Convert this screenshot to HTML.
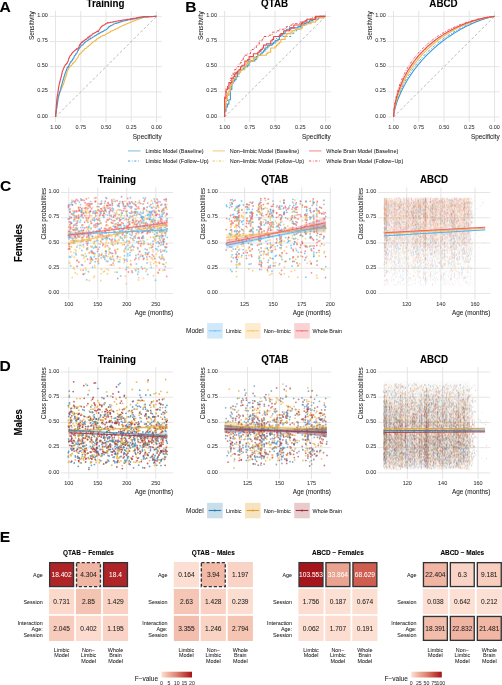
<!DOCTYPE html>
<html><head><meta charset="utf-8"><style>
html,body{margin:0;padding:0;background:#fff;width:502px;height:685px;overflow:hidden}
svg{display:block;font-family:"Liberation Sans", sans-serif}
</style></head><body>
<div style="will-change:transform;filter:blur(0.45px)"><svg width="502" height="685" viewBox="0 0 502 685">
<rect width="502" height="685" fill="#fff"/>
<text x="0" y="0" font-size="15.6" font-weight="bold" fill="#000" stroke="#000" stroke-width="0.08" transform="translate(-0.60 11.70) scale(1 0.96)">A</text>
<text x="0" y="0" font-size="15.6" font-weight="bold" fill="#000" stroke="#000" stroke-width="0.08" transform="translate(185.30 12.20) scale(1 0.96)">B</text>
<text x="0" y="0" font-size="15.6" font-weight="bold" fill="#000" stroke="#000" stroke-width="0.08" transform="translate(0.00 191.30) scale(1 0.96)">C</text>
<text x="0" y="0" font-size="15.6" font-weight="bold" fill="#000" stroke="#000" stroke-width="0.08" transform="translate(-0.50 371.30) scale(1 0.96)">D</text>
<text x="0" y="0" font-size="15.6" font-weight="bold" fill="#000" stroke="#000" stroke-width="0.08" transform="translate(-0.30 541.80) scale(1 0.96)">E</text>
<line x1="55.50" y1="11.0" x2="55.50" y2="122.0" stroke="#e2e2e2" stroke-width="0.9"/>
<line x1="49.4" y1="117.00" x2="161.60" y2="117.00" stroke="#e2e2e2" stroke-width="0.9"/>
<line x1="80.75" y1="11.0" x2="80.75" y2="122.0" stroke="#e2e2e2" stroke-width="0.9"/>
<line x1="49.4" y1="91.85" x2="161.60" y2="91.85" stroke="#e2e2e2" stroke-width="0.9"/>
<line x1="106.00" y1="11.0" x2="106.00" y2="122.0" stroke="#e2e2e2" stroke-width="0.9"/>
<line x1="49.4" y1="66.70" x2="161.60" y2="66.70" stroke="#e2e2e2" stroke-width="0.9"/>
<line x1="131.25" y1="11.0" x2="131.25" y2="122.0" stroke="#e2e2e2" stroke-width="0.9"/>
<line x1="49.4" y1="41.55" x2="161.60" y2="41.55" stroke="#e2e2e2" stroke-width="0.9"/>
<line x1="156.50" y1="11.0" x2="156.50" y2="122.0" stroke="#e2e2e2" stroke-width="0.9"/>
<line x1="49.4" y1="16.40" x2="161.60" y2="16.40" stroke="#e2e2e2" stroke-width="0.9"/>
<text x="47.90" y="117.60" font-size="5.5" text-anchor="end" fill="#333333" stroke="#333333" stroke-width="0.04">0.00</text>
<text x="47.90" y="92.45" font-size="5.5" text-anchor="end" fill="#333333" stroke="#333333" stroke-width="0.04">0.25</text>
<text x="47.90" y="67.30" font-size="5.5" text-anchor="end" fill="#333333" stroke="#333333" stroke-width="0.04">0.50</text>
<text x="47.90" y="42.15" font-size="5.5" text-anchor="end" fill="#333333" stroke="#333333" stroke-width="0.04">0.75</text>
<text x="47.90" y="17.00" font-size="5.5" text-anchor="end" fill="#333333" stroke="#333333" stroke-width="0.04">1.00</text>
<text x="55.50" y="128.80" font-size="5.5" text-anchor="middle" fill="#333333" stroke="#333333" stroke-width="0.04">1.00</text>
<text x="80.75" y="128.80" font-size="5.5" text-anchor="middle" fill="#333333" stroke="#333333" stroke-width="0.04">0.75</text>
<text x="106.00" y="128.80" font-size="5.5" text-anchor="middle" fill="#333333" stroke="#333333" stroke-width="0.04">0.50</text>
<text x="131.25" y="128.80" font-size="5.5" text-anchor="middle" fill="#333333" stroke="#333333" stroke-width="0.04">0.25</text>
<text x="156.50" y="128.80" font-size="5.5" text-anchor="middle" fill="#333333" stroke="#333333" stroke-width="0.04">0.00</text>
<text x="161.60" y="138.80" font-size="6.4" text-anchor="end" fill="#1a1a1a" stroke="#1a1a1a" stroke-width="0.04">Specificity</text>
<text x="33.90" y="11.30" font-size="6.4" text-anchor="end" fill="#1a1a1a" stroke="#1a1a1a" stroke-width="0.04" transform="rotate(-90 33.90 11.30)">Sensitivity</text>
<text x="0" y="0" font-size="9.8" font-weight="bold" text-anchor="middle" fill="#000" stroke="#000" stroke-width="0.08" transform="translate(105.50 7.30) scale(1 1.04)">Training</text>
<line x1="55.5" y1="117.0" x2="156.5" y2="16.4" stroke="#a6a6a6" stroke-width="0.8" stroke-dasharray="2.6 2.2"/>
<path d="M55.5,117.0 55.6,115.3 55.8,113.4 56.1,111.9 56.3,109.9 56.6,107.5 56.9,104.4 57.2,102.0 57.6,99.4 57.9,97.7 58.2,96.6 58.6,95.3 59.0,94.7 59.4,93.1 59.8,92.0 60.2,91.8 60.6,90.2 61.0,89.5 61.4,87.8 61.8,87.8 62.3,87.1 62.7,85.7 63.2,85.0 63.6,83.3 64.1,82.4 64.5,80.7 65.0,79.0 65.5,77.5 66.0,76.0 66.5,74.7 67.0,72.4 67.5,70.8 68.0,69.8 68.5,69.1 69.0,68.0 69.5,67.6 70.0,66.6 70.6,65.8 71.1,65.9 71.6,65.1 72.2,64.6 72.7,63.2 73.2,63.3 73.8,62.5 74.4,61.9 74.9,61.6 75.5,61.3 76.0,59.6 76.6,59.1 77.2,57.9 77.8,57.6 78.3,56.4 78.9,55.0 79.5,54.0 80.1,54.2 80.7,53.6 81.3,52.7 81.9,51.8 82.5,51.4 83.1,50.7 83.7,50.5 84.3,49.4 84.9,48.6 85.6,48.5 86.2,48.3 86.8,47.6 87.4,46.7 88.1,46.8 88.7,45.9 89.3,45.6 90.0,44.9 90.6,44.4 91.3,43.8 91.9,42.8 92.6,42.6 93.2,41.8 93.9,41.6 94.5,41.1 95.2,40.3 95.9,40.6 96.5,39.3 97.2,38.7 97.9,38.6 98.5,37.8 99.2,37.6 99.9,37.6 100.6,36.6 101.2,36.3 101.9,36.0 102.6,35.7 103.3,35.3 104.0,35.4 104.7,35.0 105.4,34.5 106.1,34.5 106.8,33.5 107.5,33.5 108.2,32.8 108.9,32.7 109.6,32.2 110.3,31.8 111.0,31.0 111.8,30.9 112.5,30.7 113.2,30.3 113.9,30.1 114.6,29.6 115.4,29.3 116.1,28.7 116.8,28.7 117.6,28.2 118.3,27.9 119.0,27.5 119.8,27.0 120.5,26.7 121.2,26.3 122.0,25.9 122.7,25.5 123.5,25.5 124.2,24.9 125.0,24.9 125.7,24.3 126.5,23.7 127.3,23.7 128.0,23.4 128.8,23.0 129.5,22.7 130.3,22.4 131.1,22.1 131.8,21.6 132.6,21.3 133.4,21.1 134.2,20.8 134.9,20.4 135.7,20.1 136.5,19.9 137.3,19.6 138.0,19.3 138.8,19.1 139.6,18.8 140.4,18.4 141.2,18.1 142.0,17.9 142.8,17.6 143.6,17.4 144.4,17.3 145.2,17.2 146.0,17.2 146.8,17.1 147.6,17.0 148.4,16.9 149.2,16.8 150.0,16.7 150.8,16.6 151.6,16.6 152.4,16.5 153.2,16.5 154.0,16.5 154.9,16.5 155.7,16.4 156.5,16.4" fill="none" stroke="#f2b84b" stroke-width="1.15" stroke-linejoin="round"/>
<path d="M55.5,117.0 55.6,115.1 55.8,114.8 56.1,112.7 56.3,111.0 56.6,108.7 56.9,107.5 57.2,104.8 57.6,102.6 57.9,100.3 58.2,98.4 58.6,96.8 59.0,95.1 59.4,93.8 59.8,91.7 60.2,90.6 60.6,90.2 61.0,87.1 61.4,86.2 61.8,84.8 62.3,82.9 62.7,81.3 63.2,79.8 63.6,78.5 64.1,76.5 64.5,75.8 65.0,73.4 65.5,73.0 66.0,71.2 66.5,69.7 67.0,68.4 67.5,67.7 68.0,66.6 68.5,67.1 69.0,65.1 69.5,64.2 70.0,63.4 70.6,61.8 71.1,61.9 71.6,60.8 72.2,60.6 72.7,59.0 73.2,58.9 73.8,58.0 74.4,55.9 74.9,55.6 75.5,54.9 76.0,53.8 76.6,53.4 77.2,52.2 77.8,50.7 78.3,50.5 78.9,48.7 79.5,48.3 80.1,47.1 80.7,46.9 81.3,45.4 81.9,45.1 82.5,44.9 83.1,44.7 83.7,43.8 84.3,43.0 84.9,42.6 85.6,41.8 86.2,41.2 86.8,41.1 87.4,40.8 88.1,40.0 88.7,39.9 89.3,39.2 90.0,39.1 90.6,38.1 91.3,38.2 91.9,38.0 92.6,37.3 93.2,37.0 93.9,36.7 94.5,36.1 95.2,35.5 95.9,35.8 96.5,34.9 97.2,34.5 97.9,34.1 98.5,33.4 99.2,33.6 99.9,32.8 100.6,32.6 101.2,32.2 101.9,31.9 102.6,31.6 103.3,31.3 104.0,30.8 104.7,30.1 105.4,30.0 106.1,29.7 106.8,29.1 107.5,28.6 108.2,27.7 108.9,26.7 109.6,26.7 110.3,25.9 111.0,25.6 111.8,25.3 112.5,24.9 113.2,24.5 113.9,24.0 114.6,23.8 115.4,23.5 116.1,23.4 116.8,23.1 117.6,22.9 118.3,22.6 119.0,22.5 119.8,22.1 120.5,21.8 121.2,21.8 122.0,21.5 122.7,21.3 123.5,21.1 124.2,20.8 125.0,20.7 125.7,20.6 126.5,20.4 127.3,20.1 128.0,19.9 128.8,19.7 129.5,19.7 130.3,19.5 131.1,19.6 131.8,19.1 132.6,19.2 133.4,18.9 134.2,18.9 134.9,18.7 135.7,18.5 136.5,18.4 137.3,18.3 138.0,18.0 138.8,17.9 139.6,17.8 140.4,17.7 141.2,17.6 142.0,17.4 142.8,17.3 143.6,17.1 144.4,17.0 145.2,17.0 146.0,17.0 146.8,16.9 147.6,16.8 148.4,16.8 149.2,16.8 150.0,16.7 150.8,16.7 151.6,16.6 152.4,16.6 153.2,16.5 154.0,16.5 154.9,16.5 155.7,16.4 156.5,16.4" fill="none" stroke="#3d9bd6" stroke-width="1.15" stroke-linejoin="round"/>
<path d="M55.5,117.0 55.6,115.2 55.8,112.2 56.1,110.1 56.3,106.0 56.6,102.9 56.9,99.1 57.2,96.3 57.6,95.0 57.9,93.1 58.2,90.4 58.6,87.7 59.0,85.5 59.4,83.3 59.8,82.3 60.2,80.5 60.6,78.9 61.0,77.5 61.4,75.9 61.8,74.1 62.3,71.8 62.7,70.4 63.2,69.4 63.6,68.1 64.1,67.5 64.5,66.3 65.0,65.5 65.5,64.6 66.0,64.5 66.5,63.6 67.0,63.4 67.5,62.0 68.0,61.4 68.5,59.9 69.0,57.8 69.5,57.7 70.0,55.9 70.6,55.3 71.1,54.9 71.6,53.9 72.2,53.2 72.7,52.3 73.2,52.0 73.8,51.4 74.4,50.9 74.9,50.6 75.5,49.9 76.0,49.7 76.6,48.7 77.2,49.2 77.8,48.5 78.3,48.0 78.9,47.3 79.5,44.9 80.1,45.1 80.7,43.3 81.3,42.9 81.9,41.8 82.5,42.4 83.1,41.1 83.7,41.1 84.3,40.5 84.9,40.1 85.6,39.3 86.2,39.4 86.8,38.6 87.4,38.1 88.1,37.2 88.7,37.9 89.3,36.4 90.0,36.1 90.6,36.0 91.3,35.2 91.9,34.9 92.6,33.9 93.2,33.7 93.9,33.3 94.5,32.9 95.2,32.6 95.9,32.2 96.5,32.0 97.2,31.0 97.9,31.6 98.5,31.4 99.2,29.7 99.9,28.8 100.6,27.7 101.2,26.9 101.9,26.3 102.6,25.8 103.3,25.2 104.0,25.1 104.7,24.7 105.4,23.9 106.1,23.7 106.8,23.6 107.5,22.6 108.2,22.8 108.9,22.8 109.6,22.7 110.3,22.3 111.0,22.3 111.8,22.2 112.5,22.2 113.2,21.9 113.9,21.5 114.6,21.7 115.4,21.7 116.1,21.2 116.8,21.2 117.6,21.0 118.3,20.8 119.0,20.9 119.8,20.7 120.5,20.6 121.2,20.6 122.0,20.2 122.7,20.0 123.5,20.0 124.2,19.9 125.0,19.8 125.7,19.7 126.5,19.6 127.3,19.4 128.0,19.3 128.8,19.2 129.5,19.2 130.3,18.9 131.1,18.8 131.8,18.8 132.6,18.7 133.4,18.4 134.2,18.2 134.9,18.2 135.7,18.1 136.5,17.9 137.3,17.7 138.0,17.6 138.8,17.4 139.6,17.3 140.4,17.1 141.2,17.0 142.0,16.8 142.8,16.7 143.6,16.6 144.4,16.6 145.2,16.5 146.0,16.5 146.8,16.6 147.6,16.5 148.4,16.5 149.2,16.5 150.0,16.5 150.8,16.5 151.6,16.5 152.4,16.5 153.2,16.5 154.0,16.4 154.9,16.4 155.7,16.4 156.5,16.4" fill="none" stroke="#e8484e" stroke-width="1.15" stroke-linejoin="round"/>
<line x1="224.60" y1="11.0" x2="224.60" y2="122.0" stroke="#e2e2e2" stroke-width="0.9"/>
<line x1="218.3" y1="117.00" x2="330.80" y2="117.00" stroke="#e2e2e2" stroke-width="0.9"/>
<line x1="249.82" y1="11.0" x2="249.82" y2="122.0" stroke="#e2e2e2" stroke-width="0.9"/>
<line x1="218.3" y1="91.85" x2="330.80" y2="91.85" stroke="#e2e2e2" stroke-width="0.9"/>
<line x1="275.05" y1="11.0" x2="275.05" y2="122.0" stroke="#e2e2e2" stroke-width="0.9"/>
<line x1="218.3" y1="66.70" x2="330.80" y2="66.70" stroke="#e2e2e2" stroke-width="0.9"/>
<line x1="300.27" y1="11.0" x2="300.27" y2="122.0" stroke="#e2e2e2" stroke-width="0.9"/>
<line x1="218.3" y1="41.55" x2="330.80" y2="41.55" stroke="#e2e2e2" stroke-width="0.9"/>
<line x1="325.50" y1="11.0" x2="325.50" y2="122.0" stroke="#e2e2e2" stroke-width="0.9"/>
<line x1="218.3" y1="16.40" x2="330.80" y2="16.40" stroke="#e2e2e2" stroke-width="0.9"/>
<text x="217.00" y="117.60" font-size="5.5" text-anchor="end" fill="#333333" stroke="#333333" stroke-width="0.04">0.00</text>
<text x="217.00" y="92.45" font-size="5.5" text-anchor="end" fill="#333333" stroke="#333333" stroke-width="0.04">0.25</text>
<text x="217.00" y="67.30" font-size="5.5" text-anchor="end" fill="#333333" stroke="#333333" stroke-width="0.04">0.50</text>
<text x="217.00" y="42.15" font-size="5.5" text-anchor="end" fill="#333333" stroke="#333333" stroke-width="0.04">0.75</text>
<text x="217.00" y="17.00" font-size="5.5" text-anchor="end" fill="#333333" stroke="#333333" stroke-width="0.04">1.00</text>
<text x="224.60" y="128.80" font-size="5.5" text-anchor="middle" fill="#333333" stroke="#333333" stroke-width="0.04">1.00</text>
<text x="249.82" y="128.80" font-size="5.5" text-anchor="middle" fill="#333333" stroke="#333333" stroke-width="0.04">0.75</text>
<text x="275.05" y="128.80" font-size="5.5" text-anchor="middle" fill="#333333" stroke="#333333" stroke-width="0.04">0.50</text>
<text x="300.27" y="128.80" font-size="5.5" text-anchor="middle" fill="#333333" stroke="#333333" stroke-width="0.04">0.25</text>
<text x="325.50" y="128.80" font-size="5.5" text-anchor="middle" fill="#333333" stroke="#333333" stroke-width="0.04">0.00</text>
<text x="330.80" y="138.80" font-size="6.4" text-anchor="end" fill="#1a1a1a" stroke="#1a1a1a" stroke-width="0.04">Specificity</text>
<text x="203.00" y="11.30" font-size="6.4" text-anchor="end" fill="#1a1a1a" stroke="#1a1a1a" stroke-width="0.04" transform="rotate(-90 203.00 11.30)">Sensitivity</text>
<text x="0" y="0" font-size="9.8" font-weight="bold" text-anchor="middle" fill="#000" stroke="#000" stroke-width="0.08" transform="translate(274.55 7.30) scale(1 1.04)">QTAB</text>
<line x1="224.6" y1="117.0" x2="325.5" y2="16.4" stroke="#a6a6a6" stroke-width="0.8" stroke-dasharray="2.6 2.2"/>
<path d="M224.6,117.0 224.6,109.8 226.0,109.8 226.0,101.2 227.5,101.2 227.5,95.4 228.9,95.4 228.9,91.1 230.4,91.1 230.4,88.3 231.8,88.3 231.8,83.9 233.2,83.9 233.2,81.1 234.7,81.1 234.7,76.8 236.1,76.8 236.1,76.8 237.6,76.8 237.6,76.8 239.0,76.8 239.0,72.4 240.5,72.4 240.5,69.6 241.9,69.6 241.9,66.7 243.3,66.7 243.3,66.7 244.8,66.7 244.8,66.7 246.2,66.7 246.2,65.3 247.7,65.3 247.7,61.0 249.1,61.0 249.1,61.0 250.5,61.0 250.5,61.0 252.0,61.0 252.0,61.0 253.4,61.0 253.4,58.1 254.9,58.1 254.9,56.6 256.3,56.6 256.3,56.6 257.8,56.6 257.8,53.8 259.2,53.8 259.2,52.3 260.6,52.3 260.6,50.9 262.1,50.9 262.1,49.5 263.5,49.5 263.5,49.5 265.0,49.5 265.0,49.5 266.4,49.5 266.4,46.6 267.8,46.6 267.8,46.6 269.3,46.6 269.3,45.1 270.7,45.1 270.7,45.1 272.2,45.1 272.2,43.7 273.6,43.7 273.6,43.7 275.1,43.7 275.1,40.8 276.5,40.8 276.5,36.5 277.9,36.5 277.9,36.5 279.4,36.5 279.4,36.5 280.8,36.5 280.8,36.5 282.3,36.5 282.3,36.5 283.7,36.5 283.7,36.5 285.1,36.5 285.1,36.5 286.6,36.5 286.6,36.5 288.0,36.5 288.0,36.5 289.5,36.5 289.5,36.5 290.9,36.5 290.9,33.6 292.3,33.6 292.3,33.6 293.8,33.6 293.8,30.8 295.2,30.8 295.2,30.8 296.7,30.8 296.7,29.3 298.1,29.3 298.1,29.3 299.6,29.3 299.6,27.9 301.0,27.9 301.0,27.9 302.4,27.9 302.4,25.0 303.9,25.0 303.9,25.0 305.3,25.0 305.3,23.6 306.8,23.6 306.8,23.6 308.2,23.6 308.2,22.1 309.6,22.1 309.6,22.1 311.1,22.1 311.1,20.7 312.5,20.7 312.5,20.7 314.0,20.7 314.0,17.8 315.4,17.8 315.4,17.8 316.9,17.8 316.9,17.8 318.3,17.8 318.3,17.8 319.7,17.8 319.7,17.8 321.2,17.8 321.2,17.8 322.6,17.8 322.6,16.4 324.1,16.4 324.1,16.4 325.5,16.4 325.5,16.4" fill="none" stroke="#3d9bd6" stroke-width="1.0" stroke-dasharray="2.5 1.5 0.8 1.5" stroke-linejoin="round"/>
<path d="M224.6,117.0 224.6,106.9 226.0,106.9 226.0,96.9 227.5,96.9 227.5,92.6 228.9,92.6 228.9,88.3 230.4,88.3 230.4,83.9 231.8,83.9 231.8,81.1 233.2,81.1 233.2,79.6 234.7,79.6 234.7,73.9 236.1,73.9 236.1,73.9 237.6,73.9 237.6,73.9 239.0,73.9 239.0,72.4 240.5,72.4 240.5,71.0 241.9,71.0 241.9,66.7 243.3,66.7 243.3,65.3 244.8,65.3 244.8,63.8 246.2,63.8 246.2,61.0 247.7,61.0 247.7,61.0 249.1,61.0 249.1,59.5 250.5,59.5 250.5,58.1 252.0,58.1 252.0,58.1 253.4,58.1 253.4,58.1 254.9,58.1 254.9,56.6 256.3,56.6 256.3,56.6 257.8,56.6 257.8,55.2 259.2,55.2 259.2,50.9 260.6,50.9 260.6,50.9 262.1,50.9 262.1,50.9 263.5,50.9 263.5,50.9 265.0,50.9 265.0,46.6 266.4,46.6 266.4,46.6 267.8,46.6 267.8,46.6 269.3,46.6 269.3,45.1 270.7,45.1 270.7,43.7 272.2,43.7 272.2,42.3 273.6,42.3 273.6,42.3 275.1,42.3 275.1,42.3 276.5,42.3 276.5,40.8 277.9,40.8 277.9,39.4 279.4,39.4 279.4,36.5 280.8,36.5 280.8,35.1 282.3,35.1 282.3,35.1 283.7,35.1 283.7,35.1 285.1,35.1 285.1,35.1 286.6,35.1 286.6,33.6 288.0,33.6 288.0,32.2 289.5,32.2 289.5,30.8 290.9,30.8 290.9,30.8 292.3,30.8 292.3,30.8 293.8,30.8 293.8,27.9 295.2,27.9 295.2,27.9 296.7,27.9 296.7,27.9 298.1,27.9 298.1,26.5 299.6,26.5 299.6,26.5 301.0,26.5 301.0,26.5 302.4,26.5 302.4,23.6 303.9,23.6 303.9,23.6 305.3,23.6 305.3,23.6 306.8,23.6 306.8,20.7 308.2,20.7 308.2,20.7 309.6,20.7 309.6,20.7 311.1,20.7 311.1,17.8 312.5,17.8 312.5,17.8 314.0,17.8 314.0,17.8 315.4,17.8 315.4,17.8 316.9,17.8 316.9,17.8 318.3,17.8 318.3,16.4 319.7,16.4 319.7,16.4 321.2,16.4 321.2,16.4 322.6,16.4 322.6,16.4 324.1,16.4 324.1,16.4 325.5,16.4 325.5,16.4" fill="none" stroke="#f2b84b" stroke-width="1.0" stroke-dasharray="2.5 1.5 0.8 1.5" stroke-linejoin="round"/>
<path d="M224.6,117.0 224.6,96.9 226.0,96.9 226.0,88.3 227.5,88.3 227.5,85.4 228.9,85.4 228.9,83.9 230.4,83.9 230.4,78.2 231.8,78.2 231.8,75.3 233.2,75.3 233.2,72.4 234.7,72.4 234.7,69.6 236.1,69.6 236.1,68.1 237.6,68.1 237.6,66.7 239.0,66.7 239.0,63.8 240.5,63.8 240.5,62.4 241.9,62.4 241.9,59.5 243.3,59.5 243.3,56.6 244.8,56.6 244.8,55.2 246.2,55.2 246.2,55.2 247.7,55.2 247.7,53.8 249.1,53.8 249.1,53.8 250.5,53.8 250.5,50.9 252.0,50.9 252.0,49.5 253.4,49.5 253.4,48.0 254.9,48.0 254.9,48.0 256.3,48.0 256.3,45.1 257.8,45.1 257.8,45.1 259.2,45.1 259.2,40.8 260.6,40.8 260.6,40.8 262.1,40.8 262.1,39.4 263.5,39.4 263.5,36.5 265.0,36.5 265.0,36.5 266.4,36.5 266.4,36.5 267.8,36.5 267.8,36.5 269.3,36.5 269.3,35.1 270.7,35.1 270.7,35.1 272.2,35.1 272.2,32.2 273.6,32.2 273.6,32.2 275.1,32.2 275.1,32.2 276.5,32.2 276.5,30.8 277.9,30.8 277.9,30.8 279.4,30.8 279.4,29.3 280.8,29.3 280.8,29.3 282.3,29.3 282.3,29.3 283.7,29.3 283.7,29.3 285.1,29.3 285.1,27.9 286.6,27.9 286.6,26.5 288.0,26.5 288.0,26.5 289.5,26.5 289.5,26.5 290.9,26.5 290.9,25.0 292.3,25.0 292.3,23.6 293.8,23.6 293.8,23.6 295.2,23.6 295.2,23.6 296.7,23.6 296.7,23.6 298.1,23.6 298.1,23.6 299.6,23.6 299.6,22.1 301.0,22.1 301.0,22.1 302.4,22.1 302.4,22.1 303.9,22.1 303.9,20.7 305.3,20.7 305.3,20.7 306.8,20.7 306.8,19.3 308.2,19.3 308.2,19.3 309.6,19.3 309.6,19.3 311.1,19.3 311.1,17.8 312.5,17.8 312.5,17.8 314.0,17.8 314.0,17.8 315.4,17.8 315.4,17.8 316.9,17.8 316.9,17.8 318.3,17.8 318.3,17.8 319.7,17.8 319.7,16.4 321.2,16.4 321.2,16.4 322.6,16.4 322.6,16.4 324.1,16.4 324.1,16.4 325.5,16.4 325.5,16.4" fill="none" stroke="#e8484e" stroke-width="1.0" stroke-dasharray="2.5 1.5 0.8 1.5" stroke-linejoin="round"/>
<path d="M224.6,117.0 224.6,111.3 226.0,111.3 226.0,106.9 227.5,106.9 227.5,104.1 228.9,104.1 228.9,99.8 230.4,99.8 230.4,89.7 231.8,89.7 231.8,82.5 233.2,82.5 233.2,81.1 234.7,81.1 234.7,79.6 236.1,79.6 236.1,76.8 237.6,76.8 237.6,72.4 239.0,72.4 239.0,72.4 240.5,72.4 240.5,69.6 241.9,69.6 241.9,69.6 243.3,69.6 243.3,68.1 244.8,68.1 244.8,66.7 246.2,66.7 246.2,66.7 247.7,66.7 247.7,65.3 249.1,65.3 249.1,61.0 250.5,61.0 250.5,61.0 252.0,61.0 252.0,61.0 253.4,61.0 253.4,61.0 254.9,61.0 254.9,59.5 256.3,59.5 256.3,56.6 257.8,56.6 257.8,55.2 259.2,55.2 259.2,55.2 260.6,55.2 260.6,53.8 262.1,53.8 262.1,52.3 263.5,52.3 263.5,50.9 265.0,50.9 265.0,48.0 266.4,48.0 266.4,48.0 267.8,48.0 267.8,45.1 269.3,45.1 269.3,45.1 270.7,45.1 270.7,45.1 272.2,45.1 272.2,43.7 273.6,43.7 273.6,42.3 275.1,42.3 275.1,40.8 276.5,40.8 276.5,40.8 277.9,40.8 277.9,39.4 279.4,39.4 279.4,36.5 280.8,36.5 280.8,35.1 282.3,35.1 282.3,33.6 283.7,33.6 283.7,33.6 285.1,33.6 285.1,30.8 286.6,30.8 286.6,29.3 288.0,29.3 288.0,29.3 289.5,29.3 289.5,27.9 290.9,27.9 290.9,27.9 292.3,27.9 292.3,27.9 293.8,27.9 293.8,27.9 295.2,27.9 295.2,27.9 296.7,27.9 296.7,27.9 298.1,27.9 298.1,26.5 299.6,26.5 299.6,26.5 301.0,26.5 301.0,25.0 302.4,25.0 302.4,25.0 303.9,25.0 303.9,23.6 305.3,23.6 305.3,23.6 306.8,23.6 306.8,22.1 308.2,22.1 308.2,22.1 309.6,22.1 309.6,20.7 311.1,20.7 311.1,20.7 312.5,20.7 312.5,19.3 314.0,19.3 314.0,19.3 315.4,19.3 315.4,19.3 316.9,19.3 316.9,19.3 318.3,19.3 318.3,17.8 319.7,17.8 319.7,16.4 321.2,16.4 321.2,16.4 322.6,16.4 322.6,16.4 324.1,16.4 324.1,16.4 325.5,16.4 325.5,16.4" fill="none" stroke="#3d9bd6" stroke-width="1.1" stroke-linejoin="round"/>
<path d="M224.6,117.0 224.6,108.4 226.0,108.4 226.0,99.8 227.5,99.8 227.5,95.4 228.9,95.4 228.9,91.1 230.4,91.1 230.4,85.4 231.8,85.4 231.8,82.5 233.2,82.5 233.2,78.2 234.7,78.2 234.7,78.2 236.1,78.2 236.1,72.4 237.6,72.4 237.6,72.4 239.0,72.4 239.0,72.4 240.5,72.4 240.5,69.6 241.9,69.6 241.9,69.6 243.3,69.6 243.3,69.6 244.8,69.6 244.8,66.7 246.2,66.7 246.2,63.8 247.7,63.8 247.7,62.4 249.1,62.4 249.1,62.4 250.5,62.4 250.5,61.0 252.0,61.0 252.0,61.0 253.4,61.0 253.4,58.1 254.9,58.1 254.9,58.1 256.3,58.1 256.3,58.1 257.8,58.1 257.8,55.2 259.2,55.2 259.2,55.2 260.6,55.2 260.6,55.2 262.1,55.2 262.1,55.2 263.5,55.2 263.5,55.2 265.0,55.2 265.0,55.2 266.4,55.2 266.4,53.8 267.8,53.8 267.8,52.3 269.3,52.3 269.3,52.3 270.7,52.3 270.7,48.0 272.2,48.0 272.2,48.0 273.6,48.0 273.6,48.0 275.1,48.0 275.1,46.6 276.5,46.6 276.5,45.1 277.9,45.1 277.9,43.7 279.4,43.7 279.4,42.3 280.8,42.3 280.8,39.4 282.3,39.4 282.3,39.4 283.7,39.4 283.7,39.4 285.1,39.4 285.1,36.5 286.6,36.5 286.6,33.6 288.0,33.6 288.0,33.6 289.5,33.6 289.5,33.6 290.9,33.6 290.9,32.2 292.3,32.2 292.3,30.8 293.8,30.8 293.8,30.8 295.2,30.8 295.2,29.3 296.7,29.3 296.7,29.3 298.1,29.3 298.1,29.3 299.6,29.3 299.6,29.3 301.0,29.3 301.0,27.9 302.4,27.9 302.4,25.0 303.9,25.0 303.9,25.0 305.3,25.0 305.3,25.0 306.8,25.0 306.8,23.6 308.2,23.6 308.2,23.6 309.6,23.6 309.6,23.6 311.1,23.6 311.1,22.1 312.5,22.1 312.5,22.1 314.0,22.1 314.0,22.1 315.4,22.1 315.4,20.7 316.9,20.7 316.9,17.8 318.3,17.8 318.3,17.8 319.7,17.8 319.7,17.8 321.2,17.8 321.2,17.8 322.6,17.8 322.6,17.8 324.1,17.8 324.1,16.4 325.5,16.4 325.5,16.4" fill="none" stroke="#f2b84b" stroke-width="1.1" stroke-linejoin="round"/>
<path d="M224.6,117.0 224.6,98.3 226.0,98.3 226.0,89.7 227.5,89.7 227.5,88.3 228.9,88.3 228.9,82.5 230.4,82.5 230.4,82.5 231.8,82.5 231.8,78.2 233.2,78.2 233.2,76.8 234.7,76.8 234.7,73.9 236.1,73.9 236.1,72.4 237.6,72.4 237.6,71.0 239.0,71.0 239.0,69.6 240.5,69.6 240.5,66.7 241.9,66.7 241.9,65.3 243.3,65.3 243.3,65.3 244.8,65.3 244.8,61.0 246.2,61.0 246.2,61.0 247.7,61.0 247.7,59.5 249.1,59.5 249.1,56.6 250.5,56.6 250.5,56.6 252.0,56.6 252.0,56.6 253.4,56.6 253.4,53.8 254.9,53.8 254.9,53.8 256.3,53.8 256.3,53.8 257.8,53.8 257.8,52.3 259.2,52.3 259.2,50.9 260.6,50.9 260.6,49.5 262.1,49.5 262.1,48.0 263.5,48.0 263.5,45.1 265.0,45.1 265.0,45.1 266.4,45.1 266.4,43.7 267.8,43.7 267.8,43.7 269.3,43.7 269.3,43.7 270.7,43.7 270.7,40.8 272.2,40.8 272.2,39.4 273.6,39.4 273.6,36.5 275.1,36.5 275.1,36.5 276.5,36.5 276.5,36.5 277.9,36.5 277.9,36.5 279.4,36.5 279.4,35.1 280.8,35.1 280.8,33.6 282.3,33.6 282.3,33.6 283.7,33.6 283.7,30.8 285.1,30.8 285.1,30.8 286.6,30.8 286.6,30.8 288.0,30.8 288.0,30.8 289.5,30.8 289.5,29.3 290.9,29.3 290.9,27.9 292.3,27.9 292.3,27.9 293.8,27.9 293.8,25.0 295.2,25.0 295.2,25.0 296.7,25.0 296.7,25.0 298.1,25.0 298.1,25.0 299.6,25.0 299.6,25.0 301.0,25.0 301.0,23.6 302.4,23.6 302.4,22.1 303.9,22.1 303.9,22.1 305.3,22.1 305.3,20.7 306.8,20.7 306.8,19.3 308.2,19.3 308.2,19.3 309.6,19.3 309.6,19.3 311.1,19.3 311.1,19.3 312.5,19.3 312.5,19.3 314.0,19.3 314.0,19.3 315.4,19.3 315.4,16.4 316.9,16.4 316.9,16.4 318.3,16.4 318.3,16.4 319.7,16.4 319.7,16.4 321.2,16.4 321.2,16.4 322.6,16.4 322.6,16.4 324.1,16.4 324.1,16.4 325.5,16.4 325.5,16.4" fill="none" stroke="#e8484e" stroke-width="1.1" stroke-linejoin="round"/>
<line x1="393.50" y1="11.0" x2="393.50" y2="122.0" stroke="#e2e2e2" stroke-width="0.9"/>
<line x1="387.3" y1="117.00" x2="499.70" y2="117.00" stroke="#e2e2e2" stroke-width="0.9"/>
<line x1="418.75" y1="11.0" x2="418.75" y2="122.0" stroke="#e2e2e2" stroke-width="0.9"/>
<line x1="387.3" y1="91.85" x2="499.70" y2="91.85" stroke="#e2e2e2" stroke-width="0.9"/>
<line x1="444.00" y1="11.0" x2="444.00" y2="122.0" stroke="#e2e2e2" stroke-width="0.9"/>
<line x1="387.3" y1="66.70" x2="499.70" y2="66.70" stroke="#e2e2e2" stroke-width="0.9"/>
<line x1="469.25" y1="11.0" x2="469.25" y2="122.0" stroke="#e2e2e2" stroke-width="0.9"/>
<line x1="387.3" y1="41.55" x2="499.70" y2="41.55" stroke="#e2e2e2" stroke-width="0.9"/>
<line x1="494.50" y1="11.0" x2="494.50" y2="122.0" stroke="#e2e2e2" stroke-width="0.9"/>
<line x1="387.3" y1="16.40" x2="499.70" y2="16.40" stroke="#e2e2e2" stroke-width="0.9"/>
<text x="385.90" y="117.60" font-size="5.5" text-anchor="end" fill="#333333" stroke="#333333" stroke-width="0.04">0.00</text>
<text x="385.90" y="92.45" font-size="5.5" text-anchor="end" fill="#333333" stroke="#333333" stroke-width="0.04">0.25</text>
<text x="385.90" y="67.30" font-size="5.5" text-anchor="end" fill="#333333" stroke="#333333" stroke-width="0.04">0.50</text>
<text x="385.90" y="42.15" font-size="5.5" text-anchor="end" fill="#333333" stroke="#333333" stroke-width="0.04">0.75</text>
<text x="385.90" y="17.00" font-size="5.5" text-anchor="end" fill="#333333" stroke="#333333" stroke-width="0.04">1.00</text>
<text x="393.50" y="128.80" font-size="5.5" text-anchor="middle" fill="#333333" stroke="#333333" stroke-width="0.04">1.00</text>
<text x="418.75" y="128.80" font-size="5.5" text-anchor="middle" fill="#333333" stroke="#333333" stroke-width="0.04">0.75</text>
<text x="444.00" y="128.80" font-size="5.5" text-anchor="middle" fill="#333333" stroke="#333333" stroke-width="0.04">0.50</text>
<text x="469.25" y="128.80" font-size="5.5" text-anchor="middle" fill="#333333" stroke="#333333" stroke-width="0.04">0.25</text>
<text x="494.50" y="128.80" font-size="5.5" text-anchor="middle" fill="#333333" stroke="#333333" stroke-width="0.04">0.00</text>
<text x="499.70" y="138.80" font-size="6.4" text-anchor="end" fill="#1a1a1a" stroke="#1a1a1a" stroke-width="0.04">Specificity</text>
<text x="371.90" y="11.30" font-size="6.4" text-anchor="end" fill="#1a1a1a" stroke="#1a1a1a" stroke-width="0.04" transform="rotate(-90 371.90 11.30)">Sensitivity</text>
<text x="0" y="0" font-size="9.8" font-weight="bold" text-anchor="middle" fill="#000" stroke="#000" stroke-width="0.08" transform="translate(443.50 7.30) scale(1 1.04)">ABCD</text>
<line x1="393.5" y1="117.0" x2="494.5" y2="16.4" stroke="#a6a6a6" stroke-width="0.8" stroke-dasharray="2.6 2.2"/>
<path d="M393.5,117.0 394.0,112.4 394.5,109.6 395.0,107.3 395.5,105.3 396.0,103.4 396.5,101.7 397.0,100.0 397.5,98.5 398.0,97.0 398.6,95.7 399.1,94.3 399.6,93.1 400.1,91.8 400.6,90.6 401.1,89.5 401.6,88.4 402.1,87.3 402.6,86.2 403.1,85.2 403.6,84.2 404.1,83.2 404.6,82.2 405.1,81.3 405.6,80.4 406.1,79.5 406.6,78.6 407.1,77.8 407.6,76.9 408.1,76.1 408.6,75.3 409.2,74.5 409.7,73.7 410.2,72.9 410.7,72.1 411.2,71.4 411.7,70.7 412.2,69.9 412.7,69.2 413.2,68.5 413.7,67.8 414.2,67.1 414.7,66.5 415.2,65.8 415.7,65.1 416.2,64.5 416.7,63.9 417.2,63.2 417.7,62.6 418.2,62.0 418.8,61.4 419.3,60.8 419.8,60.2 420.3,59.6 420.8,59.1 421.3,58.5 421.8,57.9 422.3,57.4 422.8,56.8 423.3,56.3 423.8,55.7 424.3,55.2 424.8,54.7 425.3,54.2 425.8,53.7 426.3,53.1 426.8,52.6 427.3,52.1 427.8,51.7 428.3,51.2 428.9,50.7 429.4,50.2 429.9,49.7 430.4,49.3 430.9,48.8 431.4,48.4 431.9,47.9 432.4,47.5 432.9,47.0 433.4,46.6 433.9,46.1 434.4,45.7 434.9,45.3 435.4,44.9 435.9,44.5 436.4,44.0 436.9,43.6 437.4,43.2 437.9,42.8 438.4,42.4 438.9,42.0 439.5,41.6 440.0,41.3 440.5,40.9 441.0,40.5 441.5,40.1 442.0,39.8 442.5,39.4 443.0,39.0 443.5,38.7 444.0,38.3 444.5,37.9 445.0,37.6 445.5,37.2 446.0,36.9 446.5,36.6 447.0,36.2 447.5,35.9 448.0,35.6 448.5,35.2 449.1,34.9 449.6,34.6 450.1,34.3 450.6,33.9 451.1,33.6 451.6,33.3 452.1,33.0 452.6,32.7 453.1,32.4 453.6,32.1 454.1,31.8 454.6,31.5 455.1,31.2 455.6,30.9 456.1,30.6 456.6,30.4 457.1,30.1 457.6,29.8 458.1,29.5 458.6,29.3 459.1,29.0 459.7,28.7 460.2,28.5 460.7,28.2 461.2,27.9 461.7,27.7 462.2,27.4 462.7,27.2 463.2,26.9 463.7,26.7 464.2,26.4 464.7,26.2 465.2,25.9 465.7,25.7 466.2,25.5 466.7,25.2 467.2,25.0 467.7,24.8 468.2,24.6 468.7,24.3 469.2,24.1 469.8,23.9 470.3,23.7 470.8,23.5 471.3,23.3 471.8,23.1 472.3,22.8 472.8,22.6 473.3,22.4 473.8,22.2 474.3,22.0 474.8,21.9 475.3,21.7 475.8,21.5 476.3,21.3 476.8,21.1 477.3,20.9 477.8,20.7 478.3,20.6 478.8,20.4 479.4,20.2 479.9,20.0 480.4,19.9 480.9,19.7 481.4,19.6 481.9,19.4 482.4,19.2 482.9,19.1 483.4,18.9 483.9,18.8 484.4,18.6 484.9,18.5 485.4,18.3 485.9,18.2 486.4,18.1 486.9,17.9 487.4,17.8 487.9,17.7 488.4,17.6 488.9,17.4 489.4,17.3 490.0,17.2 490.5,17.1 491.0,17.0 491.5,16.9 492.0,16.8 492.5,16.7 493.0,16.6 493.5,16.5 494.0,16.5 494.5,16.4" fill="none" stroke="#3d9bd6" stroke-width="1.0" stroke-dasharray="2.5 1.5 0.8 1.5" stroke-linejoin="round"/>
<path d="M393.5,117.0 394.0,111.2 394.5,107.8 395.0,105.1 395.5,102.7 396.0,100.6 396.5,98.6 397.0,96.8 397.5,95.1 398.0,93.5 398.6,92.0 399.1,90.5 399.6,89.2 400.1,87.8 400.6,86.6 401.1,85.3 401.6,84.1 402.1,83.0 402.6,81.9 403.1,80.8 403.6,79.7 404.1,78.7 404.6,77.7 405.1,76.7 405.6,75.8 406.1,74.8 406.6,73.9 407.1,73.1 407.6,72.2 408.1,71.3 408.6,70.5 409.2,69.7 409.7,68.9 410.2,68.1 410.7,67.3 411.2,66.6 411.7,65.8 412.2,65.1 412.7,64.4 413.2,63.7 413.7,63.0 414.2,62.3 414.7,61.7 415.2,61.0 415.7,60.4 416.2,59.7 416.7,59.1 417.2,58.5 417.7,57.9 418.2,57.3 418.8,56.7 419.3,56.1 419.8,55.5 420.3,54.9 420.8,54.4 421.3,53.8 421.8,53.3 422.3,52.8 422.8,52.2 423.3,51.7 423.8,51.2 424.3,50.7 424.8,50.2 425.3,49.7 425.8,49.2 426.3,48.7 426.8,48.2 427.3,47.8 427.8,47.3 428.3,46.8 428.9,46.4 429.4,45.9 429.9,45.5 430.4,45.0 430.9,44.6 431.4,44.2 431.9,43.8 432.4,43.3 432.9,42.9 433.4,42.5 433.9,42.1 434.4,41.7 434.9,41.3 435.4,40.9 435.9,40.5 436.4,40.2 436.9,39.8 437.4,39.4 437.9,39.0 438.4,38.7 438.9,38.3 439.5,38.0 440.0,37.6 440.5,37.3 441.0,36.9 441.5,36.6 442.0,36.2 442.5,35.9 443.0,35.6 443.5,35.2 444.0,34.9 444.5,34.6 445.0,34.3 445.5,34.0 446.0,33.7 446.5,33.3 447.0,33.0 447.5,32.7 448.0,32.4 448.5,32.2 449.1,31.9 449.6,31.6 450.1,31.3 450.6,31.0 451.1,30.7 451.6,30.5 452.1,30.2 452.6,29.9 453.1,29.6 453.6,29.4 454.1,29.1 454.6,28.9 455.1,28.6 455.6,28.4 456.1,28.1 456.6,27.9 457.1,27.6 457.6,27.4 458.1,27.1 458.6,26.9 459.1,26.7 459.7,26.4 460.2,26.2 460.7,26.0 461.2,25.8 461.7,25.5 462.2,25.3 462.7,25.1 463.2,24.9 463.7,24.7 464.2,24.5 464.7,24.3 465.2,24.1 465.7,23.9 466.2,23.7 466.7,23.5 467.2,23.3 467.7,23.1 468.2,22.9 468.7,22.7 469.2,22.5 469.8,22.3 470.3,22.2 470.8,22.0 471.3,21.8 471.8,21.6 472.3,21.5 472.8,21.3 473.3,21.1 473.8,21.0 474.3,20.8 474.8,20.6 475.3,20.5 475.8,20.3 476.3,20.2 476.8,20.0 477.3,19.9 477.8,19.7 478.3,19.6 478.8,19.5 479.4,19.3 479.9,19.2 480.4,19.1 480.9,18.9 481.4,18.8 481.9,18.7 482.4,18.5 482.9,18.4 483.4,18.3 483.9,18.2 484.4,18.1 484.9,18.0 485.4,17.8 485.9,17.7 486.4,17.6 486.9,17.5 487.4,17.4 487.9,17.3 488.4,17.2 488.9,17.2 489.4,17.1 490.0,17.0 490.5,16.9 491.0,16.8 491.5,16.7 492.0,16.7 492.5,16.6 493.0,16.5 493.5,16.5 494.0,16.4 494.5,16.4" fill="none" stroke="#f2b84b" stroke-width="1.0" stroke-dasharray="2.5 1.5 0.8 1.5" stroke-linejoin="round"/>
<path d="M393.5,117.0 394.0,109.6 394.5,105.6 395.0,102.5 395.5,99.8 396.0,97.4 396.5,95.3 397.0,93.3 397.5,91.5 398.0,89.8 398.6,88.1 399.1,86.6 399.6,85.1 400.1,83.7 400.6,82.4 401.1,81.1 401.6,79.9 402.1,78.7 402.6,77.5 403.1,76.4 403.6,75.4 404.1,74.3 404.6,73.3 405.1,72.3 405.6,71.4 406.1,70.4 406.6,69.5 407.1,68.6 407.6,67.8 408.1,66.9 408.6,66.1 409.2,65.3 409.7,64.5 410.2,63.7 410.7,63.0 411.2,62.2 411.7,61.5 412.2,60.8 412.7,60.1 413.2,59.4 413.7,58.7 414.2,58.0 414.7,57.4 415.2,56.8 415.7,56.1 416.2,55.5 416.7,54.9 417.2,54.3 417.7,53.7 418.2,53.2 418.8,52.6 419.3,52.0 419.8,51.5 420.3,50.9 420.8,50.4 421.3,49.9 421.8,49.4 422.3,48.9 422.8,48.4 423.3,47.9 423.8,47.4 424.3,46.9 424.8,46.4 425.3,46.0 425.8,45.5 426.3,45.0 426.8,44.6 427.3,44.2 427.8,43.7 428.3,43.3 428.9,42.9 429.4,42.4 429.9,42.0 430.4,41.6 430.9,41.2 431.4,40.8 431.9,40.4 432.4,40.0 432.9,39.7 433.4,39.3 433.9,38.9 434.4,38.5 434.9,38.2 435.4,37.8 435.9,37.5 436.4,37.1 436.9,36.8 437.4,36.4 437.9,36.1 438.4,35.8 438.9,35.4 439.5,35.1 440.0,34.8 440.5,34.5 441.0,34.2 441.5,33.9 442.0,33.5 442.5,33.2 443.0,32.9 443.5,32.7 444.0,32.4 444.5,32.1 445.0,31.8 445.5,31.5 446.0,31.2 446.5,31.0 447.0,30.7 447.5,30.4 448.0,30.1 448.5,29.9 449.1,29.6 449.6,29.4 450.1,29.1 450.6,28.9 451.1,28.6 451.6,28.4 452.1,28.1 452.6,27.9 453.1,27.7 453.6,27.4 454.1,27.2 454.6,27.0 455.1,26.7 455.6,26.5 456.1,26.3 456.6,26.1 457.1,25.9 457.6,25.7 458.1,25.5 458.6,25.3 459.1,25.0 459.7,24.8 460.2,24.6 460.7,24.5 461.2,24.3 461.7,24.1 462.2,23.9 462.7,23.7 463.2,23.5 463.7,23.3 464.2,23.1 464.7,23.0 465.2,22.8 465.7,22.6 466.2,22.4 466.7,22.3 467.2,22.1 467.7,22.0 468.2,21.8 468.7,21.6 469.2,21.5 469.8,21.3 470.3,21.2 470.8,21.0 471.3,20.9 471.8,20.7 472.3,20.6 472.8,20.4 473.3,20.3 473.8,20.2 474.3,20.0 474.8,19.9 475.3,19.8 475.8,19.6 476.3,19.5 476.8,19.4 477.3,19.2 477.8,19.1 478.3,19.0 478.8,18.9 479.4,18.8 479.9,18.7 480.4,18.5 480.9,18.4 481.4,18.3 481.9,18.2 482.4,18.1 482.9,18.0 483.4,17.9 483.9,17.8 484.4,17.7 484.9,17.6 485.4,17.6 485.9,17.5 486.4,17.4 486.9,17.3 487.4,17.2 487.9,17.1 488.4,17.1 488.9,17.0 489.4,16.9 490.0,16.9 490.5,16.8 491.0,16.7 491.5,16.7 492.0,16.6 492.5,16.6 493.0,16.5 493.5,16.5 494.0,16.4 494.5,16.4" fill="none" stroke="#e8484e" stroke-width="1.0" stroke-dasharray="2.5 1.5 0.8 1.5" stroke-linejoin="round"/>
<path d="M393.5,117.0 394.0,113.2 394.5,110.7 395.0,108.6 395.5,106.8 396.0,105.1 396.5,103.4 397.0,101.9 397.5,100.5 398.0,99.1 398.6,97.8 399.1,96.6 399.6,95.3 400.1,94.2 400.6,93.0 401.1,91.9 401.6,90.8 402.1,89.8 402.6,88.8 403.1,87.8 403.6,86.8 404.1,85.8 404.6,84.9 405.1,84.0 405.6,83.1 406.1,82.2 406.6,81.3 407.1,80.5 407.6,79.6 408.1,78.8 408.6,78.0 409.2,77.2 409.7,76.4 410.2,75.7 410.7,74.9 411.2,74.1 411.7,73.4 412.2,72.7 412.7,72.0 413.2,71.3 413.7,70.6 414.2,69.9 414.7,69.2 415.2,68.5 415.7,67.9 416.2,67.2 416.7,66.6 417.2,65.9 417.7,65.3 418.2,64.7 418.8,64.1 419.3,63.5 419.8,62.9 420.3,62.3 420.8,61.7 421.3,61.1 421.8,60.5 422.3,59.9 422.8,59.4 423.3,58.8 423.8,58.3 424.3,57.7 424.8,57.2 425.3,56.7 425.8,56.1 426.3,55.6 426.8,55.1 427.3,54.6 427.8,54.1 428.3,53.6 428.9,53.1 429.4,52.6 429.9,52.1 430.4,51.6 430.9,51.1 431.4,50.7 431.9,50.2 432.4,49.7 432.9,49.3 433.4,48.8 433.9,48.4 434.4,47.9 434.9,47.5 435.4,47.0 435.9,46.6 436.4,46.2 436.9,45.7 437.4,45.3 437.9,44.9 438.4,44.5 438.9,44.1 439.5,43.6 440.0,43.2 440.5,42.8 441.0,42.4 441.5,42.0 442.0,41.7 442.5,41.3 443.0,40.9 443.5,40.5 444.0,40.1 444.5,39.7 445.0,39.4 445.5,39.0 446.0,38.6 446.5,38.3 447.0,37.9 447.5,37.6 448.0,37.2 448.5,36.9 449.1,36.5 449.6,36.2 450.1,35.8 450.6,35.5 451.1,35.2 451.6,34.8 452.1,34.5 452.6,34.2 453.1,33.8 453.6,33.5 454.1,33.2 454.6,32.9 455.1,32.6 455.6,32.3 456.1,32.0 456.6,31.7 457.1,31.4 457.6,31.1 458.1,30.8 458.6,30.5 459.1,30.2 459.7,29.9 460.2,29.6 460.7,29.3 461.2,29.1 461.7,28.8 462.2,28.5 462.7,28.2 463.2,28.0 463.7,27.7 464.2,27.4 464.7,27.2 465.2,26.9 465.7,26.6 466.2,26.4 466.7,26.1 467.2,25.9 467.7,25.6 468.2,25.4 468.7,25.2 469.2,24.9 469.8,24.7 470.3,24.4 470.8,24.2 471.3,24.0 471.8,23.8 472.3,23.5 472.8,23.3 473.3,23.1 473.8,22.9 474.3,22.7 474.8,22.4 475.3,22.2 475.8,22.0 476.3,21.8 476.8,21.6 477.3,21.4 477.8,21.2 478.3,21.0 478.8,20.8 479.4,20.6 479.9,20.5 480.4,20.3 480.9,20.1 481.4,19.9 481.9,19.7 482.4,19.6 482.9,19.4 483.4,19.2 483.9,19.1 484.4,18.9 484.9,18.7 485.4,18.6 485.9,18.4 486.4,18.3 486.9,18.1 487.4,18.0 487.9,17.8 488.4,17.7 488.9,17.6 489.4,17.4 490.0,17.3 490.5,17.2 491.0,17.1 491.5,17.0 492.0,16.8 492.5,16.7 493.0,16.6 493.5,16.5 494.0,16.5 494.5,16.4" fill="none" stroke="#3d9bd6" stroke-width="1.1" stroke-linejoin="round"/>
<path d="M393.5,117.0 394.0,111.9 394.5,108.8 395.0,106.3 395.5,104.0 396.0,102.0 396.5,100.2 397.0,98.4 397.5,96.8 398.0,95.2 398.6,93.8 399.1,92.4 399.6,91.0 400.1,89.7 400.6,88.4 401.1,87.2 401.6,86.1 402.1,84.9 402.6,83.8 403.1,82.8 403.6,81.7 404.1,80.7 404.6,79.7 405.1,78.7 405.6,77.8 406.1,76.9 406.6,76.0 407.1,75.1 407.6,74.2 408.1,73.3 408.6,72.5 409.2,71.7 409.7,70.9 410.2,70.1 410.7,69.3 411.2,68.6 411.7,67.8 412.2,67.1 412.7,66.4 413.2,65.6 413.7,64.9 414.2,64.3 414.7,63.6 415.2,62.9 415.7,62.3 416.2,61.6 416.7,61.0 417.2,60.3 417.7,59.7 418.2,59.1 418.8,58.5 419.3,57.9 419.8,57.3 420.3,56.7 420.8,56.2 421.3,55.6 421.8,55.0 422.3,54.5 422.8,54.0 423.3,53.4 423.8,52.9 424.3,52.4 424.8,51.8 425.3,51.3 425.8,50.8 426.3,50.3 426.8,49.8 427.3,49.4 427.8,48.9 428.3,48.4 428.9,47.9 429.4,47.5 429.9,47.0 430.4,46.6 430.9,46.1 431.4,45.7 431.9,45.2 432.4,44.8 432.9,44.4 433.4,43.9 433.9,43.5 434.4,43.1 434.9,42.7 435.4,42.3 435.9,41.9 436.4,41.5 436.9,41.1 437.4,40.7 437.9,40.3 438.4,39.9 438.9,39.6 439.5,39.2 440.0,38.8 440.5,38.5 441.0,38.1 441.5,37.7 442.0,37.4 442.5,37.0 443.0,36.7 443.5,36.3 444.0,36.0 444.5,35.7 445.0,35.3 445.5,35.0 446.0,34.7 446.5,34.4 447.0,34.0 447.5,33.7 448.0,33.4 448.5,33.1 449.1,32.8 449.6,32.5 450.1,32.2 450.6,31.9 451.1,31.6 451.6,31.3 452.1,31.0 452.6,30.8 453.1,30.5 453.6,30.2 454.1,29.9 454.6,29.7 455.1,29.4 455.6,29.1 456.1,28.9 456.6,28.6 457.1,28.3 457.6,28.1 458.1,27.8 458.6,27.6 459.1,27.3 459.7,27.1 460.2,26.8 460.7,26.6 461.2,26.4 461.7,26.1 462.2,25.9 462.7,25.7 463.2,25.5 463.7,25.2 464.2,25.0 464.7,24.8 465.2,24.6 465.7,24.4 466.2,24.1 466.7,23.9 467.2,23.7 467.7,23.5 468.2,23.3 468.7,23.1 469.2,22.9 469.8,22.7 470.3,22.6 470.8,22.4 471.3,22.2 471.8,22.0 472.3,21.8 472.8,21.6 473.3,21.5 473.8,21.3 474.3,21.1 474.8,20.9 475.3,20.8 475.8,20.6 476.3,20.4 476.8,20.3 477.3,20.1 477.8,20.0 478.3,19.8 478.8,19.7 479.4,19.5 479.9,19.4 480.4,19.2 480.9,19.1 481.4,19.0 481.9,18.8 482.4,18.7 482.9,18.6 483.4,18.4 483.9,18.3 484.4,18.2 484.9,18.1 485.4,17.9 485.9,17.8 486.4,17.7 486.9,17.6 487.4,17.5 487.9,17.4 488.4,17.3 488.9,17.2 489.4,17.1 490.0,17.0 490.5,16.9 491.0,16.8 491.5,16.8 492.0,16.7 492.5,16.6 493.0,16.6 493.5,16.5 494.0,16.4 494.5,16.4" fill="none" stroke="#f2b84b" stroke-width="1.1" stroke-linejoin="round"/>
<path d="M393.5,117.0 394.0,110.8 394.5,107.3 395.0,104.5 395.5,102.0 396.0,99.8 396.5,97.8 397.0,96.0 397.5,94.2 398.0,92.6 398.6,91.0 399.1,89.6 399.6,88.1 400.1,86.8 400.6,85.5 401.1,84.2 401.6,83.0 402.1,81.9 402.6,80.7 403.1,79.6 403.6,78.6 404.1,77.5 404.6,76.5 405.1,75.6 405.6,74.6 406.1,73.7 406.6,72.8 407.1,71.9 407.6,71.0 408.1,70.1 408.6,69.3 409.2,68.5 409.7,67.7 410.2,66.9 410.7,66.1 411.2,65.4 411.7,64.6 412.2,63.9 412.7,63.2 413.2,62.5 413.7,61.8 414.2,61.1 414.7,60.5 415.2,59.8 415.7,59.2 416.2,58.5 416.7,57.9 417.2,57.3 417.7,56.7 418.2,56.1 418.8,55.5 419.3,54.9 419.8,54.4 420.3,53.8 420.8,53.2 421.3,52.7 421.8,52.2 422.3,51.6 422.8,51.1 423.3,50.6 423.8,50.1 424.3,49.6 424.8,49.1 425.3,48.6 425.8,48.1 426.3,47.6 426.8,47.2 427.3,46.7 427.8,46.2 428.3,45.8 428.9,45.3 429.4,44.9 429.9,44.5 430.4,44.0 430.9,43.6 431.4,43.2 431.9,42.8 432.4,42.4 432.9,42.0 433.4,41.6 433.9,41.2 434.4,40.8 434.9,40.4 435.4,40.0 435.9,39.6 436.4,39.2 436.9,38.9 437.4,38.5 437.9,38.2 438.4,37.8 438.9,37.4 439.5,37.1 440.0,36.7 440.5,36.4 441.0,36.1 441.5,35.7 442.0,35.4 442.5,35.1 443.0,34.8 443.5,34.4 444.0,34.1 444.5,33.8 445.0,33.5 445.5,33.2 446.0,32.9 446.5,32.6 447.0,32.3 447.5,32.0 448.0,31.7 448.5,31.4 449.1,31.2 449.6,30.9 450.1,30.6 450.6,30.3 451.1,30.1 451.6,29.8 452.1,29.5 452.6,29.3 453.1,29.0 453.6,28.8 454.1,28.5 454.6,28.3 455.1,28.0 455.6,27.8 456.1,27.5 456.6,27.3 457.1,27.1 457.6,26.8 458.1,26.6 458.6,26.4 459.1,26.1 459.7,25.9 460.2,25.7 460.7,25.5 461.2,25.3 461.7,25.1 462.2,24.8 462.7,24.6 463.2,24.4 463.7,24.2 464.2,24.0 464.7,23.8 465.2,23.6 465.7,23.4 466.2,23.3 466.7,23.1 467.2,22.9 467.7,22.7 468.2,22.5 468.7,22.3 469.2,22.2 469.8,22.0 470.3,21.8 470.8,21.7 471.3,21.5 471.8,21.3 472.3,21.2 472.8,21.0 473.3,20.8 473.8,20.7 474.3,20.5 474.8,20.4 475.3,20.2 475.8,20.1 476.3,19.9 476.8,19.8 477.3,19.7 477.8,19.5 478.3,19.4 478.8,19.3 479.4,19.1 479.9,19.0 480.4,18.9 480.9,18.7 481.4,18.6 481.9,18.5 482.4,18.4 482.9,18.3 483.4,18.2 483.9,18.1 484.4,17.9 484.9,17.8 485.4,17.7 485.9,17.6 486.4,17.5 486.9,17.4 487.4,17.4 487.9,17.3 488.4,17.2 488.9,17.1 489.4,17.0 490.0,16.9 490.5,16.9 491.0,16.8 491.5,16.7 492.0,16.6 492.5,16.6 493.0,16.5 493.5,16.5 494.0,16.4 494.5,16.4" fill="none" stroke="#e8484e" stroke-width="1.1" stroke-linejoin="round"/>
<line x1="128" y1="150.9" x2="140.5" y2="150.9" stroke="#9ccbe8" stroke-width="1.3"/>
<text x="145.50" y="152.90" font-size="5.45" fill="#1a1a1a" stroke="#1a1a1a" stroke-width="0.04">Limbic Model (Baseline)</text>
<line x1="128" y1="161" x2="140.5" y2="161" stroke="#3d9bd6" stroke-width="0.9" stroke-dasharray="2.2 1.6 0.8 1.6"/>
<text x="145.50" y="163.00" font-size="5.45" fill="#1a1a1a" stroke="#1a1a1a" stroke-width="0.04">Limbic Model (Follow−Up)</text>
<line x1="212.6" y1="150.9" x2="225.1" y2="150.9" stroke="#f7d59a" stroke-width="1.3"/>
<text x="229.80" y="152.90" font-size="5.45" fill="#1a1a1a" stroke="#1a1a1a" stroke-width="0.04">Non−limbic Model (Baseline)</text>
<line x1="212.6" y1="161" x2="225.1" y2="161" stroke="#f2b84b" stroke-width="0.9" stroke-dasharray="2.2 1.6 0.8 1.6"/>
<text x="229.80" y="163.00" font-size="5.45" fill="#1a1a1a" stroke="#1a1a1a" stroke-width="0.04">Non−limbic Model (Follow−Up)</text>
<line x1="309" y1="150.9" x2="321.5" y2="150.9" stroke="#f3a3a5" stroke-width="1.3"/>
<text x="326.30" y="152.90" font-size="5.45" fill="#1a1a1a" stroke="#1a1a1a" stroke-width="0.04">Whole Brain Model (Baseline)</text>
<line x1="309" y1="161" x2="321.5" y2="161" stroke="#e8484e" stroke-width="0.9" stroke-dasharray="2.2 1.6 0.8 1.6"/>
<text x="326.30" y="163.00" font-size="5.45" fill="#1a1a1a" stroke="#1a1a1a" stroke-width="0.04">Whole Brain Model (Follow−Up)</text>
<line x1="68.80" y1="187.4" x2="68.80" y2="299.5" stroke="#e2e2e2" stroke-width="0.9"/>
<line x1="97.80" y1="187.4" x2="97.80" y2="299.5" stroke="#e2e2e2" stroke-width="0.9"/>
<line x1="126.80" y1="187.4" x2="126.80" y2="299.5" stroke="#e2e2e2" stroke-width="0.9"/>
<line x1="155.80" y1="187.4" x2="155.80" y2="299.5" stroke="#e2e2e2" stroke-width="0.9"/>
<line x1="60.6" y1="293.50" x2="173.10" y2="293.50" stroke="#e2e2e2" stroke-width="0.9"/>
<line x1="60.6" y1="268.25" x2="173.10" y2="268.25" stroke="#e2e2e2" stroke-width="0.9"/>
<line x1="60.6" y1="243.00" x2="173.10" y2="243.00" stroke="#e2e2e2" stroke-width="0.9"/>
<line x1="60.6" y1="217.75" x2="173.10" y2="217.75" stroke="#e2e2e2" stroke-width="0.9"/>
<line x1="60.6" y1="192.50" x2="173.10" y2="192.50" stroke="#e2e2e2" stroke-width="0.9"/>
<text x="59.30" y="294.10" font-size="5.5" text-anchor="end" fill="#333333" stroke="#333333" stroke-width="0.04">0.00</text>
<text x="59.30" y="268.85" font-size="5.5" text-anchor="end" fill="#333333" stroke="#333333" stroke-width="0.04">0.25</text>
<text x="59.30" y="243.60" font-size="5.5" text-anchor="end" fill="#333333" stroke="#333333" stroke-width="0.04">0.50</text>
<text x="59.30" y="218.35" font-size="5.5" text-anchor="end" fill="#333333" stroke="#333333" stroke-width="0.04">0.75</text>
<text x="59.30" y="193.10" font-size="5.5" text-anchor="end" fill="#333333" stroke="#333333" stroke-width="0.04">1.00</text>
<text x="68.80" y="305.50" font-size="5.5" text-anchor="middle" fill="#333333" stroke="#333333" stroke-width="0.04">100</text>
<text x="97.80" y="305.50" font-size="5.5" text-anchor="middle" fill="#333333" stroke="#333333" stroke-width="0.04">150</text>
<text x="126.80" y="305.50" font-size="5.5" text-anchor="middle" fill="#333333" stroke="#333333" stroke-width="0.04">200</text>
<text x="155.80" y="305.50" font-size="5.5" text-anchor="middle" fill="#333333" stroke="#333333" stroke-width="0.04">250</text>
<text x="173.10" y="314.60" font-size="6.4" text-anchor="end" fill="#1a1a1a" stroke="#1a1a1a" stroke-width="0.04">Age (months)</text>
<text x="46.00" y="187.70" font-size="6.4" text-anchor="end" fill="#1a1a1a" stroke="#1a1a1a" stroke-width="0.04" transform="rotate(-90 46.00 187.70)">Class probabilities</text>
<text x="0" y="0" font-size="9.8" font-weight="bold" text-anchor="middle" fill="#000" stroke="#000" stroke-width="0.08" transform="translate(116.85 183.00) scale(1 1.04)">Training</text>
<path d="M154.7 238.9h0M104.0 211.6h0M141.6 216.1h0M144.1 241.5h0M131.9 207.0h0M145.3 249.0h0M81.9 250.5h0M82.9 233.4h0M144.0 207.6h0M109.3 238.6h0M118.6 205.9h0M117.6 205.8h0M103.4 255.9h0M72.2 204.8h0M150.2 228.7h0M158.3 246.4h0M93.0 213.2h0M132.7 220.5h0M165.2 227.6h0M115.6 214.1h0M88.8 235.1h0M150.6 227.3h0M152.2 211.4h0M91.0 257.6h0M104.0 216.1h0M154.2 199.0h0M103.8 256.7h0M159.5 238.4h0M143.5 212.1h0M166.6 251.7h0M141.3 217.3h0M154.5 234.2h0M115.1 201.2h0M161.3 244.6h0M150.4 219.2h0M162.1 215.9h0M142.6 217.0h0M70.5 257.3h0M122.8 202.0h0M74.8 217.5h0M109.3 211.4h0M149.9 225.9h0M115.4 253.4h0M83.1 255.3h0M136.5 215.1h0M98.9 206.8h0M104.4 238.1h0M88.8 231.0h0M74.3 212.4h0M75.7 229.9h0M103.9 213.3h0M160.9 205.3h0M147.7 274.5h0M107.5 215.1h0M99.8 220.4h0M120.8 225.8h0M70.1 233.6h0M107.9 229.7h0M146.2 222.5h0M68.5 237.3h0M122.3 238.1h0M135.9 255.5h0M88.0 222.3h0M131.8 228.8h0M71.5 238.1h0M96.9 240.7h0M116.8 219.3h0M127.8 255.9h0M106.3 237.9h0M100.2 230.0h0M125.9 246.9h0M130.6 216.8h0M162.0 231.8h0M151.3 207.5h0M100.8 223.0h0M149.7 214.7h0M162.9 236.4h0M138.9 232.6h0M138.8 222.2h0M150.9 213.0h0M161.9 229.8h0M117.1 272.3h0M76.0 216.6h0M91.1 228.3h0M108.0 261.5h0M165.3 266.8h0M129.8 206.9h0M81.6 264.8h0M154.4 227.2h0M155.5 280.3h0M68.9 227.1h0M142.5 256.5h0M97.7 240.5h0M137.9 223.3h0M162.1 214.3h0M147.1 253.1h0M99.3 218.8h0M106.0 253.2h0M149.6 206.3h0M101.5 201.2h0M76.4 228.0h0M90.5 211.3h0M119.8 209.9h0M142.8 226.4h0M146.9 257.0h0M70.6 221.9h0M135.0 209.3h0M119.6 261.7h0M81.3 215.0h0M146.5 210.3h0M143.1 226.5h0M143.8 223.0h0M138.5 271.9h0M113.3 259.3h0M99.5 247.2h0M162.9 209.8h0M112.2 243.5h0M127.9 227.5h0M138.9 257.9h0M130.3 247.6h0M164.2 251.0h0M149.2 218.6h0M151.6 221.3h0M80.5 204.6h0M121.8 212.6h0M77.4 222.1h0M162.9 258.4h0M127.6 233.0h0M86.3 256.3h0M73.6 243.3h0M83.3 212.6h0M119.2 218.2h0M117.1 218.8h0M69.5 218.2h0M95.2 261.7h0" stroke="#4fb5f0" stroke-width="1.9" stroke-linecap="round" stroke-opacity="0.62" fill="none"/>
<path d="M159.2 262.1h0M153.7 220.4h0M89.9 232.3h0M140.2 244.1h0M150.5 262.5h0M158.0 272.2h0M141.6 213.3h0M157.8 235.9h0M86.6 230.7h0M153.4 206.7h0M155.1 236.8h0M166.1 231.7h0M164.2 241.4h0M80.4 232.8h0M108.8 247.5h0M165.2 224.9h0M82.4 239.1h0M71.1 213.8h0M73.8 267.4h0M78.7 214.8h0M105.6 245.0h0M159.4 256.7h0M128.0 244.1h0M150.9 222.0h0M162.8 250.7h0M83.7 240.0h0M130.6 260.8h0M161.7 233.5h0M147.0 211.8h0M108.3 228.6h0M91.2 247.0h0M118.2 224.4h0M148.3 211.5h0M133.2 215.5h0M162.6 257.1h0M118.2 209.7h0M165.5 216.3h0M129.5 243.4h0M110.9 259.0h0M98.2 258.4h0M91.6 252.9h0M125.8 242.3h0M87.9 228.7h0M155.4 236.6h0M105.5 251.6h0M114.5 224.5h0M110.5 227.6h0M145.8 254.3h0M154.2 207.4h0M118.8 225.4h0M90.6 223.3h0M96.8 238.9h0M110.2 265.1h0M112.4 208.3h0M153.8 263.6h0M122.4 234.3h0M78.0 240.4h0M119.8 233.1h0M132.1 234.5h0M147.3 259.7h0M122.6 239.6h0M156.7 266.0h0M153.9 237.7h0M107.9 225.5h0M102.0 253.5h0M136.5 268.4h0M134.4 213.2h0M86.7 213.2h0M159.2 236.1h0M94.3 198.3h0M164.1 231.3h0M87.4 241.2h0M87.8 220.3h0M124.5 259.3h0M101.8 238.3h0M81.3 212.5h0M141.1 254.8h0M140.1 251.5h0M128.7 267.3h0M155.6 239.9h0M115.5 243.1h0M81.7 245.7h0M106.6 240.9h0M125.0 201.3h0M159.3 238.3h0M129.4 247.6h0M132.6 238.9h0M118.8 239.4h0M114.1 260.3h0M160.4 232.4h0M79.6 237.1h0M107.7 220.4h0M152.8 232.2h0M79.1 209.2h0" stroke="#f7bb4c" stroke-width="1.9" stroke-linecap="round" stroke-opacity="0.62" fill="none"/>
<path d="M156.1 208.1h0M87.4 249.0h0M88.1 205.7h0M132.3 232.8h0M78.3 216.3h0M83.0 232.1h0M106.2 255.7h0M110.2 205.0h0M140.7 245.9h0M147.1 218.7h0M104.9 231.1h0M147.1 233.5h0M107.1 205.6h0M141.5 222.3h0M77.9 236.8h0M148.0 231.2h0M112.0 228.9h0M135.2 213.1h0M132.3 272.5h0M142.5 232.3h0M90.7 221.3h0M106.4 261.1h0M115.7 251.8h0M164.6 269.9h0M89.1 203.7h0M79.3 210.2h0M74.9 237.2h0M90.2 207.0h0M78.4 216.0h0M144.4 208.8h0M85.6 208.2h0M95.1 201.7h0M84.9 215.8h0M134.8 259.6h0M70.1 208.9h0M153.5 210.4h0M112.4 239.3h0M86.2 217.9h0M86.5 220.3h0M150.8 204.6h0M113.1 263.1h0M123.7 229.0h0M89.6 215.7h0M84.6 222.3h0M166.7 276.4h0M163.2 244.6h0M154.7 201.2h0M98.1 261.2h0M147.8 253.9h0M108.4 236.2h0M130.7 264.2h0M149.2 219.6h0M112.3 205.4h0M78.7 231.5h0M82.4 224.9h0M78.5 231.7h0M84.7 227.9h0M68.8 206.3h0M91.7 258.9h0M87.6 248.0h0M81.5 230.4h0M85.5 211.3h0M160.8 218.4h0M122.7 203.5h0M147.1 207.3h0M123.1 223.4h0M131.5 250.5h0M88.5 234.6h0M99.3 231.3h0M77.6 220.9h0M103.3 236.6h0M79.0 236.7h0M99.4 230.4h0M154.9 220.5h0M121.8 222.6h0M82.4 199.9h0M100.7 241.1h0M88.2 218.4h0M73.0 238.2h0M108.1 208.3h0M82.5 234.0h0M88.5 203.6h0M141.7 217.3h0M136.5 206.4h0M120.9 219.8h0M78.9 262.2h0M157.5 214.1h0M110.4 209.8h0M161.9 211.9h0M134.0 203.9h0M145.8 225.6h0M98.2 249.2h0M81.9 225.3h0M69.9 237.4h0M88.7 217.8h0M86.7 227.3h0M119.1 214.8h0M97.6 251.4h0M109.5 218.9h0M121.7 210.6h0M101.1 234.3h0M69.3 222.0h0M102.4 239.3h0M111.2 216.2h0M156.3 202.8h0M93.8 253.3h0M74.9 202.2h0M75.6 211.4h0M91.5 208.7h0M112.0 201.8h0M105.8 251.0h0M76.2 210.9h0M162.6 235.8h0M141.7 237.9h0M108.0 202.8h0M158.2 241.6h0M86.0 207.7h0M125.6 206.3h0M72.0 213.9h0M153.1 244.2h0M111.0 215.5h0M121.6 196.7h0M131.5 201.9h0" stroke="#ee6068" stroke-width="1.9" stroke-linecap="round" stroke-opacity="0.62" fill="none"/>
<path d="M93.5 248.0h0M167.2 218.8h0M69.9 216.5h0M160.5 216.4h0M153.4 219.0h0M128.6 206.3h0M151.2 212.8h0M134.0 240.6h0M81.9 216.3h0M127.0 241.3h0M160.0 236.2h0M94.1 218.2h0M134.9 212.0h0M130.0 252.6h0M128.1 222.4h0M69.3 209.9h0M157.5 224.6h0M163.4 244.0h0M92.7 219.7h0M69.6 218.7h0M140.4 214.7h0M105.5 211.1h0M121.2 230.8h0M106.3 211.6h0M75.2 225.1h0M165.8 199.1h0M95.4 213.5h0M114.8 227.5h0M103.8 217.4h0M100.6 213.0h0M120.8 238.1h0M159.3 211.3h0M83.1 274.3h0M128.2 249.4h0M113.4 209.9h0M126.3 211.6h0M141.6 233.0h0M124.5 255.7h0M103.4 257.2h0M106.0 238.7h0M114.0 230.9h0M80.6 241.6h0M117.3 256.5h0M73.0 214.8h0M120.0 201.8h0M86.7 279.8h0M109.6 215.5h0M137.9 248.7h0M88.2 236.8h0M139.3 202.3h0M161.7 230.6h0M132.6 203.0h0M138.1 269.4h0M137.9 247.9h0M75.1 236.4h0M163.8 242.1h0M157.3 206.3h0M122.5 218.6h0M137.6 238.1h0M137.7 212.3h0M91.4 250.8h0M164.8 233.1h0M148.9 252.5h0M85.7 212.6h0M113.5 209.2h0M86.8 248.8h0M132.5 245.2h0M70.2 211.8h0M92.2 246.6h0M73.9 240.6h0M94.2 220.8h0M89.0 238.1h0M148.2 228.0h0M121.4 215.5h0M109.9 258.2h0M156.6 242.8h0M124.7 237.7h0M136.3 211.8h0M71.5 223.2h0M82.0 211.6h0M105.1 209.3h0M99.4 229.3h0M88.1 240.9h0M136.1 224.7h0M80.9 198.9h0M105.8 197.6h0M79.5 231.2h0M88.6 226.8h0M129.9 255.2h0M140.5 212.1h0M151.9 219.9h0M166.8 231.0h0M113.3 226.2h0M80.7 227.6h0M160.9 230.3h0M130.4 197.8h0M90.7 201.6h0M101.1 204.1h0M137.7 213.9h0M122.4 230.5h0M129.5 213.0h0M109.9 239.4h0M149.7 227.0h0M82.9 237.6h0M104.8 257.4h0M156.7 232.6h0M159.5 228.2h0M101.1 258.1h0M147.7 215.3h0M115.7 223.8h0M143.8 216.9h0M135.8 270.5h0M124.6 227.7h0M134.1 212.0h0M136.4 263.9h0M90.2 211.8h0M111.1 259.6h0M165.4 247.5h0M81.7 210.9h0" stroke="#4fb5f0" stroke-width="1.9" stroke-linecap="round" stroke-opacity="0.62" fill="none"/>
<path d="M85.4 253.8h0M125.4 276.3h0M144.5 223.3h0M136.4 213.4h0M86.8 215.7h0M101.5 269.2h0M101.3 273.6h0M104.6 271.1h0M90.7 240.7h0M82.9 225.1h0M141.4 243.8h0M157.9 230.1h0M94.5 276.1h0M162.6 264.0h0M166.2 262.8h0M135.3 220.3h0M162.9 270.3h0M69.5 226.3h0M119.9 230.5h0M146.3 231.1h0M114.2 234.1h0M119.4 203.4h0M117.6 241.2h0M110.3 228.3h0M95.2 245.2h0M85.6 268.2h0M105.9 243.0h0M86.5 208.8h0M71.9 200.2h0M123.3 203.8h0M72.5 211.0h0M138.8 259.5h0M68.8 227.2h0M129.3 218.8h0M119.9 259.8h0M89.6 214.1h0M157.7 227.1h0M138.8 237.3h0M117.8 224.8h0M92.2 219.7h0M91.8 252.7h0M151.7 221.0h0M75.2 272.8h0M92.7 218.9h0M75.1 218.7h0M82.8 230.9h0M90.8 229.2h0M80.7 270.0h0M145.8 271.5h0M158.4 207.5h0M97.7 213.1h0M75.5 220.5h0M77.7 230.0h0M87.4 233.1h0M95.2 241.2h0M152.4 214.9h0M69.8 263.4h0M84.9 273.4h0M126.4 235.5h0M75.5 227.8h0M124.0 251.0h0M105.1 255.4h0M71.5 217.3h0M71.6 231.9h0M147.8 230.8h0M86.1 209.2h0M115.3 231.5h0M143.6 223.3h0M111.5 244.1h0M117.7 217.5h0M111.6 236.4h0M114.5 212.8h0M146.9 219.0h0M150.7 264.8h0M144.6 218.9h0M115.2 236.8h0M113.9 265.1h0M133.3 225.8h0M97.4 210.1h0M93.7 243.2h0M74.0 243.3h0M115.0 272.1h0M121.7 213.4h0M77.2 274.1h0M89.3 225.3h0M83.9 214.0h0M121.3 243.0h0M141.9 243.3h0M76.0 250.9h0M134.9 269.4h0M133.2 249.7h0M150.6 237.3h0M90.8 260.5h0M78.7 218.7h0M136.2 215.8h0M72.2 234.1h0M127.9 227.1h0M76.9 260.8h0M116.0 253.5h0M78.8 233.1h0M137.4 247.8h0M166.7 204.5h0M87.8 239.8h0M73.7 252.6h0M130.5 246.7h0M144.0 220.5h0M160.4 245.4h0M151.9 257.8h0M149.5 232.6h0M160.3 228.3h0M95.0 217.3h0M106.0 225.8h0" stroke="#f7bb4c" stroke-width="1.9" stroke-linecap="round" stroke-opacity="0.62" fill="none"/>
<path d="M139.3 238.4h0M82.5 265.3h0M131.1 208.4h0M131.0 206.7h0M84.1 200.4h0M165.2 205.2h0M88.0 208.3h0M135.4 235.9h0M159.3 214.7h0M74.2 211.1h0M136.1 233.7h0M111.9 241.0h0M109.8 208.0h0M158.3 272.9h0M106.1 229.0h0M138.4 207.2h0M152.3 254.7h0M112.8 256.1h0M108.4 203.5h0M79.5 210.4h0M143.5 231.2h0M74.2 215.5h0M72.5 205.0h0M93.3 211.8h0M119.7 224.8h0M140.6 220.7h0M116.4 228.2h0M105.5 231.3h0M149.6 256.6h0M159.5 263.3h0M86.2 241.5h0M166.2 207.3h0M127.7 204.7h0M158.7 210.5h0M132.2 222.7h0M161.6 235.2h0M94.0 225.2h0M163.7 210.5h0M139.2 228.4h0M103.3 215.5h0M161.0 218.9h0M157.8 205.2h0M96.6 247.2h0M142.5 268.7h0M83.8 213.1h0M83.9 235.9h0M161.1 227.4h0M161.3 242.1h0M95.5 224.1h0M142.1 218.7h0M73.7 240.6h0M164.6 222.6h0M95.9 197.7h0M151.4 247.6h0M105.3 201.2h0M148.2 231.6h0M128.5 272.0h0M118.4 229.3h0M135.9 221.7h0M166.7 244.0h0M139.4 251.5h0M84.8 208.1h0M123.0 233.2h0M100.0 234.9h0M117.2 227.0h0M129.9 203.3h0M129.3 202.0h0M159.5 270.0h0M163.6 208.8h0M165.4 232.8h0M160.0 201.9h0M145.8 223.7h0M99.5 215.8h0M166.3 199.3h0M98.3 224.4h0M124.2 244.6h0M138.8 208.5h0M113.0 245.1h0M73.1 229.8h0M112.3 203.6h0M111.9 200.0h0M133.8 247.0h0M95.9 258.7h0M135.5 201.9h0M115.4 227.1h0M166.2 200.9h0M127.3 215.9h0M133.1 230.9h0M100.0 204.1h0M76.4 216.0h0M91.6 223.2h0M100.9 208.6h0M152.3 214.4h0M156.8 235.7h0M111.3 240.3h0M68.4 207.6h0M119.8 220.9h0M164.2 199.8h0M69.3 243.9h0M83.7 274.3h0M68.6 231.2h0M68.7 235.5h0M136.2 209.1h0M132.3 216.5h0M109.5 235.3h0M89.3 211.9h0M112.9 223.1h0M74.1 219.3h0M137.4 232.0h0M163.2 241.5h0M152.2 221.4h0M156.3 214.7h0M159.3 243.3h0M101.4 203.2h0M106.1 233.0h0M73.8 201.2h0M161.9 219.8h0M109.8 205.1h0M105.7 210.1h0M153.4 226.2h0M70.0 224.7h0M160.4 220.1h0" stroke="#ee6068" stroke-width="1.9" stroke-linecap="round" stroke-opacity="0.62" fill="none"/>
<path d="M164.8 250.2h0M143.4 203.9h0M146.7 269.6h0M163.4 213.7h0M163.5 239.6h0M132.9 238.8h0M150.8 225.1h0M138.0 227.6h0M83.4 244.8h0M149.8 218.3h0M165.6 224.9h0M152.7 203.4h0M69.0 238.9h0M140.6 226.9h0M107.2 237.3h0M69.5 256.7h0M70.0 237.2h0M130.5 237.6h0M94.8 253.4h0M113.3 217.1h0M137.9 231.3h0M94.2 256.7h0M104.3 232.7h0M106.3 251.5h0M76.9 247.1h0M134.4 215.1h0M144.5 226.2h0M80.6 220.2h0M75.6 223.9h0M133.0 219.9h0M75.3 237.4h0M137.6 229.5h0M93.4 231.3h0M131.5 235.4h0M119.2 228.1h0M76.2 241.0h0M159.6 217.2h0M150.5 216.5h0M87.9 243.2h0M127.5 226.9h0M91.2 251.7h0M78.4 217.6h0M70.5 204.6h0M148.5 213.9h0M81.3 230.6h0M150.3 244.1h0M162.8 224.7h0M155.8 248.7h0M104.6 203.2h0M163.5 230.4h0M151.7 211.8h0M127.3 261.1h0M154.0 228.0h0M141.9 223.0h0M73.8 220.9h0M92.6 267.2h0M165.3 235.7h0M134.0 236.8h0M149.7 219.5h0M145.5 197.9h0M73.6 242.0h0M82.7 227.5h0M73.6 213.0h0M162.1 210.7h0M152.9 229.8h0M90.7 204.0h0M137.7 274.3h0M158.5 222.1h0M157.1 249.4h0M167.2 237.4h0M143.5 220.9h0M81.6 209.8h0M125.5 248.9h0M161.9 222.3h0M127.7 253.7h0M118.7 225.8h0M123.3 240.4h0M95.1 247.3h0M100.2 244.1h0M152.9 222.0h0M140.3 256.3h0M94.2 241.6h0M137.6 226.8h0M160.4 249.9h0M142.9 220.8h0M160.2 240.2h0M143.0 213.2h0M127.9 245.6h0M111.5 219.5h0M109.5 212.0h0M72.3 201.7h0M165.4 247.2h0M149.4 231.1h0M149.8 211.5h0M153.0 241.3h0M120.7 276.0h0M147.1 262.9h0M129.0 228.7h0" stroke="#4fb5f0" stroke-width="1.9" stroke-linecap="round" stroke-opacity="0.62" fill="none"/>
<path d="M99.3 255.3h0M117.1 213.9h0M140.0 229.5h0M132.5 201.9h0M151.3 200.4h0M145.7 225.0h0M118.0 235.8h0M154.0 216.0h0M105.6 214.4h0M116.0 241.0h0M130.5 229.1h0M69.0 245.6h0M89.3 206.6h0M147.3 239.6h0M86.1 270.0h0M118.6 242.6h0M166.4 229.0h0M101.0 211.7h0M89.0 213.1h0M106.8 207.7h0M106.0 235.4h0M124.4 215.8h0M91.6 215.7h0M139.3 200.4h0M128.4 241.0h0M164.9 246.4h0M100.8 280.5h0M71.3 242.9h0M89.3 237.2h0M113.7 201.4h0M154.9 231.6h0M134.4 223.9h0M99.1 233.7h0M106.5 235.6h0M104.3 205.9h0M100.9 223.8h0M86.9 235.7h0M127.4 203.4h0M153.2 251.8h0M85.1 261.4h0M108.6 233.9h0M122.5 244.7h0M106.8 268.9h0M158.6 207.1h0M90.3 240.0h0M145.4 254.5h0M88.8 205.5h0M105.3 236.5h0M83.7 246.9h0M84.6 256.7h0M151.8 201.1h0M94.6 265.4h0M158.6 235.6h0M138.5 277.6h0M86.3 218.3h0M92.6 207.6h0M124.2 262.5h0M101.2 242.1h0M152.3 245.7h0M88.5 197.9h0M111.3 222.2h0M116.7 210.7h0M90.8 246.1h0M83.3 236.3h0M77.0 229.2h0M92.1 252.1h0M156.4 254.1h0M111.3 242.1h0M117.1 258.6h0M116.4 212.6h0M74.6 216.5h0M154.8 240.8h0M87.1 221.5h0M93.6 277.4h0M126.9 228.9h0M122.1 233.1h0M75.3 249.7h0M74.0 230.7h0M95.6 236.4h0M119.8 268.3h0M89.3 280.5h0M141.6 218.6h0M157.6 232.4h0M130.2 221.9h0M150.4 229.4h0M162.2 238.8h0M128.8 222.4h0M151.7 221.1h0M71.8 255.9h0M82.6 210.6h0M126.5 237.1h0M98.7 210.2h0M136.5 224.3h0M100.4 235.8h0M117.2 249.3h0M119.3 240.2h0M114.2 260.9h0M144.8 268.2h0M141.3 222.7h0M79.8 236.3h0M98.9 218.8h0M69.6 248.5h0M165.9 234.1h0M153.1 236.9h0M161.8 256.8h0M124.7 236.8h0M131.2 265.2h0M155.2 261.9h0M137.9 226.5h0M130.3 215.6h0M108.4 270.1h0M125.3 248.3h0M107.5 273.8h0M83.7 230.4h0M82.8 255.4h0M114.1 199.2h0M106.6 238.7h0M105.5 247.0h0M109.3 251.8h0M126.5 213.4h0M143.1 210.4h0M103.8 236.0h0M121.3 224.0h0M118.9 232.7h0M159.6 242.7h0M71.2 246.5h0M110.5 256.9h0M158.7 228.5h0M83.7 258.1h0M124.5 242.5h0M103.9 208.3h0M110.9 227.4h0M163.7 258.7h0M151.2 245.5h0M68.3 233.0h0" stroke="#f7bb4c" stroke-width="1.9" stroke-linecap="round" stroke-opacity="0.62" fill="none"/>
<path d="M106.3 221.9h0M69.5 246.6h0M71.0 223.4h0M143.9 258.2h0M114.0 215.1h0M139.5 214.3h0M77.8 200.5h0M68.5 249.0h0M102.7 245.5h0M142.2 238.2h0M126.1 219.2h0M161.7 204.5h0M101.1 211.3h0M111.6 222.9h0M102.5 235.3h0M139.0 221.4h0M144.9 231.0h0M136.4 226.6h0M114.8 220.6h0M99.9 211.4h0M126.0 269.6h0M82.0 215.2h0M83.1 217.6h0M87.5 259.2h0M142.8 255.7h0M97.2 206.6h0M97.6 223.5h0M102.1 232.5h0M138.2 254.4h0M157.1 199.2h0M89.1 205.6h0M142.6 236.4h0M131.6 230.2h0M83.0 240.8h0M109.0 230.6h0M81.5 212.2h0M97.0 231.2h0M76.9 266.4h0M151.1 227.9h0M166.8 221.9h0M148.2 244.3h0M126.8 233.1h0M112.6 253.4h0M114.4 232.2h0M79.0 211.0h0M82.1 241.2h0M131.0 213.2h0M91.9 203.7h0M160.9 252.0h0M128.3 219.7h0M140.4 203.4h0M125.4 231.3h0M95.9 215.8h0M119.1 203.6h0M127.7 198.4h0M76.4 199.4h0M155.7 215.4h0M106.5 237.1h0M143.9 228.5h0M116.5 233.4h0M68.3 235.2h0M129.4 241.8h0M86.8 237.2h0M117.8 224.9h0M164.1 239.0h0M100.2 214.8h0M74.9 236.3h0M147.1 249.7h0M109.3 213.5h0M68.3 219.1h0M90.0 204.7h0M75.6 200.8h0M144.1 201.3h0M147.5 254.6h0M70.2 229.1h0M81.8 208.6h0M78.7 217.8h0M138.8 237.6h0M154.7 258.5h0M73.9 225.2h0M135.4 211.7h0M104.9 210.5h0M138.4 241.6h0M98.1 236.7h0M138.4 243.2h0M82.3 214.2h0M102.6 215.3h0M112.5 211.2h0M115.4 215.8h0M149.7 212.3h0M69.7 231.1h0M101.3 228.0h0M95.2 227.3h0M153.7 256.2h0M81.9 237.5h0M85.1 202.8h0M166.7 220.4h0M68.9 243.7h0M165.3 207.8h0M152.7 246.9h0M69.8 212.2h0M153.8 223.6h0M70.6 227.2h0M129.5 224.9h0M71.2 217.8h0M77.3 266.2h0M93.2 253.4h0M119.7 219.7h0M154.9 211.5h0M104.1 213.5h0M77.0 211.5h0M166.7 213.5h0M110.7 210.4h0M144.1 226.1h0M136.9 220.6h0M131.9 270.9h0M135.9 258.3h0M126.8 226.2h0M108.1 205.8h0" stroke="#ee6068" stroke-width="1.9" stroke-linecap="round" stroke-opacity="0.62" fill="none"/>
<path d="M70.7 266.0h0M88.9 227.5h0M95.8 225.5h0M76.5 237.9h0M100.7 213.1h0M147.3 224.1h0M157.9 201.2h0M126.8 267.5h0M121.1 228.0h0M126.4 232.6h0M88.5 271.8h0M167.1 228.8h0M152.1 208.0h0M119.7 231.1h0M70.1 232.0h0M163.7 241.7h0M160.2 230.5h0M109.9 248.8h0M147.5 226.0h0M141.5 266.9h0M94.8 219.9h0M151.3 267.4h0M99.1 254.1h0M96.9 231.5h0M96.2 231.7h0M71.4 202.9h0M128.9 221.7h0M156.8 223.9h0M132.1 212.8h0M120.4 236.7h0M117.5 243.3h0M80.3 216.4h0M118.3 261.6h0M80.0 222.3h0M75.9 203.6h0M141.6 217.0h0M95.3 211.0h0M76.1 229.8h0M79.3 202.1h0M159.6 257.6h0M122.6 230.0h0M104.8 259.3h0M142.8 217.5h0M143.6 238.0h0M147.4 224.1h0M117.6 234.4h0M124.8 235.5h0M147.6 215.2h0M139.7 224.3h0M68.3 206.1h0M112.4 203.9h0M156.0 236.4h0M150.4 215.2h0M159.0 243.4h0M119.1 206.5h0M135.2 205.1h0M132.0 246.4h0M107.3 238.4h0M75.8 253.5h0M118.1 222.8h0M136.9 241.9h0M143.4 198.1h0M126.6 259.4h0M99.2 229.4h0M165.2 204.3h0M124.9 226.3h0M155.5 213.0h0M112.1 208.4h0M164.1 259.9h0M90.6 234.7h0M143.8 243.5h0M115.9 235.4h0M129.8 224.1h0M80.0 245.2h0M98.5 263.6h0M127.1 215.0h0M162.0 223.0h0M92.7 236.4h0M102.8 239.4h0M114.9 239.1h0M129.9 203.7h0M80.7 211.3h0M135.8 228.0h0M152.1 229.5h0M99.3 223.6h0M162.1 254.9h0M107.3 238.5h0M129.9 234.2h0M154.4 220.6h0M122.2 213.3h0M123.9 225.4h0M167.4 214.1h0M124.9 206.5h0M123.7 218.1h0M95.7 246.6h0M92.7 260.0h0M140.7 241.1h0M142.9 219.0h0M84.6 233.4h0M76.1 254.7h0M161.6 237.2h0M111.4 253.3h0M145.5 252.7h0M143.2 236.3h0M162.2 216.6h0M72.6 239.9h0M95.0 212.2h0M123.4 204.3h0M90.7 257.0h0M97.3 226.3h0M129.4 217.5h0M141.5 229.8h0M157.2 233.6h0M147.0 229.7h0M118.7 233.9h0M77.4 228.5h0M74.4 241.5h0M98.7 256.2h0" stroke="#4fb5f0" stroke-width="1.9" stroke-linecap="round" stroke-opacity="0.62" fill="none"/>
<path d="M114.7 244.2h0M133.9 222.5h0M87.6 210.1h0M152.9 249.9h0M87.6 249.6h0M79.7 248.2h0M77.2 233.0h0M116.0 218.4h0M167.0 209.2h0M70.9 251.7h0M73.6 214.9h0M96.4 226.9h0M139.5 241.4h0M103.5 257.0h0M107.9 256.5h0M103.1 207.5h0M81.5 255.0h0M156.5 262.2h0M137.8 208.6h0M158.0 220.6h0M143.5 278.4h0M161.6 210.2h0M138.4 233.6h0M153.5 275.8h0M117.9 249.2h0M100.0 221.6h0M142.4 204.0h0M149.5 247.9h0M160.8 228.3h0M124.4 250.5h0M145.7 215.5h0M142.9 240.5h0M105.1 211.4h0M150.5 226.1h0M162.4 232.5h0M86.7 212.3h0M140.4 225.6h0M108.9 249.7h0M94.7 254.7h0M101.8 210.1h0M77.4 234.9h0M125.9 211.5h0M113.2 242.1h0M70.7 236.4h0M158.1 251.0h0M103.6 271.8h0M124.1 227.5h0M138.7 269.0h0M74.8 228.8h0M73.4 268.4h0M162.5 250.6h0M108.4 243.1h0M82.7 208.2h0M98.6 262.7h0M155.0 222.2h0M163.5 209.1h0M94.8 267.2h0M74.3 236.0h0M149.0 217.0h0M105.0 246.6h0M143.4 244.6h0M146.9 259.1h0M116.0 223.8h0M124.8 252.1h0M159.7 224.7h0M117.0 218.7h0M91.2 261.8h0M157.3 228.7h0M74.3 257.2h0M123.5 259.0h0M162.8 232.5h0M144.6 243.5h0M128.4 225.8h0M112.3 257.4h0M144.0 231.6h0M120.3 237.5h0M124.4 220.1h0M120.2 210.1h0M71.1 240.7h0M151.4 258.4h0M75.5 238.8h0M120.7 217.2h0M104.4 228.7h0M71.6 246.9h0M152.9 259.4h0M69.2 262.1h0M74.3 242.3h0M98.0 203.6h0M90.1 259.1h0M108.9 254.0h0M126.3 283.8h0M98.0 243.8h0M93.4 226.6h0M72.2 277.6h0M121.4 214.0h0M164.5 227.1h0M162.9 257.5h0M133.1 240.3h0M135.5 218.8h0M97.8 235.0h0M116.2 224.3h0M86.7 249.9h0M120.2 257.3h0M133.3 218.2h0M129.2 221.7h0M138.2 203.3h0M117.6 244.1h0M102.4 243.2h0M130.8 250.2h0M72.1 229.2h0M82.0 239.2h0M86.2 205.3h0M96.1 211.4h0M156.4 211.7h0M74.2 269.1h0M100.8 222.9h0M130.7 238.3h0M76.5 240.4h0M136.1 224.2h0M94.3 243.5h0M77.6 245.6h0M98.5 259.5h0M72.8 241.1h0M138.6 280.0h0M78.6 206.9h0M88.2 229.1h0M73.2 242.8h0M93.0 252.6h0M101.0 255.8h0" stroke="#f7bb4c" stroke-width="1.9" stroke-linecap="round" stroke-opacity="0.62" fill="none"/>
<path d="M166.8 226.0h0M156.3 215.3h0M88.6 235.7h0M96.7 212.7h0M110.1 252.6h0M154.4 212.4h0M143.5 259.2h0M76.9 223.2h0M142.4 232.2h0M74.1 229.9h0M106.4 224.9h0M117.1 200.8h0M124.9 208.5h0M111.7 264.9h0M149.4 227.1h0M90.4 211.3h0M81.2 200.3h0M163.2 240.5h0M108.4 219.6h0M106.9 205.5h0M89.3 252.8h0M158.2 222.9h0M75.6 232.4h0M150.3 232.0h0M134.6 224.1h0M107.4 245.8h0M157.7 203.0h0M92.3 251.8h0M128.3 229.6h0M141.3 243.6h0M164.2 212.6h0M107.2 219.8h0M91.3 259.0h0M129.3 224.0h0M76.8 225.5h0M77.1 260.5h0M147.5 232.5h0M124.7 260.5h0M118.4 205.0h0M77.7 234.9h0M151.3 229.6h0M95.2 213.6h0M89.5 240.1h0M92.3 236.4h0M71.4 223.1h0M117.0 234.4h0M159.7 231.8h0M113.3 220.8h0M98.5 210.2h0M114.9 250.3h0M86.9 243.6h0M115.2 226.4h0M135.2 237.9h0M122.6 234.9h0M131.7 211.4h0M122.6 201.8h0M97.2 223.7h0M104.8 207.7h0M143.6 208.7h0M166.5 214.8h0M128.1 225.8h0M114.9 240.7h0M102.9 211.0h0M135.7 204.8h0M123.5 206.0h0M120.2 224.7h0M96.6 219.3h0M117.8 256.7h0M136.8 224.6h0M133.6 221.9h0M86.4 198.9h0M78.5 207.9h0M124.1 208.4h0M103.4 244.2h0M166.6 247.2h0M163.7 264.4h0M87.4 245.0h0M123.7 210.8h0M106.6 198.4h0M126.8 227.6h0M132.5 220.1h0M127.6 203.8h0M101.5 254.7h0M83.4 230.1h0M76.7 218.0h0M68.8 205.0h0M90.1 263.2h0M80.3 207.4h0M87.1 203.9h0M105.0 228.4h0M95.7 201.2h0M160.6 221.6h0M117.7 278.4h0M144.8 199.8h0M147.8 203.1h0M145.7 227.9h0M73.3 227.1h0M83.2 270.1h0M161.1 259.0h0M98.0 220.0h0M70.6 227.9h0M113.7 216.7h0M69.7 249.0h0M127.0 211.1h0M101.5 208.9h0M109.4 227.9h0" stroke="#ee6068" stroke-width="1.9" stroke-linecap="round" stroke-opacity="0.62" fill="none"/>
<polygon points="68.8,240.5 73.7,239.9 78.7,239.2 83.6,238.5 88.5,237.8 93.4,237.1 98.4,236.3 103.3,235.5 108.2,234.6 113.2,233.8 118.1,232.8 123.0,231.9 128.0,230.9 132.9,229.8 137.8,228.8 142.8,227.6 147.7,226.4 152.6,225.2 157.5,224.0 162.5,222.6 167.4,221.3 167.4,227.3 162.5,227.9 157.5,228.4 152.6,229.0 147.7,229.7 142.8,230.3 137.8,231.1 132.9,231.9 128.0,232.7 123.0,233.6 118.1,234.5 113.2,235.4 108.2,236.4 103.3,237.4 98.4,238.5 93.4,239.6 88.5,240.7 83.6,241.8 78.7,243.0 73.7,244.3 68.8,245.5" fill="#f7bb4c" fill-opacity="0.22"/>
<line x1="68.80" y1="243.00" x2="167.40" y2="224.31" stroke="#f7bb4c" stroke-width="0.85"/>
<polygon points="68.8,232.4 73.7,232.4 78.7,232.4 83.6,232.3 88.5,232.3 93.4,232.2 98.4,232.0 103.3,231.9 108.2,231.7 113.2,231.5 118.1,231.3 123.0,231.1 128.0,230.8 132.9,230.5 137.8,230.2 142.8,229.9 147.7,229.5 152.6,229.1 157.5,228.7 162.5,228.3 167.4,227.8 167.4,231.9 162.5,231.9 157.5,231.9 152.6,232.0 147.7,232.0 142.8,232.1 137.8,232.2 132.9,232.4 128.0,232.5 123.0,232.7 118.1,233.0 113.2,233.2 108.2,233.5 103.3,233.7 98.4,234.1 93.4,234.4 88.5,234.8 83.6,235.1 78.7,235.5 73.7,236.0 68.8,236.4" fill="#4fb5f0" fill-opacity="0.22"/>
<line x1="68.80" y1="234.42" x2="167.40" y2="229.87" stroke="#4fb5f0" stroke-width="0.85"/>
<polygon points="68.8,232.7 73.7,232.4 78.7,232.1 83.6,231.7 88.5,231.3 93.4,230.9 98.4,230.4 103.3,229.9 108.2,229.4 113.2,228.8 118.1,228.2 123.0,227.6 128.0,226.9 132.9,226.1 137.8,225.3 142.8,224.4 147.7,223.5 152.6,222.5 157.5,221.5 162.5,220.4 167.4,219.3 167.4,226.3 162.5,226.4 157.5,226.6 152.6,226.8 147.7,227.1 142.8,227.4 137.8,227.8 132.9,228.2 128.0,228.7 123.0,229.2 118.1,229.8 113.2,230.5 108.2,231.1 103.3,231.8 98.4,232.6 93.4,233.4 88.5,234.2 83.6,235.0 78.7,235.9 73.7,236.8 68.8,237.7" fill="#ee6068" fill-opacity="0.22"/>
<line x1="68.80" y1="235.22" x2="167.40" y2="222.80" stroke="#ee6068" stroke-width="0.85"/>
<line x1="244.60" y1="187.4" x2="244.60" y2="299.5" stroke="#e2e2e2" stroke-width="0.9"/>
<line x1="273.17" y1="187.4" x2="273.17" y2="299.5" stroke="#e2e2e2" stroke-width="0.9"/>
<line x1="301.74" y1="187.4" x2="301.74" y2="299.5" stroke="#e2e2e2" stroke-width="0.9"/>
<line x1="330.30" y1="187.4" x2="330.30" y2="299.5" stroke="#e2e2e2" stroke-width="0.9"/>
<line x1="218.7" y1="293.50" x2="331.00" y2="293.50" stroke="#e2e2e2" stroke-width="0.9"/>
<line x1="218.7" y1="268.25" x2="331.00" y2="268.25" stroke="#e2e2e2" stroke-width="0.9"/>
<line x1="218.7" y1="243.00" x2="331.00" y2="243.00" stroke="#e2e2e2" stroke-width="0.9"/>
<line x1="218.7" y1="217.75" x2="331.00" y2="217.75" stroke="#e2e2e2" stroke-width="0.9"/>
<line x1="218.7" y1="192.50" x2="331.00" y2="192.50" stroke="#e2e2e2" stroke-width="0.9"/>
<text x="217.90" y="294.10" font-size="5.5" text-anchor="end" fill="#333333" stroke="#333333" stroke-width="0.04">0.00</text>
<text x="217.90" y="268.85" font-size="5.5" text-anchor="end" fill="#333333" stroke="#333333" stroke-width="0.04">0.25</text>
<text x="217.90" y="243.60" font-size="5.5" text-anchor="end" fill="#333333" stroke="#333333" stroke-width="0.04">0.50</text>
<text x="217.90" y="218.35" font-size="5.5" text-anchor="end" fill="#333333" stroke="#333333" stroke-width="0.04">0.75</text>
<text x="217.90" y="193.10" font-size="5.5" text-anchor="end" fill="#333333" stroke="#333333" stroke-width="0.04">1.00</text>
<text x="244.60" y="305.50" font-size="5.5" text-anchor="middle" fill="#333333" stroke="#333333" stroke-width="0.04">125</text>
<text x="273.17" y="305.50" font-size="5.5" text-anchor="middle" fill="#333333" stroke="#333333" stroke-width="0.04">150</text>
<text x="301.74" y="305.50" font-size="5.5" text-anchor="middle" fill="#333333" stroke="#333333" stroke-width="0.04">175</text>
<text x="330.30" y="305.50" font-size="5.5" text-anchor="middle" fill="#333333" stroke="#333333" stroke-width="0.04">200</text>
<text x="331.00" y="314.60" font-size="6.4" text-anchor="end" fill="#1a1a1a" stroke="#1a1a1a" stroke-width="0.04">Age (months)</text>
<text x="204.60" y="187.70" font-size="6.4" text-anchor="end" fill="#1a1a1a" stroke="#1a1a1a" stroke-width="0.04" transform="rotate(-90 204.60 187.70)">Class probabilities</text>
<text x="0" y="0" font-size="9.8" font-weight="bold" text-anchor="middle" fill="#000" stroke="#000" stroke-width="0.08" transform="translate(274.85 183.00) scale(1 1.04)">QTAB</text>
<path d="M226.4 205.1h0M292.9 199.3h0M292.1 266.2h0M288.7 207.5h0M238.7 236.1h0M305.8 277.2h0M325.8 266.6h0M236.7 231.9h0M243.2 220.7h0M281.9 206.1h0M259.8 257.6h0M245.4 236.8h0M238.9 249.9h0M259.7 219.0h0M231.8 247.2h0M237.4 234.0h0M260.5 235.9h0M238.0 210.8h0M283.9 202.5h0M289.8 205.6h0M229.9 233.6h0M284.7 227.4h0M252.8 202.2h0M258.8 237.7h0M313.0 201.1h0M238.7 224.0h0M279.7 207.2h0M278.7 230.4h0M294.3 261.3h0M230.5 205.0h0M239.7 205.2h0M236.8 262.0h0M286.4 210.2h0M281.3 256.5h0M261.5 232.9h0M291.4 218.8h0M261.1 261.1h0M281.2 230.9h0M261.6 251.3h0M280.7 218.4h0M260.0 241.2h0M282.0 259.5h0M229.6 207.5h0M285.7 217.8h0M304.7 253.4h0M287.6 242.3h0M313.8 256.5h0M253.1 222.2h0M293.8 244.5h0M230.5 234.9h0M261.0 228.7h0M295.9 221.6h0M283.9 212.4h0M298.4 252.3h0M319.1 221.1h0M261.4 214.5h0M300.2 201.1h0M250.8 223.9h0M276.3 242.9h0M272.0 215.2h0M235.0 230.9h0M284.6 212.2h0M284.1 203.0h0M283.7 200.5h0M292.5 223.3h0M246.3 255.6h0M323.3 238.6h0M324.0 200.3h0M321.8 269.0h0M270.4 265.6h0M247.2 209.5h0M232.2 204.1h0M312.2 205.4h0M251.7 212.3h0M316.7 205.1h0M267.2 248.7h0M316.9 260.9h0M249.9 215.9h0M304.9 230.4h0M273.5 224.3h0M277.3 229.8h0M261.4 207.7h0M238.5 219.9h0M313.7 254.1h0M243.2 233.6h0M251.0 263.8h0M281.6 245.3h0M234.5 218.4h0M277.5 245.8h0M297.0 229.4h0M273.0 201.1h0M313.9 252.1h0M258.5 226.9h0M257.2 210.6h0M253.1 232.8h0M284.3 229.9h0M295.1 242.1h0M272.0 271.1h0M305.6 214.1h0M258.7 249.8h0M292.3 215.6h0M284.2 229.8h0M296.6 250.5h0M258.8 258.3h0M241.5 201.0h0M270.3 243.1h0M306.5 215.7h0M232.0 271.5h0M232.2 214.8h0M269.7 213.3h0M288.7 240.9h0M259.5 244.3h0M270.7 210.1h0M297.9 256.9h0M281.6 229.5h0M313.6 228.5h0M294.4 216.1h0M268.7 266.4h0M237.2 252.0h0" stroke="#4fb5f0" stroke-width="1.8" stroke-linecap="round" stroke-opacity="0.7" fill="none"/>
<path d="M260.3 222.6h0M240.1 264.5h0M259.1 238.0h0M229.4 240.0h0M320.1 240.7h0M276.5 207.0h0M258.7 217.7h0M319.3 213.2h0M279.1 224.5h0M273.4 212.8h0M288.7 276.6h0M311.4 224.6h0M268.3 249.6h0M238.7 210.7h0M241.5 216.2h0M231.6 257.0h0M263.6 208.9h0M270.2 240.0h0M300.7 256.0h0M238.9 208.9h0M325.3 225.0h0M237.7 220.6h0M236.6 234.6h0M270.5 209.2h0M259.7 206.8h0M261.5 209.3h0M252.0 216.7h0M317.4 261.1h0M284.3 214.4h0M271.0 244.9h0M229.9 202.9h0M306.1 245.5h0M271.2 213.3h0M265.5 200.3h0M245.6 252.3h0M252.8 270.7h0M290.3 240.6h0M252.2 229.5h0M236.3 227.4h0M272.1 230.1h0M243.5 244.0h0M321.7 223.3h0M260.0 214.1h0M268.8 216.4h0M321.6 268.8h0M239.2 217.8h0M312.4 216.2h0M297.7 266.0h0M294.2 239.4h0M292.3 212.2h0M324.1 245.0h0M270.6 258.2h0M259.9 223.5h0M236.0 233.8h0M306.4 210.4h0M270.3 225.8h0M250.7 220.9h0M313.4 204.4h0M268.4 252.6h0M259.2 208.0h0M296.1 215.2h0M261.8 210.4h0M287.8 226.2h0M243.3 218.1h0M287.9 239.4h0M282.0 216.6h0M231.7 251.0h0M247.1 227.4h0M252.0 240.1h0M319.9 240.8h0M241.5 257.0h0M301.3 234.5h0M236.2 220.5h0M317.5 226.5h0M292.6 229.8h0M284.4 267.1h0M279.5 273.2h0M313.4 240.3h0M291.4 216.6h0M261.6 237.0h0M294.2 218.4h0M276.6 223.0h0M298.2 256.5h0M316.4 210.7h0M293.5 203.3h0M267.6 221.7h0M275.4 221.1h0M259.9 251.4h0M265.1 208.0h0M311.4 237.4h0M313.5 226.8h0M286.7 230.1h0M272.3 223.8h0M271.9 273.7h0M258.8 240.7h0M236.6 276.7h0M267.4 214.3h0M264.2 252.0h0M258.4 207.5h0M263.4 215.9h0M280.1 201.4h0M316.7 202.9h0M288.7 232.0h0M231.9 234.8h0M261.5 269.6h0M247.1 237.0h0M319.1 252.3h0M309.2 208.6h0M231.0 224.0h0M264.2 236.3h0" stroke="#f7bb4c" stroke-width="1.8" stroke-linecap="round" stroke-opacity="0.7" fill="none"/>
<path d="M239.9 234.8h0M313.5 239.8h0M293.0 249.4h0M311.1 236.8h0M253.1 206.0h0M270.1 267.4h0M233.6 217.2h0M279.0 224.1h0M276.7 212.7h0M306.3 222.6h0M313.9 226.8h0M273.7 211.0h0M245.9 207.0h0M268.0 230.2h0M284.2 200.1h0M258.7 211.9h0M259.8 203.5h0M280.1 238.7h0M305.3 251.2h0M265.7 223.4h0M265.1 233.7h0M296.5 233.9h0M293.6 223.6h0M314.2 232.0h0M280.0 238.5h0M317.1 242.4h0M272.3 250.6h0M243.0 242.8h0M252.3 218.9h0M234.1 216.3h0M238.6 226.1h0M259.0 232.0h0M260.0 238.1h0M258.7 205.0h0M246.2 212.9h0M275.4 249.3h0M238.9 232.0h0M276.5 242.6h0M249.6 231.3h0M230.7 199.9h0M259.3 211.3h0M305.9 201.5h0M233.2 223.1h0M248.5 243.4h0M324.0 213.9h0M267.5 243.9h0M283.8 208.0h0M247.3 206.6h0M238.5 212.6h0M288.5 237.7h0M279.3 215.0h0M311.2 263.2h0M246.9 218.5h0M272.5 245.6h0M236.8 259.4h0M269.8 224.3h0M300.2 247.5h0M311.8 250.6h0M267.8 235.4h0M284.2 213.4h0M239.2 240.3h0M296.2 202.9h0M291.4 219.2h0M292.3 217.3h0M268.5 216.5h0M226.2 250.1h0M252.2 249.0h0M235.6 249.1h0M267.3 232.1h0M261.0 264.7h0M236.9 217.9h0M260.9 198.7h0M245.7 236.3h0M313.2 198.9h0M259.0 212.0h0M301.1 252.2h0M234.6 221.1h0M266.2 254.5h0M310.5 225.8h0M250.2 202.3h0M281.4 236.3h0M246.1 236.0h0M281.6 270.3h0M302.1 241.6h0M294.6 208.4h0M236.2 254.2h0M231.4 261.4h0M229.9 246.8h0M283.5 208.5h0M261.7 215.5h0M249.3 247.2h0M318.9 241.1h0M237.3 207.7h0M293.1 222.1h0M250.0 251.0h0M231.1 224.2h0M270.3 247.8h0M261.6 208.6h0M271.4 206.4h0M251.1 229.6h0M313.1 202.9h0" stroke="#ee6068" stroke-width="1.8" stroke-linecap="round" stroke-opacity="0.7" fill="none"/>
<path d="M226.8 206.5h0M319.0 224.2h0M251.8 217.3h0M260.9 224.6h0M313.7 228.4h0M246.5 240.0h0M279.7 263.7h0M261.4 265.0h0M261.1 255.2h0M279.4 209.1h0M268.6 260.2h0M239.5 227.4h0M250.1 230.9h0M273.0 212.1h0M310.2 233.8h0M243.1 243.2h0M302.6 236.2h0M235.6 208.3h0M230.5 230.1h0M241.8 240.4h0M273.3 210.3h0M306.7 209.3h0M237.2 259.7h0M304.7 232.2h0M304.6 226.8h0M306.1 233.9h0M316.7 214.4h0M238.8 210.5h0M234.6 231.6h0M276.5 226.7h0M266.1 222.1h0M280.7 209.1h0M295.0 212.2h0M259.1 230.9h0M268.1 221.7h0M296.5 228.2h0M272.1 222.0h0M312.0 245.8h0M267.2 248.0h0M277.5 226.5h0M241.8 255.3h0M293.7 205.6h0M256.9 214.9h0M311.4 249.0h0M281.3 241.9h0M233.2 249.1h0M226.2 243.6h0M239.8 231.2h0M258.5 208.6h0M293.4 211.3h0M241.7 222.2h0M252.8 231.4h0M295.8 207.3h0M324.1 236.9h0M281.7 215.9h0M280.4 225.2h0M295.7 224.0h0M291.3 248.0h0M232.4 203.6h0M289.8 259.0h0M279.9 247.8h0M234.7 210.2h0M264.3 224.9h0M246.9 212.5h0M247.5 207.6h0M260.7 200.3h0M295.6 238.5h0M249.8 212.6h0M270.2 228.2h0M310.3 208.5h0M300.3 232.2h0M270.4 209.7h0M226.4 244.3h0M268.7 234.6h0M284.2 213.7h0M232.1 254.8h0M251.9 222.3h0M241.8 221.5h0M252.4 209.5h0M251.0 217.9h0M262.1 213.3h0M236.3 206.9h0M272.5 258.4h0M237.7 217.0h0M233.5 201.0h0M258.5 226.7h0M239.1 205.3h0M277.0 205.8h0M229.5 233.6h0M250.8 231.6h0M310.1 237.9h0M249.0 209.2h0M310.4 210.7h0M271.3 251.8h0M275.3 256.2h0M252.3 235.0h0M261.3 239.3h0M273.4 222.7h0M295.7 204.6h0M237.4 206.1h0M275.0 265.8h0M268.8 237.2h0M237.6 213.7h0M239.6 263.3h0M307.1 213.8h0M313.8 256.2h0" stroke="#4fb5f0" stroke-width="1.8" stroke-linecap="round" stroke-opacity="0.7" fill="none"/>
<path d="M243.5 231.6h0M258.4 233.3h0M281.1 231.1h0M280.0 241.9h0M292.3 235.6h0M237.8 246.7h0M306.8 233.0h0M267.1 203.7h0M273.6 244.7h0M286.5 247.0h0M294.9 200.1h0M293.7 234.1h0M237.3 247.4h0M270.1 257.7h0M305.4 215.1h0M290.1 220.5h0M302.6 228.0h0M297.9 239.5h0M279.7 254.7h0M281.4 256.9h0M275.4 262.7h0M319.7 237.1h0M309.9 233.8h0M291.4 271.4h0M239.0 221.8h0M310.5 250.1h0M288.9 208.2h0M260.7 213.5h0M293.2 261.1h0M259.4 229.9h0M235.0 209.2h0M306.8 256.4h0M264.1 219.5h0M310.2 201.3h0M299.8 263.8h0M284.5 250.7h0M284.2 273.8h0M295.7 259.4h0M259.2 256.1h0M259.4 202.3h0M259.6 244.2h0M283.7 228.6h0M236.1 264.7h0M250.9 244.9h0M296.8 242.8h0M252.6 213.0h0M296.8 209.5h0M260.3 241.4h0M320.2 245.9h0M324.0 219.0h0M295.1 234.3h0M307.5 247.2h0M243.5 212.7h0M282.0 253.5h0M317.2 277.9h0M313.6 214.6h0M281.2 238.3h0M292.1 215.8h0M243.1 246.2h0M250.9 244.1h0M261.2 206.7h0M248.9 255.5h0M306.0 206.5h0M325.7 227.0h0M302.4 207.0h0M296.1 218.3h0M304.7 215.7h0M231.8 231.6h0M279.6 208.3h0M238.6 239.7h0M294.4 211.0h0M229.9 221.2h0M259.9 252.7h0M263.6 258.5h0M252.6 227.3h0M279.0 265.0h0M238.5 257.1h0M302.3 235.8h0M236.5 265.4h0M247.6 221.0h0M252.4 203.1h0M259.9 206.6h0M313.9 255.0h0M235.7 226.2h0M263.5 254.5h0M284.4 241.2h0M236.9 264.4h0M238.8 253.5h0M231.6 233.1h0M305.5 238.6h0M279.7 242.2h0M270.4 220.1h0M312.4 224.1h0M306.0 201.1h0M236.0 237.6h0M238.7 264.9h0M290.0 227.8h0M263.9 253.8h0M307.2 247.3h0M268.4 227.1h0M231.8 224.9h0M323.9 269.8h0" stroke="#f7bb4c" stroke-width="1.8" stroke-linecap="round" stroke-opacity="0.7" fill="none"/>
<path d="M252.8 213.3h0M261.9 231.8h0M295.8 209.4h0M238.1 217.9h0M305.5 233.7h0M292.8 227.5h0M297.1 244.6h0M302.4 243.0h0M276.7 239.0h0M300.8 245.0h0M310.5 237.8h0M279.5 234.9h0M237.2 230.7h0M316.7 216.4h0M243.4 253.1h0M306.5 225.2h0M287.7 218.8h0M261.0 221.7h0M267.3 269.9h0M251.3 230.5h0M251.8 256.4h0M251.0 213.2h0M323.8 236.5h0M264.1 231.0h0M241.9 210.2h0M296.2 225.1h0M317.0 226.4h0M272.4 215.4h0M281.3 217.8h0M314.0 246.0h0M292.9 257.3h0M270.7 229.8h0M279.8 255.6h0M305.3 219.6h0M258.9 219.6h0M273.4 204.3h0M324.5 218.7h0M273.0 210.6h0M317.5 233.3h0M305.5 232.0h0M286.9 212.3h0M319.0 250.4h0M236.6 238.2h0M235.0 200.2h0M325.3 212.6h0M302.4 205.2h0M325.6 256.6h0M226.7 218.6h0M250.7 219.3h0M313.8 218.8h0M316.8 245.4h0M317.0 265.1h0M317.3 201.5h0M264.9 198.4h0M273.4 265.8h0M271.0 246.9h0M261.4 266.5h0M314.0 229.4h0M302.5 256.6h0M268.5 236.5h0M246.2 226.4h0M281.4 218.3h0M280.7 244.8h0M261.3 229.1h0M297.0 212.5h0M251.8 212.4h0M309.9 246.4h0M279.5 230.9h0M257.4 245.3h0M250.0 220.8h0M292.8 207.2h0M298.0 218.9h0M312.4 238.7h0M247.2 252.7h0M272.2 236.3h0M313.8 202.6h0M321.7 243.8h0M235.8 217.2h0M301.1 216.2h0M241.8 229.3h0M269.8 214.5h0M231.8 202.7h0M325.7 228.3h0M236.2 239.4h0M278.8 207.2h0M271.6 225.2h0M294.2 224.0h0M300.9 235.1h0M252.0 203.1h0M239.1 215.5h0M261.4 229.5h0M298.0 214.8h0M251.3 255.0h0M252.3 215.5h0M295.0 217.4h0M316.9 232.1h0M305.8 257.7h0M273.3 227.2h0M258.9 239.8h0M310.9 217.5h0M311.2 264.0h0M260.8 223.6h0M317.0 220.1h0M236.1 257.4h0M260.9 218.1h0M238.9 212.2h0M226.2 229.6h0M247.4 238.0h0M268.4 199.2h0M325.5 277.5h0M285.8 207.8h0M286.5 253.3h0M280.8 214.8h0M306.8 207.2h0M287.9 208.9h0M304.4 226.7h0M297.0 243.8h0M268.0 262.3h0M292.3 228.0h0M231.5 230.0h0M311.0 212.6h0M292.1 209.1h0" stroke="#ee6068" stroke-width="1.8" stroke-linecap="round" stroke-opacity="0.7" fill="none"/>
<path d="M304.9 260.0h0M294.2 243.8h0M243.4 205.0h0M236.7 220.7h0M263.5 208.8h0M306.8 211.0h0M316.9 239.5h0M233.5 214.4h0M270.7 226.6h0M236.7 267.4h0M251.4 244.4h0M313.4 222.1h0M259.8 269.5h0M280.0 239.1h0M251.1 211.8h0M271.4 226.7h0M284.2 212.5h0M268.0 253.9h0M310.2 219.0h0M242.9 224.3h0M230.6 269.8h0M300.2 203.8h0M279.8 205.9h0M316.9 235.4h0M238.7 223.0h0M256.9 229.9h0M249.2 239.3h0M237.0 254.9h0M310.7 230.6h0M232.3 199.6h0M285.6 237.6h0M280.0 241.3h0M250.0 235.5h0M324.0 225.7h0M281.8 240.1h0M236.7 219.6h0M249.7 221.3h0M301.2 226.5h0M292.7 202.1h0M301.0 228.7h0M325.8 216.4h0M233.4 257.9h0M306.1 201.6h0M323.9 204.3h0M271.6 212.9h0M310.4 218.0h0M251.4 217.3h0M259.1 203.8h0M250.8 234.9h0M249.0 221.5h0M310.2 236.4h0M252.5 244.6h0M313.4 211.5h0M249.3 264.2h0M266.0 241.3h0M291.0 245.5h0M265.8 220.1h0M314.0 222.9h0M306.9 246.4h0M261.4 223.4h0M280.6 222.5h0M236.7 218.6h0M279.3 234.6h0M238.5 205.9h0M271.0 247.3h0M247.7 204.4h0M271.9 252.1h0M300.2 235.5h0M236.6 216.9h0M270.5 211.6h0M294.5 235.2h0M305.8 246.6h0M309.8 223.6h0M260.2 237.8h0M300.2 203.8h0M243.2 249.6h0M309.8 217.0h0M321.8 213.5h0M259.4 217.7h0M261.4 244.0h0M314.0 202.4h0M298.0 265.4h0M282.1 230.4h0M272.0 216.5h0M230.7 234.9h0M253.2 228.5h0M236.9 234.5h0M273.1 258.8h0M237.4 218.9h0M293.6 238.7h0M288.7 241.1h0M243.0 229.9h0M292.2 221.2h0M259.7 260.5h0M316.7 252.6h0M313.7 215.9h0M276.4 255.5h0M279.5 236.6h0M273.2 216.7h0M317.1 209.8h0M235.2 235.7h0M229.4 219.2h0M313.7 217.1h0M317.5 210.6h0M281.1 247.7h0" stroke="#4fb5f0" stroke-width="1.8" stroke-linecap="round" stroke-opacity="0.7" fill="none"/>
<path d="M273.6 263.1h0M247.2 218.3h0M236.3 230.2h0M239.7 249.1h0M316.5 275.4h0M267.9 212.9h0M318.8 211.4h0M292.6 258.2h0M230.8 227.5h0M241.9 209.5h0M234.8 218.1h0M280.4 219.8h0M310.1 245.7h0M305.7 218.1h0M298.0 265.3h0M323.7 230.8h0M243.0 216.5h0M259.7 229.0h0M302.4 236.5h0M236.1 224.3h0M246.6 206.1h0M248.9 269.0h0M313.9 220.0h0M238.8 224.3h0M310.3 201.3h0M270.1 222.7h0M234.7 227.1h0M260.5 212.7h0M281.9 221.5h0M313.6 224.7h0M231.9 222.0h0M238.0 221.0h0M237.3 211.7h0M250.8 250.6h0M265.4 248.4h0M250.0 234.7h0M288.5 229.1h0M238.9 233.1h0M302.5 220.7h0M250.6 224.1h0M231.1 226.5h0M324.0 253.0h0M312.2 226.1h0M316.5 227.9h0M307.3 215.6h0M270.6 216.7h0M307.0 217.9h0M323.6 200.4h0M238.8 222.6h0M238.9 242.4h0M277.0 240.9h0M297.7 277.3h0M270.6 244.8h0M272.5 226.5h0M239.0 263.6h0M259.3 262.6h0M236.4 235.1h0M307.2 219.9h0M236.2 271.4h0M248.8 248.7h0M249.8 215.8h0M243.2 229.9h0M246.3 250.5h0M267.9 271.5h0M310.1 261.3h0M270.2 218.2h0M305.6 225.9h0M307.1 263.1h0M236.9 219.4h0M267.8 240.5h0M319.2 255.9h0M279.5 243.5h0M237.4 238.6h0M268.4 233.5h0M270.0 274.8h0M241.7 215.3h0M283.8 224.5h0M251.1 241.1h0M292.4 238.1h0M257.3 211.3h0M281.1 240.2h0M273.1 223.6h0M258.4 244.7h0M235.2 235.5h0M259.2 256.9h0M324.5 251.5h0M259.6 261.9h0M295.8 248.4h0M284.6 261.5h0M263.2 222.1h0M259.3 206.6h0M279.0 208.9h0M281.0 243.5h0M259.0 208.9h0M275.2 246.9h0M324.2 227.0h0M277.3 225.4h0M268.1 255.3h0M317.1 212.9h0M248.7 207.6h0M270.5 226.4h0M251.3 218.3h0M267.2 208.4h0M266.0 234.0h0M323.4 212.1h0M267.3 233.7h0M250.2 223.0h0M278.4 216.7h0M268.3 250.5h0M304.5 245.4h0M280.9 248.7h0M261.4 262.4h0M311.4 228.7h0M294.6 270.3h0M271.0 250.3h0M252.2 221.7h0M316.5 216.0h0M235.8 220.4h0" stroke="#f7bb4c" stroke-width="1.8" stroke-linecap="round" stroke-opacity="0.7" fill="none"/>
<path d="M305.5 246.5h0M231.6 220.8h0M269.7 235.9h0M311.5 272.8h0M313.8 248.4h0M261.7 262.9h0M249.2 204.9h0M238.8 206.6h0M304.7 214.7h0M283.8 203.0h0M236.4 257.7h0M261.1 247.9h0M270.6 230.4h0M300.1 214.6h0M321.4 208.0h0M252.0 214.1h0M293.4 250.8h0M279.6 230.5h0M293.4 256.8h0M298.0 232.6h0M239.0 253.9h0M272.8 206.2h0M285.6 228.2h0M276.5 217.4h0M259.9 227.2h0M236.6 256.3h0M268.3 267.8h0M246.7 204.2h0M316.8 221.5h0M297.0 222.4h0M296.4 207.6h0M279.3 227.8h0M242.9 241.7h0M235.6 216.7h0M264.0 251.3h0M237.0 225.4h0M281.1 274.4h0M306.6 220.3h0M268.5 228.8h0M316.4 208.5h0M280.7 219.6h0M246.5 258.4h0M302.4 243.5h0M280.8 237.7h0M251.2 218.2h0M268.2 211.2h0M285.8 261.5h0M314.2 211.0h0M258.6 238.7h0M241.5 244.4h0M278.4 225.9h0M297.4 206.9h0M230.5 215.5h0M288.7 237.4h0M282.1 252.7h0M268.5 222.8h0M259.2 264.5h0M301.0 228.8h0M321.8 213.7h0M239.8 220.6h0M310.5 231.4h0M260.1 240.6h0M316.7 224.1h0M317.0 229.3h0M276.5 213.3h0M236.8 237.6h0M321.3 234.4h0M268.0 223.3h0M280.7 230.4h0M259.6 234.1h0M297.0 263.0h0M260.9 202.4h0M231.8 206.6h0M252.2 216.2h0M248.8 223.5h0M319.7 212.7h0M246.6 223.3h0M250.6 225.9h0M261.3 225.4h0M281.4 241.0h0M292.8 261.6h0M283.6 214.3h0M261.2 205.3h0M252.3 214.6h0M271.1 222.8h0M238.7 216.7h0M320.0 234.4h0M310.3 210.8h0M304.8 207.0h0M300.8 201.4h0M316.5 230.9h0M253.1 234.6h0M258.4 209.6h0M232.2 222.8h0M266.2 214.7h0M285.2 206.5h0M294.6 241.8h0M277.2 232.9h0M260.2 228.9h0M318.9 210.9h0M323.6 226.5h0M306.1 215.8h0M246.7 220.7h0M263.4 204.6h0M268.2 203.5h0M319.8 207.2h0M314.3 231.6h0" stroke="#ee6068" stroke-width="1.8" stroke-linecap="round" stroke-opacity="0.7" fill="none"/>
<polygon points="226.3,233.9 231.3,233.9 236.3,233.8 241.2,233.6 246.2,233.4 251.2,233.2 256.1,232.9 261.1,232.6 266.1,232.2 271.1,231.8 276.0,231.3 281.0,230.8 286.0,230.2 290.9,229.6 295.9,228.8 300.9,228.0 305.8,227.1 310.8,226.1 315.8,225.1 320.8,224.0 325.7,222.8 325.7,232.9 320.8,232.7 315.8,232.5 310.8,232.4 305.8,232.4 300.9,232.5 295.9,232.6 290.9,232.9 286.0,233.2 281.0,233.5 276.0,234.0 271.1,234.5 266.1,235.0 261.1,235.6 256.1,236.2 251.2,236.9 246.2,237.6 241.2,238.4 236.3,239.2 231.3,240.1 226.3,241.0" fill="#f7bb4c" fill-opacity="0.3"/>
<line x1="226.32" y1="237.44" x2="325.73" y2="227.85" stroke="#f7bb4c" stroke-width="0.85"/>
<polygon points="226.3,241.8 231.3,241.3 236.3,240.7 241.2,240.0 246.2,239.4 251.2,238.7 256.1,237.9 261.1,237.1 266.1,236.2 271.1,235.4 276.0,234.4 281.0,233.4 286.0,232.3 290.9,231.2 295.9,230.0 300.9,228.7 305.8,227.3 310.8,225.9 315.8,224.3 320.8,222.8 325.7,221.1 325.7,231.2 320.8,231.4 315.8,231.8 310.8,232.2 305.8,232.6 300.9,233.2 295.9,233.8 290.9,234.5 286.0,235.3 281.0,236.1 276.0,237.0 271.1,238.0 266.1,239.0 261.1,240.1 256.1,241.2 251.2,242.4 246.2,243.6 241.2,244.8 236.3,246.1 231.3,247.5 226.3,248.9" fill="#4fb5f0" fill-opacity="0.3"/>
<line x1="226.32" y1="245.32" x2="325.73" y2="226.13" stroke="#4fb5f0" stroke-width="0.85"/>
<polygon points="226.3,239.5 231.3,238.9 236.3,238.2 241.2,237.6 246.2,236.8 251.2,236.1 256.1,235.3 261.1,234.4 266.1,233.5 271.1,232.6 276.0,231.6 281.0,230.5 286.0,229.4 290.9,228.1 295.9,226.8 300.9,225.4 305.8,223.8 310.8,222.2 315.8,220.5 320.8,218.7 325.7,216.7 325.7,228.9 320.8,229.0 315.8,229.2 310.8,229.5 305.8,229.9 300.9,230.3 295.9,230.9 290.9,231.6 286.0,232.4 281.0,233.3 276.0,234.2 271.1,235.2 266.1,236.3 261.1,237.4 256.1,238.6 251.2,239.8 246.2,241.1 241.2,242.4 236.3,243.7 231.3,245.1 226.3,246.5" fill="#ee6068" fill-opacity="0.3"/>
<line x1="226.32" y1="243.00" x2="325.73" y2="222.80" stroke="#ee6068" stroke-width="0.85"/>
<line x1="406.80" y1="187.4" x2="406.80" y2="299.5" stroke="#e2e2e2" stroke-width="0.9"/>
<line x1="440.90" y1="187.4" x2="440.90" y2="299.5" stroke="#e2e2e2" stroke-width="0.9"/>
<line x1="475.00" y1="187.4" x2="475.00" y2="299.5" stroke="#e2e2e2" stroke-width="0.9"/>
<line x1="377.8" y1="293.50" x2="490.30" y2="293.50" stroke="#e2e2e2" stroke-width="0.9"/>
<line x1="377.8" y1="268.25" x2="490.30" y2="268.25" stroke="#e2e2e2" stroke-width="0.9"/>
<line x1="377.8" y1="243.00" x2="490.30" y2="243.00" stroke="#e2e2e2" stroke-width="0.9"/>
<line x1="377.8" y1="217.75" x2="490.30" y2="217.75" stroke="#e2e2e2" stroke-width="0.9"/>
<line x1="377.8" y1="192.50" x2="490.30" y2="192.50" stroke="#e2e2e2" stroke-width="0.9"/>
<text x="376.40" y="294.10" font-size="5.5" text-anchor="end" fill="#333333" stroke="#333333" stroke-width="0.04">0.00</text>
<text x="376.40" y="268.85" font-size="5.5" text-anchor="end" fill="#333333" stroke="#333333" stroke-width="0.04">0.25</text>
<text x="376.40" y="243.60" font-size="5.5" text-anchor="end" fill="#333333" stroke="#333333" stroke-width="0.04">0.50</text>
<text x="376.40" y="218.35" font-size="5.5" text-anchor="end" fill="#333333" stroke="#333333" stroke-width="0.04">0.75</text>
<text x="376.40" y="193.10" font-size="5.5" text-anchor="end" fill="#333333" stroke="#333333" stroke-width="0.04">1.00</text>
<text x="406.80" y="305.50" font-size="5.5" text-anchor="middle" fill="#333333" stroke="#333333" stroke-width="0.04">120</text>
<text x="440.90" y="305.50" font-size="5.5" text-anchor="middle" fill="#333333" stroke="#333333" stroke-width="0.04">140</text>
<text x="475.00" y="305.50" font-size="5.5" text-anchor="middle" fill="#333333" stroke="#333333" stroke-width="0.04">160</text>
<text x="490.30" y="314.60" font-size="6.4" text-anchor="end" fill="#1a1a1a" stroke="#1a1a1a" stroke-width="0.04">Age (months)</text>
<text x="363.00" y="187.70" font-size="6.4" text-anchor="end" fill="#1a1a1a" stroke="#1a1a1a" stroke-width="0.04" transform="rotate(-90 363.00 187.70)">Class probabilities</text>
<text x="0" y="0" font-size="9.8" font-weight="bold" text-anchor="middle" fill="#000" stroke="#000" stroke-width="0.08" transform="translate(434.05 183.00) scale(1 1.04)">ABCD</text>
<defs><linearGradient id="tintC" x1="0" y1="0" x2="0" y2="1"><stop offset="0" stop-color="#f09a78" stop-opacity="0.06"/><stop offset="0.05" stop-color="#f09a78" stop-opacity="0.2"/><stop offset="0.4" stop-color="#f0a080" stop-opacity="0.15"/><stop offset="0.6" stop-color="#d8b0a8" stop-opacity="0.05"/><stop offset="1" stop-color="#d0c8d0" stop-opacity="0.0"/></linearGradient></defs>
<rect x="384.3" y="197.6" width="86.4" height="87.9" fill="url(#tintC)"/>
<path d="M473.1 217.6h0M470.1 224.2h0M483.0 202.4h0M474.9 229.5h0M479.0 236.3h0M475.1 256.4h0M475.1 230.2h0M472.3 248.3h0M483.5 242.8h0M476.6 230.1h0" stroke="#4fb5f0" stroke-width="0.85" stroke-linecap="round" stroke-opacity="0.3" fill="none"/>
<path d="M474.2 200.6h0M479.0 247.4h0M468.8 209.1h0M470.6 203.0h0M481.6 199.6h0M473.8 221.7h0M474.1 260.1h0M472.0 212.8h0M473.0 217.6h0M481.4 236.7h0" stroke="#f7bb4c" stroke-width="0.85" stroke-linecap="round" stroke-opacity="0.3" fill="none"/>
<path d="M477.1 208.5h0M473.9 215.0h0M471.1 222.3h0M480.1 206.1h0M474.1 245.9h0M476.4 233.4h0M482.2 205.1h0M483.1 202.3h0M469.8 214.2h0M470.7 202.4h0" stroke="#ee6068" stroke-width="0.85" stroke-linecap="round" stroke-opacity="0.3" fill="none"/>
<path d="M394.5 236h0M460.8 207h0M466.4 234h0M448.2 218h0M398.8 248h0M451.3 212h0M417.0 248h0M459.5 212h0M442.8 234h0M450.5 208h0M447.4 218h0M413.6 233h0M430.8 227h0M388.1 243h0M427.2 212h0M457.4 211h0M466.4 226h0M392.8 245h0M411.7 239h0M392.0 203h0M416.5 236h0M413.6 210h0M456.2 245h0M384.8 234h0M420.6 278h0M419.2 209h0M418.4 212h0M384.4 245h0M442.5 221h0M407.2 212h0M392.1 253h0M432.6 216h0M454.6 217h0M384.6 258h0M392.0 243h0M435.6 279h0M465.2 218h0M472.0 243h0M422.3 231h0M409.8 263h0M420.6 201h0M388.6 231h0M426.1 235h0M462.5 270h0M447.4 199h0M388.5 203h0M384.0 218h0M439.7 215h0M407.5 252h0M430.7 222h0M463.2 258h0M425.5 233h0M394.8 223h0M386.5 243h0M467.6 218h0M402.8 212h0M418.8 229h0M425.4 232h0M417.5 247h0M384.6 222h0M402.0 269h0M434.2 232h0M464.8 213h0M451.4 215h0M433.0 246h0M455.0 228h0M413.1 208h0M411.4 222h0M465.3 254h0M435.5 200h0M464.4 233h0M454.9 225h0M438.8 205h0M411.3 235h0M420.0 214h0M418.5 236h0M401.2 240h0M430.7 225h0M416.7 215h0M400.1 233h0M398.5 217h0M386.7 249h0M461.9 269h0M463.5 204h0M452.3 217h0M415.5 229h0M398.2 247h0M457.5 250h0M412.1 215h0M455.1 248h0M426.2 206h0M418.1 222h0M453.2 258h0M395.9 240h0M386.1 204h0M438.5 205h0M464.2 264h0M438.1 241h0M444.6 235h0M393.5 204h0M387.8 231h0M407.1 212h0M416.9 233h0M464.2 230h0M463.6 268h0M461.9 238h0M426.0 244h0M402.9 263h0M463.4 269h0M471.7 215h0M432.8 218h0M471.1 222h0M459.1 210h0M412.2 225h0M451.0 251h0M425.4 212h0M407.0 216h0M386.8 270h0M436.9 199h0M393.1 266h0M444.2 206h0M453.2 210h0M448.3 206h0M396.4 251h0M453.0 238h0M397.8 244h0M384.1 237h0M387.4 271h0M387.6 225h0M406.8 272h0M445.7 207h0M424.0 275h0M433.7 219h0M425.4 213h0M391.7 232h0M448.3 229h0M442.7 254h0M457.7 207h0M431.0 272h0M433.7 241h0M384.2 216h0M422.7 227h0M456.8 223h0M416.6 235h0M433.6 280h0M390.8 206h0M385.9 232h0M425.8 246h0M413.7 268h0M421.0 213h0M465.1 222h0M410.9 217h0M434.7 264h0M394.7 222h0M407.9 217h0M438.6 244h0M454.0 241h0M452.9 238h0M389.3 223h0M398.8 214h0M459.8 204h0M436.1 228h0M414.7 202h0M384.3 221h0M418.1 249h0M385.8 263h0M425.1 199h0M425.2 214h0M444.0 217h0M443.7 231h0M411.7 212h0M413.1 227h0M441.2 251h0M386.7 245h0M420.3 206h0M392.1 264h0M396.7 225h0M467.8 240h0M397.2 251h0M399.6 219h0M464.4 207h0M459.0 254h0M427.3 217h0M443.7 274h0M421.7 249h0M433.7 216h0M413.7 233h0M417.5 208h0M468.6 231h0M443.9 264h0M458.0 262h0M408.4 206h0M410.6 205h0M430.0 244h0M460.7 199h0M451.5 214h0M385.2 247h0M444.6 239h0M389.6 208h0M400.2 202h0M401.1 259h0M394.3 271h0M419.4 209h0M413.8 261h0M445.4 213h0M471.3 252h0M404.5 274h0M420.1 209h0M415.6 211h0M397.1 249h0M417.3 240h0M459.6 221h0M466.3 231h0M416.7 244h0M457.3 242h0M407.4 201h0M438.8 217h0M456.4 249h0M446.1 238h0M440.6 231h0M456.0 221h0M449.0 232h0M425.3 231h0M449.9 234h0M412.2 225h0M384.4 223h0M424.5 272h0M402.8 272h0M456.5 231h0M442.9 269h0M385.0 221h0M436.0 243h0M399.5 233h0M451.8 253h0M385.0 281h0M431.0 242h0M406.4 251h0M466.3 203h0M441.3 240h0M446.5 234h0M428.6 257h0M469.8 222h0M401.3 244h0M425.3 206h0M435.6 223h0M468.7 277h0M464.7 220h0M436.2 248h0M439.7 219h0M431.1 254h0M444.5 223h0M448.0 253h0M394.4 227h0M410.3 236h0M447.2 201h0M418.3 200h0M440.7 241h0M466.7 242h0M444.5 242h0M466.1 248h0M450.6 240h0M449.8 211h0M421.6 261h0M393.5 247h0M414.0 247h0M425.0 203h0M417.3 234h0M425.2 215h0M412.2 220h0M403.8 198h0M408.3 208h0M442.7 242h0M447.6 229h0M414.9 217h0M406.8 243h0M400.6 264h0M400.1 262h0M399.3 215h0M437.8 246h0M416.6 226h0M405.5 247h0M471.5 227h0M418.9 209h0M451.5 220h0M398.9 233h0M458.4 226h0M388.3 210h0M416.4 203h0M425.3 219h0M417.4 264h0M470.5 220h0M454.9 213h0M452.9 235h0M386.2 255h0M410.6 230h0M457.3 217h0M384.2 247h0M402.3 248h0M463.2 248h0M425.3 246h0M391.6 245h0M455.1 219h0M425.1 220h0M422.6 210h0M436.4 278h0M398.0 223h0M422.3 237h0M429.4 202h0M468.0 208h0M397.2 246h0M405.2 262h0M405.1 210h0M426.2 268h0M469.4 210h0M438.1 250h0M465.2 262h0M415.3 213h0M407.2 230h0M448.9 266h0M399.7 222h0M392.8 207h0M387.7 215h0M412.5 282h0M405.0 208h0M464.6 243h0M403.1 225h0M408.2 243h0M431.7 253h0M445.9 210h0M425.9 213h0M429.5 250h0M432.3 213h0M452.2 253h0M440.8 275h0M400.4 207h0M453.4 236h0M391.2 242h0M418.5 213h0M435.5 199h0M471.4 240h0M395.0 216h0M386.7 234h0M418.9 241h0M438.0 210h0M384.7 229h0M454.5 210h0M453.9 227h0M467.8 242h0M417.6 250h0M397.8 225h0M464.7 229h0M424.9 210h0M470.4 229h0M407.1 255h0M451.2 220h0M405.1 224h0M424.1 269h0M439.0 245h0M448.9 232h0M387.9 260h0M406.5 227h0M415.1 220h0M447.0 245h0M450.6 200h0M408.3 203h0M419.0 251h0M408.8 202h0M384.1 244h0M394.5 251h0M435.2 262h0M448.3 276h0M426.8 200h0M397.8 230h0M391.3 205h0M470.0 240h0M464.8 230h0M443.9 224h0M468.8 251h0M424.5 255h0M386.8 214h0M444.0 259h0M387.7 220h0M453.3 224h0M425.5 207h0M416.6 244h0M426.2 238h0M437.2 201h0M454.3 199h0M401.1 245h0M449.2 211h0M422.5 202h0M398.2 250h0M413.3 224h0M444.6 221h0M423.9 273h0M408.5 228h0M407.8 268h0M464.3 200h0M466.0 258h0M425.7 232h0M394.3 280h0M447.5 218h0M451.2 279h0M384.0 209h0M467.6 253h0M461.6 218h0M444.1 246h0M468.6 215h0M422.1 227h0M401.5 220h0M430.8 211h0M416.9 204h0M423.7 222h0M412.3 232h0M433.8 277h0M424.2 238h0M415.6 234h0M442.8 205h0M400.4 225h0M384.9 221h0M426.7 239h0M434.2 221h0M410.7 234h0M441.4 261h0M458.6 202h0M450.6 279h0M440.3 246h0M441.4 231h0M386.9 206h0M418.3 229h0M396.7 253h0M432.4 207h0M425.5 221h0M435.2 211h0M404.5 237h0M442.1 230h0M417.3 224h0M402.8 222h0M385.2 230h0M466.8 246h0M421.1 242h0M462.7 244h0M396.6 249h0M415.6 206h0M394.7 257h0M416.4 227h0M459.3 236h0M464.8 211h0M462.4 229h0M431.3 225h0M428.8 240h0M425.6 206h0M452.8 224h0M427.4 227h0M444.8 219h0M425.9 238h0M456.4 202h0M458.0 206h0M387.5 240h0M459.8 256h0M425.4 238h0M408.9 285h0M425.0 250h0M404.8 212h0M448.4 209h0M420.0 227h0M451.3 268h0M406.2 209h0M425.5 243h0M420.0 226h0M444.7 280h0M454.1 212h0M407.9 231h0M424.9 209h0M429.2 266h0M427.8 204h0M470.5 276h0M440.7 253h0M453.3 238h0M409.7 243h0M457.9 239h0M390.2 259h0M440.3 230h0M403.6 254h0M401.7 222h0M435.6 263h0M394.5 209h0M462.0 269h0M453.3 229h0M447.5 221h0M426.0 267h0M453.4 229h0M433.5 236h0M413.5 243h0M391.4 243h0M463.7 267h0M431.2 247h0M447.2 253h0M425.2 220h0M470.3 273h0M441.5 200h0M433.0 224h0M462.4 239h0M391.7 233h0M401.4 266h0M390.9 257h0M399.6 262h0M420.2 232h0M417.6 218h0M416.5 262h0M424.1 203h0M461.1 212h0M406.4 229h0M386.9 231h0M420.0 260h0M455.7 223h0M425.4 258h0M436.1 235h0M413.2 228h0M467.8 208h0M465.0 241h0M400.6 199h0M400.2 233h0M417.4 248h0M452.7 228h0M387.6 249h0M420.4 207h0M450.8 276h0M444.3 217h0M444.8 274h0M414.7 255h0M438.2 226h0M425.2 204h0M437.6 223h0M432.8 245h0M452.5 211h0M432.7 285h0M401.9 230h0M447.9 213h0M384.6 235h0M449.2 240h0M427.9 255h0M391.2 247h0M468.8 207h0M425.1 220h0M420.6 200h0M447.5 212h0M425.3 233h0M469.8 225h0M432.3 241h0M435.4 233h0M422.5 251h0M389.2 225h0M384.0 206h0M461.5 267h0M449.9 224h0M469.6 228h0M444.2 238h0M403.4 227h0M416.6 213h0M410.4 227h0M400.4 246h0M417.5 267h0M424.5 212h0M454.1 258h0M413.7 247h0M395.1 205h0M403.3 251h0M423.8 229h0M389.8 238h0M429.2 224h0M418.7 210h0M432.8 263h0M417.3 262h0M467.7 231h0M451.4 206h0M440.3 222h0M462.9 260h0M417.3 200h0M438.7 203h0M431.8 247h0M456.7 254h0M452.8 218h0M440.4 214h0M418.3 231h0M442.7 256h0M412.4 238h0M467.0 251h0M424.3 239h0M452.8 227h0M388.0 216h0M424.4 237h0M464.8 207h0M427.4 257h0M428.9 218h0M385.3 205h0M441.0 233h0M442.9 207h0M415.0 231h0M434.3 241h0M463.3 235h0M466.8 217h0M440.5 219h0M419.8 248h0M405.1 227h0M429.1 247h0M421.1 285h0M385.0 251h0M414.7 206h0M384.9 213h0M431.2 244h0M422.4 210h0M433.8 274h0M391.2 200h0M411.8 223h0M455.7 227h0M402.2 242h0M422.3 249h0M390.4 230h0M407.5 229h0M419.1 218h0M456.5 213h0M434.1 199h0M444.5 235h0M403.0 243h0M456.0 255h0M467.8 259h0M394.8 265h0M440.7 225h0M413.4 248h0M421.5 237h0M455.6 235h0M417.0 206h0M424.1 215h0M468.2 212h0M418.2 274h0M385.2 240h0M460.3 258h0M451.5 217h0M415.3 231h0M421.1 216h0M422.1 215h0M445.7 226h0M408.7 241h0M416.9 210h0M384.4 199h0M384.8 212h0M393.3 240h0M465.4 239h0M414.0 226h0M468.6 203h0M433.8 208h0M403.8 200h0M454.9 228h0M388.3 242h0M408.1 258h0M464.4 250h0M429.5 211h0M393.8 285h0M391.8 235h0M464.6 245h0M438.0 256h0M451.5 265h0M406.9 207h0M461.7 274h0M423.6 203h0M406.6 214h0M423.7 246h0M456.2 247h0M394.8 216h0M454.0 243h0M436.3 225h0M403.0 276h0M408.6 268h0M451.2 230h0M401.1 200h0M396.8 237h0M450.8 241h0M394.3 246h0M385.9 259h0M418.9 244h0M394.2 230h0M457.5 211h0M411.3 215h0M405.8 203h0M405.3 229h0M471.4 208h0M414.0 249h0M424.3 275h0M430.1 264h0M464.5 216h0M385.1 255h0M459.8 230h0M461.5 243h0M385.2 244h0M460.1 206h0M438.8 224h0M464.3 206h0M386.2 215h0M415.4 252h0M422.4 249h0M458.2 258h0M390.2 263h0M462.7 244h0M468.7 237h0M438.6 233h0M403.2 279h0M412.0 240h0M448.4 201h0M408.1 239h0M457.7 220h0M434.6 260h0M429.3 261h0M418.2 225h0M388.6 208h0M410.1 212h0M459.9 224h0M434.2 245h0M417.6 254h0M400.3 255h0M433.6 238h0M385.1 276h0M411.8 233h0M421.1 255h0M387.0 211h0M438.0 259h0M423.4 199h0M418.8 204h0M463.3 254h0M412.3 205h0M417.0 215h0M423.3 260h0M463.0 230h0M444.9 231h0M419.8 219h0M423.3 272h0M449.7 272h0M453.0 211h0M464.2 224h0M465.2 223h0M472.2 218h0M459.3 238h0M424.0 230h0M386.7 222h0M414.0 284h0M428.4 234h0M448.1 262h0M441.3 215h0M452.2 239h0M433.6 257h0M406.4 237h0M454.4 255h0M423.4 269h0M457.6 213h0M418.5 247h0M426.8 280h0M430.7 208h0M388.2 220h0M471.8 254h0M388.4 245h0M437.8 229h0M433.5 228h0M458.3 219h0M414.0 218h0M385.3 236h0M400.0 249h0M455.8 206h0M450.7 232h0M386.8 259h0M390.8 255h0M384.9 201h0M463.6 243h0M442.7 235h0M418.6 236h0M385.3 239h0M453.9 248h0M413.2 233h0M452.7 210h0M408.7 263h0M435.7 219h0M453.2 220h0M384.7 215h0M402.9 239h0M463.3 210h0M434.4 239h0M410.8 253h0M424.5 228h0M386.9 240h0M434.7 254h0M385.9 216h0M444.2 213h0M447.6 261h0M416.6 246h0M440.6 242h0M423.4 204h0M386.8 272h0M427.1 226h0M463.7 259h0M437.2 206h0M408.6 221h0M470.5 258h0M395.0 217h0M385.9 235h0M463.4 234h0M413.5 203h0M456.0 271h0M419.0 204h0M436.5 247h0M456.4 208h0M415.5 251h0M462.5 215h0M421.5 245h0M397.8 209h0M418.5 212h0M449.1 233h0M418.6 205h0M464.9 269h0M400.5 208h0M397.8 245h0M419.8 219h0M386.9 272h0M437.5 272h0M452.4 209h0M439.8 200h0M388.2 239h0M409.0 202h0M418.1 220h0M425.2 234h0M398.8 228h0M400.1 218h0M440.7 221h0M408.8 226h0M403.0 204h0M435.1 256h0M436.0 223h0M428.6 233h0M398.8 248h0M417.4 223h0M438.7 250h0M432.3 213h0M451.7 232h0M453.3 226h0M446.3 236h0M463.4 252h0M387.6 225h0M386.8 242h0M425.1 278h0M409.1 277h0M399.6 249h0M386.2 254h0M435.2 269h0M412.3 216h0M389.6 213h0M412.2 213h0M439.4 232h0M417.5 235h0M443.1 226h0M463.3 257h0M389.5 247h0M385.7 247h0M442.4 223h0M452.7 244h0M467.6 234h0M400.3 275h0M458.3 231h0M413.4 206h0M427.6 265h0M434.0 230h0M397.9 283h0M427.6 255h0M395.5 226h0M401.3 224h0M418.9 224h0M434.0 213h0M464.3 203h0M454.2 249h0M443.2 278h0M403.3 233h0M425.6 226h0M403.8 243h0M440.3 238h0M468.1 223h0M389.7 233h0M433.4 215h0M386.8 280h0M431.8 234h0M442.8 254h0M385.8 211h0M396.5 212h0M425.4 232h0M458.0 239h0M384.7 251h0M453.0 212h0M397.6 213h0M386.5 226h0M440.4 257h0M403.0 232h0M427.9 241h0M416.9 228h0M435.9 266h0M450.6 220h0M409.6 219h0M391.0 218h0M443.8 235h0M393.0 241h0M430.0 210h0M423.4 223h0M463.7 208h0M426.1 238h0M396.4 237h0M451.4 222h0M398.5 263h0M469.7 284h0M453.5 261h0M431.1 226h0M424.3 269h0M411.4 203h0M453.3 256h0M432.1 250h0M448.8 205h0M419.1 228h0M394.9 203h0M424.0 213h0M394.3 241h0M460.1 275h0M384.1 233h0M418.2 206h0M446.1 230h0M385.2 228h0M442.1 251h0M425.5 249h0M425.0 221h0M389.1 212h0" stroke="#4fb5f0" stroke-width="0.85" stroke-linecap="round" stroke-opacity="0.3" fill="none"/>
<path d="M468.6 198h0M409.7 216h0M401.6 202h0M451.0 217h0M410.5 274h0M440.8 220h0M426.9 244h0M384.1 214h0M431.9 237h0M386.6 205h0M434.3 221h0M465.0 214h0M455.7 232h0M433.7 231h0M442.0 248h0M451.3 269h0M386.0 218h0M467.6 261h0M444.8 235h0M400.6 228h0M451.5 225h0M436.3 235h0M452.8 211h0M408.4 226h0M386.5 261h0M415.2 215h0M420.9 233h0M444.3 206h0M384.1 207h0M413.6 207h0M438.9 248h0M403.7 245h0M401.5 214h0M447.7 202h0M415.0 263h0M434.0 222h0M454.3 245h0M402.3 266h0M391.2 235h0M442.5 199h0M394.6 239h0M395.0 205h0M452.7 224h0M454.3 227h0M443.2 278h0M388.3 262h0M456.0 215h0M405.1 212h0M420.3 215h0M434.8 214h0M460.3 223h0M447.1 242h0M393.2 228h0M421.7 251h0M418.8 201h0M470.3 224h0M405.2 231h0M425.5 247h0M411.5 242h0M418.9 267h0M407.8 199h0M400.1 239h0M403.0 222h0M420.9 257h0M418.5 249h0M414.8 225h0M469.7 203h0M460.0 225h0M401.6 209h0M420.7 207h0M442.8 202h0M454.4 229h0M385.7 204h0M385.7 198h0M454.9 198h0M434.6 203h0M419.4 241h0M401.9 219h0M466.8 261h0M399.4 222h0M444.5 231h0M402.1 242h0M403.9 235h0M426.2 206h0M417.5 259h0M385.9 227h0M450.0 225h0M412.0 210h0M418.5 252h0M447.4 224h0M460.8 220h0M385.2 234h0M466.8 259h0M458.1 224h0M439.2 264h0M431.2 217h0M423.7 214h0M388.5 221h0M455.1 265h0M387.4 222h0M461.7 204h0M391.5 209h0M418.7 210h0M435.3 205h0M419.8 223h0M430.8 198h0M451.6 207h0M396.6 220h0M455.0 222h0M461.7 247h0M451.5 210h0M392.1 267h0M399.9 207h0M384.4 214h0M425.8 241h0M452.9 227h0M435.6 235h0M463.1 216h0M447.7 218h0M452.6 201h0M384.3 217h0M384.0 218h0M424.3 203h0M466.2 234h0M400.1 253h0M466.8 199h0M402.2 210h0M461.4 212h0M465.2 216h0M432.5 241h0M450.9 211h0M444.3 250h0M468.2 260h0M399.4 218h0M425.2 214h0M455.8 228h0M450.7 248h0M390.8 246h0M425.2 256h0M384.8 218h0M394.5 236h0M403.4 206h0M443.7 222h0M415.3 227h0M427.7 215h0M425.0 255h0M384.1 204h0M464.8 257h0M466.4 222h0M404.9 221h0M393.3 236h0M451.0 204h0M400.3 246h0M433.0 204h0M454.6 204h0M416.9 235h0M413.6 232h0M435.9 215h0M463.0 209h0M407.2 230h0M420.2 246h0M413.0 254h0M425.9 218h0M448.9 232h0M458.3 210h0M423.2 254h0M441.4 226h0M404.5 227h0M439.0 213h0M470.4 244h0M386.3 228h0M389.1 214h0M439.1 250h0M436.0 215h0M420.8 245h0M436.8 230h0M446.3 280h0M409.6 217h0M392.1 210h0M402.8 275h0M416.8 229h0M384.7 224h0M463.3 245h0M465.8 250h0M456.3 230h0M417.0 222h0M444.6 257h0M389.9 219h0M450.7 218h0M393.3 261h0M462.4 273h0M394.6 234h0M453.3 285h0M464.9 203h0M461.2 229h0M452.8 236h0M385.9 214h0M441.2 219h0M385.0 210h0M417.7 262h0M384.0 232h0M409.6 212h0M420.2 208h0M433.8 204h0M431.3 211h0M402.7 235h0M440.3 204h0M387.6 199h0M399.4 259h0M421.0 230h0M400.2 215h0M417.0 203h0M387.0 202h0M416.0 259h0M452.8 221h0M390.1 208h0M446.1 217h0M398.9 217h0M386.3 203h0M385.8 206h0M425.8 216h0M394.6 251h0M407.3 216h0M463.2 236h0M427.5 250h0M444.7 209h0M414.0 213h0M425.0 247h0M419.8 244h0M425.1 201h0M414.2 199h0M435.8 231h0M450.0 207h0M394.6 237h0M406.9 214h0M411.9 236h0M471.8 204h0M422.3 214h0M464.3 214h0M386.2 228h0M464.9 229h0M384.1 209h0M388.3 199h0M425.3 199h0M418.4 225h0M423.7 241h0M432.6 251h0M393.5 253h0M406.9 244h0M428.4 231h0M443.9 244h0M451.1 217h0M388.1 201h0M444.4 200h0M431.8 206h0M386.2 284h0M465.2 207h0M408.6 258h0M454.1 269h0M449.1 218h0M398.3 212h0M450.6 248h0M466.2 208h0M420.0 211h0M467.7 282h0M451.1 220h0M403.4 254h0M443.8 204h0M425.7 219h0M443.9 213h0M435.4 231h0M413.8 236h0M387.0 206h0M418.4 206h0M435.7 204h0M447.7 215h0M418.8 206h0M384.0 232h0M418.6 214h0M386.2 258h0M440.6 218h0M457.6 237h0M455.1 231h0M400.1 236h0M394.4 227h0M399.6 209h0M423.4 217h0M425.8 208h0M434.5 218h0M408.6 228h0M442.5 207h0M417.3 260h0M416.5 252h0M391.0 222h0M425.1 220h0M467.8 229h0M433.6 226h0M425.0 244h0M436.1 251h0M452.8 259h0M384.3 262h0M456.0 249h0M425.8 224h0M398.2 206h0M463.3 218h0M399.4 231h0M457.8 230h0M450.9 206h0M443.9 228h0M443.9 274h0M459.1 227h0M468.6 229h0M471.8 217h0M431.8 214h0M458.0 259h0M452.2 213h0M444.9 201h0M408.3 222h0M411.4 253h0M434.0 209h0M458.1 215h0M392.0 219h0M458.2 229h0M400.1 204h0M430.1 204h0M436.2 227h0M467.6 269h0M468.2 225h0M444.6 253h0M391.3 239h0M436.3 247h0M423.2 204h0M385.3 255h0M416.8 216h0M450.0 210h0M432.1 229h0M423.5 231h0M425.3 201h0M454.9 230h0M454.5 239h0M469.9 252h0M453.2 223h0M453.0 205h0M463.7 215h0M433.9 244h0M410.5 212h0M385.7 208h0M419.0 220h0M464.3 204h0M467.1 226h0M417.0 202h0M427.5 217h0M386.5 207h0M425.5 210h0M447.5 231h0M417.7 206h0M408.7 204h0M417.4 200h0M402.8 219h0M444.1 230h0M423.2 202h0M416.5 208h0M432.9 228h0M460.2 221h0M436.1 266h0M426.1 263h0M394.3 262h0M431.0 216h0M437.8 226h0M410.8 219h0M388.6 220h0M407.0 207h0M386.8 239h0M464.8 238h0M466.7 216h0M424.3 213h0M439.5 212h0M450.7 222h0M407.9 210h0M396.2 229h0M463.6 229h0M385.2 205h0M427.1 267h0M389.8 228h0M457.5 203h0M452.9 224h0M463.1 254h0M385.7 230h0M425.3 276h0M438.6 219h0M440.9 203h0M415.5 260h0M386.2 271h0M397.6 222h0M462.6 225h0M424.2 207h0M466.2 251h0M445.4 242h0M450.8 238h0M454.5 222h0M393.2 280h0M439.3 220h0M405.4 208h0M384.6 231h0M412.6 244h0M451.1 257h0M467.6 265h0M428.6 206h0M426.1 202h0M412.2 238h0M396.9 269h0M471.3 260h0M386.1 208h0M415.2 267h0M389.9 231h0M454.1 200h0M419.1 207h0M424.5 225h0M413.7 211h0M427.4 242h0M405.1 214h0M392.7 207h0M459.1 242h0M424.1 228h0M384.4 204h0M446.3 237h0M439.8 232h0M424.5 209h0M453.4 245h0M401.9 208h0M424.1 219h0M398.3 207h0M392.0 212h0M395.9 199h0M454.7 241h0M454.5 209h0M436.4 257h0M471.1 277h0M405.0 235h0M437.6 218h0M420.5 217h0M425.9 250h0M388.2 214h0M447.1 222h0M417.7 241h0M432.0 260h0M457.6 204h0M464.3 224h0M406.7 257h0M404.8 236h0M466.3 204h0M456.1 206h0M465.3 211h0M459.2 206h0M435.6 241h0M393.6 233h0M426.2 231h0M398.2 215h0M417.4 230h0M423.7 210h0M417.2 240h0M471.9 199h0M459.2 278h0M431.2 218h0M410.0 236h0M441.2 258h0M437.9 203h0M385.1 217h0M460.0 247h0M449.5 229h0M440.5 218h0M450.9 215h0M384.2 223h0M386.2 221h0M416.4 225h0M413.3 208h0M407.1 240h0M471.2 268h0M406.9 228h0M410.0 207h0M430.2 211h0M470.1 202h0M427.9 238h0M412.4 239h0M438.7 228h0M430.9 219h0M385.9 231h0M420.7 236h0M432.4 210h0M419.3 215h0M388.7 225h0M413.8 213h0M390.2 200h0M454.2 244h0M396.1 198h0M432.7 217h0M417.4 243h0M443.0 230h0M456.6 218h0M384.7 234h0M408.4 208h0M419.9 236h0M463.2 259h0M423.4 212h0M436.9 224h0M453.0 225h0M431.2 266h0M398.9 266h0M435.4 262h0M386.6 210h0M438.8 245h0M397.6 218h0M386.1 264h0M442.3 203h0M465.2 204h0M400.5 241h0M385.0 245h0M443.1 213h0M420.6 262h0M406.7 203h0M432.2 210h0M419.8 229h0M461.8 235h0M386.2 281h0M422.6 203h0M435.4 246h0M468.7 210h0M384.5 239h0M420.2 227h0M425.4 213h0M416.9 220h0M457.5 221h0M394.7 218h0M399.3 204h0M457.6 258h0M403.6 285h0M460.9 234h0M417.1 274h0M426.9 240h0M451.4 247h0M415.3 229h0M443.9 256h0M453.1 212h0M444.1 223h0M413.7 226h0M446.2 212h0M415.3 210h0M432.8 207h0M400.5 228h0M458.0 228h0M415.5 207h0M434.7 222h0M434.6 227h0M427.0 208h0M450.9 254h0M425.6 245h0M410.7 212h0M413.7 217h0M396.3 228h0M452.6 221h0M462.9 206h0M416.5 220h0M408.1 217h0M424.9 214h0M436.3 222h0M384.4 210h0M460.2 206h0M422.2 238h0M393.2 216h0M418.5 208h0M401.7 204h0M393.0 261h0M464.1 205h0M404.1 240h0M471.7 230h0M402.0 234h0M444.4 217h0M385.2 217h0M415.2 219h0M386.9 223h0M449.7 237h0M398.2 208h0M439.7 236h0M398.4 260h0M458.4 264h0M394.6 232h0M426.7 224h0M441.2 211h0M444.9 281h0M458.3 256h0M385.2 205h0M419.4 278h0M424.5 213h0M413.0 207h0M391.7 213h0M386.1 220h0M471.2 203h0M441.0 226h0M425.2 255h0M459.1 211h0M419.9 202h0M396.9 244h0M466.5 239h0M420.6 212h0M392.7 265h0M448.8 232h0M458.3 201h0M464.2 235h0M395.3 210h0M398.4 222h0M401.6 238h0M432.0 211h0M388.4 259h0M425.2 214h0M400.0 212h0M434.1 237h0M416.0 246h0M412.6 238h0M388.6 228h0M407.1 246h0M461.6 244h0M406.1 283h0M460.8 249h0M434.1 256h0M421.9 228h0M436.3 233h0M444.0 234h0M387.0 239h0M407.5 264h0M384.9 244h0M393.0 241h0M426.1 244h0M408.1 234h0M388.6 262h0M466.3 281h0M385.9 248h0M425.9 211h0M452.3 270h0M464.3 210h0M396.3 233h0M454.3 263h0M419.1 200h0M391.6 269h0M461.4 241h0M463.6 225h0M465.9 201h0M445.5 258h0M406.7 212h0M433.5 200h0M388.6 220h0M449.1 225h0M450.7 226h0M463.5 218h0M424.9 236h0M406.5 249h0M384.3 214h0M418.8 203h0M413.2 238h0M385.1 247h0M425.8 230h0M455.0 267h0M391.2 241h0M384.7 245h0M395.3 238h0M450.6 206h0M403.7 217h0M430.0 223h0M435.7 219h0M427.1 239h0M427.9 262h0M415.4 265h0M472.2 241h0M432.5 213h0M449.5 248h0M403.8 203h0M461.8 232h0M402.9 208h0M405.6 227h0M406.2 254h0M396.8 232h0M386.0 254h0M413.6 224h0M425.0 262h0M424.0 216h0M430.0 205h0M462.0 242h0M459.2 234h0M469.8 209h0M422.8 232h0M390.8 206h0M412.3 239h0M420.6 236h0M443.2 207h0M464.4 223h0M415.8 216h0M392.6 276h0M441.2 206h0M426.0 237h0M399.5 212h0M386.3 238h0M400.5 227h0M384.3 244h0M424.4 281h0M387.5 240h0M426.8 204h0M423.9 233h0M386.8 234h0M397.9 238h0M461.3 269h0M398.0 210h0M418.8 211h0M425.0 214h0M426.6 246h0M426.6 228h0M467.7 206h0M416.0 205h0M452.7 267h0M453.0 257h0M399.5 219h0M449.4 222h0M401.5 218h0M411.9 257h0M388.3 231h0M391.4 227h0M395.3 223h0M464.6 234h0M386.4 201h0M458.6 225h0M456.4 232h0M399.8 218h0M410.9 208h0M453.9 255h0M408.9 242h0M414.1 224h0M395.5 253h0M430.4 226h0M394.6 251h0M454.4 222h0M442.4 208h0M391.3 221h0M437.6 225h0M384.8 212h0M396.5 206h0M451.1 206h0M418.9 230h0M413.0 223h0M395.1 223h0M427.7 226h0M458.0 206h0M426.2 221h0M425.0 247h0M425.0 214h0M436.2 221h0M412.6 214h0M444.4 247h0M409.6 232h0M385.7 222h0M447.1 220h0M461.1 242h0M416.7 225h0M386.1 203h0M425.0 229h0M444.6 225h0M449.8 207h0M450.8 243h0M449.9 224h0M391.9 217h0M464.5 245h0M429.5 233h0M433.9 220h0M466.7 237h0M432.5 236h0M384.4 216h0M437.1 225h0M459.7 242h0M396.7 235h0M384.3 258h0M403.3 206h0M460.1 226h0M419.2 229h0M384.2 230h0M418.4 223h0M410.1 210h0M422.1 212h0M420.2 237h0M434.1 208h0M412.3 244h0M468.8 268h0M428.8 237h0M400.3 219h0M465.1 201h0M442.6 224h0M449.5 200h0M431.9 254h0M456.3 206h0M406.5 208h0M425.8 218h0M384.2 201h0M441.5 233h0M466.9 208h0M399.4 256h0M424.1 231h0M446.0 234h0M385.2 240h0M423.8 256h0M405.8 229h0M459.3 237h0M385.8 246h0M418.5 203h0M400.6 208h0M413.5 242h0M456.6 208h0M440.5 227h0M441.0 223h0M466.5 217h0M410.5 218h0M455.8 215h0M411.3 252h0M446.4 209h0M414.0 226h0M413.6 269h0M419.4 247h0M455.0 269h0M452.7 217h0M417.7 221h0M467.9 198h0M437.6 219h0M427.1 223h0M454.8 269h0M462.5 219h0M403.5 210h0M393.6 266h0M455.6 249h0M385.1 229h0M451.7 220h0M425.8 249h0M468.6 212h0M417.2 204h0M418.2 215h0M448.4 267h0M430.3 267h0M436.2 229h0M414.8 241h0M442.6 238h0M437.4 228h0M413.6 214h0M430.1 231h0M424.1 224h0M446.2 231h0M435.6 225h0M455.0 202h0M465.0 222h0M434.4 234h0M415.0 260h0M468.2 225h0M463.5 248h0M428.5 207h0M466.3 250h0M423.6 241h0M451.8 248h0M425.1 246h0M465.3 214h0M455.9 256h0M384.4 218h0M418.5 198h0M464.5 204h0M415.7 212h0M430.0 228h0M420.0 225h0M444.4 200h0M403.1 223h0M433.8 215h0M469.2 211h0M389.7 251h0M417.0 241h0M417.1 237h0M385.9 201h0M406.2 205h0M437.2 212h0M451.7 264h0M418.7 216h0M410.8 226h0M417.0 217h0M443.1 230h0M464.9 204h0M411.3 225h0M437.8 254h0M455.6 219h0M395.3 255h0M459.7 230h0M443.9 202h0M435.1 203h0M452.7 208h0M384.5 201h0M418.2 257h0M451.6 233h0M420.0 258h0M386.1 230h0M459.5 209h0M433.8 232h0M438.7 225h0M464.3 242h0M401.1 225h0M420.0 234h0M406.9 219h0M397.2 205h0M465.2 215h0M406.7 252h0M468.7 239h0M397.0 244h0M438.9 238h0M441.5 202h0M454.1 206h0M385.7 241h0M413.3 208h0M452.2 224h0M432.2 213h0M435.1 284h0M449.8 241h0M415.8 213h0M417.6 232h0M436.4 210h0M422.3 208h0M416.7 210h0M455.0 242h0M405.7 218h0M399.6 237h0M433.7 221h0M451.7 249h0M394.5 211h0M434.3 201h0M455.8 208h0M385.0 209h0" stroke="#f7bb4c" stroke-width="0.85" stroke-linecap="round" stroke-opacity="0.3" fill="none"/>
<path d="M431.8 226h0M442.0 228h0M446.4 216h0M412.3 241h0M431.8 238h0M451.4 220h0M393.0 220h0M412.0 200h0M458.0 201h0M437.0 198h0M386.4 205h0M432.7 207h0M464.3 208h0M384.4 259h0M447.1 212h0M400.3 229h0M403.0 233h0M429.1 228h0M437.1 273h0M459.8 259h0M425.7 221h0M461.4 273h0M449.3 257h0M456.0 246h0M386.4 199h0M384.5 246h0M386.4 241h0M385.8 200h0M445.9 244h0M384.9 224h0M414.7 236h0M415.0 222h0M464.4 261h0M415.8 247h0M429.1 246h0M448.3 263h0M385.9 199h0M461.4 214h0M456.5 249h0M440.6 265h0M415.6 243h0M388.3 253h0M400.7 224h0M401.7 245h0M466.7 252h0M441.6 266h0M418.8 203h0M458.1 207h0M399.5 270h0M420.9 250h0M423.3 199h0M436.9 231h0M412.3 230h0M410.0 253h0M454.3 218h0M432.8 221h0M418.5 268h0M422.2 213h0M430.5 202h0M396.0 230h0M444.4 224h0M423.9 200h0M435.3 216h0M407.9 210h0M408.2 214h0M413.4 218h0M433.5 206h0M415.6 257h0M404.0 222h0M427.5 213h0M413.5 218h0M439.2 218h0M414.1 225h0M465.2 215h0M401.1 216h0M384.0 232h0M407.5 275h0M461.2 206h0M442.6 209h0M429.2 245h0M464.2 235h0M440.6 245h0M467.5 214h0M414.9 204h0M384.6 223h0M461.8 204h0M414.3 232h0M447.7 230h0M425.2 219h0M424.3 199h0M422.4 259h0M427.4 245h0M394.3 205h0M433.5 220h0M385.3 245h0M468.8 232h0M433.9 240h0M465.4 234h0M469.4 241h0M454.6 257h0M468.5 212h0M429.2 248h0M387.4 218h0M416.0 222h0M426.0 258h0M423.6 237h0M451.0 227h0M425.0 238h0M431.8 239h0M440.9 277h0M385.3 252h0M414.1 208h0M464.2 207h0M446.0 283h0M420.8 218h0M411.8 230h0M454.3 253h0M423.5 247h0M425.4 219h0M445.8 285h0M411.5 199h0M415.2 206h0M442.1 241h0M442.9 223h0M417.6 247h0M411.3 226h0M410.6 224h0M429.2 227h0M387.9 258h0M384.4 204h0M441.5 212h0M463.7 211h0M436.2 249h0M448.1 238h0M464.1 254h0M423.8 262h0M467.8 271h0M425.7 200h0M465.2 213h0M425.4 214h0M464.9 203h0M432.3 214h0M440.4 209h0M435.5 210h0M390.1 219h0M449.7 202h0M403.8 216h0M417.1 255h0M384.2 227h0M433.5 223h0M394.7 212h0M436.9 250h0M412.5 216h0M424.0 229h0M423.5 204h0M418.3 202h0M406.5 216h0M407.0 228h0M447.2 218h0M434.3 200h0M425.1 204h0M413.0 243h0M406.6 248h0M418.6 211h0M385.1 230h0M464.4 211h0M464.1 216h0M464.8 203h0M412.5 213h0M428.6 266h0M455.8 219h0M443.9 250h0M407.5 248h0M398.7 216h0M454.9 263h0M468.0 203h0M435.1 233h0M393.4 218h0M442.9 244h0M424.3 221h0M428.7 235h0M450.0 223h0M453.4 255h0M403.8 200h0M462.8 253h0M427.8 260h0M387.9 218h0M463.4 228h0M384.7 247h0M423.5 229h0M457.7 209h0M416.7 218h0M402.1 227h0M459.3 273h0M449.8 229h0M444.6 217h0M424.9 243h0M443.1 244h0M454.9 227h0M394.4 273h0M471.3 213h0M464.1 240h0M396.4 199h0M409.9 265h0M430.1 254h0M472.0 202h0M431.1 211h0M391.9 215h0M404.5 263h0M385.3 218h0M456.4 222h0M464.5 204h0M460.3 210h0M399.4 214h0M397.2 211h0M470.1 225h0M463.3 202h0M459.9 233h0M469.2 227h0M413.7 205h0M470.5 239h0M437.0 203h0M419.9 240h0M400.6 233h0M387.0 216h0M471.6 232h0M416.9 227h0M454.8 216h0M398.7 263h0M392.8 241h0M466.4 238h0M425.3 207h0M411.7 213h0M394.4 224h0M444.4 232h0M416.9 247h0M391.0 211h0M439.3 201h0M450.6 218h0M439.2 214h0M444.0 215h0M431.1 202h0M432.4 261h0M396.9 203h0M420.2 231h0M425.6 208h0M459.0 201h0M397.7 233h0M404.9 269h0M439.8 239h0M432.1 218h0M400.2 209h0M441.2 267h0M441.6 228h0M450.6 220h0M425.9 233h0M408.1 221h0M452.3 216h0M403.4 206h0M461.8 211h0M403.2 258h0M424.3 240h0M396.7 218h0M438.1 213h0M384.1 208h0M451.4 209h0M423.5 223h0M458.4 207h0M384.8 209h0M413.8 206h0M413.8 208h0M454.6 224h0M386.1 237h0M436.0 247h0M459.6 259h0M384.8 250h0M426.8 225h0M447.3 257h0M438.6 254h0M453.4 243h0M467.7 221h0M403.7 208h0M459.8 206h0M409.1 219h0M434.5 205h0M387.9 209h0M396.1 233h0M425.3 225h0M430.2 280h0M436.4 240h0M436.9 217h0M418.8 208h0M425.6 235h0M452.7 254h0M412.4 218h0M387.4 283h0M388.7 250h0M424.2 202h0M389.7 229h0M469.5 202h0M399.5 208h0M400.4 231h0M403.7 202h0M468.8 213h0M416.4 204h0M440.9 199h0M458.0 211h0M439.1 228h0M439.2 258h0M464.3 249h0M388.0 205h0M400.1 231h0M400.3 207h0M439.8 212h0M463.1 200h0M464.2 245h0M418.2 201h0M416.8 240h0M423.8 247h0M389.8 214h0M461.4 267h0M411.6 203h0M398.5 261h0M400.6 268h0M432.4 220h0M447.1 223h0M432.2 209h0M394.4 215h0M472.2 223h0M437.9 202h0M426.0 199h0M422.3 222h0M444.3 242h0M442.8 210h0M401.8 205h0M424.5 232h0M394.7 230h0M410.8 246h0M407.4 233h0M432.7 220h0M424.9 258h0M408.1 228h0M450.6 246h0M431.0 255h0M403.7 233h0M397.2 218h0M426.1 237h0M416.8 198h0M424.9 272h0M463.3 219h0M435.6 218h0M385.7 228h0M465.1 230h0M455.0 199h0M425.7 201h0M453.2 265h0M435.5 234h0M415.7 227h0M423.8 222h0M437.4 239h0M420.5 207h0M447.4 234h0M434.0 242h0M394.7 232h0M466.4 241h0M395.1 247h0M401.5 219h0M403.2 225h0M387.6 260h0M416.5 208h0M468.2 224h0M443.9 234h0M441.1 228h0M393.3 250h0M425.2 259h0M450.8 247h0M434.6 278h0M434.2 241h0M386.1 224h0M443.9 276h0M424.0 218h0M425.2 200h0M415.4 280h0M441.0 243h0M431.1 261h0M416.9 206h0M420.6 206h0M415.4 211h0M450.0 206h0M434.3 207h0M429.0 202h0M436.4 212h0M416.0 216h0M385.0 205h0M451.8 214h0M435.7 217h0M427.8 218h0M431.9 241h0M441.4 208h0M443.0 221h0M457.5 231h0M409.0 218h0M398.8 239h0M407.3 223h0M384.4 218h0M416.9 238h0M406.2 247h0M422.6 207h0M408.4 213h0M416.4 257h0M438.0 224h0M412.9 252h0M386.5 217h0M464.6 220h0M414.7 202h0M449.3 250h0M384.6 241h0M456.9 232h0M434.2 219h0M462.7 242h0M463.1 218h0M420.4 222h0M462.6 210h0M463.4 229h0M444.5 206h0M469.5 233h0M435.9 235h0M421.6 207h0M415.7 225h0M444.6 243h0M430.1 236h0M424.1 209h0M454.9 228h0M387.8 247h0M454.8 247h0M432.7 244h0M438.9 250h0M448.9 213h0M450.7 210h0M386.9 212h0M437.8 204h0M458.1 221h0M457.8 226h0M432.5 214h0M432.4 215h0M459.4 246h0M399.7 218h0M415.3 204h0M392.7 232h0M464.3 214h0M407.4 205h0M443.0 212h0M394.8 209h0M425.4 242h0M441.0 241h0M469.3 202h0M390.8 232h0M420.4 240h0M413.1 221h0M405.1 219h0M426.9 223h0M437.8 235h0M396.8 252h0M415.0 203h0M386.0 236h0M415.2 199h0M412.3 265h0M459.7 253h0M454.4 277h0M426.0 243h0M470.0 211h0M416.9 222h0M399.9 206h0M401.4 240h0M425.6 234h0M468.7 214h0M425.3 216h0M391.3 259h0M408.9 223h0M457.9 278h0M437.7 233h0M431.1 246h0M452.9 215h0M441.4 230h0M456.6 259h0M430.1 250h0M449.6 263h0M454.8 199h0M426.7 215h0M442.3 258h0M415.6 199h0M425.1 198h0M395.5 265h0M423.6 216h0M425.6 227h0M432.0 233h0M448.4 231h0M437.9 246h0M462.9 278h0M430.1 220h0M392.8 256h0M425.6 236h0M438.1 252h0M431.8 253h0M458.2 212h0M418.1 275h0M403.1 248h0M461.7 257h0M453.2 229h0M420.6 218h0M435.9 237h0M463.5 209h0M455.2 207h0M462.9 206h0M390.9 201h0M426.0 221h0M420.0 224h0M418.3 239h0M395.3 270h0M468.6 202h0M447.8 199h0M464.6 226h0M417.7 231h0M418.9 272h0M470.1 242h0M391.0 205h0M447.1 207h0M384.0 206h0M470.2 208h0M451.0 257h0M408.7 268h0M463.3 220h0M417.6 254h0M438.5 221h0M393.4 269h0M457.9 254h0M403.3 218h0M432.7 219h0M419.3 233h0M425.2 217h0M416.8 228h0M386.1 272h0M396.2 213h0M425.8 246h0M428.3 246h0M400.2 235h0M425.1 209h0M453.1 231h0M454.6 267h0M464.3 204h0M386.0 222h0M467.1 202h0M437.6 199h0M465.9 230h0M454.7 208h0M432.3 248h0M385.0 214h0M449.1 215h0M434.6 218h0M458.5 211h0M464.9 212h0M435.3 201h0M431.1 217h0M425.3 214h0M385.8 224h0M405.4 214h0M460.9 234h0M460.7 208h0M414.9 241h0M391.6 213h0M445.7 225h0M424.4 238h0M464.9 229h0M388.5 203h0M415.5 217h0M466.6 219h0M456.9 204h0M385.3 210h0M444.4 247h0M395.2 206h0M391.3 268h0M415.3 220h0M396.4 210h0M394.7 227h0M413.3 208h0M440.4 203h0M428.7 247h0M442.7 210h0M405.3 230h0M469.2 239h0M423.3 222h0M425.0 243h0M433.0 217h0M398.7 235h0M415.9 213h0M460.1 227h0M432.2 205h0M414.0 244h0M394.4 202h0M468.3 212h0M425.4 220h0M457.9 260h0M415.3 259h0M415.3 224h0M432.7 284h0M433.8 217h0M441.9 216h0M434.6 199h0M425.1 260h0M385.7 209h0M430.7 202h0M432.4 199h0M420.1 260h0M436.8 218h0M386.6 203h0M424.5 247h0M384.6 244h0M430.2 215h0M391.5 212h0M445.4 246h0M467.0 207h0M389.9 260h0M426.8 216h0M419.3 206h0M444.2 244h0M432.6 205h0M386.0 204h0M388.7 210h0M462.6 203h0M386.7 249h0M416.4 207h0M440.8 230h0M452.3 226h0M442.0 218h0M430.0 206h0M396.4 272h0M413.3 221h0M391.5 250h0M453.9 239h0M440.8 219h0M432.7 279h0M429.6 214h0M432.4 217h0M444.5 244h0M397.9 247h0M408.6 221h0M426.9 215h0M412.4 201h0M440.4 232h0M418.4 205h0M447.3 234h0M393.7 215h0M394.3 262h0M399.3 207h0M425.0 207h0M469.7 253h0M435.8 208h0M431.8 252h0M457.8 227h0M453.3 213h0M418.6 233h0M472.1 211h0M387.6 240h0M444.3 207h0M432.9 239h0M410.5 221h0M425.5 213h0M432.8 220h0M393.5 231h0M432.3 239h0M419.8 240h0M425.4 277h0M457.7 235h0M434.7 235h0M384.2 207h0M409.0 215h0M456.9 225h0M440.4 238h0M417.0 233h0M403.9 228h0M425.4 218h0M391.1 206h0M384.8 228h0M392.6 204h0M387.5 208h0M392.6 229h0M428.6 232h0M425.7 260h0M396.7 242h0M425.1 267h0M443.8 227h0M391.9 201h0M384.4 199h0M452.9 200h0M435.8 219h0M388.5 215h0M394.9 213h0M461.9 276h0M432.0 254h0M405.4 216h0M399.3 224h0M440.6 255h0M394.3 220h0M459.0 228h0M436.1 252h0M417.6 256h0M412.4 246h0M471.8 247h0M430.8 219h0M407.3 263h0M464.9 227h0M462.0 203h0M386.5 240h0M463.6 215h0M442.7 203h0M410.5 204h0M386.3 257h0M422.2 250h0M386.5 237h0M424.3 239h0M435.7 226h0M411.5 255h0M423.5 204h0M431.8 230h0M402.8 240h0M456.0 206h0M449.9 235h0M408.4 240h0M418.9 266h0M462.6 273h0M445.5 212h0M460.3 235h0M456.2 199h0M412.0 215h0M444.4 265h0M437.9 202h0M400.5 206h0M461.6 211h0M454.6 215h0M447.9 206h0M408.2 219h0M462.9 240h0M430.5 240h0M467.9 203h0M464.3 224h0M438.1 209h0M463.1 220h0M402.8 214h0M395.4 219h0M396.1 210h0M415.4 201h0M435.1 209h0M401.5 222h0M451.3 232h0M406.7 200h0M447.5 231h0M441.4 201h0M422.7 211h0M399.3 237h0M440.9 260h0M421.8 202h0M467.7 256h0M431.1 277h0M430.5 220h0M466.1 237h0M386.4 229h0M396.4 227h0M461.9 251h0M412.5 226h0M454.3 238h0M433.7 228h0M386.4 214h0M467.6 254h0M431.9 250h0M395.9 215h0M385.7 245h0M448.8 200h0M390.9 201h0M450.5 212h0M464.3 227h0M436.0 257h0M419.4 262h0M440.3 214h0M407.2 225h0M444.4 205h0M432.9 247h0M446.6 201h0M466.8 235h0M422.7 236h0M413.7 231h0M465.4 238h0M390.2 218h0M430.6 245h0M431.1 208h0M384.9 226h0M396.8 234h0M441.9 209h0M447.7 221h0M413.5 238h0M415.8 229h0M393.7 230h0M451.2 250h0M386.1 239h0M464.3 200h0M418.2 226h0M465.1 215h0M438.1 210h0M422.1 263h0M434.8 253h0M427.5 216h0M412.0 209h0M426.1 254h0M423.9 246h0M402.2 240h0M412.3 216h0M421.1 226h0M384.8 238h0M457.7 230h0M397.7 245h0M384.8 234h0M453.1 235h0M451.5 234h0M412.2 223h0M466.7 261h0M403.4 214h0M389.8 246h0M417.2 224h0M423.8 209h0M432.1 236h0M442.7 200h0M410.4 251h0M437.3 207h0M468.0 268h0M407.0 241h0M444.0 229h0M432.8 265h0M423.5 244h0M428.4 233h0M459.6 199h0M415.2 233h0M464.4 226h0M465.3 245h0M415.7 245h0M409.0 239h0M435.4 220h0M384.4 264h0M406.2 214h0M456.7 201h0M431.9 254h0M425.9 201h0M386.1 216h0M458.1 206h0M400.1 243h0M422.5 229h0M430.9 268h0M413.7 223h0M424.1 219h0M424.1 214h0M384.1 199h0M423.5 277h0M386.8 218h0M465.3 208h0M450.8 215h0M437.2 259h0M384.4 240h0M396.7 239h0M416.4 222h0M413.5 221h0M435.4 230h0M407.3 251h0M458.0 252h0M446.3 216h0M395.0 209h0M395.3 257h0M414.8 228h0M467.5 232h0M424.9 221h0M423.6 227h0M413.9 212h0M453.9 253h0M467.7 214h0M423.3 233h0M460.0 201h0M415.2 231h0M418.7 217h0M408.5 250h0M386.6 212h0M418.3 229h0M454.0 236h0M431.2 216h0M384.9 203h0M400.2 233h0M419.3 255h0M404.7 202h0M416.8 220h0M451.7 201h0M406.2 199h0M466.6 222h0M405.3 252h0M452.3 214h0M396.4 218h0M413.8 244h0M413.2 232h0M386.5 227h0M433.6 239h0M420.8 204h0M456.4 200h0M395.9 225h0M462.8 223h0M466.8 203h0M451.6 276h0M384.2 233h0M414.0 206h0M385.1 284h0M425.5 238h0M451.4 265h0M386.2 261h0M424.4 212h0M392.6 217h0M395.2 253h0M441.4 213h0M453.3 221h0M423.9 232h0M466.9 222h0M425.9 222h0M447.7 203h0M427.6 204h0M391.2 267h0M459.7 223h0M447.3 200h0M396.9 215h0M456.8 221h0M404.9 264h0" stroke="#ee6068" stroke-width="0.85" stroke-linecap="round" stroke-opacity="0.3" fill="none"/>
<path d="M468.0 210h0M444.9 257h0M427.8 231h0M455.7 235h0M404.5 213h0M413.8 217h0M423.2 205h0M464.7 237h0M389.6 240h0M465.8 260h0M448.7 235h0M387.9 240h0M384.9 266h0M398.3 214h0M471.6 250h0M407.3 237h0M423.9 210h0M386.8 256h0M400.1 238h0M394.6 234h0M454.3 203h0M393.2 223h0M415.7 239h0M432.2 259h0M470.5 258h0M446.1 205h0M411.3 253h0M458.0 228h0M462.4 254h0M461.7 238h0M471.5 222h0M425.9 214h0M398.8 249h0M417.2 257h0M471.0 218h0M459.2 278h0M452.2 284h0M432.4 252h0M467.7 262h0M398.9 205h0M404.9 243h0M409.9 237h0M459.5 254h0M444.7 272h0M413.9 208h0M430.4 210h0M441.2 253h0M441.6 253h0M464.6 252h0M399.8 238h0M433.0 209h0M451.5 210h0M468.4 260h0M385.8 251h0M466.2 223h0M456.5 198h0M394.3 235h0M452.3 212h0M432.4 267h0M443.7 223h0M401.1 211h0M415.9 243h0M385.1 247h0M423.8 233h0M391.9 214h0M411.5 202h0M385.9 213h0M424.4 245h0M453.1 216h0M433.6 242h0M441.0 232h0M433.4 219h0M397.9 263h0M420.2 257h0M386.1 225h0M415.9 226h0M450.7 233h0M460.3 205h0M435.8 200h0M426.1 272h0M425.0 259h0M440.8 206h0M446.3 210h0M438.7 231h0M468.6 224h0M398.1 242h0M413.1 209h0M468.8 255h0M426.2 260h0M389.1 242h0M428.4 207h0M421.0 204h0M435.5 274h0M457.3 229h0M410.7 224h0M425.6 205h0M419.4 229h0M458.6 264h0M456.8 231h0M430.4 241h0M412.0 216h0M446.3 205h0M463.1 240h0M435.9 216h0M389.7 212h0M433.0 205h0M457.5 231h0M439.7 210h0M418.7 224h0M432.6 206h0M387.5 227h0M417.5 241h0M454.3 257h0M400.3 214h0M396.3 222h0M420.2 209h0M444.8 223h0M385.2 253h0M442.3 230h0M393.2 275h0M453.3 228h0M386.1 241h0M447.7 210h0M437.3 212h0M430.0 211h0M384.9 234h0M435.4 233h0M453.1 221h0M425.0 214h0M396.7 219h0M440.7 213h0M397.2 213h0M426.9 222h0M436.4 203h0M413.1 232h0M435.6 215h0M458.1 203h0M400.6 205h0M399.4 226h0M406.6 249h0M453.5 223h0M391.2 205h0M434.6 235h0M423.2 241h0M469.6 228h0M419.2 209h0M444.4 243h0M444.9 207h0M454.3 249h0M384.5 236h0M423.3 279h0M394.5 202h0M423.7 213h0M463.5 217h0M432.7 245h0M415.1 225h0M403.9 225h0M396.2 209h0M468.4 242h0M401.0 205h0M386.4 200h0M394.2 207h0M456.2 247h0M395.4 205h0M423.7 270h0M418.6 227h0M444.1 220h0M417.4 250h0M403.8 219h0M426.1 207h0M441.6 264h0M425.9 205h0M454.1 265h0M400.2 232h0M397.8 248h0M444.0 233h0M408.3 236h0M454.2 229h0M425.7 247h0M467.9 226h0M444.3 203h0M385.3 220h0M388.7 225h0M459.7 253h0M420.9 212h0M419.3 212h0M468.7 266h0M444.7 198h0M388.2 216h0M416.9 232h0M433.9 232h0M416.5 251h0M394.9 245h0M464.4 220h0M424.9 274h0M425.0 215h0M399.5 224h0M413.4 203h0M454.2 204h0M418.8 212h0M454.1 204h0M393.2 232h0M426.1 210h0M444.3 254h0M434.2 211h0M451.2 220h0M413.5 217h0M406.3 225h0M414.0 207h0M432.4 260h0M396.4 210h0M430.7 218h0M463.1 226h0M395.2 217h0M436.4 243h0M448.9 229h0M429.4 233h0M451.5 204h0M415.1 208h0M425.8 200h0M430.0 240h0M425.4 267h0M442.4 259h0M458.1 274h0M417.7 271h0M423.8 234h0M426.9 230h0M425.9 201h0M420.2 237h0M400.2 258h0M451.4 275h0M413.6 215h0M415.5 245h0M415.3 251h0M423.2 263h0M389.9 235h0M439.7 263h0M398.6 250h0M466.3 246h0M453.1 243h0M459.1 216h0M459.2 250h0M427.4 248h0M464.7 218h0M426.0 260h0M391.1 209h0M384.0 265h0M438.9 218h0M451.7 215h0M430.5 249h0M412.0 231h0M386.4 219h0M440.8 224h0M468.6 234h0M421.6 266h0M469.8 215h0M417.1 249h0M384.9 234h0M440.7 215h0M425.3 217h0M460.1 230h0M428.4 244h0M442.1 219h0M438.8 243h0M430.1 232h0M470.4 236h0M390.1 211h0M461.3 207h0M466.0 262h0M446.2 228h0M414.7 270h0M471.1 207h0M465.1 205h0M397.8 235h0M444.1 244h0M448.2 205h0M472.1 215h0M432.5 205h0M424.1 219h0M417.5 276h0M394.8 263h0M428.4 198h0M456.6 230h0M416.4 255h0M432.0 265h0M441.0 219h0M435.4 198h0M418.5 232h0M440.8 241h0M427.5 268h0M403.9 230h0M405.4 228h0M427.2 272h0M426.9 225h0M451.2 237h0M400.1 200h0M398.0 225h0M419.8 277h0M403.1 271h0M468.4 203h0M407.0 216h0M398.3 205h0M416.8 231h0M463.4 249h0M451.8 216h0M429.3 216h0M384.8 248h0M390.4 254h0M430.8 274h0M432.1 255h0M395.1 247h0M434.4 251h0M452.3 222h0M444.4 234h0M425.3 283h0M424.1 217h0M414.8 248h0M452.9 224h0M432.2 205h0M385.7 225h0M454.3 238h0M446.2 225h0M440.5 248h0M411.9 267h0M413.9 252h0M425.2 216h0M463.0 201h0M469.4 243h0M420.4 212h0M396.1 206h0M463.6 237h0M418.5 220h0M426.8 255h0M426.0 208h0M443.8 273h0M469.4 229h0M419.4 202h0M430.5 202h0M457.6 204h0M406.8 224h0M430.8 275h0M466.1 239h0M413.3 206h0M431.8 212h0M390.0 235h0M439.4 262h0M437.8 258h0M385.3 221h0M460.1 226h0M435.8 219h0M397.7 236h0M384.3 273h0M400.1 236h0M418.8 255h0M434.2 232h0M423.4 234h0M400.2 278h0M468.0 200h0M441.3 222h0M409.0 279h0M430.5 209h0M416.4 227h0M462.4 244h0M388.6 254h0M470.3 259h0M447.9 219h0M395.2 241h0M391.6 248h0M455.0 219h0M388.1 220h0M415.8 222h0M465.1 276h0M386.0 214h0M410.8 241h0M448.8 225h0M433.0 212h0M397.6 236h0M396.8 243h0M407.0 259h0M399.0 271h0M467.7 257h0M468.0 214h0M399.7 264h0M399.6 209h0M397.0 259h0M451.3 226h0M396.2 257h0M416.9 220h0M415.8 201h0M454.2 236h0M385.1 220h0M424.0 206h0M466.0 214h0M425.3 274h0M403.6 230h0M442.3 224h0M446.5 250h0M430.7 208h0M469.4 232h0M440.3 244h0M422.2 224h0M460.8 226h0M418.7 251h0M435.5 214h0M451.3 246h0M452.6 255h0M433.5 208h0M430.5 278h0M433.8 253h0M439.7 262h0M396.6 276h0M423.8 251h0M463.7 254h0M402.9 278h0M395.3 202h0M449.3 215h0M434.0 205h0M463.4 239h0M388.6 210h0M414.9 231h0M425.6 228h0M391.4 278h0M387.4 240h0M415.8 252h0M413.4 237h0M411.6 212h0M442.7 208h0M449.5 221h0M443.9 225h0M416.6 242h0M384.2 270h0M407.2 221h0M465.2 203h0M387.8 236h0M407.5 245h0M386.8 220h0M413.4 205h0M386.0 251h0M471.8 247h0M468.5 208h0M454.3 199h0M398.1 240h0M451.0 206h0M407.2 213h0M411.7 285h0M384.8 256h0M410.5 227h0M431.8 231h0M415.0 233h0M442.3 201h0M470.3 239h0M401.8 205h0M463.4 239h0M421.1 207h0M437.6 215h0M398.9 222h0M410.3 220h0M405.2 204h0M450.9 233h0M431.2 209h0M388.5 209h0M412.4 268h0M384.7 276h0M452.9 221h0M463.2 214h0M459.7 238h0M444.1 261h0M431.7 235h0M384.8 205h0M384.7 201h0M426.2 240h0M395.1 206h0M404.6 210h0M416.4 237h0M417.2 215h0M400.6 276h0M454.3 232h0M464.3 238h0M436.1 266h0M417.7 211h0M416.5 251h0M421.1 218h0M439.7 203h0M433.7 257h0M454.8 241h0M434.2 272h0M454.0 212h0M407.9 225h0M403.1 233h0M430.4 233h0M386.9 224h0M465.9 259h0M414.7 247h0M448.9 277h0M413.2 249h0M464.8 229h0M389.1 251h0M434.5 209h0M401.6 232h0M443.1 204h0M468.0 199h0M431.0 255h0M430.4 217h0M465.4 236h0M397.7 260h0M453.9 222h0M423.5 202h0M439.7 252h0M418.3 245h0M421.9 254h0M424.1 244h0M469.5 254h0M444.2 256h0M388.5 234h0M435.9 234h0M466.9 217h0M385.9 238h0M430.6 236h0M406.4 205h0M439.7 263h0M414.8 234h0M411.2 206h0M439.6 201h0M452.2 236h0M391.2 247h0M399.6 266h0M406.1 230h0M399.8 238h0M442.7 268h0M429.2 259h0M420.9 208h0M412.6 224h0M467.2 211h0M466.3 230h0M403.3 248h0M424.3 241h0M407.5 245h0M384.4 239h0M408.8 199h0M421.9 234h0M427.0 217h0M463.3 201h0M385.3 226h0M453.4 230h0M458.4 228h0M413.6 211h0M386.0 230h0M432.3 213h0M440.3 231h0M423.8 244h0M454.8 275h0M421.5 214h0M404.8 242h0M402.1 211h0M425.7 231h0M461.5 245h0M457.6 207h0M444.5 220h0M425.1 202h0M456.3 199h0M432.8 209h0M416.8 222h0M425.0 243h0M441.5 221h0M394.7 233h0M452.3 198h0M455.1 281h0M434.7 253h0M447.9 248h0M468.4 222h0M425.8 207h0M465.0 220h0M395.4 252h0M398.4 206h0M384.2 264h0M391.3 227h0M394.7 207h0M449.8 258h0M398.7 282h0M469.4 245h0M391.7 227h0M415.6 236h0M448.1 264h0M384.9 224h0M465.3 199h0M386.2 256h0M455.0 215h0M420.9 263h0M419.8 216h0M432.7 276h0M440.8 247h0M400.5 202h0M451.7 222h0M467.1 208h0M468.4 199h0M386.8 237h0M433.7 267h0M408.6 213h0M416.6 218h0M391.4 221h0M424.3 223h0M414.2 206h0M386.0 228h0M435.8 254h0M424.3 211h0M385.7 229h0M444.4 200h0M442.0 199h0M465.4 226h0M438.7 207h0M394.8 232h0M425.3 228h0M434.6 251h0M455.8 246h0M451.3 206h0M459.6 252h0M398.9 257h0M459.5 237h0M396.5 224h0M391.3 203h0M465.1 233h0M453.0 239h0M420.7 215h0M425.3 265h0M384.5 245h0M391.0 240h0M447.2 250h0M446.1 228h0M467.9 211h0M466.4 223h0M456.7 238h0M419.0 230h0M426.0 273h0M423.6 285h0M402.7 252h0M413.5 212h0M389.9 210h0M461.9 242h0M451.7 217h0M430.8 230h0M423.8 202h0M430.5 254h0M435.2 268h0M434.1 220h0M418.8 255h0M400.5 208h0M442.2 220h0M462.0 198h0M403.2 269h0M403.1 260h0M399.9 267h0M411.3 235h0M401.1 241h0M468.1 262h0M429.2 270h0M451.7 256h0M414.1 233h0M400.1 285h0M398.6 207h0M470.5 279h0M432.5 217h0M416.9 213h0M398.1 200h0M444.8 242h0M415.5 228h0M457.3 216h0M464.7 239h0M403.7 245h0M442.6 249h0M425.7 279h0M415.5 233h0M434.7 217h0M416.9 211h0M421.5 218h0M423.5 225h0M386.6 217h0M386.7 234h0M408.8 250h0M442.5 205h0M433.8 235h0M449.4 202h0M453.9 219h0M428.6 207h0M447.6 199h0M392.7 214h0M413.1 229h0M400.7 245h0M449.6 245h0M391.5 207h0M467.1 207h0M394.3 210h0M462.7 249h0M393.8 222h0M430.1 215h0M424.3 214h0M443.2 217h0M408.5 207h0M433.6 217h0M398.0 264h0M385.8 229h0M459.2 264h0M406.4 258h0M419.1 236h0M426.0 214h0M413.7 221h0M413.4 258h0M439.5 201h0M434.1 221h0M468.2 234h0M461.6 228h0M419.8 237h0M466.9 268h0M414.1 255h0M408.8 228h0M387.4 250h0M463.2 210h0M414.8 240h0M464.2 216h0M395.2 221h0M393.7 223h0M446.6 220h0M408.6 259h0M434.1 222h0M434.1 247h0M457.7 264h0M432.2 247h0M415.6 265h0M436.3 223h0M434.0 221h0M398.5 224h0M393.0 223h0M416.7 225h0M430.3 268h0M433.4 208h0M466.5 237h0M463.7 222h0M395.0 226h0M443.9 232h0M444.8 222h0M424.0 206h0M445.9 256h0M396.9 285h0M432.1 242h0M384.8 208h0M444.5 220h0M394.6 225h0M432.1 238h0M421.1 280h0M392.8 209h0M403.0 223h0M386.1 238h0M462.7 225h0M389.7 224h0M468.3 262h0M386.5 252h0M420.7 203h0M425.4 284h0M396.4 257h0M466.3 253h0M403.9 284h0M447.3 214h0M393.3 212h0M451.4 222h0M420.1 204h0M459.1 276h0M451.5 237h0M452.3 205h0M443.8 215h0M391.2 255h0M419.4 259h0M455.6 226h0M426.2 198h0M396.3 203h0M450.9 259h0M407.3 206h0M468.1 216h0M404.0 222h0M434.3 208h0M396.4 224h0M459.9 239h0M418.9 218h0M460.9 217h0M448.0 281h0M455.1 242h0M397.7 232h0M413.6 215h0M468.0 243h0M391.4 246h0M388.3 285h0M455.7 227h0M414.9 263h0M464.4 231h0M418.8 200h0M434.7 203h0M404.7 246h0M422.0 238h0M384.9 224h0M425.7 258h0M425.9 201h0M469.9 256h0M410.0 245h0M464.2 239h0M428.6 209h0M456.7 221h0M406.1 229h0M409.8 203h0M441.4 202h0M454.9 275h0M437.0 206h0M444.4 265h0M442.3 280h0M452.9 251h0M423.8 262h0M392.1 262h0M423.5 251h0M450.5 216h0M391.9 269h0M400.0 220h0M421.1 216h0M408.2 204h0M384.0 264h0M443.8 212h0M428.6 244h0M423.7 201h0M452.3 203h0M461.8 250h0M406.6 244h0M444.6 204h0M456.2 244h0M464.5 217h0M425.5 209h0M425.6 222h0M444.3 254h0M406.4 270h0M454.5 244h0M440.2 223h0M449.9 218h0M396.8 249h0M413.3 276h0M420.5 229h0M439.8 228h0M415.0 208h0M408.6 225h0M445.4 272h0M394.9 263h0M466.9 245h0M419.9 237h0M453.3 202h0M394.9 199h0M431.0 217h0M387.8 205h0M459.1 209h0M389.9 219h0M405.6 218h0M437.0 233h0M425.4 265h0M404.5 240h0M435.7 218h0M436.4 215h0M386.7 237h0M386.3 206h0M416.6 224h0M393.1 228h0M423.4 217h0M425.3 240h0M414.7 268h0M397.0 210h0M436.8 251h0M432.3 249h0M400.0 281h0M430.9 205h0M463.2 227h0M384.5 233h0M438.9 210h0M462.7 250h0M426.1 227h0M451.3 219h0M465.0 227h0M463.3 251h0M463.6 250h0M456.4 235h0M399.6 259h0M459.2 222h0M415.3 210h0M423.6 204h0M405.7 249h0M465.3 282h0M436.4 234h0M468.2 227h0M432.2 221h0M472.2 202h0M405.7 227h0M418.4 260h0M387.0 280h0M440.8 211h0M437.7 229h0M420.0 283h0M405.0 212h0M425.7 207h0M386.9 205h0M413.2 237h0M433.7 238h0M386.4 230h0M421.0 242h0M468.4 228h0M454.2 237h0M450.9 263h0M466.4 202h0M429.5 221h0M467.7 204h0M384.9 256h0M389.7 252h0M448.9 235h0M385.9 229h0M470.0 209h0M386.0 252h0M434.5 244h0M423.5 244h0M399.4 224h0M394.7 262h0M386.8 234h0M436.2 251h0M384.4 219h0M429.4 244h0M463.2 231h0M453.3 247h0M442.5 204h0M426.9 278h0M431.0 231h0M455.1 262h0M389.4 231h0M431.8 242h0M428.7 224h0" stroke="#4fb5f0" stroke-width="0.85" stroke-linecap="round" stroke-opacity="0.3" fill="none"/>
<path d="M446.0 258h0M384.9 277h0M461.5 223h0M413.5 221h0M412.1 239h0M455.7 236h0M386.8 212h0M406.8 217h0M384.4 210h0M386.4 219h0M438.1 246h0M449.0 274h0M394.3 239h0M406.3 227h0M442.9 201h0M456.4 240h0M386.1 206h0M397.7 211h0M418.7 204h0M471.5 225h0M428.6 207h0M460.1 237h0M431.1 224h0M462.0 261h0M432.4 235h0M433.6 223h0M442.6 248h0M466.4 256h0M430.2 251h0M448.8 231h0M429.0 223h0M411.3 228h0M393.6 249h0M417.0 240h0M421.9 241h0M386.4 217h0M415.5 209h0M461.8 239h0M442.1 266h0M430.3 248h0M437.9 232h0M453.9 255h0M408.0 241h0M423.3 250h0M385.0 209h0M454.8 224h0M417.3 245h0M457.5 271h0M386.5 212h0M419.0 207h0M436.9 215h0M451.1 200h0M435.6 208h0M420.2 271h0M444.5 222h0M424.9 201h0M454.0 250h0M418.1 205h0M471.8 213h0M436.9 220h0M464.5 210h0M415.9 246h0M464.6 207h0M397.9 225h0M444.6 211h0M430.2 272h0M395.1 225h0M388.3 213h0M447.4 234h0M461.2 241h0M386.9 219h0M416.7 237h0M430.5 209h0M424.2 254h0M450.8 250h0M461.0 229h0M428.4 207h0M415.1 252h0M420.0 244h0M416.9 244h0M384.0 213h0M413.4 203h0M408.5 215h0M439.1 201h0M425.2 265h0M450.8 205h0M455.1 199h0M410.8 208h0M412.3 214h0M388.1 239h0M426.8 218h0M454.5 211h0M454.4 277h0M401.0 230h0M461.8 224h0M418.5 241h0M419.9 272h0M458.3 215h0M440.2 233h0M434.1 253h0M420.8 205h0M390.3 207h0M418.8 242h0M384.6 214h0M432.2 201h0M425.4 199h0M434.5 242h0M454.2 231h0M452.4 211h0M395.0 224h0M394.3 204h0M468.0 216h0M412.0 208h0M464.4 252h0M425.8 238h0M471.8 221h0M441.1 218h0M469.5 251h0M420.1 205h0M437.9 246h0M384.3 251h0M468.2 207h0M421.6 224h0M435.5 244h0M449.5 235h0M417.6 245h0M409.1 205h0M442.1 237h0M430.7 243h0M454.5 265h0M462.4 207h0M414.8 219h0M460.3 199h0M393.2 212h0M469.9 211h0M423.3 276h0M436.4 234h0M401.9 257h0M425.0 243h0M418.9 240h0M409.1 214h0M410.2 230h0M386.7 212h0M440.9 211h0M397.9 206h0M426.1 238h0M411.7 224h0M463.3 247h0M426.7 238h0M462.4 237h0M411.7 201h0M457.3 275h0M422.8 237h0M440.6 248h0M423.7 211h0M425.7 205h0M384.5 235h0M425.3 226h0M418.9 254h0M444.2 204h0M451.5 243h0M441.9 235h0M416.4 210h0M452.4 214h0M468.0 227h0M398.2 200h0M403.0 200h0M430.1 237h0M395.9 269h0M470.3 215h0M395.0 231h0M434.0 223h0M464.1 220h0M416.8 210h0M423.4 256h0M401.4 229h0M401.3 233h0M435.2 212h0M432.3 214h0M418.6 217h0M454.3 222h0M385.7 245h0M386.0 220h0M410.3 205h0M440.6 206h0M435.6 224h0M402.9 210h0M424.1 214h0M445.6 240h0M386.7 253h0M440.7 246h0M405.7 219h0M426.7 239h0M446.1 275h0M385.8 235h0M452.3 229h0M386.4 201h0M429.6 212h0M434.1 212h0M457.9 205h0M451.1 215h0M411.3 268h0M416.0 244h0M451.8 217h0M434.4 261h0M459.1 226h0M386.8 273h0M429.3 249h0M400.1 240h0M432.4 205h0M444.0 227h0M433.7 220h0M392.1 232h0M393.8 206h0M464.4 224h0M388.0 224h0M425.0 210h0M420.4 264h0M418.4 223h0M451.1 260h0M384.1 253h0M392.8 232h0M458.3 220h0M390.2 247h0M415.0 209h0M405.4 206h0M399.5 277h0M461.8 236h0M412.1 203h0M453.4 230h0M466.9 202h0M463.5 236h0M431.2 216h0M416.5 217h0M437.8 199h0M415.9 278h0M419.2 255h0M384.0 220h0M458.5 227h0M441.6 203h0M464.3 199h0M415.8 245h0M384.5 224h0M384.2 220h0M451.0 206h0M469.4 285h0M425.2 209h0M425.4 220h0M461.3 241h0M469.3 262h0M425.0 256h0M450.9 247h0M448.0 212h0M405.5 246h0M440.8 221h0M413.0 226h0M386.5 215h0M397.9 219h0M468.3 213h0M432.5 207h0M425.5 255h0M421.6 227h0M426.1 204h0M410.1 278h0M433.7 260h0M455.9 222h0M439.7 275h0M443.7 233h0M465.2 209h0M460.7 238h0M438.8 214h0M418.7 210h0M426.0 214h0M440.5 214h0M454.5 212h0M472.2 280h0M427.9 255h0M426.1 268h0M396.6 218h0M415.0 228h0M399.8 235h0M407.4 216h0M439.7 233h0M385.7 244h0M385.9 217h0M447.8 256h0M440.9 262h0M438.6 207h0M424.9 239h0M421.5 203h0M448.0 230h0M393.1 212h0M446.2 215h0M410.1 225h0M463.6 227h0M443.7 226h0M436.9 199h0M456.4 216h0M415.2 215h0M463.7 202h0M451.6 258h0M430.1 228h0M434.1 243h0M430.6 261h0M392.7 237h0M403.8 261h0M386.3 204h0M462.4 204h0M410.3 219h0M410.4 235h0M468.2 202h0M387.4 237h0M384.8 210h0M441.5 237h0M391.6 213h0M409.0 251h0M461.3 267h0M386.0 229h0M418.1 204h0M413.4 226h0M394.7 241h0M401.6 252h0M430.8 209h0M441.3 256h0M426.0 207h0M443.1 201h0M464.2 202h0M391.1 270h0M463.2 249h0M391.6 253h0M445.4 237h0M467.1 207h0M418.1 253h0M416.4 244h0M471.2 251h0M435.4 230h0M395.2 217h0M433.4 221h0M427.3 218h0M424.5 235h0M411.5 204h0M451.4 228h0M404.8 258h0M426.6 238h0M412.0 203h0M386.4 209h0M410.5 250h0M440.9 235h0M471.5 202h0M384.1 246h0M393.0 233h0M440.9 205h0M405.1 236h0M449.6 205h0M408.1 219h0M411.5 246h0M457.7 211h0M397.6 227h0M444.8 223h0M427.2 250h0M452.6 210h0M421.8 239h0M432.3 207h0M426.6 239h0M461.0 205h0M426.2 281h0M421.8 224h0M440.6 214h0M419.1 218h0M439.3 202h0M425.4 223h0M426.8 198h0M384.8 247h0M426.8 227h0M418.8 219h0M462.6 210h0M397.1 217h0M468.2 267h0M401.0 220h0M412.2 256h0M415.5 217h0M404.7 258h0M386.8 214h0M443.9 219h0M394.7 255h0M386.3 239h0M417.4 253h0M434.7 241h0M426.2 232h0M384.0 201h0M425.4 228h0M420.3 228h0M421.0 207h0M437.8 261h0M465.2 247h0M447.8 207h0M384.2 228h0M384.1 219h0M400.2 201h0M414.3 229h0M465.3 221h0M428.5 210h0M394.3 235h0M384.5 218h0M447.4 205h0M458.1 218h0M424.5 211h0M433.0 214h0M394.9 222h0M386.6 203h0M459.5 233h0M459.3 226h0M386.8 199h0M397.8 205h0M472.1 222h0M413.8 205h0M435.9 234h0M384.9 235h0M409.1 200h0M434.3 200h0M417.0 217h0M449.2 233h0M426.2 217h0M464.6 210h0M384.6 267h0M401.4 227h0M442.8 250h0M432.6 257h0M386.8 211h0M466.5 223h0M441.3 277h0M420.9 229h0M403.6 220h0M419.9 218h0M420.4 230h0M442.7 221h0M430.2 235h0M444.8 254h0M417.5 241h0M425.8 227h0M453.9 247h0M401.9 238h0M404.0 241h0M444.7 203h0M442.5 206h0M420.1 222h0M419.4 204h0M465.2 243h0M427.5 228h0M455.0 205h0M465.0 232h0M451.4 214h0M385.1 234h0M411.7 236h0M396.2 268h0M412.2 208h0M386.0 229h0M445.6 211h0M384.4 228h0M384.7 198h0M416.4 220h0M444.8 208h0M444.1 210h0M403.6 216h0M418.9 219h0M447.6 271h0M385.2 240h0M413.7 244h0M385.8 209h0M418.9 204h0M420.5 198h0M390.3 229h0M449.3 220h0M447.5 226h0M432.4 201h0M454.1 212h0M424.0 274h0M415.9 218h0M388.2 238h0M452.6 222h0M429.3 223h0M463.4 262h0M435.3 198h0M444.5 211h0M424.0 217h0M454.0 230h0M435.2 209h0M386.0 221h0M394.8 204h0M418.4 228h0M425.4 258h0M416.9 253h0M394.8 241h0M425.4 217h0M416.5 246h0M392.0 273h0M389.9 230h0M395.0 274h0M432.9 201h0M389.8 210h0M457.5 267h0M468.8 264h0M412.4 221h0M423.8 234h0M428.4 264h0M391.6 216h0M440.4 217h0M416.0 221h0M403.0 213h0M468.2 231h0M423.7 243h0M431.1 213h0M459.9 233h0M462.9 230h0M470.3 212h0M391.6 229h0M454.1 236h0M447.6 202h0M424.4 280h0M467.0 202h0M443.8 211h0M413.7 257h0M415.7 211h0M441.4 235h0M387.5 210h0M442.9 227h0M388.4 200h0M404.0 227h0M424.0 233h0M393.1 208h0M469.5 218h0M454.0 212h0M404.9 201h0M414.0 225h0M389.5 211h0M402.0 280h0M402.3 208h0M415.0 219h0M461.6 220h0M451.6 219h0M425.5 204h0M408.1 203h0M436.2 214h0M430.9 268h0M388.3 207h0M450.6 202h0M399.7 217h0M442.0 204h0M414.1 240h0M419.2 209h0M422.1 224h0M417.5 204h0M430.8 234h0M439.8 237h0M396.4 207h0M425.2 232h0M414.9 280h0M443.9 246h0M445.4 227h0M394.4 198h0M433.9 249h0M390.0 228h0M426.1 229h0M398.8 204h0M440.6 255h0M447.3 217h0M424.1 228h0M468.3 244h0M416.5 239h0M410.8 280h0M453.2 246h0M448.3 226h0M384.0 203h0M434.6 208h0M442.8 240h0M437.5 227h0M425.0 248h0M436.4 203h0M424.2 214h0M407.8 245h0M405.1 227h0M425.3 206h0M471.9 244h0M413.0 245h0M420.5 207h0M463.1 221h0M424.2 254h0M426.2 215h0M401.2 234h0M429.2 245h0M406.8 203h0M393.5 238h0M462.6 253h0M413.5 249h0M425.3 245h0M451.8 245h0M384.3 213h0M425.4 266h0M469.6 249h0M460.1 216h0M384.5 241h0M385.1 232h0M464.5 214h0M421.1 222h0M434.6 234h0M457.3 200h0M425.5 241h0M432.2 237h0M432.0 221h0M392.0 230h0M411.3 279h0M442.8 255h0M456.1 247h0M432.1 240h0M420.9 225h0M451.5 236h0M455.0 210h0M386.6 253h0M444.3 252h0M453.0 206h0M422.5 200h0M420.1 236h0M391.0 204h0M405.0 199h0M424.4 259h0M403.7 254h0M389.9 238h0M425.5 231h0M444.4 217h0M470.5 233h0M432.3 225h0M452.6 248h0M460.0 239h0M425.1 226h0M457.4 281h0M454.5 220h0M427.3 201h0M384.6 213h0M459.1 203h0M392.1 220h0M384.9 200h0M386.3 202h0M390.3 220h0M426.2 230h0M388.1 201h0M421.1 204h0M452.9 242h0M410.6 240h0M464.6 227h0M451.5 217h0M406.5 260h0M460.1 214h0M472.0 249h0M420.4 270h0M466.9 232h0M411.5 220h0M435.4 229h0M442.9 258h0M459.9 213h0M423.6 213h0M424.9 211h0M394.2 208h0M425.1 275h0M459.5 217h0M434.1 208h0M451.3 224h0M408.7 207h0M417.1 230h0M396.1 264h0M427.5 205h0M403.3 246h0M430.1 215h0M398.8 262h0M454.3 224h0M386.4 222h0M420.1 219h0M442.6 258h0M447.5 244h0M441.4 245h0M441.2 228h0M443.9 264h0M416.5 241h0M407.3 260h0M397.9 209h0M425.6 201h0M417.2 212h0M471.2 206h0M396.3 262h0M411.5 228h0M463.4 211h0M420.0 278h0M446.5 233h0M451.4 235h0M385.3 222h0M409.6 256h0M401.7 253h0M412.2 234h0M420.2 207h0M441.3 268h0M423.4 267h0M415.0 267h0M426.8 225h0M419.4 265h0M385.8 211h0M408.1 211h0M453.2 204h0M418.2 224h0M468.5 223h0M468.3 246h0M460.9 264h0M399.0 230h0M414.8 240h0M452.4 205h0M447.2 226h0M408.3 204h0M438.6 257h0M425.1 243h0M461.5 253h0M385.1 219h0M433.8 252h0M384.2 254h0M428.4 233h0M456.6 209h0M445.5 213h0M391.7 257h0M443.7 232h0M440.8 206h0M471.7 218h0M463.4 239h0M398.9 240h0M425.5 221h0M395.5 242h0M454.8 214h0M424.4 209h0M423.9 212h0M435.4 203h0M420.0 237h0M406.9 225h0M408.7 219h0M425.5 235h0M403.4 238h0M384.4 267h0M384.0 264h0M417.1 246h0M447.5 227h0M413.1 213h0M436.2 201h0M399.5 235h0M432.5 222h0M384.4 258h0M446.7 206h0M425.7 206h0M431.0 269h0M422.5 205h0M422.2 228h0M465.4 202h0M459.5 219h0M385.1 209h0M429.1 214h0M471.2 239h0M467.2 260h0M419.3 249h0M450.1 203h0M384.6 271h0M465.9 229h0M441.2 210h0M387.0 202h0M428.8 220h0M454.0 258h0M461.6 231h0M462.8 234h0M393.8 247h0M472.0 204h0M464.7 211h0M443.8 232h0M424.5 248h0M451.5 231h0M396.1 285h0M384.1 228h0M448.0 258h0M449.5 220h0M425.8 213h0M403.0 210h0M388.0 256h0M427.9 222h0M401.0 246h0M399.6 235h0M411.5 239h0M385.7 208h0M401.0 232h0M454.5 205h0M390.0 226h0M411.3 230h0M384.4 261h0M425.9 243h0M400.3 205h0M394.2 249h0M400.2 224h0M424.3 230h0M386.5 254h0M459.2 263h0M386.3 238h0M387.0 203h0M442.6 253h0M433.5 213h0M454.6 216h0M426.2 242h0M440.9 203h0M460.0 260h0M395.3 203h0M384.0 219h0M384.9 254h0M452.5 221h0M438.5 219h0M402.4 263h0M439.7 225h0M454.1 220h0M406.1 225h0M415.7 249h0M446.1 261h0M415.1 212h0M442.0 218h0M436.2 226h0M403.0 239h0M461.8 234h0M443.0 263h0M399.9 232h0M435.3 256h0M418.2 201h0M463.6 243h0M434.5 210h0M417.1 225h0M468.7 234h0M386.8 216h0M470.3 267h0M398.1 256h0M408.1 225h0M435.6 282h0M435.3 212h0M396.9 272h0M415.5 234h0M446.2 207h0M435.8 207h0M384.5 223h0M417.4 241h0M384.8 281h0M411.3 211h0M386.5 233h0M421.0 257h0M420.4 242h0M454.5 235h0M459.4 224h0M425.6 220h0M409.9 215h0M454.2 221h0M422.4 235h0M464.2 247h0M457.6 204h0M417.2 205h0M444.0 267h0M434.5 217h0M411.4 267h0M453.3 211h0M425.9 206h0M395.1 204h0M398.4 282h0M414.1 233h0M402.9 238h0M431.1 204h0M384.4 219h0M400.2 256h0M396.3 202h0M442.0 220h0M464.7 220h0M384.2 234h0M425.2 259h0M457.3 213h0M430.4 210h0M465.0 231h0M430.4 202h0M416.9 231h0M384.5 235h0M390.9 213h0M454.4 254h0M390.2 214h0M425.7 232h0M406.9 203h0M442.0 223h0M423.5 256h0M433.4 215h0M399.7 230h0M385.0 231h0M447.4 205h0M413.1 215h0M468.1 204h0M427.8 250h0M425.4 210h0M420.9 220h0M390.8 241h0M460.0 244h0M436.4 214h0M434.3 240h0M444.4 230h0M421.1 239h0M462.4 255h0M385.1 263h0M396.2 200h0M425.9 217h0M446.1 250h0M436.3 204h0M401.0 225h0M415.1 212h0M453.2 226h0M405.7 237h0M394.8 248h0M430.8 272h0M454.3 239h0M425.8 247h0M398.4 254h0M385.7 210h0M438.1 207h0M388.4 225h0M464.2 206h0M450.5 223h0M413.9 239h0M453.3 231h0M436.3 237h0M472.0 217h0M436.3 224h0M461.2 270h0M424.9 225h0M451.8 262h0M384.7 262h0" stroke="#f7bb4c" stroke-width="0.85" stroke-linecap="round" stroke-opacity="0.3" fill="none"/>
<path d="M418.6 254h0M455.0 234h0M433.0 201h0M442.4 215h0M432.4 203h0M418.9 224h0M411.4 265h0M442.5 203h0M414.2 230h0M417.1 212h0M443.7 275h0M400.4 228h0M396.8 228h0M395.5 267h0M463.4 209h0M464.9 217h0M449.2 207h0M386.4 225h0M413.8 213h0M398.8 235h0M465.3 199h0M399.9 219h0M454.2 248h0M407.3 201h0M419.3 250h0M451.3 215h0M455.2 211h0M456.8 204h0M403.0 243h0M412.0 254h0M425.7 277h0M449.6 209h0M452.2 257h0M386.7 215h0M413.1 204h0M439.3 208h0M395.2 234h0M385.3 218h0M445.5 203h0M414.0 212h0M451.5 215h0M384.8 252h0M436.1 229h0M415.7 283h0M425.7 226h0M385.7 202h0M385.0 210h0M402.8 208h0M416.5 257h0M459.8 205h0M459.5 201h0M407.0 208h0M435.9 243h0M420.5 240h0M434.1 218h0M385.9 218h0M384.3 214h0M404.8 211h0M409.1 231h0M404.0 204h0M419.2 212h0M420.9 225h0M425.1 230h0M418.2 201h0M415.6 201h0M386.4 215h0M431.2 208h0M443.7 205h0M461.3 246h0M435.3 226h0M398.9 199h0M430.6 276h0M418.2 203h0M384.5 229h0M386.4 228h0M394.5 219h0M390.8 202h0M402.1 259h0M387.5 231h0M419.2 216h0M395.3 260h0M444.9 239h0M424.5 231h0M449.8 235h0M438.9 219h0M418.8 218h0M444.8 222h0M411.5 198h0M460.1 240h0M464.4 251h0M406.6 223h0M418.1 236h0M392.5 201h0M393.8 243h0M386.2 253h0M386.1 244h0M418.3 207h0M423.6 232h0M384.5 261h0M454.2 221h0M445.7 263h0M425.6 215h0M471.4 223h0M389.9 245h0M410.7 214h0M435.4 246h0M387.0 222h0M425.2 253h0M420.3 233h0M384.3 213h0M384.0 282h0M401.4 205h0M453.3 227h0M434.5 228h0M437.6 225h0M442.2 202h0M464.4 209h0M407.8 242h0M430.7 242h0M464.5 227h0M414.9 242h0M442.5 239h0M391.9 244h0M386.3 259h0M418.8 207h0M386.5 218h0M400.1 227h0M409.8 212h0M420.7 201h0M467.1 256h0M418.7 231h0M398.9 209h0M462.8 219h0M386.9 223h0M425.3 217h0M391.4 198h0M464.6 227h0M394.9 204h0M452.7 201h0M433.1 217h0M436.1 220h0M387.8 225h0M445.9 233h0M393.5 250h0M408.7 209h0M412.5 223h0M386.5 203h0M464.1 208h0M404.8 233h0M420.7 233h0M452.9 245h0M441.5 239h0M464.2 205h0M385.0 258h0M386.4 222h0M400.6 228h0M395.3 233h0M451.6 247h0M387.4 250h0M449.9 263h0M413.5 253h0M422.5 203h0M422.4 214h0M386.6 243h0M384.6 238h0M430.3 199h0M386.8 232h0M435.9 210h0M462.6 222h0M434.2 203h0M468.5 216h0M392.8 232h0M416.8 234h0M430.7 202h0M433.0 203h0M422.8 226h0M388.5 203h0M416.5 229h0M388.1 206h0M463.0 242h0M419.9 228h0M470.5 230h0M402.9 218h0M464.6 208h0M464.3 253h0M451.6 220h0M394.8 200h0M442.3 251h0M453.3 214h0M407.8 212h0M464.3 238h0M384.0 251h0M408.8 210h0M417.3 247h0M408.4 235h0M444.7 251h0M398.7 219h0M423.4 222h0M425.0 226h0M454.7 218h0M384.3 206h0M423.9 239h0M419.4 211h0M400.3 225h0M406.8 216h0M430.5 209h0M444.7 219h0M458.4 227h0M417.6 224h0M424.9 260h0M413.7 233h0M388.2 205h0M395.2 219h0M449.9 248h0M464.6 251h0M460.2 204h0M433.5 199h0M419.9 237h0M434.5 251h0M431.7 263h0M424.5 267h0M432.7 205h0M403.8 271h0M386.8 244h0M436.8 231h0M460.9 200h0M430.9 224h0M450.6 237h0M436.4 211h0M435.1 232h0M419.9 247h0M437.6 246h0M436.2 199h0M449.4 226h0M456.7 223h0M385.1 221h0M413.3 218h0M384.8 215h0M394.2 204h0M423.2 199h0M396.5 204h0M388.4 256h0M384.5 230h0M458.1 243h0M425.7 199h0M385.9 199h0M441.3 268h0M448.1 283h0M453.4 244h0M446.1 225h0M444.1 211h0M399.8 218h0M431.1 258h0M439.0 263h0M432.6 239h0M412.0 217h0M441.4 277h0M391.9 218h0M425.3 212h0M391.6 217h0M461.4 215h0M400.3 200h0M434.2 211h0M429.1 246h0M431.7 208h0M402.8 235h0M446.4 220h0M422.5 208h0M384.3 219h0M384.8 250h0M417.2 219h0M436.2 224h0M424.2 203h0M466.6 212h0M442.3 265h0M399.9 215h0M400.3 283h0M399.9 226h0M454.2 228h0M430.1 199h0M420.5 267h0M394.3 207h0M386.9 265h0M384.8 215h0M408.5 257h0M394.5 270h0M430.6 200h0M423.2 274h0M449.9 217h0M388.5 212h0M441.9 240h0M413.8 202h0M425.6 213h0M443.7 206h0M421.8 214h0M464.4 243h0M418.2 215h0M406.5 220h0M436.9 204h0M455.2 204h0M455.0 213h0M454.3 201h0M420.2 210h0M419.0 213h0M445.3 219h0M447.9 246h0M384.0 236h0M387.0 202h0M442.0 258h0M441.1 279h0M385.7 209h0M386.5 223h0M459.4 224h0M408.3 200h0M425.5 224h0M439.3 216h0M428.7 210h0M422.4 200h0M462.9 257h0M384.6 210h0M435.6 212h0M466.8 250h0M424.4 245h0M465.4 278h0M434.2 237h0M388.5 243h0M414.1 248h0M461.1 227h0M413.5 207h0M419.0 230h0M446.4 213h0M408.0 206h0M468.3 226h0M454.6 225h0M449.2 217h0M401.3 212h0M451.5 232h0M470.6 255h0M465.2 230h0M445.6 237h0M441.0 223h0M447.8 207h0M464.2 208h0M416.5 217h0M420.4 209h0M429.0 247h0M439.5 223h0M451.4 214h0M455.0 233h0M396.1 214h0M448.9 261h0M408.4 225h0M389.1 213h0M458.2 272h0M461.3 225h0M415.6 230h0M420.3 253h0M423.3 225h0M384.5 214h0M470.5 231h0M433.1 220h0M449.2 208h0M417.3 239h0M470.1 235h0M415.0 206h0M392.6 206h0M460.9 215h0M420.3 242h0M408.9 266h0M438.0 235h0M468.5 255h0M385.8 231h0M431.0 235h0M416.8 228h0M444.8 260h0M419.9 205h0M444.1 250h0M471.7 217h0M440.5 249h0M472.1 204h0M457.6 221h0M388.0 232h0M454.2 274h0M447.4 235h0M442.4 216h0M428.6 269h0M422.4 224h0M466.6 218h0M424.9 235h0M447.4 250h0M386.6 208h0M463.5 220h0M396.7 229h0M385.0 203h0M467.1 228h0M435.9 245h0M451.4 250h0M394.7 235h0M463.0 220h0M423.4 228h0M444.5 263h0M451.6 200h0M404.5 229h0M421.6 227h0M403.6 199h0M442.2 202h0M406.2 225h0M440.7 224h0M457.9 201h0M435.4 272h0M417.6 234h0M435.3 221h0M426.7 203h0M423.2 254h0M434.4 227h0M429.5 221h0M406.6 231h0M384.9 216h0M406.6 199h0M454.5 254h0M424.5 236h0M414.9 222h0M389.9 239h0M407.3 212h0M433.4 220h0M432.1 224h0M454.8 250h0M419.9 219h0M388.3 215h0M402.9 230h0M418.3 217h0M395.5 224h0M464.1 237h0M400.4 211h0M411.4 203h0M410.8 229h0M448.0 233h0M450.9 206h0M430.5 253h0M424.0 244h0M425.5 242h0M451.7 214h0M452.6 222h0M386.2 215h0M385.1 229h0M435.2 229h0M384.3 224h0M407.3 223h0M443.2 231h0M408.9 198h0M423.7 250h0M384.6 232h0M386.6 233h0M425.4 258h0M449.3 236h0M444.1 227h0M385.3 233h0M414.1 204h0M414.9 220h0M407.3 207h0M400.0 260h0M412.6 215h0M441.2 215h0M414.2 276h0M466.6 244h0M417.6 214h0M442.1 207h0M463.0 241h0M424.5 216h0M423.9 203h0M413.9 246h0M442.8 210h0M417.3 239h0M420.1 246h0M386.3 262h0M418.1 203h0M442.7 229h0M423.5 237h0M444.6 224h0M384.7 200h0M399.6 261h0M444.7 202h0M407.0 211h0M418.8 211h0M468.7 237h0M411.4 213h0M408.6 204h0M455.0 250h0M425.3 240h0M467.1 217h0M444.1 247h0M464.6 242h0M437.7 202h0M465.0 224h0M385.9 247h0M453.4 223h0M430.4 274h0M395.0 258h0M417.4 250h0M451.2 208h0M449.6 207h0M434.4 233h0M438.0 232h0M444.9 201h0M390.2 260h0M385.3 254h0M423.4 216h0M450.6 213h0M441.4 231h0M456.1 208h0M464.8 241h0M396.6 239h0M438.8 228h0M412.1 256h0M439.1 218h0M444.3 259h0M404.6 228h0M384.0 221h0M396.4 199h0M436.1 228h0M418.8 238h0M406.2 229h0M463.0 205h0M471.2 269h0M446.6 205h0M393.1 219h0M399.4 213h0M425.0 226h0M400.0 226h0M395.1 215h0M433.7 233h0M432.8 222h0M421.1 239h0M418.9 211h0M416.6 207h0M426.2 231h0M413.0 222h0M451.4 238h0M402.2 213h0M403.1 205h0M454.5 258h0M406.5 214h0M433.0 239h0M384.5 233h0M398.8 205h0M397.9 234h0M399.4 207h0M406.3 203h0M395.5 277h0M417.2 242h0M386.2 216h0M437.0 204h0M414.2 213h0M442.3 211h0M463.2 223h0M445.5 247h0M432.0 230h0M468.3 253h0M460.9 199h0M424.0 215h0M450.8 279h0M459.6 245h0M449.6 203h0M394.3 226h0M420.6 237h0M458.1 260h0M422.4 243h0M384.6 222h0M454.0 211h0M405.7 266h0M436.3 206h0M402.0 281h0M451.3 273h0M424.4 207h0M442.6 215h0M386.1 202h0M454.9 199h0M408.0 206h0M393.1 229h0M385.1 227h0M451.1 218h0M389.7 204h0M452.7 223h0M423.3 214h0M394.8 210h0M409.6 206h0M456.3 223h0M441.4 211h0M468.6 262h0M409.6 217h0M406.9 228h0M395.1 221h0M433.8 225h0M455.2 206h0M446.2 240h0M430.7 200h0M426.2 207h0M408.6 226h0M451.5 206h0M420.4 227h0M461.4 202h0M407.9 211h0M447.4 247h0M410.8 210h0M402.8 230h0M436.4 216h0M434.6 223h0M432.9 265h0M415.6 242h0M455.0 249h0M455.9 216h0M413.0 216h0M449.5 251h0M457.5 217h0M426.1 213h0M463.0 232h0M393.4 241h0M446.0 219h0M401.5 206h0M427.0 232h0M464.2 207h0M396.3 227h0M414.0 222h0M397.8 223h0M397.1 224h0M425.6 274h0M392.6 211h0M425.5 212h0M427.5 250h0M389.7 202h0M423.8 216h0M418.7 208h0M441.4 201h0M403.0 235h0M429.5 209h0M453.9 244h0M385.8 214h0M452.4 252h0M435.9 252h0M426.1 200h0M417.1 235h0M458.4 253h0M427.6 248h0M433.6 244h0M414.7 229h0M426.1 222h0M427.3 207h0M398.8 226h0M402.0 230h0M460.1 214h0M452.4 271h0M452.6 219h0M444.9 214h0M409.6 222h0M449.4 210h0M386.6 222h0M412.2 229h0M421.0 198h0M457.5 257h0M426.0 251h0M454.0 261h0M420.8 239h0M434.7 252h0M403.1 215h0M457.5 218h0M435.2 215h0M436.9 252h0M409.7 203h0M384.9 217h0M415.6 243h0M442.8 237h0M418.5 232h0M384.5 237h0M432.6 210h0M428.9 209h0M464.7 229h0M453.2 213h0M394.2 242h0M423.7 277h0M404.9 213h0M431.9 212h0M386.1 231h0M385.3 259h0M450.8 236h0M407.2 217h0M443.8 207h0M384.8 248h0M456.5 203h0M440.2 228h0M468.3 215h0M466.9 277h0M386.6 253h0M394.8 213h0M420.6 227h0M437.3 239h0M409.0 237h0M452.2 249h0M440.7 218h0M425.4 257h0M447.1 213h0M464.3 217h0M442.3 221h0M423.3 240h0M456.6 231h0M418.9 225h0M414.7 206h0M417.1 242h0M464.7 210h0M420.1 227h0M425.4 218h0M404.5 224h0M398.8 221h0M427.2 212h0M417.4 258h0M423.9 217h0M433.6 207h0M468.0 249h0M420.4 247h0M450.6 247h0M454.4 216h0M403.5 280h0M425.5 204h0M398.0 198h0M432.3 209h0M396.2 214h0M423.6 209h0M397.0 222h0M423.5 211h0M396.3 244h0M385.9 215h0M432.8 241h0M396.0 248h0M444.1 243h0M384.2 212h0M463.3 199h0M426.1 222h0M420.2 236h0M385.2 238h0M392.8 216h0M408.2 272h0M461.8 206h0M398.2 267h0M428.3 231h0M419.8 205h0M451.4 239h0M447.1 225h0M443.0 216h0M427.3 218h0M407.5 232h0M409.0 225h0M425.8 210h0M427.3 208h0M466.0 243h0M419.3 216h0M416.6 217h0M386.0 259h0M457.8 227h0M415.8 225h0M424.2 236h0M417.6 261h0M420.7 231h0M428.5 263h0M454.5 226h0M386.7 238h0M421.1 231h0M405.7 212h0M403.1 243h0M454.1 230h0M411.4 199h0M465.2 229h0M385.1 210h0M449.5 285h0M384.9 211h0M438.0 210h0M387.7 222h0M464.6 206h0M415.6 243h0M444.7 226h0M413.4 255h0M433.9 217h0M415.0 210h0M425.2 217h0M384.4 270h0M446.6 199h0M386.5 240h0M454.1 217h0M407.0 211h0M430.9 228h0M460.8 210h0M430.7 247h0M464.3 219h0M420.3 207h0M415.1 235h0M450.6 279h0M430.1 242h0M400.0 228h0M406.2 254h0M456.7 255h0M442.5 237h0M460.3 218h0M463.5 208h0M456.9 260h0M452.8 218h0M453.2 205h0M397.7 234h0M454.0 214h0M420.4 218h0M433.6 225h0M450.8 244h0M394.5 230h0M384.3 275h0M411.4 218h0M406.8 212h0M384.3 214h0M433.7 220h0M460.1 212h0M416.6 223h0M444.4 212h0M425.7 234h0M388.5 224h0M420.1 227h0M452.8 200h0M415.3 216h0M402.0 233h0M440.8 263h0M443.8 219h0M465.4 258h0M438.1 201h0M462.9 233h0M454.1 220h0M444.1 253h0M444.7 201h0M384.0 220h0M454.4 218h0M414.2 229h0M470.4 249h0M438.9 246h0M409.1 281h0M401.1 277h0M426.8 235h0M432.1 208h0M435.5 212h0M436.2 202h0M405.7 239h0M387.7 249h0M426.1 227h0M425.6 214h0M460.8 236h0M468.2 240h0M408.1 221h0M437.4 206h0M454.5 223h0M393.8 235h0M468.1 219h0M452.7 210h0M398.0 230h0M452.8 236h0M425.9 243h0M396.9 236h0M440.3 211h0M449.1 200h0M425.3 215h0M411.6 212h0M423.9 205h0M432.0 263h0M427.6 245h0M454.2 240h0M426.0 224h0M435.3 232h0M423.2 266h0M452.5 201h0M430.9 249h0M395.3 258h0M415.8 206h0M429.0 209h0M436.0 230h0M471.7 269h0M385.7 235h0M405.6 225h0M468.6 224h0M394.9 235h0M427.5 235h0M469.6 204h0M435.7 239h0M415.5 235h0M437.7 224h0M408.9 226h0M400.6 249h0M393.7 225h0M412.2 212h0M463.4 209h0M441.3 242h0M447.5 210h0M395.4 210h0M444.2 242h0M417.5 233h0M464.5 278h0M418.7 277h0M470.5 198h0M450.7 241h0M442.6 253h0M441.6 237h0M432.9 266h0M417.3 243h0M461.6 235h0M454.3 220h0M472.1 284h0M415.4 218h0M467.9 236h0M436.4 239h0M395.5 212h0M461.3 272h0M424.9 228h0M402.0 238h0M464.9 254h0M443.2 251h0M414.9 261h0M435.3 217h0M434.2 220h0M430.7 243h0M448.9 248h0M425.0 224h0M430.2 251h0M419.0 206h0M456.4 236h0M467.9 215h0M408.5 201h0M446.7 214h0M466.6 236h0M436.2 228h0M449.8 226h0M448.9 260h0M399.3 223h0" stroke="#ee6068" stroke-width="0.85" stroke-linecap="round" stroke-opacity="0.3" fill="none"/>
<path d="M465.8 248h0M420.9 258h0M402.0 229h0M385.2 237h0M454.9 239h0M416.0 225h0M444.1 257h0M385.1 211h0M457.6 238h0M401.9 221h0M439.4 269h0M425.7 259h0M458.2 245h0M447.2 257h0M455.9 264h0M413.1 214h0M416.6 209h0M432.5 220h0M415.8 268h0M469.4 236h0M439.8 234h0M442.2 285h0M423.4 210h0M430.7 274h0M390.3 221h0M384.6 231h0M427.0 199h0M471.9 245h0M455.9 201h0M436.5 231h0M425.7 217h0M444.4 251h0M449.1 265h0M423.4 204h0M432.9 233h0M421.0 211h0M414.0 207h0M440.7 231h0M466.6 226h0M408.2 201h0M435.6 281h0M384.1 234h0M406.6 275h0M425.8 202h0M427.5 253h0M464.1 278h0M414.0 221h0M391.9 256h0M403.9 208h0M386.5 235h0M420.9 214h0M451.5 203h0M443.9 250h0M420.0 232h0M389.8 226h0M391.8 213h0M436.4 230h0M457.5 203h0M421.7 199h0M456.6 236h0M453.0 226h0M387.9 254h0M410.6 216h0M459.2 237h0M427.2 244h0M420.2 284h0M425.9 202h0M405.3 204h0M464.5 213h0M429.2 253h0M413.5 254h0M457.5 264h0M469.6 215h0M384.2 207h0M413.5 211h0M456.1 248h0M434.5 204h0M385.7 258h0M432.3 207h0M432.6 234h0M449.3 221h0M432.3 210h0M412.5 211h0M455.2 229h0M463.7 280h0M386.5 247h0M414.3 233h0M471.6 215h0M452.2 283h0M442.3 201h0M396.6 265h0M419.9 230h0M400.5 212h0M452.4 206h0M417.1 249h0M386.7 216h0M401.6 216h0M454.7 242h0M451.1 240h0M451.4 263h0M451.2 239h0M425.5 250h0M453.1 220h0M425.4 280h0M454.3 256h0M454.1 198h0M406.3 231h0M464.5 248h0M459.7 257h0M388.4 227h0M451.6 253h0M402.8 222h0M437.6 241h0M406.5 246h0M389.7 208h0M384.7 235h0M458.5 240h0M415.1 221h0M386.3 213h0M385.2 276h0M459.5 210h0M456.1 215h0M399.5 208h0M468.4 202h0M399.8 204h0M404.9 239h0M452.4 206h0M385.8 201h0M460.3 264h0M415.5 242h0M419.2 238h0M413.6 227h0M385.8 274h0M464.4 201h0M405.6 222h0M386.9 232h0M397.0 231h0M384.9 234h0M441.0 229h0M435.8 215h0M409.0 232h0M418.6 201h0M455.2 252h0M384.3 203h0M415.4 230h0M406.3 259h0M468.1 232h0M464.5 219h0M465.0 243h0M430.8 222h0M462.8 258h0M416.9 267h0M407.0 282h0M440.3 219h0M395.2 225h0M465.1 226h0M418.8 266h0M420.4 234h0M390.1 210h0M385.0 236h0M403.1 210h0M418.7 226h0M423.8 278h0M446.4 246h0M395.9 230h0M426.1 208h0M438.7 254h0M449.5 240h0M408.5 251h0M465.9 225h0M444.4 284h0M401.8 216h0M452.6 218h0M462.6 212h0M425.1 248h0M406.6 211h0M423.9 246h0M456.7 233h0M396.9 255h0M413.3 253h0M442.6 233h0M457.4 216h0M384.7 205h0M456.6 239h0M402.9 279h0M400.6 212h0M464.7 234h0M398.0 256h0M386.3 225h0M449.8 240h0M405.1 210h0M425.6 240h0M463.3 207h0M447.9 241h0M447.6 215h0M443.8 224h0M456.9 220h0M421.0 219h0M467.0 215h0M463.6 231h0M418.3 208h0M421.8 230h0M465.2 207h0M411.3 212h0M384.5 231h0M456.2 229h0M413.5 232h0M420.6 226h0M452.4 258h0M386.3 228h0M437.3 240h0M395.2 203h0M384.8 219h0M408.7 266h0M469.4 251h0M404.7 240h0M426.0 219h0M427.4 239h0M440.6 252h0M418.4 214h0M437.8 280h0M425.9 252h0M461.6 220h0M471.3 244h0M398.3 237h0M384.5 199h0M452.7 233h0M406.3 239h0M402.0 203h0M464.3 210h0M423.2 252h0M443.2 213h0M389.2 235h0M430.3 222h0M420.2 253h0M384.0 214h0M411.5 230h0M441.1 220h0M451.4 259h0M416.9 255h0M425.6 242h0M463.0 240h0M386.2 221h0M452.8 210h0M412.0 213h0M388.2 271h0M440.3 216h0M459.8 199h0M398.5 241h0M420.6 211h0M470.5 250h0M456.1 232h0M466.1 215h0M437.1 267h0M445.4 264h0M444.0 236h0M425.0 244h0M435.7 206h0M454.2 230h0M436.3 231h0M412.2 241h0M420.1 268h0M420.9 230h0M452.2 204h0M406.6 234h0M386.9 209h0M400.0 202h0M432.2 237h0M418.6 235h0M425.0 206h0M466.1 252h0M445.0 214h0M441.6 209h0M396.1 249h0M449.7 264h0M471.9 214h0M451.3 261h0M450.8 201h0M449.5 201h0M457.4 261h0M405.1 232h0M453.9 226h0M388.0 282h0M451.8 205h0M408.5 278h0M414.7 207h0M425.0 239h0M442.5 232h0M425.6 213h0M399.6 210h0M411.7 233h0M450.7 267h0M399.9 228h0M389.2 235h0M387.0 258h0M424.4 218h0M435.3 242h0M428.8 224h0M423.2 248h0M398.3 227h0M398.6 221h0M470.1 237h0M388.2 240h0M455.6 225h0M401.5 235h0M399.6 203h0M453.5 237h0M471.4 204h0M449.0 233h0M395.1 239h0M414.8 213h0M412.2 251h0M451.3 241h0M468.6 256h0M397.9 222h0M419.0 199h0M396.5 246h0M413.8 215h0M457.4 247h0M472.0 235h0M416.5 249h0M441.2 221h0M429.5 238h0M449.7 223h0M443.2 224h0M406.4 216h0M469.9 220h0M451.3 240h0M443.2 199h0M386.1 222h0M431.8 238h0M432.0 210h0M433.7 224h0M397.6 244h0M466.5 220h0M431.0 247h0M451.3 214h0M432.6 241h0M465.4 254h0M411.4 211h0M461.0 233h0M451.4 247h0M390.3 232h0M391.5 261h0M471.9 251h0M442.8 267h0M450.7 203h0M384.8 226h0M447.2 237h0M415.5 226h0M423.6 251h0M405.6 278h0M422.6 236h0M424.2 249h0M419.9 249h0M420.7 233h0M416.4 213h0M420.1 261h0M411.3 243h0M456.9 210h0M385.3 219h0M402.7 204h0M385.8 227h0M454.0 211h0M430.6 213h0M451.1 247h0M394.5 204h0M425.5 285h0M449.7 243h0M386.0 267h0M399.5 254h0M452.8 223h0M387.8 237h0M458.6 238h0M408.8 215h0M430.3 239h0M386.5 271h0M430.5 254h0M427.8 231h0M415.7 220h0M451.1 271h0M385.9 199h0M434.5 214h0M389.5 225h0M470.3 282h0M389.9 231h0M398.9 234h0M425.3 198h0M458.5 232h0M417.1 271h0M456.5 271h0M439.6 202h0M397.7 274h0M384.9 244h0M423.8 211h0M412.4 245h0M386.6 215h0M436.9 219h0M384.6 265h0M420.9 209h0M384.6 248h0M386.4 204h0M384.7 246h0M420.4 236h0M394.9 239h0M451.0 242h0M444.4 222h0M462.5 271h0M451.5 253h0M458.3 221h0M469.7 268h0M384.6 240h0M386.1 252h0M423.9 216h0M451.6 269h0M384.5 229h0M451.5 204h0M399.8 272h0M431.1 205h0M400.6 234h0M431.0 228h0M403.9 268h0M400.1 220h0M461.1 228h0M404.5 216h0M386.2 210h0M455.2 233h0M412.4 224h0M462.5 241h0M420.2 212h0M424.1 203h0M449.8 229h0M454.6 265h0M452.7 246h0M461.3 203h0M467.7 215h0M453.9 243h0M427.1 208h0M416.8 223h0M396.2 233h0M410.2 215h0M384.3 229h0M453.1 206h0M396.9 222h0M444.5 245h0M429.0 240h0M433.8 243h0M430.9 265h0M404.7 207h0M468.2 225h0M407.1 257h0M439.9 201h0M423.6 238h0M399.3 223h0M415.0 220h0M426.0 239h0M458.4 268h0M435.3 265h0M442.7 205h0M458.4 204h0M468.2 206h0M406.9 221h0M452.9 205h0M410.0 251h0M427.1 264h0M444.1 239h0M432.5 206h0M448.0 264h0M423.9 215h0M435.2 207h0M441.3 208h0M445.6 250h0M461.7 275h0M426.0 245h0M418.4 201h0M385.2 221h0M471.5 207h0M416.4 258h0M414.2 248h0M385.3 238h0M386.2 221h0M467.6 257h0M446.1 251h0M396.6 235h0M394.2 217h0M386.2 220h0M451.0 222h0M427.2 215h0M444.3 214h0M413.2 252h0M425.7 202h0M435.6 248h0M401.2 238h0M397.9 233h0M425.5 198h0M459.7 273h0M408.5 229h0M415.7 238h0M398.2 277h0M459.2 243h0M468.7 229h0M407.3 264h0M384.4 219h0M414.1 229h0M463.4 201h0M413.9 240h0M456.7 258h0M401.6 229h0M435.7 206h0M453.4 222h0M419.3 219h0M464.6 220h0M451.1 200h0M404.7 237h0M421.6 209h0M460.7 220h0M394.4 248h0M417.3 212h0M387.7 212h0M449.3 259h0M459.5 251h0M466.8 256h0M425.0 225h0M384.4 220h0M455.9 245h0M440.7 223h0M411.6 209h0M433.1 209h0M394.3 264h0M386.3 263h0M434.6 230h0M442.4 240h0M425.4 251h0M415.8 233h0M395.0 201h0M468.1 235h0M395.0 223h0M420.5 208h0M399.9 238h0M414.9 202h0M459.1 219h0M425.9 250h0M390.1 205h0M446.4 232h0M406.9 204h0M396.4 211h0M452.2 226h0M418.2 263h0M440.4 214h0M438.0 228h0M465.4 206h0M419.0 253h0M399.9 233h0M459.1 282h0M390.4 238h0M453.2 263h0M462.9 232h0M386.4 273h0M407.0 238h0M397.2 238h0M398.1 201h0M455.1 253h0M445.6 220h0M412.2 209h0M423.3 255h0M434.0 220h0M420.4 222h0M434.7 229h0M407.1 250h0M461.9 232h0M424.9 248h0M426.2 222h0M440.8 237h0M386.0 250h0M416.4 229h0M391.7 250h0M431.0 213h0M446.3 210h0M414.9 217h0M418.6 242h0M451.2 248h0M414.1 213h0M410.2 248h0M440.4 201h0M396.2 216h0M386.8 280h0M459.9 228h0M393.7 253h0M442.7 228h0M397.1 244h0M430.4 237h0M433.5 234h0M423.6 227h0M448.1 225h0M453.1 261h0M386.3 226h0M432.2 255h0M463.7 208h0M463.4 233h0M470.3 239h0M450.8 245h0M450.6 234h0M418.4 269h0M416.7 233h0M427.8 245h0M452.6 221h0M386.4 210h0M384.0 228h0M440.3 280h0M447.1 227h0M393.2 274h0M436.8 202h0M470.1 238h0M451.6 226h0M433.7 215h0M385.2 224h0M435.9 266h0M391.0 264h0M453.9 239h0M421.9 246h0M452.6 223h0M441.9 244h0M406.6 212h0M440.5 250h0M443.1 215h0M438.1 206h0M468.0 232h0M464.4 205h0M412.2 211h0M384.2 248h0M459.3 240h0M402.3 221h0M420.0 251h0M451.5 200h0M434.0 226h0M386.3 207h0M443.0 236h0M421.5 263h0M432.8 206h0M465.1 215h0M426.0 259h0M403.3 211h0M459.6 257h0M468.5 207h0M434.6 213h0M391.1 215h0M447.5 219h0M460.7 249h0M471.2 211h0M444.1 229h0M407.0 247h0M451.5 278h0M435.8 247h0M401.8 202h0M385.0 224h0M443.2 257h0M420.5 242h0M421.9 210h0M464.7 277h0M385.2 203h0M405.2 252h0M422.2 246h0M385.0 208h0M464.9 219h0M425.8 202h0M424.4 226h0M416.6 240h0M419.2 222h0M452.3 203h0M453.0 224h0M436.1 213h0M421.1 200h0M425.9 215h0M394.6 224h0M409.0 209h0M426.0 279h0M426.2 211h0M442.8 234h0M421.8 243h0M393.4 211h0M406.2 223h0M384.0 243h0M454.2 260h0M388.3 254h0M431.3 201h0M449.8 204h0M415.5 214h0M430.0 245h0M447.4 230h0M402.8 236h0M441.2 248h0M419.2 205h0M458.5 243h0M468.0 223h0M385.3 216h0M430.9 223h0M448.4 228h0M436.0 206h0M416.0 252h0M447.1 253h0M425.7 200h0M436.2 208h0M426.2 268h0M466.0 253h0M433.7 224h0M462.6 227h0M470.4 248h0M395.5 251h0M442.9 217h0M398.6 234h0M451.7 239h0M425.3 237h0M386.4 230h0M415.8 199h0M471.4 254h0M431.3 220h0M394.8 214h0M410.8 255h0M425.2 203h0M391.2 252h0M453.1 212h0M387.6 249h0M410.0 249h0M384.6 262h0M410.4 220h0M384.2 236h0M385.9 235h0M445.4 213h0M416.8 240h0M445.4 221h0M431.1 211h0M420.9 265h0M450.1 230h0M416.0 216h0M430.7 241h0M439.7 271h0M390.1 239h0M419.2 207h0M462.9 237h0M425.2 231h0M470.1 240h0M433.6 233h0M428.7 242h0M397.1 236h0M385.1 237h0M467.0 203h0M447.6 251h0M384.6 219h0M431.3 206h0M390.9 259h0M412.1 243h0M418.8 225h0M398.5 235h0M408.9 218h0M386.5 253h0M468.8 226h0M410.8 232h0M413.8 267h0M384.7 224h0M387.9 223h0M451.1 225h0M427.0 265h0M425.2 234h0M438.6 203h0M447.4 208h0M384.5 203h0M431.3 229h0M458.4 249h0M435.6 201h0M425.5 207h0M418.3 207h0M388.1 240h0M397.9 219h0M384.6 223h0M406.5 200h0M440.4 209h0M462.8 231h0M386.8 204h0M406.8 269h0M429.0 217h0M468.0 213h0M445.7 265h0M399.8 208h0M454.2 206h0M456.0 236h0M468.6 214h0M408.8 208h0M451.6 222h0M425.0 210h0M386.5 223h0M450.0 217h0M392.0 223h0M413.5 217h0M447.6 238h0M435.3 226h0M450.7 243h0M468.0 223h0M387.7 255h0M442.4 240h0M430.2 258h0M387.8 207h0M389.8 225h0M451.2 222h0M387.0 216h0M437.8 220h0M423.5 216h0M417.1 223h0M453.4 243h0M388.7 265h0M422.1 218h0M420.2 213h0M435.3 235h0M447.7 221h0M462.8 219h0M451.4 241h0M430.4 250h0M439.2 253h0M441.5 251h0M463.5 248h0M443.1 274h0M411.8 218h0M465.0 260h0M396.9 266h0M444.4 249h0M470.0 203h0M402.9 209h0M429.3 234h0M445.4 225h0M433.9 213h0M454.7 219h0M419.4 244h0M393.5 204h0M443.2 222h0M438.0 232h0M424.9 226h0M413.0 215h0M391.4 207h0M434.6 252h0M437.1 238h0M421.6 250h0M425.1 243h0M394.8 230h0M424.2 235h0M449.6 233h0M425.5 208h0M420.7 211h0M439.1 210h0M444.7 208h0M414.7 267h0M421.0 228h0M460.2 240h0M442.9 258h0M417.5 227h0M395.0 206h0M386.1 241h0M420.1 199h0M423.5 198h0M415.2 207h0M388.4 244h0M415.9 214h0M417.0 213h0M394.2 210h0M448.2 220h0M406.4 273h0M434.1 201h0M472.0 218h0M396.0 246h0M468.1 272h0M466.5 245h0M411.4 199h0M420.7 224h0M459.1 257h0M423.8 224h0M431.2 230h0M444.1 208h0M434.0 204h0M433.7 205h0M395.2 215h0M456.6 259h0M472.1 216h0M390.4 207h0M420.8 205h0M384.3 228h0M446.2 214h0M396.2 246h0M404.7 253h0M419.9 237h0M446.3 205h0M442.4 200h0M414.1 215h0M389.1 206h0M464.5 220h0M386.5 241h0M404.5 229h0M430.7 211h0M453.9 233h0M444.9 254h0M454.7 224h0M408.4 232h0M435.1 243h0M414.7 206h0M465.3 205h0M408.6 260h0M455.7 230h0M454.1 246h0M451.8 230h0M454.4 241h0M409.2 200h0M400.4 216h0M449.6 200h0M390.1 199h0M401.2 231h0M394.2 238h0M417.1 252h0M457.3 259h0M412.6 230h0M427.4 245h0M466.5 209h0M471.9 213h0M406.4 223h0M425.7 224h0M454.4 252h0M465.1 236h0M415.1 225h0M418.6 224h0M449.5 221h0M391.1 271h0M388.1 222h0M420.5 281h0M469.7 217h0M456.6 239h0M442.2 209h0M450.7 235h0M423.2 218h0" stroke="#4fb5f0" stroke-width="0.85" stroke-linecap="round" stroke-opacity="0.3" fill="none"/>
<path d="M451.4 225h0M427.6 264h0M401.1 214h0M460.8 208h0M395.0 236h0M443.8 205h0M451.0 259h0M468.2 218h0M448.4 225h0M411.7 228h0M403.7 253h0M460.3 211h0M439.6 213h0M416.9 259h0M420.0 267h0M454.4 222h0M427.6 213h0M430.2 206h0M466.5 230h0M461.1 214h0M441.4 240h0M419.3 207h0M411.9 247h0M425.4 260h0M426.1 219h0M444.7 258h0M386.8 238h0M423.9 248h0M424.1 229h0M408.7 204h0M401.6 218h0M442.0 260h0M434.5 206h0M405.2 248h0M425.1 222h0M434.6 258h0M452.6 258h0M450.9 256h0M423.9 218h0M460.9 226h0M384.1 257h0M392.8 219h0M418.5 257h0M454.0 219h0M425.4 240h0M458.4 208h0M450.8 216h0M385.0 270h0M399.9 227h0M454.3 216h0M466.3 256h0M418.9 212h0M400.0 235h0M408.9 211h0M399.6 235h0M458.5 212h0M454.2 219h0M404.0 242h0M465.9 234h0M404.5 250h0M426.9 246h0M437.0 202h0M456.3 230h0M436.4 213h0M402.3 235h0M418.8 259h0M437.7 222h0M468.6 286h0M442.3 207h0M422.3 225h0M445.8 221h0M387.6 203h0M438.8 218h0M399.7 204h0M404.8 268h0M401.3 205h0M445.3 267h0M428.7 255h0M457.9 247h0M425.4 207h0M427.4 240h0M421.7 202h0M462.0 249h0M390.8 252h0M387.8 201h0M449.7 219h0M411.8 250h0M440.3 228h0M424.1 222h0M467.8 231h0M451.5 221h0M406.2 223h0M432.9 235h0M390.1 236h0M451.3 231h0M439.7 207h0M406.7 226h0M400.4 262h0M396.6 234h0M462.4 257h0M415.0 260h0M406.7 265h0M442.9 213h0M388.5 243h0M470.2 247h0M420.5 233h0M418.9 262h0M399.8 205h0M453.0 263h0M408.0 202h0M413.2 220h0M415.0 223h0M426.1 240h0M426.0 216h0M425.3 235h0M400.0 246h0M427.2 219h0M456.7 279h0M393.3 208h0M468.5 208h0M464.2 208h0M400.0 248h0M453.2 205h0M458.5 243h0M421.5 241h0M386.7 233h0M463.6 259h0M468.6 218h0M427.9 244h0M385.7 218h0M406.6 217h0M425.3 218h0M390.4 229h0M452.6 215h0M444.6 245h0M405.4 259h0M464.3 225h0M386.3 220h0M445.7 223h0M465.9 221h0M446.1 261h0M458.1 229h0M386.2 271h0M425.1 263h0M436.3 237h0M406.7 262h0M389.3 237h0M446.0 218h0M455.0 226h0M393.4 216h0M439.1 207h0M401.2 252h0M386.9 241h0M416.8 254h0M459.1 228h0M387.4 234h0M460.8 239h0M412.2 245h0M462.4 240h0M426.2 229h0M432.6 212h0M403.8 248h0M386.6 212h0M420.2 234h0M451.5 221h0M454.8 216h0M418.9 253h0M467.7 202h0M405.7 215h0M386.9 230h0M413.7 263h0M428.8 213h0M425.9 245h0M391.7 233h0M450.9 234h0M452.7 211h0M411.4 259h0M425.2 278h0M394.4 267h0M384.5 220h0M458.3 219h0M406.3 258h0M428.4 199h0M398.3 219h0M414.2 268h0M435.7 207h0M469.3 199h0M385.1 219h0M450.5 215h0M421.0 198h0M415.3 203h0M444.4 217h0M403.9 217h0M443.9 221h0M454.3 205h0M457.5 210h0M468.3 225h0M450.9 269h0M408.8 220h0M437.8 208h0M424.1 242h0M416.6 233h0M398.2 253h0M425.5 222h0M467.1 233h0M384.9 213h0M469.7 220h0M394.6 260h0M403.7 257h0M447.3 238h0M432.9 233h0M425.5 255h0M462.9 256h0M388.0 234h0M440.9 264h0M411.2 206h0M433.7 228h0M454.7 221h0M388.6 247h0M458.6 216h0M403.8 206h0M466.8 272h0M442.1 219h0M385.2 239h0M386.4 264h0M414.8 223h0M449.8 237h0M432.1 225h0M413.7 243h0M406.7 216h0M440.7 228h0M401.7 207h0M384.3 247h0M469.8 217h0M442.0 261h0M454.0 201h0M423.8 202h0M384.8 235h0M418.5 215h0M396.4 218h0M384.7 250h0M393.2 200h0M432.5 201h0M405.0 261h0M384.2 211h0M430.8 207h0M420.9 260h0M412.4 268h0M455.7 218h0M420.6 244h0M387.6 272h0M427.1 211h0M425.9 209h0M425.7 245h0M395.9 204h0M443.2 244h0M417.5 250h0M389.3 241h0M416.9 222h0M463.1 217h0M395.5 284h0M423.4 218h0M472.2 256h0M388.3 210h0M427.5 280h0M405.1 222h0M467.9 233h0M454.6 225h0M418.1 210h0M440.4 212h0M415.2 261h0M421.0 224h0M448.1 213h0M436.3 228h0M384.6 235h0M436.8 212h0M468.5 230h0M467.6 205h0M427.5 215h0M424.4 236h0M452.3 213h0M420.8 210h0M384.3 221h0M384.2 223h0M386.6 248h0M409.1 227h0M403.7 250h0M459.3 229h0M453.3 246h0M435.7 248h0M454.4 225h0M461.3 200h0M403.5 265h0M413.2 232h0M438.1 211h0M412.0 253h0M425.2 226h0M422.8 203h0M460.0 211h0M442.1 229h0M441.0 240h0M456.1 207h0M430.8 211h0M420.6 260h0M451.1 254h0M456.4 255h0M457.4 204h0M409.1 207h0M393.1 201h0M411.6 214h0M419.9 265h0M415.2 267h0M406.2 252h0M444.5 256h0M435.1 225h0M461.1 251h0M391.9 206h0M388.3 222h0M462.7 216h0M388.6 201h0M425.5 238h0M394.2 204h0M386.9 207h0M398.7 230h0M440.3 262h0M419.2 222h0M384.1 222h0M455.0 228h0M442.7 238h0M430.9 218h0M422.7 260h0M400.6 218h0M443.2 276h0M452.8 217h0M422.5 221h0M426.1 223h0M384.4 228h0M413.4 216h0M415.9 241h0M464.2 199h0M450.7 205h0M471.9 205h0M451.8 200h0M440.8 255h0M396.4 220h0M431.8 230h0M463.2 265h0M413.0 233h0M427.9 211h0M426.2 283h0M384.0 243h0M388.1 266h0M450.8 279h0M397.1 209h0M426.2 205h0M432.4 270h0M392.8 203h0M413.9 236h0M439.3 224h0M395.2 203h0M459.3 207h0M428.4 208h0M423.4 230h0M401.1 265h0M462.7 222h0M436.8 215h0M446.0 226h0M438.9 255h0M420.7 202h0M411.8 211h0M461.5 215h0M411.8 225h0M406.8 238h0M465.4 280h0M384.3 285h0M435.1 210h0M442.1 230h0M414.8 224h0M450.5 248h0M442.4 203h0M467.7 273h0M398.8 214h0M446.4 198h0M423.5 207h0M431.3 213h0M462.7 242h0M391.2 252h0M384.2 224h0M421.5 213h0M399.3 206h0M449.2 204h0M412.4 225h0M384.5 245h0M400.2 224h0M386.9 263h0M438.6 217h0M444.7 222h0M400.1 234h0M466.6 233h0M429.2 228h0M447.6 253h0M468.5 241h0M401.2 227h0M421.0 260h0M384.8 201h0M423.7 203h0M398.0 217h0M427.7 218h0M463.2 211h0M384.1 199h0M419.1 243h0M436.2 214h0M406.4 224h0M442.4 221h0M454.9 213h0M441.4 215h0M446.0 199h0M399.3 221h0M465.1 262h0M453.9 233h0M410.0 236h0M456.7 205h0M385.0 209h0M454.3 205h0M419.3 266h0M419.0 226h0M451.6 223h0M426.0 220h0M437.6 279h0M454.3 208h0M406.6 253h0M424.4 202h0M404.9 245h0M453.2 235h0M427.9 229h0M449.1 235h0M445.9 224h0M456.2 245h0M449.3 199h0M408.7 207h0M444.0 227h0M432.1 261h0M419.4 213h0M406.8 221h0M464.9 211h0M414.8 220h0M415.6 224h0M468.7 210h0M391.4 205h0M417.1 218h0M465.1 202h0M454.7 242h0M454.8 259h0M418.8 246h0M412.4 214h0M395.0 221h0M423.8 217h0M468.3 229h0M386.8 223h0M435.8 216h0M425.4 209h0M446.4 222h0M416.4 229h0M396.9 253h0M469.4 241h0M412.2 212h0M427.4 232h0M468.6 198h0M408.1 254h0M423.3 254h0M426.1 199h0M408.7 274h0M425.0 229h0M461.2 235h0M455.7 284h0M419.3 203h0M457.4 258h0M470.5 266h0M407.1 226h0M441.1 202h0M423.5 201h0M433.9 207h0M433.9 215h0M424.9 207h0M421.9 214h0M434.1 206h0M418.5 262h0M466.6 201h0M384.5 211h0M411.8 225h0M385.2 236h0M441.0 256h0M418.9 207h0M468.3 266h0M404.6 199h0M465.4 267h0M384.4 213h0M466.5 204h0M422.1 206h0M390.8 212h0M396.9 239h0M442.0 276h0M387.9 211h0M425.5 234h0M463.5 249h0M453.0 238h0M409.0 227h0M472.2 243h0M432.2 214h0M395.1 216h0M441.2 263h0M408.3 265h0M466.6 199h0M467.0 224h0M411.4 233h0M418.9 231h0M448.8 218h0M416.4 238h0M462.8 200h0M402.1 243h0M423.8 273h0M423.5 204h0M386.8 271h0M465.1 270h0M425.7 223h0M413.1 214h0M448.7 201h0M426.6 213h0M446.0 213h0M386.1 222h0M413.8 272h0M403.5 215h0M395.2 220h0M407.2 255h0M468.1 218h0M430.5 201h0M409.8 204h0M430.6 232h0M429.3 248h0M400.3 252h0M441.4 237h0M449.2 220h0M393.5 201h0M423.2 278h0M396.6 238h0M470.9 252h0M433.7 271h0M437.6 225h0M465.2 221h0M384.1 255h0M437.3 222h0M387.7 205h0M433.5 224h0M438.9 246h0M447.6 267h0M462.6 240h0M440.4 199h0M408.1 203h0M415.2 267h0M464.3 239h0M429.0 232h0M416.9 261h0M423.2 242h0M460.1 225h0M409.8 221h0M415.3 235h0M420.1 244h0M399.8 201h0M419.4 207h0M403.9 243h0M468.2 229h0M386.3 204h0M404.8 216h0M423.3 208h0M417.4 240h0M468.8 244h0M384.3 214h0M453.4 211h0M388.5 250h0M427.1 210h0M434.5 239h0M392.7 200h0M420.9 210h0M426.2 280h0M444.8 215h0M434.7 215h0M418.8 222h0M403.2 223h0M428.7 274h0M406.1 226h0M401.9 223h0M422.0 200h0M401.3 238h0M466.9 230h0M386.8 202h0M420.2 203h0M457.9 223h0M409.1 222h0M423.8 231h0M388.0 206h0M415.7 254h0M451.3 210h0M407.8 207h0M394.9 228h0M403.3 239h0M448.3 209h0M452.3 256h0M455.8 232h0M402.8 217h0M431.3 243h0M457.4 230h0M430.7 225h0M431.7 238h0M415.2 238h0M439.7 214h0M465.1 220h0M450.9 204h0M460.8 217h0M459.5 237h0M418.3 201h0M468.0 215h0M403.4 198h0M418.6 216h0M384.6 215h0M436.1 200h0M425.2 236h0M419.0 216h0M435.6 228h0M413.9 218h0M395.4 232h0M457.7 199h0M443.9 220h0M441.5 200h0M395.0 212h0M454.8 218h0M435.2 205h0M442.4 227h0M386.7 263h0M461.7 267h0M467.7 205h0M471.8 210h0M444.1 224h0M470.4 250h0M468.8 211h0M384.1 222h0M421.8 224h0M395.0 209h0M386.6 209h0M391.4 262h0M399.7 235h0M431.2 248h0M420.4 233h0M430.7 224h0M424.9 210h0M472.1 219h0M436.3 260h0M396.3 215h0M420.9 227h0M390.0 251h0M385.2 213h0M456.0 214h0M422.1 226h0M461.6 205h0M412.2 205h0M439.0 201h0M408.4 252h0M434.0 204h0M460.1 216h0M453.3 222h0M384.1 215h0M468.3 200h0M462.5 227h0M450.9 255h0M413.9 237h0M434.0 247h0M449.6 237h0M414.9 222h0M465.1 262h0M440.9 264h0M452.8 230h0M409.1 215h0M384.7 247h0M403.3 228h0M463.3 229h0M466.6 220h0M397.8 234h0M393.3 202h0M441.6 254h0M395.1 220h0M451.0 225h0M454.0 241h0M410.3 207h0M388.5 220h0M423.2 205h0M384.8 235h0M423.4 206h0M415.3 229h0M431.8 240h0M385.0 265h0M440.5 248h0M452.9 239h0M457.6 235h0M424.4 224h0M385.1 206h0M439.4 205h0M386.2 235h0M435.3 274h0M384.9 223h0M428.6 235h0M389.9 204h0M399.8 233h0M456.6 247h0M434.2 244h0M406.9 257h0M430.5 216h0M420.5 280h0M443.8 235h0M425.8 256h0M423.7 223h0M384.2 236h0M438.7 239h0M407.1 226h0M464.5 232h0M454.0 228h0M424.9 244h0M466.3 246h0M435.6 210h0M468.8 256h0M444.4 264h0M451.1 231h0M399.9 269h0M406.7 211h0M458.6 221h0M432.2 217h0M465.0 227h0M398.0 216h0M465.2 204h0M443.0 217h0M462.9 210h0M393.0 231h0M424.9 218h0M413.4 201h0M399.7 253h0M418.5 233h0M454.1 208h0M470.0 217h0M469.5 247h0M433.8 254h0M387.0 200h0M435.8 223h0M403.1 253h0M425.6 215h0M438.9 212h0M468.0 199h0M424.4 236h0M454.4 256h0M439.5 204h0M467.5 205h0M422.7 245h0M450.9 211h0M436.9 231h0M468.7 200h0M396.0 206h0M396.1 243h0M468.2 259h0M432.7 215h0M443.3 249h0M396.7 239h0M442.5 240h0M403.7 222h0M388.3 217h0M450.9 207h0M417.0 212h0M451.2 247h0M452.3 204h0M436.0 229h0M414.9 204h0M453.2 274h0M385.7 219h0M438.9 226h0M470.2 260h0M418.7 212h0M402.1 247h0M430.8 222h0M388.4 282h0M448.1 247h0M450.6 240h0M430.8 215h0M443.1 222h0M409.0 216h0M468.7 256h0M384.5 219h0M468.7 233h0M440.6 238h0M395.1 258h0M432.0 220h0M442.1 198h0M444.4 255h0M438.9 241h0M388.0 268h0M434.7 223h0M460.1 199h0M384.7 260h0M449.6 236h0M457.9 229h0M466.5 276h0M384.0 229h0M430.2 219h0M396.5 225h0M408.7 215h0M403.7 222h0M413.8 271h0M385.9 210h0M384.2 220h0M438.6 229h0M438.8 252h0M433.0 224h0M459.5 275h0M465.3 214h0M423.5 253h0M452.8 206h0M432.6 285h0M424.0 229h0M447.7 230h0M412.4 256h0M400.5 200h0M391.1 203h0M394.8 248h0M461.7 203h0M384.0 272h0M459.2 200h0M446.5 205h0M464.8 218h0M454.4 211h0M452.8 205h0M450.7 209h0M425.6 225h0M456.0 224h0M467.1 198h0M402.1 213h0M414.1 243h0M439.4 207h0M454.4 207h0M440.3 207h0M414.7 216h0M457.5 230h0M448.8 241h0M420.8 215h0M451.7 216h0M455.9 233h0M418.3 227h0M385.1 235h0M398.9 209h0M437.8 244h0M409.1 285h0M450.7 265h0M451.4 202h0M409.9 239h0M384.2 215h0M452.4 245h0M404.8 219h0M423.8 240h0M433.7 205h0M414.7 236h0M470.9 222h0M385.3 227h0M441.2 233h0M411.4 217h0M416.4 224h0M460.2 209h0M385.9 233h0M464.8 243h0M399.5 204h0M455.7 211h0M444.3 265h0M468.5 273h0M432.6 222h0M434.3 204h0M389.9 234h0M445.8 219h0M448.0 207h0M425.5 216h0M387.7 204h0M414.0 207h0M400.3 237h0M441.0 222h0M454.8 249h0M422.1 208h0M461.7 199h0M400.0 232h0M466.2 237h0M384.1 223h0M459.0 199h0M400.5 206h0M384.9 220h0M446.5 210h0M458.4 252h0M428.9 252h0M435.4 208h0M421.6 240h0M457.5 247h0M428.6 231h0M440.9 229h0M431.8 198h0M408.6 246h0M442.6 254h0M395.1 229h0M465.3 224h0M423.7 200h0M445.5 252h0M469.3 200h0M422.0 215h0M436.8 235h0M454.8 221h0M460.3 213h0M447.3 239h0M408.0 216h0M453.1 228h0M454.2 218h0M407.2 279h0M400.5 233h0M432.1 244h0M440.2 248h0M399.4 203h0M386.3 207h0M384.1 249h0M423.2 202h0M470.0 215h0M400.6 237h0M432.0 225h0M464.3 216h0M455.6 270h0M385.7 247h0M419.4 271h0" stroke="#f7bb4c" stroke-width="0.85" stroke-linecap="round" stroke-opacity="0.3" fill="none"/>
<path d="M423.9 243h0M453.2 243h0M447.4 220h0M466.5 224h0M385.9 229h0M450.0 253h0M385.2 201h0M446.6 222h0M451.6 234h0M423.9 226h0M419.4 207h0M416.8 249h0M435.4 243h0M393.6 219h0M431.1 203h0M432.8 237h0M434.6 240h0M444.5 216h0M435.7 240h0M431.9 208h0M427.7 248h0M388.7 223h0M425.0 220h0M419.0 216h0M419.3 217h0M424.4 202h0M419.3 229h0M403.8 229h0M432.2 235h0M386.3 240h0M440.8 217h0M450.0 212h0M390.8 246h0M413.8 276h0M434.3 221h0M389.1 205h0M467.1 203h0M460.0 231h0M468.2 232h0M413.8 234h0M395.3 208h0M442.3 238h0M417.6 231h0M468.1 204h0M442.8 199h0M462.8 200h0M391.4 252h0M406.8 248h0M414.9 265h0M431.2 265h0M409.6 206h0M462.9 229h0M463.6 235h0M389.6 235h0M436.1 240h0M423.7 242h0M451.4 207h0M450.1 236h0M406.6 198h0M459.4 208h0M459.9 217h0M412.2 208h0M449.0 215h0M437.5 224h0M389.5 210h0M399.4 244h0M406.8 243h0M431.8 220h0M465.2 245h0M424.4 205h0M425.6 220h0M430.3 202h0M411.9 250h0M449.4 259h0M436.1 199h0M462.8 227h0M393.2 230h0M425.6 239h0M403.8 219h0M425.8 238h0M467.9 214h0M445.5 208h0M399.5 207h0M395.1 238h0M424.2 237h0M425.2 220h0M386.8 232h0M419.8 243h0M445.8 215h0M436.0 242h0M387.8 211h0M430.1 226h0M422.3 211h0M466.8 213h0M467.1 283h0M437.3 247h0M425.0 210h0M415.2 241h0M397.6 205h0M384.0 233h0M415.8 216h0M408.4 227h0M460.7 247h0M418.1 199h0M402.8 250h0M452.4 231h0M395.0 233h0M443.2 282h0M406.6 228h0M417.2 225h0M392.0 238h0M387.7 246h0M410.4 233h0M391.5 227h0M461.0 234h0M405.4 248h0M388.3 208h0M405.1 236h0M419.2 217h0M386.5 227h0M394.9 229h0M432.7 266h0M441.2 266h0M444.3 264h0M461.6 237h0M405.7 216h0M390.9 258h0M415.5 225h0M436.1 221h0M419.1 200h0M413.9 263h0M453.4 254h0M396.7 222h0M446.3 246h0M425.6 210h0M385.1 252h0M428.4 239h0M430.0 215h0M468.4 224h0M467.6 224h0M459.7 226h0M405.7 232h0M386.6 263h0M392.6 244h0M472.1 221h0M404.8 201h0M461.3 224h0M394.3 241h0M424.4 240h0M387.6 254h0M387.0 211h0M425.1 225h0M434.1 226h0M430.7 207h0M397.7 232h0M432.1 206h0M455.2 199h0M465.3 243h0M437.9 239h0M450.7 281h0M420.5 233h0M425.8 236h0M406.2 226h0M386.9 204h0M409.0 224h0M384.9 208h0M409.1 227h0M454.7 220h0M456.0 237h0M455.1 216h0M454.8 218h0M442.4 212h0M437.9 263h0M420.0 243h0M447.5 210h0M467.0 225h0M468.8 248h0M409.1 214h0M458.4 205h0M410.7 198h0M451.6 270h0M460.7 199h0M425.5 236h0M447.7 209h0M430.5 236h0M453.1 271h0M455.2 220h0M395.0 223h0M415.4 273h0M439.3 220h0M385.2 285h0M421.8 205h0M427.1 224h0M457.8 219h0M410.4 218h0M444.5 245h0M387.9 213h0M411.8 263h0M404.9 222h0M396.3 233h0M412.2 221h0M423.7 238h0M402.2 266h0M408.3 215h0M432.5 209h0M422.2 251h0M413.9 213h0M384.1 209h0M450.7 205h0M411.8 226h0M421.7 206h0M425.7 207h0M441.0 234h0M433.5 213h0M386.4 224h0M459.3 240h0M462.4 213h0M433.6 202h0M446.3 230h0M456.5 228h0M420.4 212h0M439.1 204h0M450.6 219h0M416.5 209h0M464.4 253h0M471.6 211h0M412.1 244h0M460.0 207h0M399.5 198h0M424.1 252h0M428.7 276h0M415.5 205h0M416.6 211h0M454.6 244h0M425.1 214h0M428.8 218h0M435.7 220h0M385.0 212h0M452.8 242h0M391.1 202h0M468.5 234h0M442.0 219h0M396.0 211h0M398.5 206h0M466.3 214h0M462.8 233h0M426.8 220h0M403.6 210h0M452.9 258h0M468.8 220h0M414.2 210h0M400.6 202h0M442.1 232h0M440.6 202h0M440.5 224h0M468.8 226h0M420.3 237h0M465.2 262h0M420.9 233h0M394.7 212h0M422.4 233h0M459.9 245h0M391.6 212h0M408.8 209h0M401.9 236h0M398.5 258h0M456.8 233h0M425.2 225h0M412.2 215h0M393.6 262h0M403.8 210h0M460.2 238h0M437.8 221h0M387.9 259h0M423.4 235h0M461.8 210h0M387.8 241h0M399.9 239h0M444.6 213h0M430.3 239h0M453.2 213h0M452.9 250h0M453.1 248h0M452.6 228h0M416.9 239h0M430.8 243h0M425.5 246h0M432.4 209h0M384.5 229h0M404.0 216h0M417.5 210h0M414.0 219h0M430.2 213h0M420.9 222h0M413.8 202h0M408.6 242h0M411.4 247h0M454.6 209h0M400.3 204h0M397.6 229h0M396.9 221h0M442.4 266h0M392.7 257h0M455.8 214h0M385.8 204h0M444.7 211h0M415.6 240h0M450.6 236h0M423.4 213h0M404.7 252h0M450.9 202h0M426.1 220h0M431.2 237h0M392.8 203h0M458.2 220h0M430.3 221h0M455.7 202h0M384.9 243h0M425.8 237h0M389.5 199h0M425.7 210h0M453.3 266h0M421.0 208h0M407.5 240h0M418.7 216h0M385.1 228h0M399.8 242h0M451.2 223h0M393.1 279h0M451.0 233h0M423.4 215h0M417.2 210h0M417.5 201h0M416.5 227h0M384.8 230h0M388.3 215h0M454.4 209h0M419.3 205h0M396.3 248h0M398.7 259h0M456.0 255h0M457.5 243h0M384.6 275h0M403.0 246h0M435.8 230h0M440.6 247h0M448.8 231h0M384.2 210h0M416.4 213h0M423.4 234h0M414.9 218h0M421.0 228h0M436.1 243h0M464.1 238h0M470.3 212h0M454.2 220h0M413.8 239h0M407.3 201h0M416.0 215h0M420.5 264h0M422.5 200h0M437.6 266h0M436.0 213h0M463.4 244h0M443.0 266h0M458.1 237h0M467.7 199h0M462.5 250h0M410.3 205h0M384.7 203h0M432.3 204h0M443.8 199h0M437.6 208h0M445.6 228h0M468.5 217h0M391.7 223h0M467.7 247h0M415.2 225h0M442.0 240h0M461.9 218h0M386.9 211h0M424.0 218h0M417.6 263h0M442.3 234h0M386.0 215h0M393.5 233h0M410.7 211h0M434.2 218h0M400.2 216h0M400.3 230h0M414.2 218h0M454.3 215h0M469.4 207h0M447.7 231h0M402.9 216h0M461.6 220h0M426.1 217h0M411.5 213h0M404.0 208h0M443.2 202h0M431.1 213h0M403.4 204h0M413.1 201h0M416.7 233h0M440.8 261h0M384.4 201h0M414.2 245h0M456.1 218h0M403.6 222h0M464.6 202h0M410.4 278h0M426.0 264h0M389.9 239h0M414.0 238h0M387.4 237h0M464.4 204h0M384.8 211h0M386.1 246h0M429.0 229h0M445.5 214h0M421.0 210h0M444.7 206h0M384.7 229h0M432.2 246h0M414.9 247h0M469.4 261h0M440.2 231h0M458.4 208h0M425.1 210h0M413.0 222h0M425.5 250h0M459.1 212h0M425.2 216h0M394.6 213h0M412.2 220h0M388.0 204h0M464.6 213h0M392.9 216h0M384.7 207h0M413.1 266h0M437.7 212h0M419.0 202h0M448.8 208h0M441.3 217h0M424.3 228h0M412.5 207h0M399.4 207h0M390.4 215h0M427.8 260h0M420.3 209h0M454.4 206h0M418.4 228h0M394.4 203h0M453.2 225h0M395.1 228h0M398.3 227h0M441.3 247h0M468.0 217h0M403.8 204h0M392.1 254h0M385.1 254h0M447.1 218h0M405.0 216h0M469.9 204h0M408.1 237h0M385.0 222h0M395.1 236h0M468.8 262h0M455.6 267h0M404.8 210h0M432.7 250h0M436.1 208h0M452.7 201h0M451.5 213h0M470.5 249h0M441.4 227h0M414.3 249h0M413.8 259h0M456.8 218h0M462.5 252h0M437.3 227h0M414.1 207h0M424.3 201h0M446.5 227h0M454.6 206h0M406.5 223h0M440.4 242h0M452.6 227h0M421.6 268h0M430.2 202h0M395.1 215h0M428.8 206h0M398.8 254h0M461.9 222h0M396.8 224h0M418.9 256h0M386.6 201h0M457.9 243h0M430.5 200h0M397.0 220h0M463.6 278h0M441.1 231h0M389.7 206h0M407.9 198h0M464.1 204h0M384.7 235h0M417.0 202h0M429.3 224h0M405.5 257h0M393.0 213h0M386.4 241h0M465.3 210h0M389.5 201h0M407.2 227h0M467.0 239h0M398.2 252h0M419.8 214h0M423.5 235h0M420.4 202h0M401.8 227h0M460.0 245h0M445.7 232h0M387.0 280h0M442.6 221h0M468.6 240h0M437.9 199h0M437.4 215h0M419.9 217h0M444.7 247h0M402.8 271h0M468.2 242h0M463.2 204h0M425.9 254h0M442.4 198h0M384.9 227h0M418.5 229h0M463.3 228h0M430.1 230h0M425.6 201h0M413.7 247h0M447.9 248h0M425.7 244h0M449.7 215h0M450.5 200h0M423.3 220h0M388.3 231h0M427.1 282h0M426.0 217h0M427.2 216h0M387.9 230h0M457.5 224h0M425.2 199h0M414.8 218h0M418.5 258h0M398.2 198h0M385.2 209h0M453.3 212h0M401.3 204h0M430.0 222h0M459.2 245h0M434.6 210h0M395.1 246h0M435.3 247h0M395.2 246h0M433.9 203h0M422.1 224h0M444.8 236h0M385.1 244h0M436.3 210h0M465.3 207h0M395.4 224h0M400.0 249h0M407.1 227h0M466.3 208h0M403.2 231h0M418.1 206h0M384.9 236h0M445.0 228h0M388.0 207h0M467.5 227h0M385.2 219h0M391.2 233h0M397.9 204h0M451.5 251h0M402.9 249h0M449.8 234h0M415.2 234h0M409.6 212h0M422.3 228h0M416.9 200h0M454.1 258h0M384.7 227h0M453.5 212h0M468.1 249h0M432.6 217h0M393.4 209h0M386.7 226h0M463.1 222h0M439.0 203h0M455.7 205h0M466.5 283h0M418.3 282h0M425.2 247h0M468.3 219h0M444.8 202h0M436.4 210h0M404.5 256h0M388.2 223h0M389.7 225h0M435.3 206h0M461.9 250h0M394.8 242h0M466.6 223h0M412.1 214h0M420.7 220h0M451.6 244h0M430.2 276h0M413.4 210h0M461.1 255h0M390.3 234h0M420.0 245h0M431.1 217h0M386.7 208h0M388.6 216h0M384.0 232h0M418.2 254h0M469.3 218h0M441.0 201h0M406.5 218h0M455.2 235h0M465.0 278h0M431.0 236h0M422.1 237h0M468.8 206h0M439.2 213h0M436.0 255h0M452.3 246h0M450.8 234h0M394.6 244h0M394.5 268h0M391.0 218h0M413.7 261h0M407.3 245h0M442.2 245h0M459.8 201h0M415.8 210h0M441.0 212h0M471.1 214h0M400.1 212h0M399.9 215h0M447.1 244h0M444.5 219h0M429.0 229h0M413.5 228h0M448.1 207h0M413.9 234h0M384.5 212h0M457.7 200h0M425.6 279h0M418.9 257h0M409.0 248h0M432.5 211h0M387.7 255h0M412.4 229h0M460.9 209h0M397.9 207h0M459.4 229h0M390.2 240h0M446.2 230h0M386.7 201h0M425.8 235h0M448.1 212h0M421.8 199h0M435.2 236h0M396.8 227h0M425.4 217h0M390.2 213h0M432.3 212h0M457.3 241h0M427.0 202h0M400.0 218h0M419.2 272h0M410.2 218h0M459.9 230h0M436.2 202h0M443.1 232h0M400.1 236h0M420.7 247h0M436.2 242h0M413.4 251h0M407.5 233h0M399.4 223h0M386.9 201h0M391.4 255h0M448.2 214h0M456.8 215h0M420.5 245h0M445.6 234h0M415.9 204h0M456.0 206h0M391.5 221h0M456.8 198h0M417.4 268h0M424.9 262h0M384.6 219h0M401.4 212h0M401.7 227h0M403.2 230h0M450.6 214h0M426.9 207h0M467.0 200h0M431.8 219h0M423.8 210h0M467.8 213h0M415.1 258h0M470.5 259h0M449.3 263h0M390.1 243h0M427.1 215h0M425.5 199h0M459.0 272h0M427.3 204h0M470.3 214h0M453.0 236h0M456.0 242h0M447.6 243h0M425.6 236h0M456.5 230h0M399.4 223h0M397.7 210h0M413.2 217h0M457.9 221h0M384.2 215h0M384.6 208h0M425.5 282h0M413.5 212h0M409.6 223h0M412.6 223h0M417.5 272h0M437.6 219h0M433.7 201h0M386.6 229h0M387.7 216h0M393.5 220h0M424.0 256h0M442.7 207h0M464.9 198h0M450.1 271h0M447.3 237h0M451.1 239h0M441.5 233h0M415.4 216h0M402.8 251h0M447.5 213h0M454.1 225h0M384.4 206h0M384.8 250h0M425.5 205h0M452.2 254h0M455.2 235h0M457.8 233h0M443.8 208h0M423.4 237h0M420.4 205h0M442.9 239h0M425.7 202h0M424.9 234h0M430.4 198h0M433.0 237h0M387.0 209h0M432.6 201h0M393.7 227h0M445.8 256h0M411.5 200h0M440.6 221h0M397.0 201h0M426.0 200h0M396.0 245h0M452.5 208h0M452.2 262h0M419.8 261h0M386.7 252h0M425.7 203h0M425.0 223h0M452.5 227h0M397.1 221h0M412.5 239h0M391.7 281h0M454.1 277h0M384.9 224h0M386.5 234h0M464.7 215h0M459.4 208h0M454.6 273h0M442.0 220h0M393.5 227h0M412.4 261h0M391.8 243h0M384.8 280h0M412.1 209h0M425.0 258h0M394.4 209h0M430.7 265h0M442.5 230h0M455.0 256h0M427.0 218h0M443.3 204h0M403.0 229h0M425.1 231h0M446.4 216h0M444.2 279h0M384.7 243h0M395.5 206h0M424.9 264h0M459.6 212h0M387.8 237h0M424.9 243h0M447.3 213h0M458.0 236h0M438.8 218h0M460.2 285h0M415.3 224h0M397.8 223h0M464.7 217h0M417.4 239h0M464.2 251h0M407.3 239h0M459.6 210h0M466.0 209h0M471.4 199h0M431.8 217h0M434.2 248h0M451.3 203h0M386.0 243h0M437.3 249h0M407.3 243h0M435.9 209h0M399.4 207h0M442.9 211h0M436.0 209h0M455.1 222h0M425.9 206h0M393.3 244h0M386.1 238h0M413.2 219h0M388.2 217h0M384.4 218h0M465.2 234h0M413.6 219h0M399.8 213h0M444.2 256h0M446.0 238h0M425.0 280h0M407.0 206h0M457.5 227h0M423.8 223h0M451.3 222h0M468.8 210h0M389.5 238h0M460.9 208h0M459.1 205h0M447.4 221h0M453.2 224h0M424.1 215h0M412.4 219h0M459.1 226h0M430.6 225h0M429.2 238h0M454.7 206h0M408.2 266h0M406.7 259h0M439.1 232h0M385.9 251h0M403.4 216h0M441.2 206h0M388.5 207h0M451.5 214h0M458.1 221h0M448.1 233h0M423.3 233h0M385.2 213h0M426.2 220h0M468.7 210h0M409.6 241h0M396.4 223h0M444.3 254h0M393.7 245h0M386.9 220h0M455.6 205h0M420.7 242h0M436.0 244h0M386.0 234h0M440.4 215h0M403.5 243h0M408.5 213h0M435.1 250h0M448.8 204h0M451.2 204h0M459.8 199h0M413.7 216h0M386.4 237h0M391.7 205h0M452.4 246h0M455.7 241h0M384.6 262h0M412.6 212h0M455.0 217h0M453.4 202h0M389.5 272h0M466.5 211h0M386.5 221h0M430.6 211h0M385.2 248h0M388.3 252h0M394.9 254h0M416.0 253h0M456.8 222h0M436.4 209h0M407.4 271h0M471.9 217h0M394.8 274h0M471.9 223h0M385.1 218h0M385.7 255h0M442.5 251h0M398.5 209h0M448.3 261h0M399.8 198h0M436.0 241h0M430.6 207h0M400.5 202h0M443.8 232h0M385.0 273h0M398.6 231h0" stroke="#ee6068" stroke-width="0.85" stroke-linecap="round" stroke-opacity="0.3" fill="none"/>
<polygon points="384.6,233.1 389.7,232.9 394.7,232.6 399.7,232.4 404.8,232.2 409.8,231.9 414.8,231.7 419.8,231.4 424.9,231.2 429.9,230.9 434.9,230.7 440.0,230.4 445.0,230.1 450.0,229.9 455.1,229.6 460.1,229.3 465.1,229.0 470.1,228.7 475.2,228.4 480.2,228.2 485.2,227.8 485.2,228.7 480.2,228.9 475.2,229.1 470.1,229.3 465.1,229.6 460.1,229.8 455.1,230.1 450.0,230.3 445.0,230.6 440.0,230.8 434.9,231.1 429.9,231.3 424.9,231.6 419.8,231.9 414.8,232.2 409.8,232.4 404.8,232.7 399.7,233.0 394.7,233.3 389.7,233.6 384.6,233.9" fill="#f7bb4c" fill-opacity="0.3"/>
<line x1="384.63" y1="233.51" x2="485.23" y2="228.25" stroke="#f7bb4c" stroke-width="1.0"/>
<polygon points="384.6,235.4 389.7,235.2 394.7,234.9 399.7,234.6 404.8,234.4 409.8,234.1 414.8,233.8 419.8,233.5 424.9,233.2 429.9,232.9 434.9,232.6 440.0,232.3 445.0,232.0 450.0,231.7 455.1,231.4 460.1,231.1 465.1,230.8 470.1,230.5 475.2,230.1 480.2,229.8 485.2,229.5 485.2,230.3 480.2,230.5 475.2,230.8 470.1,231.1 465.1,231.3 460.1,231.6 455.1,231.9 450.0,232.2 445.0,232.5 440.0,232.8 434.9,233.1 429.9,233.4 424.9,233.7 419.8,234.0 414.8,234.3 409.8,234.6 404.8,234.9 399.7,235.2 394.7,235.6 389.7,235.9 384.6,236.2" fill="#4fb5f0" fill-opacity="0.3"/>
<line x1="384.63" y1="235.83" x2="485.23" y2="229.87" stroke="#4fb5f0" stroke-width="1.0"/>
<polygon points="384.6,232.3 389.7,232.1 394.7,231.8 399.7,231.6 404.8,231.3 409.8,231.1 414.8,230.8 419.8,230.6 424.9,230.3 429.9,230.0 434.9,229.8 440.0,229.5 445.0,229.2 450.0,228.9 455.1,228.6 460.1,228.4 465.1,228.1 470.1,227.8 475.2,227.5 480.2,227.2 485.2,226.8 485.2,227.6 480.2,227.9 475.2,228.1 470.1,228.4 465.1,228.6 460.1,228.9 455.1,229.1 450.0,229.4 445.0,229.6 440.0,229.9 434.9,230.2 429.9,230.4 424.9,230.7 419.8,231.0 414.8,231.3 409.8,231.6 404.8,231.9 399.7,232.2 394.7,232.5 389.7,232.8 384.6,233.1" fill="#ee6068" fill-opacity="0.3"/>
<line x1="384.63" y1="232.70" x2="485.23" y2="227.24" stroke="#ee6068" stroke-width="1.0"/>
<line x1="68.80" y1="367.0" x2="68.80" y2="479.0" stroke="#e2e2e2" stroke-width="0.9"/>
<line x1="97.80" y1="367.0" x2="97.80" y2="479.0" stroke="#e2e2e2" stroke-width="0.9"/>
<line x1="126.80" y1="367.0" x2="126.80" y2="479.0" stroke="#e2e2e2" stroke-width="0.9"/>
<line x1="155.80" y1="367.0" x2="155.80" y2="479.0" stroke="#e2e2e2" stroke-width="0.9"/>
<line x1="60.6" y1="472.90" x2="173.10" y2="472.90" stroke="#e2e2e2" stroke-width="0.9"/>
<line x1="60.6" y1="447.67" x2="173.10" y2="447.67" stroke="#e2e2e2" stroke-width="0.9"/>
<line x1="60.6" y1="422.45" x2="173.10" y2="422.45" stroke="#e2e2e2" stroke-width="0.9"/>
<line x1="60.6" y1="397.23" x2="173.10" y2="397.23" stroke="#e2e2e2" stroke-width="0.9"/>
<line x1="60.6" y1="372.00" x2="173.10" y2="372.00" stroke="#e2e2e2" stroke-width="0.9"/>
<text x="59.30" y="473.50" font-size="5.5" text-anchor="end" fill="#333333" stroke="#333333" stroke-width="0.04">0.00</text>
<text x="59.30" y="448.27" font-size="5.5" text-anchor="end" fill="#333333" stroke="#333333" stroke-width="0.04">0.25</text>
<text x="59.30" y="423.05" font-size="5.5" text-anchor="end" fill="#333333" stroke="#333333" stroke-width="0.04">0.50</text>
<text x="59.30" y="397.83" font-size="5.5" text-anchor="end" fill="#333333" stroke="#333333" stroke-width="0.04">0.75</text>
<text x="59.30" y="372.60" font-size="5.5" text-anchor="end" fill="#333333" stroke="#333333" stroke-width="0.04">1.00</text>
<text x="68.80" y="485.10" font-size="5.5" text-anchor="middle" fill="#333333" stroke="#333333" stroke-width="0.04">100</text>
<text x="97.80" y="485.10" font-size="5.5" text-anchor="middle" fill="#333333" stroke="#333333" stroke-width="0.04">150</text>
<text x="126.80" y="485.10" font-size="5.5" text-anchor="middle" fill="#333333" stroke="#333333" stroke-width="0.04">200</text>
<text x="155.80" y="485.10" font-size="5.5" text-anchor="middle" fill="#333333" stroke="#333333" stroke-width="0.04">250</text>
<text x="173.10" y="494.20" font-size="6.4" text-anchor="end" fill="#1a1a1a" stroke="#1a1a1a" stroke-width="0.04">Age (months)</text>
<text x="46.00" y="367.30" font-size="6.4" text-anchor="end" fill="#1a1a1a" stroke="#1a1a1a" stroke-width="0.04" transform="rotate(-90 46.00 367.30)">Class probabilities</text>
<text x="0" y="0" font-size="9.8" font-weight="bold" text-anchor="middle" fill="#000" stroke="#000" stroke-width="0.08" transform="translate(116.85 362.90) scale(1 1.04)">Training</text>
<path d="M100.8 460.7h0M98.7 418.7h0M140.9 397.4h0M135.8 445.0h0M161.6 414.2h0M88.3 457.7h0M132.3 441.1h0M71.1 462.2h0M107.8 451.1h0M68.8 426.4h0M94.8 443.4h0M136.1 405.1h0M107.7 451.1h0M68.3 456.9h0M125.0 444.8h0M121.1 433.1h0M157.7 429.0h0M124.2 396.4h0M104.4 414.6h0M101.7 455.8h0M97.9 451.9h0M157.7 440.0h0M154.8 459.6h0M127.6 442.6h0M149.4 446.7h0M82.8 409.6h0M124.9 460.2h0M72.1 434.0h0M71.2 439.8h0M93.7 426.0h0M129.3 460.6h0M113.8 411.9h0M84.7 446.3h0M150.2 431.7h0M138.7 465.2h0M149.5 466.4h0M107.1 431.6h0M149.2 444.4h0M94.0 421.7h0M165.1 430.7h0M129.6 445.7h0M156.1 429.1h0M156.8 465.3h0M147.6 455.0h0M126.7 448.4h0M116.8 447.3h0M110.9 434.7h0M120.2 456.7h0M155.1 455.7h0M114.4 456.9h0M116.0 440.9h0M117.4 447.1h0M154.4 420.2h0M105.4 442.5h0M140.5 426.9h0M141.0 438.4h0M134.5 450.6h0M107.1 434.9h0M70.8 412.0h0M96.3 453.1h0M79.2 413.5h0M122.0 438.0h0M75.3 418.4h0M114.9 435.2h0M79.0 447.6h0M83.2 422.9h0M140.3 437.1h0M82.4 454.7h0M101.8 423.0h0M159.6 462.8h0M121.2 456.4h0M68.7 439.1h0M127.7 457.0h0M128.6 456.6h0M112.6 440.0h0M132.3 440.0h0M84.3 457.1h0M126.6 460.3h0M93.0 423.7h0M143.9 446.8h0M139.7 390.2h0M79.8 435.1h0M77.1 444.3h0M68.3 405.7h0M74.2 463.0h0M142.4 447.5h0M105.0 437.5h0M106.9 441.5h0M153.5 441.7h0M147.4 438.6h0M157.9 459.8h0M109.1 456.0h0M94.2 417.0h0M79.2 425.3h0M131.8 427.3h0M110.3 413.0h0M81.2 462.8h0M152.9 417.1h0M117.0 454.4h0M94.9 457.7h0M153.3 447.6h0M103.8 443.4h0M89.4 420.4h0M102.0 449.5h0M97.5 451.4h0M155.5 416.8h0M83.0 437.7h0M155.2 438.5h0M113.1 433.4h0M111.7 435.1h0M82.4 435.3h0M91.5 440.2h0M150.5 436.2h0M114.2 442.6h0M118.3 442.0h0M131.0 424.9h0M138.4 422.0h0M126.0 413.3h0M78.7 453.2h0M108.2 441.6h0M122.4 449.8h0" stroke="#3485bb" stroke-width="1.8" stroke-linecap="round" stroke-opacity="0.75" fill="none"/>
<path d="M166.7 412.2h0M84.8 456.5h0M136.0 454.5h0M80.3 463.1h0M75.3 459.9h0M117.7 423.2h0M153.6 444.6h0M154.6 465.5h0M122.3 465.6h0M98.1 427.2h0M142.7 434.4h0M160.9 391.3h0M120.7 442.7h0M94.5 452.1h0M129.1 444.7h0M137.7 441.0h0M83.6 419.5h0M71.5 420.7h0M148.7 422.1h0M127.1 454.3h0M124.5 428.7h0M148.3 447.9h0M143.5 407.4h0M163.8 427.4h0M76.9 408.1h0M119.7 415.0h0M158.0 451.0h0M89.1 390.4h0M77.0 452.1h0M160.6 452.4h0M163.4 441.9h0M144.1 438.7h0M126.0 451.2h0M91.8 405.4h0M160.0 446.2h0M140.4 400.8h0M95.9 423.7h0M72.4 446.0h0M113.4 429.8h0M89.2 458.9h0M72.4 453.3h0M99.4 459.6h0M75.2 428.9h0M74.8 431.4h0M136.4 457.2h0M155.6 463.9h0M106.6 451.6h0M118.9 451.2h0M100.3 405.2h0M143.5 446.4h0M94.2 436.3h0M82.0 436.2h0M103.2 437.5h0M102.9 449.8h0M138.3 431.4h0M167.3 392.4h0M72.4 413.3h0M119.5 457.8h0M151.9 457.4h0M92.2 433.0h0M92.0 451.6h0M78.1 426.2h0M107.2 413.5h0M74.1 418.9h0M130.2 417.0h0M141.4 400.3h0M152.3 442.0h0M149.1 429.5h0M139.1 415.3h0M78.5 460.6h0M96.0 460.3h0M122.3 444.0h0M71.9 454.0h0M116.2 434.9h0M74.3 414.2h0M116.7 444.0h0M104.1 435.4h0M128.6 451.3h0M69.0 425.4h0M107.4 451.8h0M125.7 462.1h0M94.4 436.8h0M138.3 430.4h0M160.7 432.3h0M108.6 414.4h0M133.4 450.9h0M82.7 433.6h0M160.2 433.4h0M125.1 437.0h0M92.1 412.5h0M156.0 404.3h0M117.0 410.6h0M77.3 428.8h0M132.6 430.8h0M117.5 413.6h0M136.9 430.6h0M84.0 438.6h0M88.4 432.6h0M161.2 437.8h0M85.3 424.4h0M164.2 398.7h0M132.4 447.1h0M159.5 462.6h0M165.7 379.5h0M158.0 409.0h0M137.5 403.2h0M99.5 460.7h0M121.4 452.3h0M113.9 439.6h0M153.6 406.0h0M106.2 422.5h0M154.0 406.9h0M155.2 429.5h0M81.3 443.5h0M150.1 426.9h0M111.8 465.2h0M99.2 427.7h0M140.3 439.6h0M104.4 433.3h0M75.4 437.9h0M111.7 445.2h0M131.3 439.4h0M144.8 438.4h0M125.8 451.2h0M77.8 452.5h0M75.0 444.9h0" stroke="#e6a52e" stroke-width="1.8" stroke-linecap="round" stroke-opacity="0.75" fill="none"/>
<path d="M113.8 450.5h0M88.7 436.9h0M155.6 439.5h0M120.3 403.2h0M134.3 438.9h0M119.0 419.3h0M93.5 457.0h0M70.0 441.0h0M140.0 451.2h0M78.2 435.8h0M108.8 430.4h0M92.8 449.5h0M137.0 460.7h0M148.1 380.1h0M70.0 422.8h0M109.1 437.0h0M134.2 431.5h0M78.8 461.6h0M112.8 397.1h0M115.0 442.0h0M97.5 452.1h0M122.6 413.2h0M167.2 420.6h0M134.0 418.6h0M166.4 447.6h0M92.5 399.2h0M161.1 460.0h0M105.7 418.9h0M95.2 424.2h0M157.0 401.0h0M98.0 453.8h0M84.1 407.0h0M75.1 435.6h0M163.1 412.4h0M117.1 462.0h0M116.6 432.9h0M124.9 422.1h0M82.8 424.9h0M91.4 448.4h0M69.3 413.6h0M99.8 404.7h0M105.3 442.8h0M73.8 440.3h0M166.0 450.9h0M156.9 425.0h0M153.3 454.5h0M104.2 428.7h0M78.2 440.3h0M85.6 462.0h0M84.9 448.9h0M119.0 448.7h0M121.8 412.3h0M133.7 437.4h0M147.8 430.8h0M82.7 426.9h0M157.7 438.0h0M152.2 438.9h0M71.0 411.2h0M160.0 453.3h0M143.0 434.5h0M114.7 423.0h0M157.7 451.3h0M125.5 434.4h0M142.9 441.9h0M85.5 438.0h0M163.2 437.9h0M106.9 416.8h0M107.8 412.3h0M97.5 442.4h0M152.6 447.1h0M95.5 382.8h0M131.7 428.1h0M159.4 443.5h0M112.9 441.3h0M152.1 456.2h0M127.8 445.6h0M151.8 443.0h0M103.7 464.0h0M165.8 453.4h0M164.8 413.0h0M94.1 403.0h0M79.1 457.9h0M138.3 427.2h0M130.7 432.1h0M79.7 451.3h0M104.8 411.6h0M165.4 450.0h0M70.6 417.7h0M73.2 391.6h0M108.0 428.6h0M96.2 424.1h0M126.8 443.8h0M98.5 432.9h0M145.7 437.4h0M112.9 428.1h0M132.8 456.3h0M117.0 422.6h0M96.2 410.9h0M93.5 419.2h0M111.4 416.6h0M159.4 446.4h0M79.9 440.7h0M117.6 416.7h0M95.1 422.4h0M114.3 437.5h0M165.9 453.3h0M161.2 446.1h0M71.0 408.7h0M90.2 430.0h0M71.1 425.7h0M76.3 450.7h0M148.1 411.1h0M160.3 426.4h0M72.0 441.2h0M84.5 450.8h0M92.0 456.3h0M132.5 412.7h0M166.5 424.7h0M80.3 422.3h0M160.9 429.2h0M115.3 443.9h0M90.2 451.8h0M82.1 421.1h0M78.1 429.3h0M123.7 447.5h0M78.3 424.3h0M150.8 441.5h0M102.7 453.5h0M145.1 407.1h0M106.0 446.1h0M161.1 444.9h0M156.2 409.7h0M129.5 450.9h0M134.7 435.9h0M144.7 440.0h0M95.1 449.7h0M161.5 432.4h0M82.8 446.1h0M115.0 434.5h0M81.1 443.5h0M137.1 447.1h0M158.2 416.0h0M113.1 411.2h0" stroke="#a8323a" stroke-width="1.8" stroke-linecap="round" stroke-opacity="0.75" fill="none"/>
<path d="M165.9 438.1h0M132.3 432.5h0M106.0 462.9h0M127.7 442.6h0M149.0 452.6h0M113.1 457.3h0M127.7 458.5h0M113.0 440.9h0M98.0 388.6h0M165.6 449.4h0M105.5 414.1h0M68.8 441.1h0M148.9 442.3h0M143.5 458.8h0M151.5 422.4h0M112.5 441.8h0M128.5 416.9h0M121.4 421.3h0M134.5 445.7h0M82.8 449.7h0M123.6 447.1h0M73.9 445.5h0M119.4 441.3h0M78.8 443.4h0M159.9 410.0h0M77.7 458.1h0M73.8 448.7h0M127.9 427.0h0M132.9 443.1h0M136.3 427.4h0M144.8 453.9h0M89.2 430.8h0M137.4 436.5h0M128.9 445.5h0M144.6 424.1h0M145.7 432.9h0M100.4 416.8h0M153.8 462.9h0M127.6 427.0h0M90.6 433.6h0M83.2 442.6h0M148.4 432.8h0M146.0 413.8h0M69.4 430.0h0M104.0 438.1h0M89.0 436.4h0M166.0 431.4h0M127.1 435.8h0M139.2 435.1h0M78.9 457.7h0M143.3 456.6h0M114.2 418.3h0M154.3 426.8h0M165.6 407.4h0M74.8 429.7h0M98.4 419.5h0M86.3 432.7h0M95.8 441.0h0M144.5 445.3h0M79.9 459.0h0M137.5 406.4h0M139.3 426.4h0M69.3 396.9h0M78.3 443.8h0M72.1 442.8h0M139.9 395.1h0M114.7 461.4h0M123.8 442.8h0M85.0 421.6h0M71.3 422.1h0M165.4 410.7h0M153.1 432.9h0M161.9 452.0h0M105.0 402.8h0M69.2 391.1h0M108.2 460.3h0M138.2 449.1h0M124.0 408.9h0M92.3 455.1h0M145.5 433.3h0M132.6 407.0h0M129.2 424.7h0M145.8 395.0h0M110.1 445.8h0M80.0 431.2h0M119.0 415.3h0M122.9 435.1h0M145.6 409.2h0M158.2 441.4h0M80.4 447.7h0M96.1 440.2h0M129.4 446.5h0M145.2 458.8h0M96.6 425.7h0M149.5 431.8h0M115.6 418.0h0M109.9 421.2h0M134.1 439.5h0M112.0 426.5h0M126.6 425.0h0M120.0 383.3h0M110.1 426.9h0M103.9 452.3h0M132.8 417.2h0M152.4 413.8h0M134.1 409.1h0M76.8 408.2h0M90.8 406.9h0M166.9 405.4h0M141.3 414.2h0M91.0 462.1h0M164.2 422.8h0M87.4 453.3h0M84.7 422.7h0M84.2 410.3h0M104.8 446.7h0M161.8 459.3h0M119.2 449.9h0M82.9 431.2h0M142.9 432.0h0M87.4 385.3h0M134.5 416.4h0M152.3 456.6h0M121.9 416.4h0M103.9 434.0h0M77.3 449.4h0M129.1 422.2h0M111.1 451.8h0M82.3 441.4h0M88.0 394.7h0M149.8 405.2h0M129.3 410.6h0M101.0 440.6h0" stroke="#3485bb" stroke-width="1.8" stroke-linecap="round" stroke-opacity="0.75" fill="none"/>
<path d="M155.7 438.6h0M153.9 404.9h0M79.1 413.8h0M77.3 425.3h0M162.3 431.0h0M77.6 418.3h0M167.0 428.0h0M76.8 398.6h0M162.8 441.3h0M131.0 432.2h0M149.6 460.7h0M99.4 417.7h0M69.3 395.2h0M143.9 400.8h0M107.0 450.7h0M106.6 428.1h0M140.7 434.5h0M126.6 427.7h0M146.9 444.9h0M101.0 415.3h0M147.7 436.1h0M141.8 442.2h0M111.1 425.5h0M132.3 389.5h0M74.9 441.9h0M127.3 443.6h0M75.5 429.2h0M144.6 450.0h0M156.2 441.3h0M134.8 420.5h0M102.0 428.1h0M136.5 382.2h0M163.9 448.5h0M162.6 428.4h0M156.1 413.2h0M128.9 426.2h0M106.2 444.3h0M97.6 423.4h0M116.6 404.2h0M96.8 441.8h0M73.1 423.8h0M106.2 408.6h0M159.3 455.1h0M160.8 439.8h0M96.5 425.5h0M78.2 407.1h0M73.5 406.2h0M111.3 409.4h0M128.7 442.2h0M160.3 429.2h0M131.1 421.7h0M140.9 413.8h0M78.0 446.4h0M135.2 427.3h0M165.7 434.5h0M125.6 442.4h0M90.2 417.7h0M88.0 439.3h0M102.3 411.8h0M147.7 381.9h0M83.6 460.0h0M78.7 410.2h0M102.8 446.6h0M161.9 430.5h0M118.7 414.7h0M139.3 448.5h0M84.9 450.7h0M138.5 430.7h0M85.0 442.1h0M92.3 435.2h0M73.9 430.0h0M119.4 409.5h0M146.0 446.8h0M99.1 403.0h0M100.4 427.0h0M88.3 458.2h0M102.9 419.9h0M92.3 458.8h0M71.1 455.8h0M91.3 432.7h0M130.3 447.8h0M68.7 407.0h0M122.8 430.5h0M73.6 414.7h0M126.9 451.3h0M95.4 425.9h0M78.1 429.0h0M137.2 431.9h0M122.1 436.2h0M89.3 411.1h0M81.2 433.4h0M132.5 423.3h0M131.9 459.6h0M74.7 413.4h0M100.8 456.3h0M115.1 421.1h0M144.7 442.8h0M135.0 438.4h0M95.9 421.5h0M155.2 442.5h0M150.8 438.4h0M114.1 457.6h0M81.8 414.9h0M97.5 406.1h0M106.7 391.9h0M127.5 430.3h0M136.1 428.8h0M122.0 440.0h0M70.1 419.5h0M87.3 453.7h0M117.5 443.4h0M117.8 461.6h0M90.5 462.9h0M141.6 459.9h0M123.8 444.3h0M118.7 437.7h0M77.7 426.0h0M122.1 428.4h0M135.7 418.3h0M131.6 440.0h0M109.3 437.8h0M131.6 423.2h0M148.0 429.1h0M79.7 433.3h0M123.6 429.7h0M111.6 418.2h0" stroke="#e6a52e" stroke-width="1.8" stroke-linecap="round" stroke-opacity="0.75" fill="none"/>
<path d="M129.4 436.3h0M91.8 459.0h0M111.1 420.6h0M109.9 410.6h0M79.4 426.7h0M139.5 413.1h0M73.9 440.9h0M109.9 446.1h0M155.9 432.6h0M120.8 449.5h0M165.5 427.5h0M136.2 432.2h0M91.2 433.3h0M106.8 447.9h0M82.4 427.3h0M119.7 416.6h0M85.8 459.0h0M71.8 437.9h0M79.3 423.9h0M159.2 399.7h0M151.7 402.0h0M115.4 448.8h0M122.2 424.7h0M101.2 437.0h0M113.6 460.8h0M82.3 439.2h0M93.6 429.0h0M126.7 455.2h0M96.5 444.7h0M128.9 433.6h0M153.4 434.5h0M157.8 457.5h0M74.0 401.7h0M126.5 455.3h0M159.5 403.2h0M88.4 417.2h0M163.0 444.3h0M147.5 436.9h0M103.9 398.5h0M108.5 416.8h0M105.8 411.6h0M107.3 410.3h0M154.0 427.9h0M82.9 443.4h0M156.7 444.0h0M97.3 448.2h0M160.6 445.7h0M135.6 453.8h0M108.4 416.4h0M71.9 438.6h0M96.9 455.8h0M138.4 441.9h0M165.2 457.5h0M138.9 400.3h0M117.8 460.5h0M112.3 422.5h0M142.3 440.4h0M78.9 423.7h0M163.2 428.4h0M115.9 444.7h0M141.2 436.4h0M109.9 440.3h0M121.6 449.7h0M92.4 420.6h0M101.3 434.4h0M115.1 443.6h0M71.7 461.2h0M163.0 450.3h0M80.5 425.5h0M117.7 453.4h0M156.2 424.9h0M165.6 428.6h0M129.8 435.8h0M118.7 447.5h0M140.0 412.1h0M112.3 437.9h0M153.0 458.7h0M157.5 409.7h0M158.9 455.0h0M132.2 432.6h0M100.7 420.1h0M148.9 417.5h0M71.4 441.3h0M125.1 442.8h0M96.9 443.1h0M103.0 423.7h0M147.3 454.5h0M81.3 406.6h0M121.4 401.1h0M151.0 413.2h0M78.7 460.6h0M104.5 415.9h0M122.3 468.6h0M81.4 448.3h0M121.1 419.1h0M131.7 410.6h0M162.5 399.5h0M78.2 414.4h0M117.5 441.5h0M124.2 453.1h0M71.9 450.3h0M74.9 416.3h0M147.2 444.6h0M130.3 437.3h0M125.6 425.9h0M69.4 429.4h0M124.3 430.5h0M120.7 431.5h0M100.0 409.7h0M106.7 435.7h0M73.8 435.0h0M155.3 430.7h0M109.7 420.7h0M71.9 411.6h0M155.3 428.2h0M159.7 427.0h0M129.9 426.8h0M123.7 454.5h0M116.0 443.7h0M138.6 433.7h0M107.5 426.7h0M87.7 429.2h0M144.4 436.3h0M86.2 448.5h0M133.5 435.3h0M106.3 409.4h0M90.8 418.5h0M96.6 439.8h0M160.9 450.9h0M101.8 406.5h0M94.1 383.1h0" stroke="#a8323a" stroke-width="1.8" stroke-linecap="round" stroke-opacity="0.75" fill="none"/>
<path d="M117.4 445.0h0M137.6 426.8h0M163.3 453.7h0M78.8 418.0h0M153.5 440.6h0M167.1 454.3h0M147.6 410.5h0M96.8 451.8h0M86.4 445.1h0M101.5 453.7h0M124.6 449.9h0M97.7 423.2h0M167.3 443.3h0M115.5 452.1h0M148.6 417.0h0M71.6 408.2h0M161.8 436.3h0M107.0 462.0h0M138.5 457.8h0M165.8 425.3h0M89.5 437.8h0M109.5 438.0h0M104.0 437.7h0M96.4 418.9h0M104.1 404.5h0M117.2 462.5h0M115.6 454.3h0M97.6 452.3h0M157.0 434.8h0M102.5 442.3h0M123.2 426.0h0M161.2 450.6h0M159.0 425.8h0M68.7 416.4h0M133.5 467.8h0M77.4 441.8h0M143.2 445.6h0M153.1 437.1h0M157.1 449.8h0M111.0 441.2h0M161.5 451.1h0M117.4 448.8h0M120.4 429.6h0M129.0 430.7h0M156.2 448.5h0M122.3 443.6h0M157.1 458.7h0M112.6 452.1h0M122.7 422.3h0M122.9 426.5h0M76.5 421.2h0M162.1 426.3h0M114.9 462.8h0M135.2 452.5h0M109.7 422.2h0M69.4 427.1h0M125.6 441.8h0M140.1 417.8h0M92.4 433.4h0M106.5 452.7h0M78.2 466.3h0M111.2 425.6h0M117.5 461.8h0M125.6 453.9h0M98.2 428.1h0M130.7 436.4h0M89.4 430.4h0M84.8 423.9h0M146.1 415.1h0M150.4 395.2h0M83.1 435.0h0M110.5 406.9h0M147.0 443.3h0M101.8 455.6h0M140.5 407.1h0M90.3 446.4h0M69.4 403.0h0M147.3 443.4h0M124.4 463.2h0M161.0 465.6h0M156.3 443.2h0M77.8 427.3h0M118.7 417.2h0M99.9 430.8h0M92.9 435.0h0M115.0 446.5h0M116.0 421.5h0M91.4 465.3h0M127.0 426.4h0M123.0 433.4h0M74.8 417.4h0M68.3 452.8h0M162.1 439.2h0M124.7 419.9h0M69.5 413.9h0M83.1 446.6h0M78.0 441.7h0M134.7 439.1h0M78.7 418.6h0M83.2 424.3h0M165.5 419.7h0M71.0 448.5h0M90.5 419.6h0M68.7 451.5h0M152.7 432.2h0M100.5 415.0h0M137.2 445.6h0M96.4 450.0h0M158.1 456.6h0M119.5 446.4h0M76.4 420.5h0M130.5 447.8h0M72.9 449.5h0M156.1 438.5h0M160.5 452.2h0M125.5 461.6h0M124.2 437.9h0M162.8 439.7h0M144.3 438.4h0M104.7 428.8h0M134.9 446.4h0M109.9 444.5h0M125.7 441.1h0M140.6 445.8h0M148.4 436.3h0M145.2 404.5h0M82.0 435.4h0M94.6 417.8h0M102.1 397.7h0M80.8 450.8h0M160.1 407.6h0" stroke="#3485bb" stroke-width="1.8" stroke-linecap="round" stroke-opacity="0.75" fill="none"/>
<path d="M150.2 423.8h0M97.2 407.5h0M154.7 432.0h0M139.8 430.6h0M156.7 423.3h0M148.7 442.5h0M121.6 442.5h0M83.3 431.0h0M163.0 442.6h0M165.2 418.9h0M122.6 438.8h0M96.6 412.9h0M79.7 444.7h0M81.2 423.9h0M92.3 419.7h0M96.1 462.5h0M108.8 411.6h0M91.4 400.3h0M151.7 435.4h0M132.4 422.8h0M104.7 438.6h0M94.0 455.0h0M119.0 450.0h0M86.8 405.6h0M146.0 438.1h0M144.5 404.6h0M139.6 453.6h0M144.1 436.5h0M156.1 413.8h0M163.3 431.6h0M137.2 437.7h0M93.0 425.6h0M129.5 427.3h0M124.8 462.4h0M122.9 442.1h0M162.4 437.1h0M120.7 445.2h0M157.8 421.7h0M118.2 458.0h0M87.7 440.1h0M103.0 420.9h0M81.3 448.1h0M145.3 452.3h0M100.1 441.0h0M119.1 462.1h0M83.5 425.2h0M84.2 450.0h0M98.2 420.3h0M117.2 456.4h0M121.2 414.2h0M103.2 451.6h0M155.1 419.0h0M93.1 447.0h0M69.6 404.4h0M147.3 453.8h0M163.9 414.4h0M93.0 409.2h0M167.0 419.1h0M136.0 409.1h0M85.8 436.0h0M146.0 424.1h0M160.7 417.2h0M97.0 454.7h0M145.0 455.2h0M147.7 421.7h0M130.9 458.0h0M90.3 423.2h0M92.0 443.1h0M158.6 435.1h0M92.0 455.8h0M76.7 419.5h0M83.4 458.6h0M110.9 420.6h0M69.1 461.3h0M141.8 437.4h0M87.9 437.1h0M151.0 411.5h0M159.3 448.6h0M154.8 421.4h0M91.0 429.2h0M102.3 442.4h0M78.6 436.6h0M151.4 419.8h0M139.2 462.2h0M87.4 436.0h0M122.0 418.2h0M166.0 453.9h0M109.0 447.0h0M97.7 430.8h0M154.3 417.3h0M163.1 458.5h0M91.7 461.8h0M122.7 424.9h0M125.3 444.0h0M111.6 405.4h0M109.9 441.3h0M81.7 457.3h0M121.4 447.6h0M84.2 453.9h0M107.5 453.5h0M85.4 421.3h0M128.6 461.9h0M78.4 434.4h0M111.9 410.6h0M98.3 436.7h0M76.5 423.4h0M101.9 441.9h0M115.3 442.6h0M85.6 435.4h0M70.6 454.9h0M92.3 441.2h0M82.3 456.5h0M137.3 409.1h0M126.7 407.0h0M128.6 448.8h0M79.9 439.7h0M122.6 403.4h0M104.9 418.4h0M128.7 435.3h0M148.4 428.6h0M72.2 447.9h0M80.9 435.2h0M132.3 443.2h0M160.3 435.8h0M164.5 451.1h0M71.9 427.0h0M127.9 422.8h0M117.5 454.7h0M159.3 394.0h0M93.0 457.4h0M69.4 426.0h0M90.9 439.0h0M158.2 447.2h0" stroke="#e6a52e" stroke-width="1.8" stroke-linecap="round" stroke-opacity="0.75" fill="none"/>
<path d="M69.9 445.4h0M134.0 419.6h0M90.1 441.7h0M123.5 432.7h0M163.0 404.8h0M166.3 451.7h0M88.5 426.4h0M98.1 433.7h0M98.7 454.0h0M166.5 421.8h0M141.3 461.7h0M140.1 442.6h0M71.3 436.2h0M90.8 432.4h0M162.7 440.4h0M131.9 423.9h0M110.1 444.2h0M120.7 433.2h0M123.1 444.4h0M134.7 424.6h0M99.0 455.1h0M126.7 441.2h0M79.4 444.6h0M121.3 431.6h0M161.0 445.3h0M91.5 425.1h0M100.1 449.5h0M152.9 416.8h0M84.8 451.1h0M71.3 432.6h0M143.4 446.3h0M122.0 435.9h0M77.4 419.3h0M142.9 440.3h0M78.5 419.1h0M157.6 447.3h0M162.4 431.6h0M73.5 448.6h0M167.1 451.4h0M71.8 415.8h0M78.8 413.9h0M125.5 438.6h0M90.8 458.2h0M102.0 435.0h0M80.8 415.3h0M165.1 465.3h0M95.3 459.6h0M130.6 422.9h0M70.1 435.9h0M71.7 430.2h0M160.1 426.8h0M102.7 446.5h0M124.4 395.3h0M141.1 438.5h0M150.4 450.6h0M93.4 448.5h0M150.7 446.9h0M120.9 447.2h0M73.7 381.8h0M107.7 438.8h0M111.7 435.9h0M139.5 436.1h0M120.3 414.7h0M118.8 431.7h0M163.9 451.6h0M153.7 435.7h0M140.7 452.3h0M156.5 440.4h0M166.3 440.6h0M101.9 405.2h0M139.0 423.6h0M115.3 453.3h0M125.6 440.3h0M74.2 451.1h0M86.0 458.3h0M96.3 448.6h0M108.6 407.0h0M148.6 440.8h0M157.0 453.1h0M112.0 454.9h0M147.9 444.9h0M162.5 419.1h0M152.4 433.3h0M127.9 453.2h0M159.2 424.0h0M125.7 428.7h0M94.9 410.4h0M84.2 398.3h0M128.0 427.4h0M137.3 448.2h0M98.4 434.2h0M119.1 422.9h0M74.8 433.7h0M123.3 457.9h0M124.2 456.8h0M88.1 453.2h0M161.1 451.0h0M106.8 432.4h0M153.3 459.3h0M95.6 450.8h0M132.6 443.7h0M91.5 439.7h0M105.8 462.3h0M115.3 423.4h0M104.7 440.1h0M96.6 444.1h0M140.1 453.6h0M146.3 423.9h0M93.4 442.1h0M112.3 451.9h0M71.5 438.9h0M119.9 397.3h0M93.7 427.7h0M94.1 451.3h0M69.2 431.2h0M71.6 446.0h0M96.2 419.2h0M122.6 409.6h0M131.7 458.4h0M85.5 428.9h0M114.2 451.2h0M79.7 428.3h0M148.2 455.4h0M131.5 424.5h0M110.6 446.9h0M116.1 423.5h0" stroke="#a8323a" stroke-width="1.8" stroke-linecap="round" stroke-opacity="0.75" fill="none"/>
<path d="M112.6 449.0h0M92.8 412.4h0M114.1 433.9h0M128.8 433.6h0M130.4 442.9h0M159.5 445.6h0M164.6 417.2h0M142.8 467.7h0M75.8 420.4h0M153.6 416.3h0M137.9 452.5h0M90.6 422.8h0M154.2 449.8h0M90.5 456.0h0M157.5 451.6h0M94.4 464.6h0M111.7 440.3h0M86.6 433.8h0M108.4 445.8h0M100.3 427.2h0M95.5 421.7h0M121.5 445.7h0M149.9 428.5h0M144.0 457.2h0M150.5 457.4h0M105.4 427.3h0M158.3 422.9h0M134.1 444.7h0M164.5 437.2h0M92.4 446.9h0M107.8 437.9h0M134.9 431.4h0M143.5 444.9h0M135.7 428.3h0M101.2 429.6h0M74.2 431.1h0M76.0 443.5h0M118.6 384.7h0M142.4 449.9h0M130.2 464.6h0M133.3 401.1h0M97.3 422.6h0M99.2 446.0h0M139.2 406.1h0M131.0 429.6h0M122.3 431.8h0M120.4 441.4h0M140.6 437.5h0M135.1 435.1h0M130.7 416.0h0M107.4 396.0h0M108.8 461.1h0M143.9 444.2h0M150.0 423.9h0M153.3 421.4h0M104.1 454.6h0M142.3 451.1h0M108.1 455.6h0M75.2 455.8h0M83.9 443.1h0M164.1 454.1h0M123.9 447.1h0M161.0 424.8h0M122.5 434.2h0M160.9 403.8h0M71.6 420.2h0M89.3 416.3h0M94.2 414.6h0M95.8 456.4h0M90.1 412.2h0M120.8 417.8h0M161.0 461.2h0M89.0 467.6h0M165.0 456.7h0M83.8 416.1h0M96.6 442.8h0M69.6 414.6h0M133.6 429.5h0M108.2 447.1h0M159.7 428.3h0M114.6 453.8h0M97.0 447.6h0M117.9 421.2h0M109.9 404.8h0M157.2 437.7h0M143.1 409.1h0M103.6 438.1h0M92.3 412.0h0M90.3 420.1h0M107.3 437.7h0M93.0 445.1h0M133.1 446.6h0M119.0 416.8h0M166.5 426.7h0M97.5 435.8h0M126.1 440.1h0M96.7 439.7h0M107.1 431.3h0M138.7 427.0h0M130.4 462.0h0M72.6 443.3h0M80.6 432.1h0M84.2 445.7h0M166.9 441.8h0M121.1 433.8h0M152.7 460.0h0M146.2 426.3h0M154.1 457.5h0M135.2 443.2h0M143.0 437.8h0M103.9 436.2h0M110.4 449.3h0M102.0 444.5h0M115.7 440.4h0M109.9 437.0h0M125.0 450.3h0M155.4 460.4h0M94.4 436.2h0M107.5 415.2h0M159.8 436.1h0M138.0 439.5h0M74.5 413.3h0M150.6 410.4h0M124.2 453.0h0M133.2 414.9h0M71.2 449.1h0M147.9 425.9h0M145.7 445.0h0M87.7 426.6h0M134.8 440.7h0M76.3 431.9h0M75.6 457.1h0M150.5 449.1h0M161.3 459.8h0M141.1 421.4h0" stroke="#3485bb" stroke-width="1.8" stroke-linecap="round" stroke-opacity="0.75" fill="none"/>
<path d="M124.1 462.4h0M141.2 418.4h0M153.8 425.7h0M165.9 457.1h0M68.4 455.7h0M125.0 408.4h0M91.6 432.7h0M94.6 445.5h0M68.4 425.8h0M111.3 432.9h0M156.6 429.5h0M132.2 414.2h0M151.4 430.3h0M128.1 430.8h0M154.4 436.8h0M115.1 428.1h0M122.8 448.2h0M130.5 404.7h0M152.0 434.9h0M155.8 431.7h0M128.4 411.6h0M105.9 444.1h0M77.1 417.3h0M85.1 449.5h0M146.6 416.8h0M157.5 438.6h0M93.1 431.1h0M132.2 410.5h0M124.2 409.7h0M119.7 417.0h0M81.6 458.8h0M122.3 440.4h0M68.3 420.5h0M102.0 423.5h0M99.3 462.7h0M155.8 393.2h0M91.9 419.2h0M107.5 460.0h0M135.6 427.9h0M153.4 401.2h0M111.7 432.9h0M150.8 407.3h0M81.9 452.4h0M126.2 397.7h0M146.5 411.1h0M80.1 398.7h0M73.0 412.1h0M164.6 428.7h0M135.7 462.3h0M74.4 408.2h0M150.8 418.3h0M100.6 420.2h0M79.8 448.5h0M77.0 413.4h0M138.5 428.4h0M162.5 407.6h0M80.8 440.8h0M148.8 438.8h0M156.4 430.9h0M139.6 445.4h0M136.4 461.1h0M162.3 423.4h0M107.7 448.5h0M98.6 429.2h0M117.5 420.0h0M70.9 419.3h0M117.2 450.6h0M91.5 442.2h0M93.4 416.0h0M120.9 460.8h0M68.5 462.4h0M159.4 459.9h0M137.5 400.3h0M84.6 446.1h0M87.2 417.5h0M99.2 425.8h0M116.8 458.2h0M84.8 457.4h0M105.7 416.0h0M118.3 435.6h0M80.3 420.4h0M151.0 403.4h0M94.8 407.8h0M166.5 446.4h0M133.7 462.1h0M85.8 384.1h0M157.8 451.4h0M114.4 401.9h0M153.7 436.9h0M79.1 436.0h0M117.9 452.5h0M90.9 409.3h0M153.8 458.2h0M125.7 398.1h0M125.1 440.7h0M81.3 414.1h0M102.0 420.0h0M100.2 430.5h0M116.3 399.0h0M83.7 452.1h0M82.6 440.8h0M88.6 419.9h0M106.7 444.1h0M123.9 425.8h0M131.3 411.6h0M96.3 438.0h0M131.9 421.1h0M134.9 449.0h0M101.6 455.3h0M74.5 425.9h0M125.9 421.2h0M87.1 450.2h0M125.8 418.6h0M68.8 423.2h0M102.7 447.5h0M127.1 416.8h0M109.8 430.6h0M126.4 433.5h0M143.9 445.5h0M104.3 403.4h0M146.5 431.5h0M146.2 443.0h0M120.8 441.2h0M90.1 416.7h0M148.0 390.0h0M110.9 396.1h0M97.8 400.7h0M122.5 417.8h0M92.3 420.8h0M154.0 393.8h0M72.5 441.3h0M159.2 428.6h0M123.2 426.2h0M76.9 406.9h0M80.1 406.0h0" stroke="#e6a52e" stroke-width="1.8" stroke-linecap="round" stroke-opacity="0.75" fill="none"/>
<path d="M115.9 422.7h0M134.6 424.3h0M91.6 437.5h0M77.7 456.4h0M102.9 451.3h0M151.6 425.3h0M116.5 386.9h0M143.5 455.6h0M157.0 460.9h0M118.6 392.0h0M161.3 442.4h0M82.5 440.9h0M117.3 419.5h0M162.1 427.1h0M95.1 405.5h0M127.6 432.2h0M84.6 451.0h0M136.6 429.2h0M152.1 440.2h0M98.7 413.0h0M166.2 421.7h0M138.0 435.8h0M121.5 451.9h0M105.2 452.7h0M109.0 421.9h0M112.7 427.3h0M84.8 416.6h0M96.2 451.9h0M146.7 418.7h0M129.1 438.3h0M96.5 427.7h0M123.7 418.2h0M104.3 452.3h0M137.7 449.8h0M113.0 393.8h0M97.1 438.5h0M132.1 459.1h0M93.5 432.1h0M145.1 442.0h0M116.2 423.0h0M136.2 422.8h0M161.5 443.1h0M160.7 404.5h0M102.7 442.9h0M91.0 426.0h0M118.2 440.2h0M118.9 424.8h0M88.9 469.3h0M122.9 433.6h0M69.6 412.5h0M138.5 424.7h0M121.1 438.7h0M96.7 447.4h0M100.0 441.6h0M85.3 454.8h0M147.1 431.9h0M94.2 449.2h0M102.2 422.3h0M143.5 443.9h0M87.9 403.7h0M146.7 458.1h0M155.0 449.3h0M131.9 444.9h0M143.6 444.4h0M83.8 385.6h0M144.9 415.9h0M145.5 452.5h0M164.6 459.4h0M149.1 441.5h0M154.4 416.8h0M98.8 409.2h0M73.9 405.4h0M137.7 458.3h0M116.9 467.0h0M110.4 414.0h0M145.0 437.6h0M105.0 424.5h0M109.5 449.7h0M152.7 437.4h0M100.1 440.5h0M161.7 451.5h0M78.7 438.9h0M110.1 413.0h0M70.5 420.8h0M145.6 414.2h0M147.6 463.5h0M68.5 426.8h0M91.0 452.3h0M154.6 462.4h0M154.3 460.6h0M106.6 422.5h0M85.3 452.3h0M111.4 427.0h0M142.3 400.3h0M93.2 397.5h0M97.8 410.0h0M110.1 426.6h0M87.3 439.4h0M129.2 463.9h0M145.3 443.4h0M125.5 445.0h0M85.7 426.6h0M108.9 449.4h0M77.4 449.1h0M137.8 424.4h0M68.8 441.7h0M141.2 434.5h0M132.6 401.6h0M141.9 440.5h0M83.8 438.1h0M73.0 443.1h0M94.8 404.3h0M108.1 446.9h0M74.8 406.8h0M86.5 436.2h0M99.6 436.0h0M144.6 467.9h0M109.8 432.5h0M103.1 417.3h0M135.0 450.1h0" stroke="#a8323a" stroke-width="1.8" stroke-linecap="round" stroke-opacity="0.75" fill="none"/>
<polygon points="68.8,429.2 73.7,429.2 78.7,429.2 83.6,429.1 88.5,429.0 93.4,428.9 98.4,428.7 103.3,428.6 108.2,428.4 113.2,428.2 118.1,427.9 123.0,427.7 128.0,427.4 132.9,427.0 137.8,426.6 142.8,426.2 147.7,425.7 152.6,425.1 157.5,424.6 162.5,423.9 167.4,423.3 167.4,429.3 162.5,429.1 157.5,429.0 152.6,428.9 147.7,428.9 142.8,428.9 137.8,428.9 132.9,429.0 128.0,429.2 123.0,429.3 118.1,429.6 113.2,429.8 108.2,430.1 103.3,430.4 98.4,430.7 93.4,431.1 88.5,431.5 83.6,431.9 78.7,432.3 73.7,432.8 68.8,433.2" fill="#e6a52e" fill-opacity="0.22"/>
<line x1="68.80" y1="431.23" x2="167.40" y2="426.28" stroke="#e6a52e" stroke-width="0.85"/>
<polygon points="68.8,428.3 73.7,428.8 78.7,429.3 83.6,429.7 88.5,430.1 93.4,430.5 98.4,430.9 103.3,431.3 108.2,431.6 113.2,431.9 118.1,432.2 123.0,432.4 128.0,432.6 132.9,432.8 137.8,432.9 142.8,433.0 147.7,433.0 152.6,433.0 157.5,432.9 162.5,432.8 167.4,432.6 167.4,438.7 162.5,438.0 157.5,437.4 152.6,436.8 147.7,436.2 142.8,435.7 137.8,435.2 132.9,434.8 128.0,434.4 123.0,434.1 118.1,433.8 113.2,433.5 108.2,433.3 103.3,433.1 98.4,432.9 93.4,432.8 88.5,432.6 83.6,432.5 78.7,432.4 73.7,432.4 68.8,432.3" fill="#3485bb" fill-opacity="0.22"/>
<line x1="68.80" y1="430.32" x2="167.40" y2="435.67" stroke="#3485bb" stroke-width="0.85"/>
<polygon points="68.8,430.8 73.7,431.3 78.7,431.7 83.6,432.0 88.5,432.4 93.4,432.7 98.4,433.1 103.3,433.3 108.2,433.6 113.2,433.8 118.1,434.1 123.0,434.2 128.0,434.4 132.9,434.5 137.8,434.5 142.8,434.5 147.7,434.5 152.6,434.4 157.5,434.2 162.5,434.1 167.4,433.9 167.4,439.9 162.5,439.3 157.5,438.7 152.6,438.2 147.7,437.7 142.8,437.2 137.8,436.8 132.9,436.5 128.0,436.2 123.0,435.9 118.1,435.7 113.2,435.5 108.2,435.3 103.3,435.2 98.4,435.1 93.4,435.0 88.5,434.9 83.6,434.8 78.7,434.8 73.7,434.8 68.8,434.9" fill="#a8323a" fill-opacity="0.22"/>
<line x1="68.80" y1="432.84" x2="167.40" y2="436.88" stroke="#a8323a" stroke-width="0.85"/>
<line x1="247.50" y1="367.0" x2="247.50" y2="479.0" stroke="#e2e2e2" stroke-width="0.9"/>
<line x1="279.50" y1="367.0" x2="279.50" y2="479.0" stroke="#e2e2e2" stroke-width="0.9"/>
<line x1="311.50" y1="367.0" x2="311.50" y2="479.0" stroke="#e2e2e2" stroke-width="0.9"/>
<line x1="218.7" y1="472.90" x2="331.00" y2="472.90" stroke="#e2e2e2" stroke-width="0.9"/>
<line x1="218.7" y1="447.67" x2="331.00" y2="447.67" stroke="#e2e2e2" stroke-width="0.9"/>
<line x1="218.7" y1="422.45" x2="331.00" y2="422.45" stroke="#e2e2e2" stroke-width="0.9"/>
<line x1="218.7" y1="397.23" x2="331.00" y2="397.23" stroke="#e2e2e2" stroke-width="0.9"/>
<line x1="218.7" y1="372.00" x2="331.00" y2="372.00" stroke="#e2e2e2" stroke-width="0.9"/>
<text x="217.90" y="473.50" font-size="5.5" text-anchor="end" fill="#333333" stroke="#333333" stroke-width="0.04">0.00</text>
<text x="217.90" y="448.27" font-size="5.5" text-anchor="end" fill="#333333" stroke="#333333" stroke-width="0.04">0.25</text>
<text x="217.90" y="423.05" font-size="5.5" text-anchor="end" fill="#333333" stroke="#333333" stroke-width="0.04">0.50</text>
<text x="217.90" y="397.83" font-size="5.5" text-anchor="end" fill="#333333" stroke="#333333" stroke-width="0.04">0.75</text>
<text x="217.90" y="372.60" font-size="5.5" text-anchor="end" fill="#333333" stroke="#333333" stroke-width="0.04">1.00</text>
<text x="247.50" y="485.10" font-size="5.5" text-anchor="middle" fill="#333333" stroke="#333333" stroke-width="0.04">125</text>
<text x="279.50" y="485.10" font-size="5.5" text-anchor="middle" fill="#333333" stroke="#333333" stroke-width="0.04">150</text>
<text x="311.50" y="485.10" font-size="5.5" text-anchor="middle" fill="#333333" stroke="#333333" stroke-width="0.04">175</text>
<text x="331.00" y="494.20" font-size="6.4" text-anchor="end" fill="#1a1a1a" stroke="#1a1a1a" stroke-width="0.04">Age (months)</text>
<text x="204.60" y="367.30" font-size="6.4" text-anchor="end" fill="#1a1a1a" stroke="#1a1a1a" stroke-width="0.04" transform="rotate(-90 204.60 367.30)">Class probabilities</text>
<text x="0" y="0" font-size="9.8" font-weight="bold" text-anchor="middle" fill="#000" stroke="#000" stroke-width="0.08" transform="translate(274.85 362.90) scale(1 1.04)">QTAB</text>
<path d="M264.0 431.8h0M231.0 434.3h0M243.2 452.4h0M278.1 453.1h0M237.0 403.8h0M323.0 421.0h0M253.7 417.7h0M302.3 434.9h0M308.5 391.2h0M260.9 465.1h0M274.0 420.6h0M317.0 428.2h0M263.8 420.2h0M309.9 442.8h0M226.2 418.6h0M274.0 442.9h0M310.5 451.7h0M267.0 436.4h0M261.6 427.0h0M276.4 464.5h0M249.7 423.9h0M289.4 435.2h0M230.5 443.8h0M252.2 418.3h0M317.1 451.8h0M272.7 413.8h0M245.8 446.8h0M281.8 443.5h0M313.4 450.2h0M246.3 449.7h0M307.4 414.3h0M277.2 419.7h0M307.9 437.9h0M225.8 422.7h0M249.1 416.9h0M302.0 398.0h0M269.3 424.3h0M322.4 430.9h0M238.9 435.5h0M289.9 437.6h0M248.6 446.5h0M229.1 426.2h0M259.1 420.6h0M251.9 441.3h0M264.4 419.4h0M239.9 452.0h0M322.9 425.8h0M265.6 454.5h0M261.8 426.6h0M274.6 443.3h0M277.9 441.2h0M240.8 432.8h0M234.8 443.9h0M246.4 460.4h0M261.6 445.5h0M249.8 438.7h0M253.1 463.9h0M225.7 407.8h0M299.0 451.4h0M321.1 419.1h0M295.3 415.2h0M307.6 423.2h0M264.3 423.5h0M255.4 459.6h0M266.0 453.4h0M308.8 421.7h0M310.2 420.4h0M313.6 402.8h0M270.7 434.2h0M276.3 447.9h0M244.6 389.8h0M274.2 451.2h0M295.5 409.5h0M324.3 433.2h0M281.9 463.4h0M248.8 402.7h0M246.0 445.9h0M305.6 415.8h0M280.3 435.5h0M279.8 430.3h0M311.7 464.1h0M282.6 456.9h0M263.6 457.5h0M268.4 428.6h0M282.9 417.1h0M271.4 391.0h0M303.1 404.9h0M294.2 439.6h0M261.7 442.6h0M286.0 441.4h0M277.2 418.7h0M307.9 420.3h0M277.4 456.0h0M255.3 428.5h0M263.6 435.2h0M308.1 435.2h0M270.4 435.1h0M318.9 424.7h0M230.7 451.5h0M306.6 406.6h0M264.0 443.8h0M286.1 439.9h0M255.3 426.3h0M322.8 421.5h0M307.9 458.2h0M285.7 422.4h0M325.7 424.3h0M319.7 427.1h0M263.9 439.9h0M262.4 420.6h0M264.5 423.9h0M290.7 411.0h0M306.9 405.2h0M247.6 455.4h0M254.7 456.7h0M307.0 430.8h0M303.2 439.7h0M225.7 438.6h0M257.3 424.3h0M248.4 427.7h0M277.0 436.7h0M303.5 439.7h0M324.2 414.2h0M287.9 437.2h0M325.5 429.4h0M232.9 421.0h0M307.9 421.6h0M259.2 457.2h0M264.2 444.6h0M295.5 431.4h0M314.0 450.9h0M310.3 434.9h0M276.7 444.0h0" stroke="#3485bb" stroke-width="1.8" stroke-linecap="round" stroke-opacity="0.62" fill="none"/>
<path d="M298.0 415.6h0M295.0 418.2h0M306.0 448.4h0M253.7 432.1h0M250.1 407.9h0M260.6 441.4h0M299.1 440.8h0M286.2 415.4h0M307.4 450.6h0M310.7 415.4h0M270.5 417.2h0M294.3 423.9h0M276.3 397.8h0M306.6 445.7h0M239.9 443.0h0M287.8 416.5h0M250.4 450.2h0M234.1 468.0h0M260.6 398.2h0M324.5 419.2h0M324.1 434.0h0M249.4 444.0h0M307.2 433.4h0M277.7 436.5h0M283.8 423.1h0M246.5 443.7h0M307.8 387.9h0M262.7 429.0h0M314.9 444.7h0M234.0 437.6h0M317.4 422.7h0M254.9 437.6h0M243.1 405.1h0M277.2 398.5h0M287.5 436.4h0M258.9 446.5h0M271.8 425.7h0M252.7 421.1h0M252.8 445.0h0M322.5 440.9h0M281.4 420.4h0M241.5 439.4h0M270.3 444.3h0M283.0 452.5h0M252.0 450.7h0M324.2 419.2h0M287.4 454.8h0M289.9 434.1h0M286.2 391.0h0M255.1 446.1h0M262.8 427.3h0M272.6 455.2h0M316.9 426.1h0M261.2 435.8h0M250.0 459.6h0M288.1 407.5h0M261.5 448.0h0M259.0 423.2h0M269.8 459.7h0M264.7 411.8h0M274.1 447.9h0M274.8 421.4h0M262.4 420.9h0M272.1 426.8h0M286.7 396.6h0M316.0 419.7h0M281.7 414.6h0M312.1 426.4h0M290.6 407.2h0M310.4 419.6h0M306.8 423.1h0M283.0 384.1h0M294.9 441.5h0M261.6 436.0h0M257.7 417.0h0M264.0 427.2h0M235.2 409.8h0M234.3 460.8h0M289.8 406.8h0M240.9 430.8h0M314.9 417.2h0M266.3 428.9h0M305.2 451.0h0M307.1 430.1h0M257.7 451.3h0M261.0 430.7h0M236.8 444.3h0M295.2 442.9h0M260.3 454.0h0M312.2 409.7h0M294.2 406.5h0M258.1 445.0h0M297.8 414.0h0M269.3 398.2h0M287.5 435.7h0M229.7 435.1h0M321.1 450.4h0M228.3 433.0h0M262.5 422.0h0M285.9 459.3h0M303.1 449.9h0M253.4 447.3h0M241.5 453.6h0M227.9 432.9h0M278.5 414.8h0M304.9 431.8h0M256.8 434.3h0M274.2 435.9h0M258.4 437.4h0M304.7 436.5h0M230.7 408.5h0M298.0 423.8h0M316.4 430.5h0M296.9 413.2h0M267.7 411.9h0M227.3 422.3h0M325.8 427.3h0M277.6 427.9h0M245.1 428.9h0M261.7 455.5h0M277.9 424.1h0M247.0 418.6h0M262.5 415.1h0M307.0 401.7h0M246.1 429.7h0M314.8 416.6h0M297.8 429.6h0M270.1 447.6h0M307.7 435.9h0M282.4 422.8h0M320.7 413.2h0M235.5 438.4h0M311.4 402.2h0M290.1 440.6h0" stroke="#e6a52e" stroke-width="1.8" stroke-linecap="round" stroke-opacity="0.62" fill="none"/>
<path d="M232.4 418.3h0M286.4 460.5h0M241.2 435.8h0M264.5 425.3h0M272.2 434.1h0M320.9 413.4h0M284.0 413.9h0M239.5 441.8h0M322.1 427.6h0M277.2 453.6h0M232.7 445.3h0M274.3 431.6h0M241.2 459.9h0M317.0 455.5h0M230.8 425.1h0M250.7 456.7h0M264.6 424.9h0M264.2 435.0h0M321.0 420.2h0M263.9 438.8h0M324.4 405.2h0M305.2 436.2h0M276.6 387.9h0M229.1 432.6h0M254.5 451.4h0M282.9 440.0h0M279.3 460.3h0M260.9 436.8h0M260.5 440.2h0M312.2 455.1h0M280.9 418.1h0M286.7 442.5h0M323.5 452.7h0M254.7 416.2h0M314.4 422.1h0M303.3 419.0h0M281.0 448.4h0M302.2 446.4h0M280.9 443.9h0M260.5 454.0h0M281.8 434.6h0M279.9 415.0h0M253.7 463.8h0M312.3 417.5h0M239.2 460.5h0M230.8 443.4h0M250.3 455.7h0M259.5 443.3h0M292.4 423.1h0M320.7 419.5h0M281.0 433.8h0M276.3 419.5h0M265.9 394.6h0M286.5 454.8h0M318.3 445.6h0M226.3 431.9h0M261.3 425.3h0M320.3 436.9h0M290.8 448.0h0M306.0 412.5h0M243.3 431.5h0M241.2 424.3h0M280.9 401.4h0M313.8 459.5h0M311.1 454.2h0M238.6 414.7h0M287.4 414.0h0M256.1 417.3h0M292.2 434.9h0M275.1 428.2h0M253.7 431.5h0M250.8 439.4h0M239.6 454.8h0M280.5 432.4h0M226.3 432.3h0M264.2 423.0h0M257.9 446.6h0M324.4 465.5h0M305.4 419.9h0M257.7 408.4h0M231.1 426.7h0M276.8 432.7h0M267.8 421.8h0M288.2 406.4h0M268.3 428.7h0M267.7 410.4h0M284.7 459.0h0M257.8 408.4h0M231.4 412.3h0M255.2 437.8h0M255.3 442.7h0M317.0 451.2h0M308.1 403.9h0M232.3 442.9h0M242.7 428.0h0M257.1 446.0h0M314.7 453.8h0M320.1 424.7h0M308.1 409.3h0M280.0 441.8h0M225.7 435.7h0M306.6 428.2h0M304.3 411.2h0M319.0 417.7h0M262.3 434.3h0M294.0 443.9h0M303.6 419.5h0M307.4 431.5h0M252.7 410.5h0M263.9 417.9h0M233.0 406.2h0M316.1 428.5h0M272.1 406.7h0M302.0 419.4h0M325.8 421.5h0M254.4 418.8h0M274.5 411.4h0M307.3 409.1h0M260.4 449.4h0M252.1 447.3h0M290.1 388.2h0M281.6 456.4h0M327.0 455.4h0M287.7 410.4h0M305.7 440.2h0M227.5 435.8h0M308.0 456.4h0M264.6 426.9h0M238.4 424.0h0M267.2 414.4h0M283.8 436.9h0M255.4 424.6h0M270.9 407.8h0" stroke="#a8323a" stroke-width="1.8" stroke-linecap="round" stroke-opacity="0.62" fill="none"/>
<path d="M248.0 421.5h0M260.1 404.5h0M317.1 428.9h0M263.9 435.3h0M250.0 402.6h0M230.7 438.2h0M322.8 427.7h0M279.5 417.9h0M292.1 450.2h0M249.2 431.4h0M274.2 427.9h0M311.0 410.3h0M283.2 434.0h0M307.4 411.4h0M282.8 398.7h0M256.6 422.2h0M252.2 419.8h0M289.9 453.1h0M250.6 415.1h0M257.7 426.2h0M272.4 438.3h0M252.7 448.0h0M283.0 424.7h0M265.3 415.0h0M261.6 458.5h0M282.7 424.1h0M297.2 442.6h0M272.6 448.6h0M325.3 416.8h0M282.7 412.0h0M258.0 436.8h0M290.3 437.4h0M316.8 395.3h0M270.8 432.7h0M319.3 418.8h0M307.5 448.7h0M272.5 428.0h0M250.5 415.8h0M253.5 419.4h0M289.4 436.1h0M261.7 424.3h0M232.1 413.9h0M305.5 424.9h0M312.2 449.7h0M309.3 428.5h0M311.4 460.7h0M325.4 407.1h0M274.0 448.0h0M286.2 443.6h0M230.9 430.0h0M253.7 453.3h0M286.6 432.5h0M324.1 436.0h0M239.9 442.6h0M280.7 436.7h0M286.0 396.9h0M293.7 398.4h0M280.3 432.8h0M282.9 447.4h0M258.3 449.1h0M243.1 431.2h0M286.2 386.1h0M264.4 444.5h0M262.4 434.9h0M273.9 438.7h0M307.4 431.3h0M246.5 410.7h0M280.0 400.2h0M269.3 441.9h0M254.0 415.4h0M307.2 436.9h0M259.5 420.8h0M323.4 435.7h0M269.5 425.3h0M275.9 443.5h0M290.0 461.7h0M234.3 409.7h0M299.5 432.0h0M252.3 447.5h0M252.8 400.6h0M267.0 435.9h0M248.0 439.0h0M314.4 454.3h0M250.3 432.3h0M288.1 432.9h0M230.4 415.4h0M320.2 450.3h0M279.8 444.9h0M290.1 417.0h0M272.8 448.6h0M264.4 413.8h0M264.7 412.4h0M242.7 445.5h0M239.1 422.1h0M248.2 410.8h0M286.9 415.1h0M247.6 450.1h0M325.2 431.6h0M309.8 424.0h0M243.2 416.3h0M314.4 426.6h0M286.3 412.6h0M230.7 448.1h0M260.2 448.5h0M298.2 425.7h0M280.6 443.2h0M260.0 435.3h0M228.6 452.8h0M255.4 457.6h0M255.2 464.1h0M230.1 446.3h0M255.2 446.4h0M283.6 452.7h0M250.6 434.7h0M254.2 433.2h0M272.6 420.4h0M289.6 419.6h0M264.4 406.2h0M287.0 415.6h0M299.5 428.8h0M325.6 407.0h0M311.7 432.0h0M287.0 422.8h0M264.2 429.9h0M266.0 400.0h0M258.3 448.1h0M280.5 423.4h0M261.2 441.7h0M302.4 404.6h0M280.5 439.6h0M271.9 442.7h0M252.0 432.2h0M252.7 415.3h0M237.6 398.4h0" stroke="#3485bb" stroke-width="1.8" stroke-linecap="round" stroke-opacity="0.62" fill="none"/>
<path d="M256.4 413.4h0M282.4 430.1h0M243.1 445.2h0M297.8 427.3h0M289.4 433.5h0M245.6 436.6h0M238.5 410.4h0M287.1 422.0h0M294.5 429.0h0M274.5 440.3h0M312.2 390.6h0M258.1 404.1h0M316.1 412.7h0M230.8 446.4h0M247.9 435.8h0M230.9 456.0h0M241.1 420.0h0M253.3 421.2h0M239.3 430.6h0M261.1 423.6h0M309.9 432.7h0M260.8 443.8h0M310.7 413.0h0M252.2 440.8h0M279.2 425.1h0M259.9 406.8h0M242.2 425.0h0M258.9 425.1h0M297.0 440.5h0M234.4 448.7h0M273.6 420.4h0M271.4 444.5h0M228.1 451.2h0M276.9 418.5h0M287.0 422.9h0M308.0 416.7h0M295.1 435.3h0M303.0 460.4h0M227.0 431.0h0M272.4 440.4h0M292.0 410.5h0M268.6 443.6h0M267.2 429.6h0M276.4 402.9h0M274.0 409.1h0M268.0 431.6h0M277.8 428.7h0M269.9 445.0h0M314.4 443.8h0M305.7 455.7h0M259.6 410.8h0M281.4 458.1h0M311.2 432.0h0M271.9 399.7h0M245.0 427.0h0M287.9 430.4h0M259.7 448.3h0M257.8 437.2h0M258.3 434.2h0M254.7 400.8h0M258.3 453.7h0M266.4 436.2h0M256.2 450.7h0M254.1 413.3h0M256.9 456.4h0M261.2 440.8h0M232.8 432.5h0M245.8 418.5h0M235.6 422.2h0M281.9 433.9h0M281.8 450.5h0M278.3 458.0h0M284.1 423.5h0M286.7 420.9h0M306.7 399.8h0M313.9 450.3h0M255.3 453.5h0M304.2 408.6h0M303.7 421.0h0M311.2 396.3h0M258.0 432.9h0M248.6 460.5h0M276.2 401.4h0M236.9 426.5h0M290.3 389.2h0M319.6 452.7h0M251.8 422.9h0M284.4 412.3h0M248.6 436.6h0M268.8 394.7h0M264.5 430.2h0M319.3 423.1h0M278.3 399.9h0M254.3 433.9h0M264.0 418.5h0M232.8 409.0h0M320.6 416.0h0M303.6 426.5h0M276.9 421.3h0M306.9 439.6h0M248.8 456.3h0M277.8 460.4h0M305.5 434.4h0M277.2 446.4h0M275.0 411.0h0M252.1 427.4h0M252.2 417.5h0M308.3 436.3h0M249.2 432.8h0M272.3 432.5h0M285.8 395.5h0M287.8 435.9h0M323.4 426.1h0M315.8 446.6h0M236.5 430.0h0M252.8 446.1h0M254.1 446.9h0M307.1 439.2h0" stroke="#e6a52e" stroke-width="1.8" stroke-linecap="round" stroke-opacity="0.62" fill="none"/>
<path d="M280.9 443.0h0M261.2 463.2h0M308.4 439.5h0M302.2 419.3h0M312.4 415.7h0M239.6 450.4h0M247.9 457.8h0M246.7 426.0h0M259.5 426.2h0M239.1 417.8h0M310.9 397.3h0M262.5 425.5h0M241.3 460.0h0M230.5 437.8h0M270.1 399.3h0M259.9 435.7h0M312.0 390.8h0M322.8 415.1h0M248.1 425.5h0M318.4 430.8h0M275.0 447.0h0M235.7 420.1h0M245.2 395.1h0M243.0 415.3h0M254.7 455.8h0M264.3 404.4h0M243.0 434.7h0M236.9 416.3h0M324.9 409.9h0M239.5 449.5h0M292.2 408.7h0M251.1 423.9h0M244.8 432.4h0M320.7 412.9h0M252.9 413.9h0M326.6 444.0h0M274.8 437.8h0M241.7 424.1h0M258.2 465.2h0M256.7 461.3h0M311.3 447.8h0M259.6 426.7h0M235.2 454.2h0M322.1 429.2h0M259.6 413.0h0M319.6 438.5h0M293.6 454.4h0M297.1 421.9h0M252.5 422.1h0M290.6 446.9h0M268.4 454.4h0M239.1 430.3h0M277.3 417.4h0M277.3 432.7h0M289.9 452.4h0M258.2 445.0h0M280.7 445.3h0M276.6 422.4h0M252.9 407.2h0M296.8 413.9h0M264.5 436.4h0M317.4 425.4h0M265.8 452.5h0M245.3 429.2h0M311.2 426.0h0M241.3 449.0h0M307.9 408.0h0M261.3 455.7h0M281.9 452.7h0M249.6 427.7h0M247.3 435.8h0M250.1 448.2h0M313.5 414.8h0M259.6 440.0h0M306.7 424.6h0M228.0 462.2h0M305.4 417.5h0M314.8 408.1h0M235.7 418.4h0M272.0 403.5h0M323.2 439.5h0M259.1 433.9h0M311.4 434.6h0M280.4 422.7h0M231.2 448.2h0M246.2 425.5h0M297.0 427.3h0M305.4 439.8h0M240.1 441.4h0M261.6 430.2h0M294.3 457.6h0M243.3 400.1h0M261.7 448.9h0M259.2 432.2h0M266.5 423.4h0M253.1 393.4h0M322.3 443.4h0M310.7 456.7h0M258.3 424.1h0M257.8 418.3h0M269.8 451.6h0M270.2 430.5h0M230.4 437.4h0M299.0 412.1h0M291.9 442.9h0M287.0 460.5h0M246.2 452.1h0M307.9 454.8h0M236.5 442.3h0M238.3 454.9h0M230.8 449.7h0M236.5 434.9h0M265.6 438.0h0M277.8 431.7h0M280.6 454.4h0M246.0 408.1h0M264.0 428.5h0M293.4 440.3h0M266.9 454.0h0M308.6 409.2h0M286.9 418.2h0M312.6 449.0h0M310.3 453.5h0M278.0 425.1h0M231.0 444.6h0M257.9 430.7h0M279.2 446.3h0M298.6 399.3h0M252.7 406.6h0M264.1 464.1h0M249.9 416.2h0M303.0 402.0h0M232.3 442.2h0M279.9 438.7h0M322.0 431.2h0M311.9 425.0h0M317.5 437.3h0M305.9 460.6h0M228.1 421.2h0M280.7 398.1h0M307.9 439.8h0M283.3 416.9h0M241.0 405.6h0M270.1 426.3h0M305.9 444.2h0M260.4 453.2h0M285.9 416.4h0M306.9 430.2h0" stroke="#a8323a" stroke-width="1.8" stroke-linecap="round" stroke-opacity="0.62" fill="none"/>
<path d="M314.3 437.4h0M280.6 448.7h0M321.6 409.9h0M264.4 456.9h0M261.7 428.8h0M233.6 418.1h0M259.5 424.1h0M242.6 398.6h0M287.9 444.3h0M264.2 431.2h0M234.7 435.0h0M239.3 433.2h0M319.8 451.2h0M313.1 427.1h0M300.6 426.9h0M321.0 419.9h0M256.2 439.6h0M254.8 432.7h0M305.2 422.5h0M241.3 436.7h0M298.2 422.5h0M233.0 438.7h0M229.8 440.3h0M260.9 457.0h0M238.1 451.1h0M246.0 393.1h0M284.5 447.8h0M308.2 406.8h0M239.3 421.5h0M254.1 433.1h0M252.4 406.9h0M272.5 449.3h0M277.0 442.3h0M270.7 433.9h0M286.0 436.6h0M259.4 452.4h0M295.5 440.6h0M287.6 412.9h0M279.8 439.4h0M260.0 401.6h0M277.5 454.5h0M315.7 422.8h0M264.4 396.9h0M235.6 406.6h0M310.4 429.1h0M262.3 444.6h0M276.8 411.2h0M286.7 412.0h0M234.6 459.1h0M269.7 433.2h0M239.7 450.1h0M276.2 425.9h0M307.9 436.4h0M292.7 462.0h0M278.0 433.1h0M309.8 452.7h0M314.3 410.6h0M233.7 448.3h0M241.5 402.5h0M276.7 429.6h0M277.5 427.4h0M254.2 422.7h0M264.3 430.1h0M305.6 443.5h0M264.2 431.2h0M274.3 434.6h0M270.1 401.5h0M281.5 459.7h0M308.0 435.2h0M282.5 450.0h0M310.2 408.8h0M280.6 430.2h0M257.9 402.7h0M261.6 438.2h0M316.3 421.5h0M263.2 428.2h0M286.8 459.0h0M241.8 430.8h0M230.9 407.3h0M278.3 455.0h0M277.1 430.8h0M287.4 447.1h0M243.0 447.7h0M247.3 405.5h0M243.4 432.4h0M260.9 431.7h0M311.6 405.3h0M314.5 399.2h0M275.5 421.8h0M283.3 455.5h0M302.6 449.6h0M275.6 412.4h0M304.7 406.7h0M238.7 433.5h0M236.9 412.1h0M283.7 448.2h0M244.2 439.5h0M287.6 416.0h0M279.6 451.6h0M254.3 386.1h0M257.4 456.9h0M248.4 419.8h0M256.1 435.4h0M252.4 452.6h0M262.5 439.6h0M250.5 457.1h0M307.6 438.9h0M325.7 398.4h0M294.2 445.0h0M239.7 443.4h0M261.5 430.2h0M228.1 426.2h0M314.7 434.2h0M274.4 442.1h0M319.5 401.3h0M304.4 400.0h0M276.0 425.0h0M324.3 431.2h0M227.2 455.7h0M248.3 435.8h0M231.0 416.8h0M265.0 449.8h0M270.4 432.4h0M244.5 421.6h0M264.8 437.7h0M270.6 439.1h0M235.3 432.7h0M254.7 395.9h0M239.6 447.8h0M262.4 441.5h0M247.8 424.8h0M312.0 450.8h0M326.9 441.7h0" stroke="#3485bb" stroke-width="1.8" stroke-linecap="round" stroke-opacity="0.62" fill="none"/>
<path d="M263.5 419.4h0M290.0 454.7h0M286.6 405.7h0M305.4 435.7h0M234.4 439.0h0M252.0 459.0h0M231.1 441.5h0M232.4 454.4h0M318.4 443.9h0M309.4 440.8h0M253.8 432.4h0M316.9 411.2h0M307.9 416.4h0M231.0 433.7h0M276.7 427.8h0M321.8 427.2h0M271.9 415.7h0M245.7 419.3h0M302.4 439.2h0M251.7 454.6h0M246.2 429.5h0M280.7 418.0h0M322.2 426.5h0M297.9 432.9h0M317.0 418.1h0M276.6 434.9h0M264.2 429.8h0M240.1 428.3h0M289.6 446.7h0M261.6 452.8h0M285.9 442.5h0M254.0 453.0h0M269.8 410.8h0M272.0 458.0h0M238.8 391.0h0M246.3 434.2h0M242.6 427.8h0M277.3 429.3h0M241.3 423.6h0M320.9 431.3h0M290.3 448.5h0M247.6 414.7h0M320.9 446.0h0M229.3 389.2h0M266.9 443.1h0M293.8 435.2h0M263.4 432.8h0M239.0 444.9h0M309.7 415.2h0M290.8 454.0h0M261.9 447.2h0M324.3 403.0h0M261.6 445.3h0M295.1 449.2h0M282.3 420.2h0M278.1 426.3h0M254.6 436.4h0M286.2 436.2h0M272.7 425.4h0M311.0 418.7h0M289.6 439.1h0M258.6 443.8h0M321.5 458.8h0M312.5 414.7h0M277.1 415.1h0M239.6 458.0h0M270.3 421.7h0M283.1 435.3h0M284.7 433.8h0M266.4 413.0h0M270.7 427.9h0M259.6 445.8h0M322.2 413.3h0M311.4 455.3h0M269.5 400.5h0M239.3 398.0h0M316.9 425.7h0M245.3 410.2h0M267.5 457.5h0M325.6 427.6h0M249.5 429.0h0M261.4 430.4h0M281.1 404.2h0M266.8 411.1h0M323.1 428.0h0M274.6 429.2h0M278.2 421.1h0M266.2 453.1h0M295.4 448.3h0M264.5 451.5h0M266.1 443.0h0M244.3 430.3h0M239.0 445.0h0M262.8 435.9h0M283.0 402.5h0M319.7 413.2h0M230.4 421.9h0M256.0 415.9h0M254.3 409.8h0M287.2 454.8h0M260.3 433.2h0M307.1 433.1h0M308.7 452.6h0M274.7 446.9h0M239.4 438.9h0M256.5 433.7h0M261.8 401.2h0M296.5 409.7h0M299.1 409.6h0M258.0 412.6h0M309.7 461.8h0M269.3 421.8h0M266.8 439.3h0M264.1 458.5h0M312.5 452.1h0M264.5 429.7h0M233.2 418.8h0M307.8 412.8h0M260.5 450.5h0M289.3 410.1h0M294.7 459.9h0M265.7 460.8h0M264.3 427.9h0M272.4 448.8h0M294.2 424.8h0M264.3 424.9h0M272.0 454.9h0M288.7 436.4h0M254.5 408.9h0M245.8 439.1h0M324.7 414.5h0M270.7 431.9h0M304.5 429.6h0M276.2 428.5h0M286.4 433.8h0M254.1 449.2h0M248.1 442.5h0M307.0 441.6h0M256.6 410.2h0M239.3 422.4h0M313.0 443.6h0M308.8 401.3h0M280.8 452.1h0M238.1 430.8h0M274.2 418.5h0M264.4 411.2h0M290.3 434.8h0M253.6 424.3h0" stroke="#e6a52e" stroke-width="1.8" stroke-linecap="round" stroke-opacity="0.62" fill="none"/>
<path d="M265.3 398.1h0M246.3 398.1h0M288.1 434.0h0M256.8 438.1h0M321.6 438.8h0M298.3 411.6h0M252.8 432.2h0M261.6 431.3h0M246.2 443.5h0M311.3 415.0h0M282.6 415.5h0M305.7 416.8h0M233.3 433.6h0M240.0 416.0h0M290.5 433.9h0M277.9 435.0h0M283.0 448.9h0M240.9 427.6h0M275.0 403.9h0M287.0 430.7h0M258.3 404.7h0M302.0 430.8h0M262.2 432.8h0M290.7 454.1h0M298.2 456.6h0M286.0 417.8h0M264.1 456.2h0M235.8 429.9h0M252.6 459.3h0M320.9 443.0h0M270.0 434.5h0M241.6 451.1h0M246.5 400.2h0M261.7 428.4h0M322.0 433.6h0M287.7 453.3h0M293.9 451.2h0M316.2 455.9h0M261.7 438.1h0M252.9 403.2h0M299.3 414.5h0M268.8 405.6h0M272.6 457.4h0M309.7 466.0h0M307.5 410.9h0M266.9 433.3h0M261.6 424.0h0M262.0 421.1h0M294.8 439.3h0M290.1 424.5h0M260.5 430.9h0M272.8 442.5h0M319.9 419.6h0M264.2 446.4h0M274.4 419.8h0M233.3 436.5h0M284.3 389.5h0M308.3 431.6h0M305.8 453.2h0M239.8 446.3h0M256.5 444.4h0M254.7 401.2h0M308.0 423.9h0M266.6 443.5h0M283.4 435.8h0M286.7 463.4h0M278.4 437.6h0M257.0 422.9h0M307.2 409.3h0M317.5 406.9h0M293.9 444.0h0M320.4 442.0h0M295.9 402.3h0M275.5 408.9h0M312.1 417.2h0M246.2 422.8h0M258.0 419.5h0M241.6 400.8h0M247.9 429.3h0M297.2 429.3h0M310.4 443.1h0M249.9 428.9h0M261.0 435.8h0M289.8 437.7h0M297.8 432.5h0M240.1 429.5h0M252.4 420.3h0M297.0 452.8h0M254.8 439.0h0M294.8 429.4h0M236.5 428.8h0M247.1 432.7h0M312.4 428.6h0M279.9 450.6h0M258.4 427.3h0M257.6 439.4h0M262.5 456.0h0M294.1 439.0h0M309.6 448.5h0M269.9 434.2h0M325.2 436.4h0M322.2 418.9h0M239.6 437.4h0M324.4 420.7h0M319.7 432.0h0M264.8 452.7h0M227.6 441.2h0M319.5 413.3h0M248.3 434.7h0M252.3 454.7h0M238.7 422.7h0M280.9 420.9h0M261.1 450.6h0M242.6 405.1h0M234.3 453.7h0M261.7 419.1h0M249.5 433.0h0M249.6 418.9h0M259.4 404.4h0" stroke="#a8323a" stroke-width="1.8" stroke-linecap="round" stroke-opacity="0.62" fill="none"/>
<polygon points="224.5,421.2 229.6,422.0 234.7,422.7 239.8,423.4 244.9,424.0 250.1,424.5 255.2,425.0 260.3,425.4 265.4,425.7 270.5,426.0 275.7,426.2 280.8,426.4 285.9,426.5 291.0,426.5 296.1,426.4 301.3,426.2 306.4,426.0 311.5,425.6 316.6,425.2 321.7,424.7 326.9,424.2 326.9,435.3 321.7,434.3 316.6,433.4 311.5,432.6 306.4,431.9 301.3,431.3 296.1,430.7 291.0,430.2 285.9,429.8 280.8,429.5 275.7,429.3 270.5,429.1 265.4,429.0 260.3,428.9 255.2,429.0 250.1,429.0 244.9,429.2 239.8,429.4 234.7,429.6 229.6,429.9 224.5,430.3" fill="#e6a52e" fill-opacity="0.3"/>
<line x1="224.46" y1="425.78" x2="326.86" y2="429.71" stroke="#e6a52e" stroke-width="0.85"/>
<polygon points="224.5,424.5 229.6,425.1 234.7,425.7 239.8,426.3 244.9,426.8 250.1,427.2 255.2,427.6 260.3,428.0 265.4,428.3 270.5,428.6 275.7,428.8 280.8,428.9 285.9,429.0 291.0,429.0 296.1,428.9 301.3,428.8 306.4,428.5 311.5,428.3 316.6,427.9 321.7,427.5 326.9,427.0 326.9,437.1 321.7,436.2 316.6,435.5 311.5,434.7 306.4,434.1 301.3,433.5 296.1,433.1 291.0,432.6 285.9,432.3 280.8,432.0 275.7,431.8 270.5,431.6 265.4,431.5 260.3,431.5 255.2,431.5 250.1,431.5 244.9,431.6 239.8,431.8 234.7,432.0 229.6,432.2 224.5,432.5" fill="#3485bb" fill-opacity="0.3"/>
<line x1="224.46" y1="428.50" x2="326.86" y2="432.04" stroke="#3485bb" stroke-width="0.85"/>
<polygon points="224.5,425.3 229.6,425.9 234.7,426.5 239.8,427.0 244.9,427.5 250.1,428.0 255.2,428.4 260.3,428.7 265.4,429.0 270.5,429.2 275.7,429.4 280.8,429.5 285.9,429.6 291.0,429.6 296.1,429.5 301.3,429.3 306.4,429.1 311.5,428.8 316.6,428.4 321.7,428.0 326.9,427.5 326.9,437.6 321.7,436.8 316.6,436.0 311.5,435.3 306.4,434.7 301.3,434.1 296.1,433.6 291.0,433.2 285.9,432.9 280.8,432.6 275.7,432.4 270.5,432.3 265.4,432.2 260.3,432.2 255.2,432.2 250.1,432.3 244.9,432.4 239.8,432.5 234.7,432.8 229.6,433.0 224.5,433.3" fill="#a8323a" fill-opacity="0.3"/>
<line x1="224.46" y1="429.31" x2="326.86" y2="432.54" stroke="#a8323a" stroke-width="0.85"/>
<line x1="407.30" y1="367.0" x2="407.30" y2="479.0" stroke="#e2e2e2" stroke-width="0.9"/>
<line x1="442.65" y1="367.0" x2="442.65" y2="479.0" stroke="#e2e2e2" stroke-width="0.9"/>
<line x1="478.00" y1="367.0" x2="478.00" y2="479.0" stroke="#e2e2e2" stroke-width="0.9"/>
<line x1="377.8" y1="472.90" x2="490.30" y2="472.90" stroke="#e2e2e2" stroke-width="0.9"/>
<line x1="377.8" y1="447.67" x2="490.30" y2="447.67" stroke="#e2e2e2" stroke-width="0.9"/>
<line x1="377.8" y1="422.45" x2="490.30" y2="422.45" stroke="#e2e2e2" stroke-width="0.9"/>
<line x1="377.8" y1="397.23" x2="490.30" y2="397.23" stroke="#e2e2e2" stroke-width="0.9"/>
<line x1="377.8" y1="372.00" x2="490.30" y2="372.00" stroke="#e2e2e2" stroke-width="0.9"/>
<text x="376.40" y="473.50" font-size="5.5" text-anchor="end" fill="#333333" stroke="#333333" stroke-width="0.04">0.00</text>
<text x="376.40" y="448.27" font-size="5.5" text-anchor="end" fill="#333333" stroke="#333333" stroke-width="0.04">0.25</text>
<text x="376.40" y="423.05" font-size="5.5" text-anchor="end" fill="#333333" stroke="#333333" stroke-width="0.04">0.50</text>
<text x="376.40" y="397.83" font-size="5.5" text-anchor="end" fill="#333333" stroke="#333333" stroke-width="0.04">0.75</text>
<text x="376.40" y="372.60" font-size="5.5" text-anchor="end" fill="#333333" stroke="#333333" stroke-width="0.04">1.00</text>
<text x="407.30" y="485.10" font-size="5.5" text-anchor="middle" fill="#333333" stroke="#333333" stroke-width="0.04">120</text>
<text x="442.65" y="485.10" font-size="5.5" text-anchor="middle" fill="#333333" stroke="#333333" stroke-width="0.04">140</text>
<text x="478.00" y="485.10" font-size="5.5" text-anchor="middle" fill="#333333" stroke="#333333" stroke-width="0.04">160</text>
<text x="490.30" y="494.20" font-size="6.4" text-anchor="end" fill="#1a1a1a" stroke="#1a1a1a" stroke-width="0.04">Age (months)</text>
<text x="363.00" y="367.30" font-size="6.4" text-anchor="end" fill="#1a1a1a" stroke="#1a1a1a" stroke-width="0.04" transform="rotate(-90 363.00 367.30)">Class probabilities</text>
<text x="0" y="0" font-size="9.8" font-weight="bold" text-anchor="middle" fill="#000" stroke="#000" stroke-width="0.08" transform="translate(434.05 362.90) scale(1 1.04)">ABCD</text>
<defs><linearGradient id="tintD" x1="0" y1="0" x2="0" y2="1"><stop offset="0" stop-color="#a09890" stop-opacity="0.02"/><stop offset="0.1" stop-color="#a09080" stop-opacity="0.07"/><stop offset="0.35" stop-color="#a08068" stop-opacity="0.15"/><stop offset="0.9" stop-color="#987860" stop-opacity="0.17"/><stop offset="1" stop-color="#a09080" stop-opacity="0.04"/></linearGradient></defs>
<rect x="384.0" y="380.1" width="86.1" height="89.8" fill="url(#tintD)"/>
<path d="M475.9 455.0h0M481.8 423.0h0M475.5 401.1h0M485.3 424.5h0M476.8 450.9h0M473.6 446.6h0M477.1 438.1h0M475.4 411.7h0M472.4 453.3h0M478.7 419.7h0" stroke="#3485bb" stroke-width="0.85" stroke-linecap="round" stroke-opacity="0.4" fill="none"/>
<path d="M486.5 421.5h0M473.8 424.5h0M483.1 437.6h0M481.4 457.9h0M484.2 423.2h0M472.1 446.7h0M482.6 412.9h0M474.7 420.0h0M478.9 430.1h0M486.3 439.1h0" stroke="#e6a52e" stroke-width="0.85" stroke-linecap="round" stroke-opacity="0.4" fill="none"/>
<path d="M486.6 445.7h0M475.6 390.5h0M480.2 432.1h0M480.3 420.4h0M475.1 436.7h0M471.3 400.3h0M486.6 458.7h0M474.1 450.5h0M472.3 398.2h0M472.1 429.2h0" stroke="#a8323a" stroke-width="0.85" stroke-linecap="round" stroke-opacity="0.4" fill="none"/>
<path d="M472.5 454h0M449.5 468h0M386.1 392h0M396.5 453h0M465.2 427h0M438.6 453h0M393.2 461h0M393.5 419h0M437.5 455h0M429.0 423h0M427.4 424h0M422.6 443h0M395.5 452h0M399.7 424h0M439.5 458h0M437.7 436h0M397.3 407h0M426.2 388h0M437.4 419h0M426.8 408h0M441.1 451h0M411.2 464h0M424.7 443h0M397.3 399h0M440.5 414h0M428.1 428h0M444.6 404h0M453.4 432h0M425.5 432h0M402.4 439h0M426.4 396h0M397.8 409h0M400.8 398h0M405.8 418h0M385.0 453h0M447.9 412h0M386.2 411h0M424.8 445h0M415.7 412h0M420.9 439h0M417.6 423h0M421.7 424h0M463.9 431h0M394.8 442h0M395.2 463h0M399.9 420h0M451.4 427h0M410.7 388h0M426.1 458h0M385.0 447h0M462.2 443h0M389.7 446h0M424.4 409h0M383.9 462h0M464.1 441h0M389.1 445h0M419.8 439h0M424.4 445h0M384.7 410h0M474.9 401h0M452.2 404h0M424.6 399h0M424.3 449h0M458.6 443h0M392.6 447h0M466.3 446h0M424.4 465h0M437.5 410h0M468.0 400h0M449.3 402h0M384.1 433h0M452.9 447h0M447.4 415h0M400.8 423h0M426.7 395h0M410.5 462h0M428.8 396h0M384.9 431h0M460.0 385h0M427.1 416h0M460.8 426h0M467.8 437h0M444.6 420h0M386.2 436h0M391.1 420h0M458.5 424h0M463.6 386h0M439.2 454h0M433.7 454h0M452.6 392h0M386.3 401h0M447.4 447h0M466.8 409h0M464.1 458h0M398.6 422h0M384.3 446h0M413.2 424h0M460.3 468h0M430.4 420h0M413.9 457h0M405.5 435h0M465.5 444h0M387.5 452h0M394.8 406h0M405.7 440h0M449.9 440h0M454.6 412h0M450.8 421h0M425.3 416h0M429.7 413h0M457.1 444h0M409.4 443h0M384.5 404h0M454.8 397h0M420.1 463h0M392.7 439h0M460.6 450h0M426.6 425h0M399.7 422h0M444.0 413h0M431.5 394h0M437.2 404h0M463.9 418h0M457.3 423h0M416.5 385h0M462.6 453h0M415.9 420h0M430.9 447h0M383.7 459h0M393.8 424h0M464.1 410h0M425.2 425h0M387.4 451h0M415.5 426h0M394.8 427h0M465.2 421h0M462.0 440h0M396.3 446h0M426.3 448h0M386.2 407h0M424.9 405h0M395.1 425h0M453.8 389h0M432.1 433h0M402.2 391h0M390.3 459h0M386.5 415h0M395.0 409h0M389.0 420h0M453.1 405h0M389.0 452h0M394.4 421h0M453.5 421h0M400.2 437h0M408.8 460h0M444.0 398h0M469.7 412h0M394.4 449h0M443.0 427h0M407.3 445h0M387.7 437h0M464.3 456h0M448.0 464h0M412.2 386h0M407.4 459h0M446.8 389h0M398.9 431h0M408.7 421h0M420.1 435h0M422.6 408h0M428.5 466h0M454.5 456h0M395.2 386h0M444.1 420h0M402.2 444h0M437.9 414h0M474.0 385h0M431.5 403h0M430.6 429h0M404.1 432h0M439.3 418h0M405.5 459h0M390.7 423h0M402.0 467h0M443.2 412h0M442.4 454h0M439.7 440h0M384.3 393h0M427.2 424h0M428.8 432h0M426.7 433h0M453.3 425h0M385.8 460h0M458.7 435h0M385.9 460h0M461.5 449h0M401.7 434h0M390.9 401h0M458.7 448h0M442.1 439h0M453.3 447h0M426.3 453h0M419.9 423h0M453.6 421h0M437.8 439h0M395.2 459h0M436.8 450h0M391.3 423h0M473.3 411h0M390.2 454h0M386.3 426h0M458.4 437h0M463.9 419h0M426.3 407h0M397.1 450h0M443.9 438h0M441.1 438h0M454.7 427h0M455.0 389h0M413.1 414h0M398.5 429h0M384.6 431h0M392.0 446h0M438.9 392h0M399.9 415h0M436.8 446h0M467.2 409h0M425.2 441h0M384.3 403h0M429.2 390h0M394.6 433h0M388.0 439h0M446.7 413h0M441.5 433h0M451.6 407h0M452.9 411h0M441.1 440h0M384.3 431h0M391.8 442h0M428.8 455h0M385.4 396h0M468.8 425h0M440.8 454h0M432.1 412h0M442.2 407h0M456.8 462h0M425.2 464h0M418.2 388h0M409.5 414h0M401.8 451h0M439.1 462h0M454.5 426h0M417.6 390h0M394.6 455h0M432.0 417h0M422.0 412h0M437.9 437h0M412.4 464h0M437.1 432h0M457.2 461h0M464.2 430h0M421.0 431h0M474.6 426h0M460.3 448h0M414.8 436h0M455.1 440h0M427.0 427h0M425.6 445h0M392.8 460h0M416.6 452h0M460.8 443h0M450.1 423h0M412.4 456h0M446.1 466h0M472.9 400h0M389.6 415h0M431.0 452h0M405.9 408h0M451.8 439h0M391.8 442h0M401.9 463h0M394.6 415h0M465.8 421h0M424.7 449h0M438.7 388h0M407.7 433h0M418.0 424h0M405.7 440h0M406.9 467h0M464.5 430h0M443.1 455h0M426.5 390h0M395.3 443h0M433.4 390h0M389.5 433h0M391.8 420h0M446.6 417h0M432.4 442h0M434.3 436h0M389.7 435h0M441.3 457h0M389.8 467h0M434.4 445h0M385.9 434h0M426.6 417h0M396.5 419h0M434.9 436h0M389.3 415h0M464.3 428h0M430.4 461h0M384.6 407h0M419.1 446h0M434.3 449h0M421.4 417h0M467.3 465h0M453.3 431h0M392.5 463h0M397.9 433h0M410.5 452h0M400.5 434h0M445.1 424h0M421.8 436h0M463.3 449h0M394.3 404h0M445.9 426h0M460.5 454h0M413.1 432h0M460.3 461h0M437.6 438h0M437.5 439h0M426.1 397h0M395.1 433h0M460.7 446h0M398.9 420h0M414.9 432h0M424.7 385h0M426.5 422h0M449.4 426h0M444.0 456h0M432.3 453h0M424.5 446h0M420.8 387h0M387.4 443h0M392.0 421h0M470.5 405h0M405.3 453h0M458.8 446h0M467.0 408h0M466.9 436h0M419.3 418h0M426.1 439h0M402.2 466h0M396.3 440h0M414.1 420h0M398.9 404h0M429.1 398h0M425.2 400h0M452.1 423h0M431.8 429h0M391.3 395h0M408.9 446h0M447.7 449h0M464.3 426h0M419.3 407h0M449.8 421h0M443.2 419h0M435.1 444h0M386.3 422h0M443.0 396h0M444.4 422h0M427.0 426h0M386.3 455h0M439.6 425h0M427.4 431h0M396.8 427h0M386.5 463h0M398.4 413h0M406.1 454h0M405.8 439h0M409.8 445h0M392.8 440h0M397.4 392h0M467.0 407h0M433.2 442h0M472.3 434h0M383.7 444h0M425.5 410h0M393.8 429h0M448.1 453h0M386.0 453h0M466.3 441h0M386.7 432h0M383.7 422h0M470.6 433h0M472.6 452h0M454.6 430h0M465.4 443h0M427.1 442h0M386.5 435h0M414.7 418h0M459.2 442h0M398.9 462h0M414.5 408h0M422.9 433h0M419.4 451h0M456.5 457h0M425.7 459h0M428.7 430h0M422.1 450h0M399.1 459h0M469.2 409h0M425.3 414h0M385.6 453h0M464.5 426h0M437.0 392h0M431.9 411h0M384.9 409h0M430.1 431h0M391.6 411h0M412.2 439h0M405.7 457h0M460.2 456h0M384.6 434h0M425.4 467h0M389.4 409h0M396.3 402h0M436.0 434h0M391.9 423h0M442.7 440h0M430.7 454h0M395.5 437h0M442.6 404h0M436.8 434h0M460.9 400h0M429.0 451h0M420.9 397h0M443.9 423h0M453.0 430h0M399.1 425h0M388.2 449h0M383.9 418h0M464.2 421h0M463.2 444h0M422.5 452h0M411.3 406h0M467.7 445h0M440.8 412h0M451.1 425h0M383.7 413h0M465.1 455h0M456.4 429h0M432.3 423h0M440.4 459h0M405.4 442h0M387.9 431h0M419.5 422h0M410.8 449h0M384.9 435h0M384.3 444h0M426.5 430h0M391.4 418h0M398.6 420h0M437.1 455h0M463.5 413h0M405.6 441h0M400.7 440h0M447.4 443h0M458.5 405h0M451.0 428h0M428.8 443h0M462.5 442h0M389.5 407h0M427.2 458h0M451.5 441h0M434.1 453h0M458.0 413h0M453.7 408h0M463.7 442h0M394.9 449h0M436.8 441h0M429.7 420h0M386.7 403h0M469.0 429h0M419.8 441h0M441.1 400h0M393.2 450h0M424.7 427h0M438.9 431h0M456.9 462h0M437.9 466h0M443.1 414h0M414.8 424h0M395.5 420h0M400.5 431h0M450.3 429h0M436.9 455h0M425.5 450h0M412.0 452h0M442.0 448h0M416.3 430h0M433.3 397h0M428.6 397h0M421.5 395h0M386.4 452h0M435.4 451h0M384.7 417h0M465.3 434h0M457.9 425h0M401.4 429h0M415.0 455h0M455.2 440h0M398.0 426h0M407.4 450h0M410.9 410h0M426.7 445h0M445.7 449h0M423.7 392h0M426.8 462h0M405.0 436h0M400.1 441h0M448.4 389h0M428.5 405h0M387.6 446h0M421.2 394h0M410.2 459h0M392.1 437h0M454.5 412h0M398.1 402h0M458.6 413h0M391.7 425h0M432.2 445h0M405.4 406h0M399.2 421h0M435.5 414h0M467.0 400h0M395.0 398h0M411.1 459h0M426.2 391h0M473.2 430h0M461.0 460h0M448.5 412h0M383.9 449h0M383.8 447h0M413.2 452h0M426.9 446h0M472.3 434h0M433.3 454h0M411.2 453h0M430.7 432h0M438.8 440h0M464.5 452h0M426.3 408h0M424.4 407h0M421.6 411h0M425.1 426h0M444.8 464h0M454.9 419h0M394.3 418h0M386.3 448h0M460.7 438h0M402.7 403h0M433.4 448h0M429.7 421h0M394.6 435h0M423.6 438h0M437.7 407h0M424.3 461h0M424.3 424h0M396.3 384h0M427.0 446h0M444.9 431h0M390.0 430h0M463.2 425h0M462.5 439h0M406.2 424h0M414.8 449h0M391.5 452h0M435.9 446h0M411.5 445h0M448.3 435h0M383.6 440h0M407.1 439h0M398.2 397h0M433.3 437h0M406.1 402h0M444.6 441h0M396.7 402h0M442.1 462h0M435.6 454h0M424.9 445h0M450.1 440h0M397.0 433h0M383.9 453h0M467.6 417h0M470.4 446h0M410.5 451h0M452.7 437h0M461.0 461h0M442.9 402h0M430.6 400h0M390.0 403h0M433.8 468h0M396.2 411h0M469.4 464h0M383.8 437h0M437.6 453h0M383.8 439h0M456.6 447h0M384.1 457h0M428.6 451h0M400.0 454h0M437.9 459h0M428.3 405h0M424.6 408h0M458.2 408h0M443.7 405h0M391.6 437h0M386.4 467h0M408.8 466h0M441.5 401h0M386.4 448h0M445.1 441h0M432.5 451h0M463.9 461h0M427.8 425h0M409.6 438h0M427.2 392h0M384.3 401h0M450.3 395h0M395.5 448h0M384.8 442h0M425.5 447h0M389.8 457h0M430.0 445h0M419.7 464h0M437.5 448h0M443.0 449h0M403.5 454h0M390.0 422h0M453.4 437h0M469.1 457h0M388.4 449h0M401.8 422h0M454.7 446h0M433.6 454h0M410.7 434h0M463.6 392h0M450.3 406h0M427.3 453h0M424.7 432h0M412.8 422h0M401.6 435h0M449.0 426h0M432.7 432h0M389.0 425h0M386.5 422h0M407.9 422h0M444.5 439h0M462.5 409h0M394.9 428h0M437.9 401h0M463.8 452h0M458.0 442h0M456.3 455h0M447.8 438h0M423.4 459h0M402.5 461h0M427.4 467h0M426.2 413h0M384.5 412h0M394.8 452h0M459.8 442h0M430.5 464h0M445.6 433h0M425.4 410h0M441.1 444h0M446.4 400h0M414.2 424h0M428.9 415h0M397.8 470h0M421.0 446h0M427.2 431h0M419.3 451h0M402.4 459h0M414.9 423h0M401.5 424h0M433.8 413h0M395.3 414h0M458.5 434h0M384.0 408h0M387.7 453h0M417.4 406h0M426.9 436h0M385.7 433h0M384.0 403h0M462.8 444h0M383.9 464h0M415.0 462h0M455.0 461h0M447.7 410h0M386.4 446h0M432.6 389h0M423.3 419h0M459.2 460h0M437.1 466h0M411.9 465h0M448.5 423h0M437.7 412h0M452.0 437h0M383.8 426h0M416.4 406h0M456.5 435h0M463.8 460h0M460.1 400h0M385.9 439h0M452.7 440h0M413.7 435h0M400.3 388h0M444.0 447h0M405.5 438h0M446.4 438h0M414.0 399h0M396.4 419h0M453.5 466h0M398.2 388h0M407.7 446h0M427.4 437h0M384.3 433h0M431.0 449h0M458.0 455h0M441.3 429h0M436.9 435h0M405.4 415h0M460.9 443h0M389.7 453h0M416.1 443h0M399.0 414h0M470.8 440h0M421.7 465h0M439.3 424h0M438.7 436h0M420.8 417h0M458.5 416h0M425.7 429h0M456.6 448h0M454.7 453h0M410.5 418h0M384.6 403h0M436.1 453h0M426.4 441h0M411.3 449h0M447.3 463h0M384.7 412h0M424.5 403h0M472.3 401h0M414.9 449h0M389.8 447h0M448.0 453h0M463.8 418h0M461.7 414h0M424.8 403h0M424.4 420h0M383.8 433h0M414.9 425h0M409.5 445h0M383.8 430h0M453.5 413h0M459.2 409h0M390.8 459h0M441.4 426h0M425.3 452h0M455.6 399h0M436.0 407h0M427.9 455h0M460.9 457h0M414.5 439h0M402.6 457h0M384.1 414h0M386.4 412h0M464.9 444h0M419.3 430h0M461.9 408h0M444.4 429h0M394.3 435h0M451.6 387h0M384.2 467h0M400.4 402h0M456.9 415h0M445.6 438h0M389.6 424h0M469.0 449h0M446.2 422h0M393.0 417h0M385.6 438h0M385.6 461h0M384.0 436h0M430.2 437h0M410.6 432h0M386.2 401h0M384.9 404h0M462.3 443h0M417.8 456h0M403.7 406h0M426.3 448h0M461.7 405h0M425.4 456h0M396.4 435h0M409.0 460h0M463.9 387h0M467.7 462h0M409.2 433h0M419.6 452h0M432.4 440h0M429.1 432h0M419.6 440h0M462.3 468h0M445.9 429h0M436.9 407h0M447.3 442h0M460.4 419h0M437.1 429h0M455.5 428h0M444.0 401h0M385.9 404h0M459.2 412h0M406.0 464h0M390.0 430h0M463.2 429h0M406.8 426h0M445.9 416h0M411.5 455h0M391.0 420h0M452.0 428h0M400.0 401h0M437.1 422h0M426.8 441h0M424.3 461h0M403.7 453h0M384.9 435h0M454.6 432h0M422.9 442h0M400.6 429h0M446.4 397h0M426.6 425h0M446.3 420h0M390.2 429h0M450.3 457h0M434.9 425h0M385.6 405h0M389.1 465h0M437.9 440h0M446.9 446h0M433.2 419h0M435.4 453h0M386.5 410h0M426.9 455h0M446.7 461h0M421.9 423h0M405.1 437h0M420.1 409h0M389.8 439h0M414.3 461h0M411.0 452h0M389.4 443h0M464.0 412h0M414.8 460h0M395.1 449h0M466.0 467h0M384.4 430h0M425.1 453h0M468.7 397h0M463.2 431h0M385.0 429h0M401.6 452h0M438.0 434h0M416.0 432h0M416.1 414h0M446.5 409h0M402.3 454h0M437.9 459h0M445.0 438h0M391.7 428h0M426.7 407h0M449.6 416h0M414.9 449h0M405.3 441h0M385.6 455h0M465.8 402h0M396.1 428h0M394.9 464h0M399.8 451h0M430.4 403h0M387.9 422h0M405.7 449h0M385.7 412h0M451.3 466h0M426.9 445h0M467.3 452h0M465.1 411h0M467.9 429h0M416.2 440h0M397.0 458h0M390.3 440h0M398.2 465h0M449.6 456h0M473.1 434h0M426.3 405h0M410.2 399h0M384.3 431h0M410.7 454h0M442.6 417h0M441.3 403h0M426.9 400h0M473.0 403h0M445.1 450h0M438.9 437h0M419.8 451h0M427.4 468h0M446.8 388h0M426.3 464h0M448.5 407h0M430.8 439h0M392.6 398h0M391.5 399h0M418.5 405h0M426.2 411h0M410.3 454h0M414.5 440h0M400.2 445h0M384.5 413h0M400.3 426h0M412.8 414h0M427.0 467h0M416.0 417h0M421.9 465h0M392.5 404h0M427.3 422h0M450.4 415h0M428.7 405h0M428.1 402h0M447.8 461h0M386.5 433h0M451.2 423h0M459.8 449h0M411.0 440h0M459.1 449h0M455.2 411h0M388.9 445h0M442.2 415h0M454.7 439h0M414.2 430h0M426.4 419h0M416.8 426h0M414.9 436h0M444.3 466h0M450.9 443h0M458.9 460h0M395.2 422h0M394.6 403h0M419.3 416h0M429.9 408h0M432.5 423h0M462.8 435h0M400.3 449h0M389.0 429h0M407.3 445h0M436.7 399h0M425.7 429h0M386.0 414h0M384.5 427h0M458.4 435h0M397.3 415h0M438.0 457h0M413.0 422h0M420.0 467h0M462.5 452h0M395.2 419h0M412.9 462h0M452.0 440h0M455.5 442h0M426.8 415h0M440.9 425h0M384.2 435h0M440.6 398h0M424.8 417h0M406.0 411h0M389.7 430h0M415.6 394h0M419.1 405h0M400.0 457h0M424.3 416h0M394.7 416h0M437.3 412h0M426.5 399h0M451.5 401h0M419.4 452h0M407.7 432h0M385.8 431h0M437.3 422h0M441.2 414h0M396.3 455h0M420.3 460h0M396.2 417h0M400.9 411h0M425.4 452h0M438.9 418h0M460.1 462h0M440.7 442h0M434.0 409h0M463.6 395h0M389.4 437h0M459.9 432h0M450.1 464h0M458.5 442h0M433.8 465h0M393.6 444h0M402.3 424h0M458.2 407h0M457.2 408h0M386.6 436h0M469.3 423h0M430.9 424h0M393.8 456h0M397.4 434h0M420.9 454h0M434.4 395h0M447.4 460h0M461.7 426h0M451.0 445h0M444.3 449h0M384.0 415h0M421.7 461h0M404.1 412h0" stroke="#3485bb" stroke-width="0.85" stroke-linecap="round" stroke-opacity="0.4" fill="none"/>
<path d="M405.1 454h0M420.1 438h0M407.9 460h0M405.6 398h0M447.4 391h0M389.3 385h0M404.4 410h0M460.1 468h0M446.8 451h0M472.9 434h0M384.8 463h0M412.7 455h0M389.0 449h0M426.2 397h0M473.4 407h0M456.6 404h0M438.9 428h0M391.9 449h0M453.4 445h0M456.5 455h0M419.1 427h0M396.3 409h0M452.6 397h0M467.7 429h0M451.4 406h0M426.1 450h0M443.8 426h0M426.1 416h0M460.5 418h0M384.2 435h0M472.7 417h0M465.8 395h0M395.2 421h0M419.0 427h0M455.2 459h0M459.9 467h0M449.7 392h0M424.3 412h0M438.5 404h0M405.4 418h0M438.0 460h0M460.6 422h0M449.0 421h0M397.8 388h0M446.6 418h0M396.4 450h0M386.5 391h0M388.2 436h0M392.5 457h0M458.6 459h0M399.5 402h0M475.0 386h0M401.8 409h0M402.2 459h0M418.1 416h0M445.0 451h0M451.2 425h0M453.0 441h0M458.0 441h0M473.1 434h0M383.8 465h0M387.6 421h0M472.2 438h0M446.2 430h0M386.4 435h0M386.8 457h0M461.5 420h0M387.8 459h0M459.0 425h0M411.0 404h0M472.2 461h0M453.8 423h0M386.6 438h0M421.0 386h0M396.1 465h0M402.2 425h0M444.6 424h0M428.0 452h0M460.9 465h0M440.8 429h0M446.3 450h0M389.7 391h0M427.8 451h0M440.9 414h0M386.8 446h0M387.8 410h0M384.1 420h0M427.9 436h0M386.7 456h0M393.6 439h0M424.5 445h0M442.9 438h0M395.4 395h0M460.7 421h0M410.9 423h0M405.9 450h0M384.9 456h0M436.9 421h0M472.9 450h0M432.4 448h0M470.4 389h0M449.2 448h0M448.0 400h0M416.6 430h0M452.0 405h0M457.3 448h0M394.8 448h0M389.2 440h0M412.9 457h0M444.1 422h0M425.6 410h0M407.8 463h0M400.5 403h0M460.1 442h0M463.2 400h0M422.9 422h0M437.3 425h0M450.1 434h0M443.2 458h0M430.2 425h0M392.9 466h0M431.9 416h0M469.5 421h0M395.0 421h0M426.9 422h0M420.0 451h0M430.9 426h0M467.5 430h0M412.8 390h0M389.5 438h0M436.8 451h0M386.2 408h0M429.6 463h0M462.0 436h0M461.8 465h0M407.3 420h0M448.4 399h0M441.3 398h0M398.1 453h0M455.5 386h0M418.1 431h0M396.4 432h0M388.5 445h0M395.5 433h0M458.5 390h0M438.5 440h0M464.5 419h0M450.0 428h0M457.2 398h0M396.6 443h0M425.6 453h0M405.5 464h0M446.5 450h0M426.9 424h0M469.8 411h0M384.0 439h0M414.4 457h0M463.3 442h0M411.3 426h0M424.6 444h0M394.8 428h0M459.0 467h0M444.4 423h0M386.5 421h0M400.2 420h0M406.2 430h0M393.1 455h0M444.4 423h0M384.4 398h0M430.4 466h0M400.4 426h0M435.5 422h0M391.7 426h0M446.0 418h0M437.1 394h0M416.6 414h0M406.6 430h0M442.6 408h0M422.1 433h0M453.0 433h0M400.8 445h0M426.9 457h0M409.5 438h0M414.5 442h0M424.9 414h0M426.9 432h0M421.6 406h0M389.0 425h0M435.9 435h0M432.2 427h0M459.7 404h0M431.9 431h0M463.9 457h0M464.1 413h0M394.8 438h0M465.7 435h0M427.1 458h0M453.4 423h0M410.2 416h0M422.7 420h0M395.1 440h0M426.2 452h0M426.9 404h0M437.7 418h0M425.2 416h0M441.0 437h0M414.0 436h0M436.2 439h0M440.6 428h0M446.4 422h0M444.7 434h0M398.2 420h0M460.2 412h0M411.5 467h0M394.5 404h0M385.9 430h0M469.4 438h0M425.1 402h0M451.7 451h0M399.2 433h0M454.7 448h0M384.4 464h0M454.8 432h0M441.4 413h0M423.1 398h0M468.7 428h0M396.6 453h0M441.1 427h0M422.6 437h0M392.8 405h0M414.3 432h0M399.1 432h0M389.8 421h0M386.5 446h0M419.4 438h0M388.2 438h0M396.8 429h0M411.2 417h0M417.4 437h0M412.4 394h0M427.1 434h0M387.9 454h0M401.5 438h0M394.7 438h0M438.6 390h0M384.2 429h0M467.8 423h0M468.8 459h0M453.2 456h0M409.4 465h0M471.6 458h0M425.0 455h0M396.2 446h0M461.5 443h0M456.5 432h0M396.8 394h0M402.6 416h0M430.3 429h0M428.7 437h0M418.3 427h0M442.2 431h0M388.2 435h0M437.7 402h0M457.9 420h0M425.6 410h0M437.9 447h0M454.9 394h0M391.2 412h0M385.4 428h0M453.5 411h0M397.1 422h0M396.0 394h0M465.0 465h0M400.5 437h0M426.6 455h0M384.5 426h0M440.7 424h0M426.7 423h0M393.6 448h0M386.1 439h0M412.5 402h0M468.1 461h0M457.3 426h0M392.1 443h0M383.8 464h0M431.9 395h0M454.4 434h0M458.5 412h0M425.1 439h0M427.8 447h0M455.7 423h0M395.5 455h0M460.8 454h0M453.7 406h0M460.6 428h0M387.4 414h0M389.9 435h0M426.2 414h0M447.3 390h0M448.5 456h0M392.8 464h0M459.8 395h0M401.3 447h0M464.0 412h0M400.2 447h0M389.1 436h0M423.2 400h0M462.2 413h0M399.0 427h0M417.6 428h0M457.5 442h0M440.8 409h0M462.1 464h0M446.4 408h0M414.3 464h0M435.1 436h0M386.0 448h0M439.7 428h0M407.7 399h0M423.5 432h0M426.7 407h0M424.8 409h0M419.5 442h0M419.4 462h0M400.8 390h0M412.9 430h0M401.8 442h0M425.6 451h0M427.0 408h0M414.2 385h0M434.0 396h0M409.6 452h0M437.6 440h0M436.8 441h0M428.5 460h0M402.3 464h0M438.0 436h0M389.6 413h0M421.3 427h0M414.3 390h0M452.9 390h0M402.1 416h0M401.6 457h0M387.9 428h0M437.7 388h0M434.9 439h0M392.0 402h0M435.8 436h0M455.3 438h0M427.3 462h0M440.8 435h0M468.5 448h0M464.2 430h0M469.3 460h0M414.6 414h0M451.7 432h0M393.0 447h0M429.0 439h0M415.0 463h0M396.0 434h0M435.0 390h0M460.0 411h0M439.6 457h0M400.9 459h0M463.6 391h0M456.4 427h0M432.3 403h0M419.0 400h0M408.0 429h0M438.5 453h0M389.9 399h0M412.0 423h0M400.4 449h0M421.6 419h0M386.4 437h0M467.7 461h0M425.5 438h0M411.2 409h0M458.4 417h0M448.5 412h0M456.8 429h0M452.8 399h0M436.9 446h0M419.2 441h0M474.7 424h0M414.5 434h0M451.2 448h0M421.1 402h0M412.6 432h0M398.8 436h0M426.9 450h0M432.3 448h0M427.0 442h0M459.2 428h0M470.7 396h0M419.7 407h0M402.6 405h0M473.1 400h0M400.2 446h0M398.9 390h0M458.8 456h0M424.3 433h0M425.2 447h0M393.0 388h0M445.8 439h0M442.3 432h0M432.7 438h0M384.4 454h0M389.6 406h0M383.8 414h0M427.2 391h0M449.2 394h0M384.2 426h0M414.3 421h0M419.6 442h0M471.2 454h0M437.5 442h0M426.5 457h0M421.1 456h0M449.1 456h0M437.4 433h0M405.9 409h0M458.3 416h0M393.5 418h0M465.3 426h0M464.3 412h0M448.2 402h0M449.3 458h0M400.0 413h0M468.8 441h0M416.8 419h0M389.8 416h0M445.9 410h0M438.8 444h0M439.8 467h0M463.5 439h0M431.6 434h0M384.2 454h0M426.9 432h0M458.2 411h0M425.1 435h0M445.9 447h0M385.4 400h0M473.3 447h0M430.1 436h0M435.5 423h0M412.7 453h0M390.8 454h0M446.0 400h0M390.9 454h0M432.1 416h0M431.5 432h0M402.2 404h0M428.3 410h0M426.4 436h0M446.4 426h0M439.3 442h0M406.7 444h0M442.5 452h0M399.0 425h0M442.7 410h0M387.3 439h0M419.1 408h0M458.2 393h0M402.2 404h0M442.4 448h0M386.4 440h0M444.1 436h0M410.7 423h0M397.8 421h0M387.2 435h0M384.2 433h0M389.4 408h0M456.3 467h0M445.8 416h0M457.1 432h0M443.1 451h0M446.7 411h0M437.0 432h0M421.1 451h0M412.7 430h0M458.4 408h0M456.6 458h0M428.3 388h0M416.1 386h0M421.2 424h0M396.8 464h0M442.8 461h0M438.4 427h0M449.1 454h0M412.1 449h0M453.8 419h0M435.6 410h0M466.1 409h0M402.5 436h0M428.3 453h0M459.7 431h0M431.5 429h0M454.8 386h0M390.0 409h0M389.6 461h0M405.2 423h0M404.4 443h0M437.0 386h0M409.1 396h0M386.0 463h0M388.1 433h0M424.4 407h0M426.5 440h0M424.4 438h0M442.6 450h0M384.4 442h0M387.9 417h0M414.4 421h0M409.1 454h0M422.6 422h0M394.6 424h0M401.7 425h0M391.1 393h0M425.5 441h0M385.7 459h0M396.7 413h0M402.2 430h0M436.9 433h0M459.7 420h0M429.1 450h0M408.0 425h0M384.1 403h0M458.1 417h0M433.9 424h0M385.8 389h0M415.5 426h0M419.4 387h0M458.4 416h0M396.2 461h0M423.0 432h0M396.9 457h0M449.5 418h0M411.9 438h0M468.9 446h0M446.9 433h0M427.4 446h0M445.7 449h0M423.5 410h0M469.5 396h0M450.0 452h0M441.6 464h0M402.0 413h0M420.9 457h0M455.6 444h0M389.4 450h0M428.9 442h0M402.3 421h0M435.0 433h0M425.3 438h0M420.4 436h0M383.8 441h0M473.9 451h0M406.2 424h0M431.5 404h0M432.1 420h0M417.3 454h0M418.3 427h0M396.4 429h0M449.9 433h0M426.9 450h0M463.3 455h0M443.9 404h0M407.1 462h0M460.0 408h0M406.0 428h0M435.9 425h0M426.5 423h0M384.0 393h0M446.9 419h0M388.3 465h0M394.3 402h0M421.1 410h0M407.8 401h0M431.4 451h0M397.3 437h0M428.1 427h0M446.3 440h0M402.0 432h0M409.5 419h0M422.0 429h0M427.8 403h0M402.6 456h0M396.6 417h0M428.9 426h0M433.9 418h0M412.2 450h0M402.0 424h0M442.4 460h0M455.1 456h0M461.4 393h0M459.9 420h0M390.9 405h0M455.0 441h0M427.4 429h0M398.3 447h0M426.7 404h0M422.1 399h0M433.3 436h0M426.8 413h0M415.8 447h0M473.1 459h0M410.8 391h0M396.6 437h0M422.0 438h0M387.9 415h0M384.0 406h0M467.0 433h0M408.6 416h0M419.9 442h0M412.7 434h0M434.3 392h0M464.4 419h0M445.9 404h0M426.8 427h0M402.1 460h0M434.5 439h0M449.3 437h0M402.7 451h0M416.8 445h0M438.8 391h0M438.4 461h0M405.6 408h0M449.1 436h0M385.5 404h0M400.0 444h0M451.8 442h0M440.4 444h0M422.1 463h0M390.8 414h0M439.6 466h0M461.5 404h0M384.4 432h0M405.6 442h0M396.9 437h0M446.8 393h0M470.9 408h0M452.8 453h0M436.8 452h0M471.1 457h0M401.4 395h0M442.9 446h0M392.7 443h0M424.4 452h0M424.6 433h0M458.3 434h0M427.9 398h0M446.5 414h0M401.6 424h0M432.4 425h0M426.7 439h0M396.7 401h0M386.7 447h0M459.9 405h0M432.5 450h0M396.4 410h0M411.0 435h0M440.4 454h0M445.8 467h0M433.7 456h0M463.4 395h0M446.4 440h0M384.1 424h0M448.5 438h0M395.2 434h0M463.2 421h0M444.3 409h0M405.3 396h0M412.6 419h0M412.7 407h0M425.3 432h0M462.2 456h0M432.4 426h0M413.9 425h0M442.6 466h0M402.0 428h0M445.8 463h0M390.2 464h0M406.1 419h0M469.3 445h0M463.7 394h0M386.6 445h0M426.7 457h0M440.6 412h0M397.0 424h0M457.1 464h0M384.6 421h0M436.7 408h0M383.7 457h0M389.7 435h0M434.5 408h0M391.4 407h0M386.5 415h0M411.4 403h0M414.1 390h0M413.7 423h0M433.7 454h0M452.2 445h0M407.9 446h0M427.2 467h0M453.2 446h0M456.7 447h0M428.8 447h0M430.1 397h0M460.2 420h0M447.7 445h0M386.6 417h0M429.7 447h0M437.9 438h0M426.9 436h0M412.6 411h0M389.3 457h0M389.9 466h0M405.1 417h0M463.9 445h0M410.2 409h0M471.6 444h0M386.4 413h0M401.6 416h0M385.5 419h0M426.6 441h0M437.1 399h0M443.1 408h0M447.5 433h0M442.3 443h0M468.0 423h0M466.9 424h0M400.3 401h0M465.4 408h0M408.9 464h0M467.3 440h0M454.8 426h0M421.3 424h0M414.2 424h0M393.7 447h0M425.3 435h0M458.9 413h0M442.3 456h0M458.1 445h0M384.9 459h0M436.0 431h0M386.3 422h0M391.1 438h0M437.9 449h0M385.6 402h0M402.0 419h0M397.3 457h0M394.9 384h0M457.3 428h0M413.9 416h0M467.7 445h0M454.6 447h0M460.1 452h0M416.7 418h0M451.4 415h0M428.7 400h0M403.3 420h0M384.2 468h0M468.0 454h0M440.8 439h0M405.0 430h0M390.7 420h0M400.3 417h0M451.0 441h0M437.4 403h0M414.7 388h0M453.7 456h0M411.0 408h0M413.7 405h0M412.6 457h0M400.1 432h0M428.5 429h0M414.8 461h0M447.4 422h0M460.4 438h0M449.9 435h0M427.0 413h0M431.8 449h0M460.3 462h0M414.5 418h0M385.0 468h0M441.4 412h0M384.2 446h0M384.8 450h0M419.6 421h0M431.6 451h0M391.1 444h0M390.3 438h0M402.5 409h0M413.9 386h0M459.2 439h0M421.4 430h0M420.9 393h0M465.2 447h0M412.2 419h0M448.0 437h0M398.8 401h0M442.9 425h0M387.3 462h0M436.1 452h0M410.7 459h0M442.6 432h0M420.0 395h0M450.4 436h0M428.7 410h0M447.4 440h0M458.6 432h0M389.9 461h0M432.7 434h0M474.5 447h0M469.5 435h0M400.3 458h0M425.0 439h0M419.8 430h0M392.1 421h0M408.7 407h0M389.9 418h0M414.5 446h0M458.1 415h0M420.2 391h0M456.5 447h0M411.5 402h0M424.8 414h0M426.9 438h0M446.2 393h0M419.1 403h0M471.4 441h0M439.8 454h0M457.0 445h0M431.7 421h0M387.7 423h0M431.9 397h0M420.1 458h0M458.3 412h0M434.9 443h0M411.1 400h0M472.5 414h0M393.2 416h0M393.3 445h0M426.4 386h0M406.2 416h0M426.5 464h0M386.1 446h0M469.1 423h0M407.1 433h0M441.4 405h0M384.2 426h0M445.0 454h0M462.2 403h0M467.9 420h0M405.8 461h0M450.3 447h0M428.9 419h0M416.2 444h0M406.8 450h0M407.7 464h0M401.9 419h0M414.9 410h0M419.4 461h0M396.7 414h0M385.5 423h0M445.9 455h0M453.7 397h0M421.0 452h0M413.8 391h0M395.3 435h0M394.5 414h0M433.8 447h0M438.5 454h0M400.7 461h0M414.9 445h0M392.5 396h0M441.4 421h0M426.8 391h0M413.8 406h0M435.1 409h0M387.8 444h0M402.4 439h0M384.5 424h0M427.9 406h0M439.1 420h0M409.4 392h0M383.7 460h0M401.9 450h0M454.6 453h0M394.3 415h0M384.7 446h0M427.3 419h0M384.3 429h0M426.6 442h0M460.7 406h0M434.5 450h0M420.2 455h0M463.8 440h0M415.0 429h0M403.9 428h0M440.6 386h0M396.7 429h0M463.6 437h0M385.6 390h0M407.0 462h0M387.4 458h0M397.0 445h0M395.1 464h0M400.6 446h0M438.9 423h0M421.2 435h0M426.6 453h0M395.3 430h0M385.6 440h0M424.8 454h0M398.1 438h0M447.8 439h0M423.9 432h0M453.4 457h0M447.3 442h0M444.4 435h0M440.8 463h0M404.8 441h0M395.1 436h0M414.4 456h0M439.4 447h0M403.2 443h0M438.8 458h0M414.0 403h0M417.3 464h0M435.1 430h0M412.9 402h0M463.4 460h0M424.6 442h0M466.2 402h0M437.7 409h0M419.0 459h0M431.6 434h0M445.6 438h0M462.2 402h0M404.3 431h0M456.2 429h0M421.8 414h0M438.0 419h0M426.3 433h0M405.8 399h0M389.1 452h0M425.4 441h0M385.8 454h0M428.1 462h0M396.8 466h0M414.2 406h0M432.7 460h0M429.0 410h0M426.5 429h0M440.5 421h0M401.9 422h0M424.4 422h0M432.3 418h0M400.3 445h0M467.5 435h0M463.5 409h0M457.0 425h0M453.2 442h0M426.4 417h0M423.4 390h0M386.4 444h0M460.7 423h0M439.0 394h0M405.8 433h0M424.4 427h0M397.4 429h0M456.4 448h0M386.2 430h0M398.6 409h0M427.1 394h0M464.1 420h0M433.3 429h0M391.9 403h0M425.1 414h0M387.9 415h0M389.9 418h0M421.7 419h0M409.7 426h0M427.2 430h0M390.9 399h0M434.5 421h0M426.1 460h0M396.6 405h0M384.8 443h0M426.0 451h0M427.9 450h0M389.0 439h0M424.4 401h0M426.6 423h0M396.3 430h0M411.4 460h0M425.1 459h0M410.2 396h0M454.9 414h0M422.0 390h0M434.0 455h0M385.5 393h0M463.9 464h0M403.3 439h0M466.8 449h0M429.1 410h0M393.8 468h0M471.3 395h0M424.5 455h0M402.5 460h0M462.6 425h0M446.1 399h0M407.3 427h0M474.3 453h0M464.3 401h0M427.2 447h0M405.5 442h0M432.7 413h0M424.7 425h0M384.9 416h0M431.9 438h0M467.7 410h0M384.8 425h0M428.3 436h0M385.8 423h0M386.6 424h0M398.4 406h0M419.3 411h0M405.3 398h0M384.2 441h0M404.9 424h0" stroke="#e6a52e" stroke-width="0.85" stroke-linecap="round" stroke-opacity="0.4" fill="none"/>
<path d="M421.3 454h0M458.4 402h0M426.6 434h0M402.0 445h0M390.8 454h0M450.2 438h0M396.8 421h0M450.3 442h0M401.9 409h0M435.7 417h0M426.2 460h0M452.6 418h0M458.4 442h0M467.7 427h0M438.7 435h0M424.5 394h0M460.0 414h0M432.5 429h0M390.0 440h0M438.5 422h0M449.8 460h0M444.6 421h0M458.9 463h0M396.7 387h0M440.3 440h0M427.3 468h0M429.2 400h0M443.9 412h0M424.4 444h0M468.9 418h0M460.2 438h0M463.8 426h0M456.4 433h0M396.6 443h0M426.2 417h0M421.3 455h0M394.6 450h0M454.6 462h0M390.7 443h0M453.6 421h0M412.3 439h0M421.8 447h0M421.7 395h0M395.0 437h0M413.3 432h0M386.6 443h0M419.9 412h0M437.8 440h0M450.8 468h0M449.6 432h0M439.4 446h0M435.6 406h0M389.2 427h0M451.1 417h0M458.3 461h0M395.6 429h0M420.3 402h0M412.2 434h0M426.4 445h0M404.9 439h0M389.7 463h0M461.5 448h0M458.6 423h0M384.1 420h0M398.4 408h0M388.5 426h0M391.6 437h0M414.7 454h0M462.6 408h0M427.3 457h0M461.6 409h0M456.2 438h0M456.2 422h0M440.4 421h0M427.3 451h0M431.0 407h0M446.4 394h0M464.0 445h0M413.8 432h0M437.7 425h0M413.9 406h0M405.5 443h0M390.2 463h0M384.4 431h0M430.7 421h0M420.2 420h0M407.4 441h0M390.0 403h0M385.9 424h0M456.9 455h0M428.3 425h0M432.6 437h0M444.7 430h0M410.9 391h0M400.2 464h0M434.3 444h0M450.2 458h0M411.9 416h0M400.5 418h0M426.5 413h0M392.1 444h0M414.1 453h0M406.7 451h0M467.5 447h0M454.4 406h0M386.0 410h0M436.1 415h0M426.5 464h0M459.2 412h0M409.6 401h0M383.8 447h0M440.6 416h0M402.7 427h0M429.9 426h0M400.3 435h0M413.1 439h0M422.0 415h0M416.1 446h0M420.1 426h0M439.6 420h0M410.9 434h0M417.3 450h0M424.6 451h0M427.2 429h0M437.1 426h0M424.3 459h0M458.7 417h0M389.2 407h0M406.0 416h0M422.9 399h0M445.6 453h0M416.6 389h0M412.2 444h0M422.1 421h0M424.6 414h0M428.2 444h0M411.9 431h0M390.1 431h0M432.5 436h0M429.7 454h0M433.7 397h0M423.3 442h0M434.3 416h0M445.6 459h0M458.5 410h0M389.7 455h0M428.4 462h0M427.4 454h0M428.2 423h0M394.3 426h0M396.0 411h0M462.2 407h0M388.1 439h0M439.3 434h0M420.2 425h0M388.0 446h0M459.8 446h0M450.3 463h0M418.1 448h0M416.6 462h0M389.1 416h0M460.1 447h0M383.9 392h0M463.7 451h0M405.0 447h0M426.4 409h0M426.9 416h0M404.0 450h0M419.8 440h0M408.5 413h0M401.4 407h0M408.7 407h0M392.7 409h0M411.5 400h0M458.5 400h0M433.9 443h0M441.4 418h0M446.3 431h0M396.4 420h0M448.6 456h0M402.3 458h0M400.6 469h0M394.8 432h0M463.5 412h0M456.1 450h0M427.2 448h0M399.5 404h0M397.4 434h0M463.8 429h0M469.2 405h0M465.2 432h0M438.6 437h0M431.4 456h0M434.0 436h0M395.0 436h0M450.3 467h0M416.3 429h0M424.9 409h0M442.7 436h0M455.0 445h0M442.9 422h0M470.7 429h0M384.3 411h0M437.6 454h0M453.3 435h0M424.9 401h0M396.1 420h0M466.0 448h0M434.2 406h0M386.1 441h0M419.2 442h0M424.4 460h0M405.3 421h0M416.4 450h0M389.3 447h0M384.2 435h0M407.5 424h0M436.7 429h0M392.6 414h0M458.0 435h0M464.2 404h0M408.7 385h0M446.7 419h0M435.7 457h0M443.0 462h0M400.3 467h0M437.9 414h0M410.8 429h0M437.7 432h0M412.4 422h0M419.9 435h0M387.9 418h0M414.2 445h0M419.7 458h0M414.2 455h0M451.0 462h0M455.2 448h0M463.9 409h0M396.1 417h0M393.6 442h0M455.5 438h0M462.1 433h0M421.6 437h0M458.5 440h0M468.5 442h0M467.9 456h0M455.3 418h0M425.1 385h0M402.0 387h0M451.0 417h0M412.9 456h0M384.7 448h0M437.0 437h0M401.3 437h0M383.9 457h0M458.6 440h0M435.3 437h0M418.3 388h0M406.0 432h0M446.4 423h0M469.1 435h0M391.4 408h0M409.5 408h0M414.0 422h0M410.5 435h0M433.8 455h0M455.0 447h0M443.3 464h0M459.2 436h0M384.4 430h0M425.3 466h0M422.0 434h0M449.1 448h0M386.0 466h0M385.0 442h0M403.6 432h0M461.0 423h0M412.2 442h0M383.7 466h0M474.1 446h0M419.3 443h0M430.8 461h0M455.7 428h0M456.9 434h0M449.2 440h0M425.4 461h0M426.5 446h0M409.8 437h0M432.5 397h0M458.1 456h0M405.2 436h0M430.7 387h0M425.5 423h0M434.2 413h0M437.6 407h0M396.8 423h0M428.5 425h0M396.7 434h0M384.4 439h0M383.9 405h0M450.1 397h0M421.7 435h0M436.3 449h0M383.8 459h0M396.2 429h0M449.7 401h0M433.3 424h0M456.3 463h0M400.0 425h0M412.6 425h0M449.5 464h0M386.2 391h0M402.7 454h0M394.4 430h0M431.0 429h0M454.9 419h0M464.3 411h0M454.8 385h0M462.7 407h0M386.0 450h0M462.0 455h0M435.7 433h0M401.4 410h0M437.5 446h0M402.3 446h0M396.4 409h0M385.5 448h0M384.5 443h0M389.3 410h0M414.0 416h0M455.6 460h0M427.1 441h0M444.6 443h0M384.2 459h0M456.6 451h0M469.3 390h0M426.4 432h0M398.3 415h0M431.7 468h0M444.9 454h0M385.6 426h0M423.3 460h0M467.4 455h0M427.2 411h0M464.0 444h0M405.7 435h0M402.0 444h0M457.4 421h0M425.0 414h0M439.6 451h0M395.5 411h0M385.7 463h0M471.5 427h0M448.6 438h0M419.2 457h0M465.0 403h0M419.8 440h0M401.8 419h0M416.0 466h0M449.0 427h0M443.8 426h0M456.5 427h0M426.9 448h0M386.1 429h0M386.3 447h0M464.0 455h0M458.3 444h0M423.4 436h0M457.3 451h0M402.0 401h0M396.1 435h0M441.5 460h0M395.4 438h0M458.2 436h0M410.8 418h0M473.1 432h0M419.1 447h0M453.6 447h0M420.8 416h0M400.4 388h0M428.9 458h0M420.1 410h0M407.3 440h0M402.0 426h0M427.8 458h0M422.6 445h0M453.6 452h0M447.9 444h0M433.6 409h0M394.4 449h0M436.8 438h0M425.1 457h0M443.4 409h0M386.0 409h0M414.4 453h0M427.9 394h0M400.3 423h0M415.8 414h0M405.8 438h0M433.1 402h0M411.2 428h0M426.9 452h0M405.5 438h0M468.0 428h0M397.2 435h0M395.4 445h0M405.2 453h0M422.5 411h0M396.3 448h0M407.7 404h0M437.8 456h0M422.0 444h0M470.9 456h0M385.5 415h0M385.5 444h0M395.0 446h0M433.7 463h0M385.6 404h0M444.5 455h0M387.3 449h0M428.8 455h0M390.3 435h0M384.1 430h0M462.2 430h0M410.9 448h0M401.3 431h0M386.7 436h0M460.2 403h0M395.3 450h0M426.0 442h0M405.3 423h0M386.2 438h0M416.1 421h0M461.9 458h0M434.1 437h0M433.9 405h0M456.2 448h0M389.9 441h0M448.6 438h0M461.0 427h0M406.7 430h0M453.8 450h0M469.6 452h0M447.3 457h0M457.2 444h0M384.7 399h0M452.9 430h0M394.9 390h0M428.0 416h0M427.9 431h0M384.2 400h0M433.3 464h0M383.6 422h0M388.4 434h0M407.8 440h0M397.0 451h0M402.4 431h0M458.7 397h0M449.9 456h0M399.0 393h0M421.1 422h0M453.8 441h0M464.5 452h0M442.5 388h0M464.2 400h0M409.5 466h0M402.0 387h0M436.1 420h0M442.3 435h0M425.5 460h0M467.3 398h0M419.4 446h0M388.0 423h0M442.2 430h0M427.0 465h0M421.4 447h0M451.1 412h0M411.1 426h0M386.8 453h0M443.1 430h0M456.3 438h0M442.2 441h0M442.9 425h0M426.7 460h0M433.9 429h0M437.9 412h0M399.7 426h0M457.3 435h0M461.9 464h0M416.2 417h0M418.6 431h0M458.1 452h0M403.5 413h0M472.8 460h0M462.2 461h0M439.1 444h0M390.3 434h0M394.6 458h0M403.1 463h0M437.8 426h0M463.7 417h0M449.8 414h0M425.5 466h0M463.9 426h0M456.3 390h0M439.3 436h0M394.7 418h0M426.1 459h0M414.2 446h0M414.0 432h0M399.7 454h0M415.0 415h0M439.5 463h0M404.3 465h0M385.0 461h0M426.1 426h0M384.2 424h0M426.7 427h0M387.3 395h0M444.5 432h0M394.3 432h0M397.4 447h0M424.6 426h0M411.4 401h0M413.9 436h0M421.5 398h0M433.9 449h0M391.7 458h0M448.4 462h0M428.3 457h0M431.7 415h0M446.5 439h0M415.7 448h0M395.0 434h0M458.2 442h0M426.1 388h0M451.1 453h0M458.6 422h0M438.5 393h0M460.1 420h0M414.5 439h0M389.7 447h0M445.9 417h0M400.1 446h0M467.6 424h0M441.0 427h0M433.4 395h0M437.8 448h0M451.5 393h0M424.8 392h0M396.5 431h0M391.8 451h0M423.4 431h0M409.1 452h0M416.0 448h0M423.3 416h0M400.4 431h0M405.4 439h0M462.6 429h0M473.1 434h0M450.2 420h0M422.7 449h0M437.9 409h0M402.4 464h0M395.2 425h0M445.9 458h0M439.1 441h0M412.8 425h0M453.0 402h0M435.3 418h0M460.1 426h0M395.0 414h0M439.5 432h0M384.0 446h0M419.5 435h0M429.2 458h0M435.6 442h0M472.9 425h0M407.7 400h0M390.0 458h0M427.8 428h0M424.9 418h0M426.4 389h0M393.5 462h0M437.9 436h0M421.4 467h0M456.3 433h0M396.8 406h0M470.6 440h0M383.7 424h0M421.4 415h0M450.4 427h0M414.5 421h0M417.2 444h0M457.2 443h0M401.7 404h0M417.2 415h0M432.6 438h0M423.8 449h0M467.7 401h0M383.9 426h0M389.0 437h0M435.1 425h0M435.7 392h0M399.0 448h0M427.4 446h0M455.5 429h0M461.0 468h0M384.1 401h0M409.5 433h0M463.3 399h0M384.9 430h0M428.7 430h0M404.9 436h0M458.2 417h0M458.2 398h0M442.4 451h0M428.5 392h0M429.6 422h0M455.5 443h0M401.3 425h0M429.2 465h0M411.2 403h0M443.1 439h0M434.3 423h0M468.7 448h0M439.2 432h0M463.2 425h0M451.0 407h0M398.4 421h0M439.5 419h0M405.0 433h0M415.0 422h0M434.0 413h0M384.0 398h0M419.1 443h0M399.2 422h0M460.0 428h0M404.1 435h0M432.2 404h0M385.9 433h0M408.5 431h0M427.4 453h0M395.5 451h0M421.9 432h0M400.1 400h0M455.1 460h0M400.6 404h0M394.8 451h0M394.7 446h0M384.3 385h0M460.5 401h0M463.9 435h0M402.7 408h0M402.2 417h0M403.1 443h0M421.5 454h0M467.7 436h0M454.6 435h0M455.4 441h0M449.5 430h0M406.2 466h0M389.3 455h0M452.7 440h0M386.7 417h0M386.2 416h0M425.4 452h0M424.3 459h0M415.8 403h0M384.5 442h0M409.5 439h0M405.8 426h0M440.9 461h0M390.1 439h0M418.0 414h0M399.8 466h0M444.3 456h0M461.6 441h0M399.2 446h0M408.9 455h0M401.9 465h0M401.8 442h0M437.1 448h0M409.0 412h0M463.5 462h0M455.6 423h0M436.0 405h0M418.4 439h0M396.1 418h0M456.3 454h0M384.6 439h0M405.8 465h0M396.5 428h0M436.0 400h0M433.6 462h0M438.5 409h0M451.8 428h0M419.9 451h0M442.4 451h0M425.6 407h0M449.4 394h0M457.0 410h0M456.8 430h0M403.9 409h0M432.6 444h0M391.3 462h0M461.0 435h0M442.6 438h0M453.2 420h0M408.7 416h0M451.2 457h0M433.5 440h0M455.1 430h0M403.3 438h0M414.3 448h0M448.5 434h0M403.7 454h0M430.8 423h0M425.5 412h0M383.6 448h0M460.0 429h0M460.4 385h0M439.2 426h0M463.9 390h0M457.0 452h0M412.7 446h0M396.9 416h0M400.1 412h0M383.9 434h0M412.8 396h0M419.7 408h0M404.2 467h0M445.9 452h0M451.0 454h0M395.2 415h0M456.5 391h0M430.0 429h0M458.4 393h0M462.2 442h0M439.8 450h0M384.7 440h0M464.5 457h0M385.8 417h0M407.2 455h0M427.0 423h0M424.8 409h0M420.1 431h0M402.2 434h0M426.5 396h0M427.8 421h0M415.0 421h0M434.5 445h0M433.8 427h0M397.0 446h0M431.5 462h0M393.6 412h0M461.4 458h0M443.3 416h0M395.4 433h0M404.8 438h0M437.7 441h0M408.8 426h0M419.9 430h0M472.0 420h0M437.0 454h0M384.6 436h0M420.8 427h0M384.9 435h0M384.9 408h0M400.1 429h0M385.8 414h0M386.1 434h0M433.7 459h0M438.6 423h0M447.6 452h0M447.5 454h0M384.9 420h0M426.6 394h0M397.4 437h0M423.5 452h0M424.6 414h0M407.6 447h0M401.9 423h0M431.5 405h0M428.3 458h0M400.3 440h0M457.9 419h0M437.9 428h0M384.3 407h0M456.7 440h0M384.5 457h0M428.9 396h0M459.2 444h0M390.1 426h0M445.1 390h0M427.4 412h0M458.7 466h0M417.4 408h0M458.8 444h0M458.6 432h0M459.7 417h0M444.8 420h0M410.4 421h0M390.1 468h0M384.3 425h0M402.0 436h0M466.0 409h0M425.3 415h0M433.6 423h0M456.3 448h0M467.2 465h0M459.0 424h0M413.0 427h0M469.1 391h0M456.9 406h0M384.1 445h0M396.3 432h0M472.1 422h0M450.4 451h0M460.0 459h0M446.0 416h0M444.1 453h0M429.9 437h0M443.4 443h0M415.0 435h0M425.5 444h0M433.4 412h0M419.7 409h0M424.5 422h0M383.6 401h0M425.5 399h0M427.2 448h0M404.8 447h0M428.3 448h0M439.3 442h0M405.3 394h0M425.0 443h0M421.4 449h0M459.8 449h0M402.2 424h0M458.0 411h0M410.7 421h0M431.5 450h0M413.0 451h0M445.8 398h0M437.8 451h0M399.0 460h0M426.9 389h0M423.0 454h0M402.3 411h0M390.8 403h0M410.8 409h0M416.6 436h0M436.9 437h0M427.0 442h0M443.8 439h0M451.9 397h0M425.6 432h0M433.4 452h0M387.9 448h0M430.5 424h0M438.6 398h0M421.1 440h0M469.6 440h0M454.7 421h0M400.9 426h0M459.1 436h0M451.9 400h0M437.7 448h0M456.2 387h0M471.1 448h0M389.7 416h0M467.0 453h0M437.1 426h0M399.6 466h0M457.3 411h0M401.5 463h0M428.4 422h0M397.0 455h0M423.8 466h0M466.7 445h0M390.9 417h0M392.1 415h0M414.7 409h0M453.5 432h0M414.5 464h0M421.8 415h0M445.7 458h0M445.6 436h0M460.1 443h0M471.3 435h0M425.3 426h0M439.6 462h0M416.8 437h0M395.1 431h0M453.5 447h0M389.3 424h0M469.1 389h0M390.3 429h0M456.8 443h0M409.2 422h0M397.3 444h0M448.5 449h0M461.8 429h0M464.0 411h0M386.3 420h0M419.0 425h0M437.8 429h0M384.9 449h0M389.2 425h0M431.7 425h0M438.6 397h0M464.2 423h0M428.0 432h0M420.1 406h0M460.8 444h0M404.9 465h0M414.4 447h0M439.3 437h0M463.5 416h0M429.2 409h0M408.5 429h0M387.3 468h0M386.2 427h0M436.9 459h0M458.0 458h0M443.8 443h0M459.9 445h0M414.3 448h0M429.7 399h0M394.3 455h0M428.8 422h0M424.9 420h0M425.0 412h0M464.0 414h0M408.5 440h0M383.8 455h0M463.4 408h0M446.4 409h0M400.4 396h0M467.6 402h0M447.4 407h0M417.9 449h0M402.2 453h0M409.1 404h0M418.1 437h0M423.3 423h0M459.7 448h0M428.9 409h0M419.2 428h0M395.3 458h0M393.0 449h0M427.1 456h0M405.1 395h0M386.1 413h0M411.3 456h0M471.0 418h0M439.3 435h0M394.5 450h0M443.2 453h0M460.1 457h0M426.2 440h0M386.0 450h0M427.4 415h0M471.3 406h0M400.3 421h0M414.5 439h0M459.0 454h0M467.3 405h0M392.6 446h0M470.9 461h0M388.4 445h0M397.8 431h0M415.5 419h0M417.7 450h0M457.3 447h0M457.0 442h0M415.5 448h0M439.4 457h0M434.3 453h0M385.6 433h0M384.2 430h0M440.4 407h0M446.1 460h0M466.3 428h0M440.6 444h0M464.4 416h0M426.1 430h0M442.0 406h0M398.6 427h0M425.5 447h0M395.1 426h0M443.3 439h0M433.5 437h0M463.9 430h0M463.2 439h0M406.0 426h0M400.7 412h0M467.9 399h0M445.8 440h0M468.9 454h0M431.6 441h0M467.9 423h0M401.3 442h0M383.7 460h0M444.0 449h0M410.3 462h0M418.6 434h0M405.7 437h0M407.3 405h0M417.3 427h0M386.8 437h0M420.8 451h0M449.1 424h0M393.4 465h0M426.7 410h0M467.2 434h0M388.2 416h0M419.1 405h0M424.6 460h0M427.1 450h0M447.4 422h0M399.9 433h0M451.9 448h0M386.0 403h0M390.3 412h0M395.1 433h0M435.5 438h0M434.2 459h0M442.8 429h0M417.5 406h0M466.0 449h0M395.4 428h0" stroke="#a8323a" stroke-width="0.85" stroke-linecap="round" stroke-opacity="0.4" fill="none"/>
<path d="M430.2 412h0M384.9 430h0M392.8 398h0M401.7 401h0M425.3 427h0M384.4 452h0M419.9 401h0M453.6 426h0M473.0 432h0M454.4 426h0M453.6 419h0M401.6 407h0M437.2 452h0M435.6 445h0M386.4 458h0M413.8 417h0M420.1 428h0M467.8 423h0M415.6 453h0M455.1 464h0M385.4 422h0M445.5 415h0M408.0 411h0M457.0 431h0M460.4 427h0M389.7 433h0M439.0 446h0M449.8 455h0M450.1 455h0M424.8 446h0M396.9 452h0M442.0 410h0M461.5 412h0M399.9 429h0M393.7 432h0M389.3 407h0M393.0 427h0M424.9 442h0M400.0 452h0M434.9 463h0M413.2 397h0M443.9 407h0M402.3 415h0M423.5 397h0M396.6 424h0M426.4 445h0M465.8 461h0M453.0 393h0M424.8 462h0M415.0 462h0M405.1 437h0M443.0 417h0M400.4 427h0M384.7 434h0M393.9 453h0M456.9 463h0M389.7 420h0M407.7 421h0M433.6 437h0M416.5 417h0M414.0 468h0M424.5 438h0M428.2 446h0M471.2 437h0M412.3 403h0M389.0 455h0M439.0 411h0M421.8 461h0M448.3 432h0M455.0 435h0M393.3 418h0M405.0 441h0M384.9 457h0M398.4 426h0M471.6 465h0M400.8 448h0M418.2 438h0M427.3 402h0M428.1 455h0M431.9 418h0M400.2 434h0M401.7 439h0M454.4 386h0M426.6 424h0M473.2 457h0M398.3 440h0M445.1 422h0M437.9 421h0M425.1 465h0M444.4 453h0M426.6 460h0M394.4 453h0M431.3 444h0M426.7 415h0M434.3 446h0M400.6 457h0M459.0 399h0M426.4 400h0M397.9 433h0M401.5 443h0M473.3 457h0M449.3 446h0M451.7 444h0M432.6 460h0M471.3 415h0M411.5 432h0M435.1 433h0M405.7 427h0M424.7 448h0M459.1 430h0M418.6 449h0M391.0 394h0M403.9 389h0M395.4 460h0M462.6 454h0M440.4 425h0M410.7 458h0M439.7 407h0M421.5 447h0M414.0 435h0M448.4 405h0M394.6 438h0M384.9 428h0M384.7 412h0M391.4 406h0M425.5 463h0M424.7 440h0M384.5 444h0M424.4 455h0M425.0 405h0M424.8 417h0M413.1 421h0M458.3 454h0M459.1 445h0M414.7 397h0M407.5 466h0M428.7 385h0M444.9 459h0M414.0 449h0M395.3 448h0M469.8 446h0M397.2 419h0M446.3 446h0M388.0 393h0M414.3 383h0M394.6 412h0M432.7 420h0M412.6 457h0M457.3 419h0M384.8 438h0M400.3 432h0M445.6 459h0M441.2 401h0M410.7 403h0M419.4 431h0M470.5 395h0M396.2 387h0M406.9 455h0M419.0 410h0M465.8 435h0M461.7 454h0M453.1 453h0M384.5 438h0M391.1 393h0M410.3 433h0M386.4 441h0M455.7 457h0M400.4 440h0M463.8 444h0M451.8 406h0M385.4 418h0M415.7 439h0M448.5 460h0M383.7 434h0M459.7 441h0M419.1 434h0M396.9 438h0M423.3 387h0M464.0 453h0M453.3 409h0M404.8 393h0M443.0 430h0M421.8 422h0M390.1 424h0M435.9 406h0M386.4 425h0M386.7 455h0M427.9 406h0M452.6 404h0M444.0 461h0M391.0 445h0M394.6 441h0M402.2 400h0M431.0 418h0M427.3 458h0M402.7 425h0M468.5 443h0M401.3 413h0M458.7 429h0M464.3 439h0M467.5 417h0M437.2 426h0M463.5 400h0M389.3 409h0M449.5 419h0M410.8 429h0M385.6 424h0M420.0 453h0M394.8 426h0M415.9 430h0M452.6 458h0M407.2 404h0M404.4 441h0M456.2 446h0M405.4 392h0M420.9 462h0M430.0 468h0M418.3 430h0M404.0 459h0M454.0 455h0M394.8 415h0M393.5 417h0M383.8 416h0M427.8 463h0M422.1 404h0M449.1 447h0M397.1 412h0M389.8 431h0M429.1 426h0M459.8 437h0M449.0 448h0M463.9 402h0M460.5 451h0M426.2 430h0M438.7 439h0M420.3 439h0M385.7 425h0M459.9 433h0M467.9 457h0M435.5 425h0M425.4 453h0M425.2 428h0M473.9 456h0M460.2 430h0M388.2 457h0M453.3 448h0M397.8 431h0M441.2 440h0M428.0 437h0M463.2 456h0M386.7 457h0M443.1 398h0M384.9 407h0M396.1 451h0M457.1 418h0M425.6 462h0M412.1 419h0M384.3 437h0M464.3 436h0M384.2 454h0M384.7 464h0M435.4 442h0M391.4 448h0M415.9 453h0M389.5 427h0M463.9 463h0M433.4 416h0M428.2 434h0M426.5 422h0M426.3 450h0M437.9 438h0M426.8 447h0M399.9 436h0M467.7 448h0M459.8 418h0M423.7 432h0M408.5 449h0M446.7 395h0M429.7 405h0M433.8 385h0M385.0 409h0M417.9 467h0M439.6 442h0M450.0 452h0M444.6 393h0M445.9 445h0M388.1 407h0M406.6 412h0M426.5 442h0M401.4 447h0M435.0 409h0M434.9 440h0M390.2 447h0M386.0 421h0M433.8 426h0M462.5 388h0M428.5 431h0M453.3 443h0M394.5 428h0M415.1 461h0M405.3 463h0M384.6 442h0M452.6 436h0M422.1 441h0M395.6 434h0M421.6 457h0M412.3 426h0M389.0 417h0M384.4 461h0M460.9 439h0M435.2 421h0M421.2 446h0M431.4 434h0M391.0 416h0M414.4 384h0M384.2 448h0M386.7 430h0M433.7 415h0M402.3 445h0M384.4 461h0M433.6 423h0M393.6 429h0M404.4 422h0M420.1 449h0M390.3 425h0M459.7 429h0M389.9 430h0M462.6 413h0M384.2 458h0M450.9 407h0M383.6 431h0M408.6 457h0M420.0 457h0M401.6 425h0M434.4 453h0M453.1 422h0M385.0 457h0M387.4 412h0M387.3 401h0M443.0 415h0M422.0 418h0M430.1 431h0M463.6 457h0M437.9 426h0M444.7 449h0M412.6 432h0M445.8 438h0M400.0 445h0M433.7 428h0M462.4 414h0M409.3 398h0M421.2 457h0M448.0 455h0M408.7 454h0M469.4 396h0M424.7 407h0M432.1 409h0M400.3 398h0M422.1 445h0M426.5 416h0M409.2 393h0M433.8 445h0M466.2 431h0M386.1 427h0M403.4 453h0M387.2 441h0M407.3 423h0M432.0 443h0M449.1 457h0M460.6 422h0M392.7 443h0M427.1 437h0M386.7 400h0M461.8 429h0M389.7 442h0M425.5 446h0M386.7 439h0M464.4 458h0M413.9 437h0M461.5 463h0M429.7 438h0M427.4 443h0M384.4 433h0M386.0 466h0M468.1 451h0M413.9 410h0M451.5 452h0M419.2 427h0M425.1 400h0M397.4 428h0M441.4 439h0M446.3 427h0M469.9 431h0M398.8 446h0M387.8 440h0M402.4 387h0M397.2 451h0M464.5 415h0M454.7 447h0M385.9 428h0M424.5 402h0M421.2 457h0M453.5 450h0M445.9 425h0M456.7 464h0M437.5 404h0M443.8 440h0M445.7 403h0M389.3 419h0M427.2 420h0M400.7 424h0M399.8 424h0M436.7 414h0M427.9 457h0M384.2 410h0M419.4 447h0M427.3 430h0M422.1 420h0M400.4 449h0M384.1 421h0M387.9 454h0M426.2 395h0M410.6 423h0M465.2 429h0M386.7 427h0M395.3 462h0M464.0 423h0M465.9 448h0M456.8 395h0M397.1 422h0M384.0 446h0M396.5 453h0M384.6 439h0M397.8 431h0M411.9 421h0M417.8 434h0M439.2 440h0M441.4 427h0M469.5 457h0M406.1 406h0M451.3 445h0M392.5 445h0M442.9 387h0M390.2 412h0M470.4 463h0M426.8 415h0M446.3 446h0M446.6 423h0M401.5 444h0M384.8 425h0M397.1 443h0M450.0 427h0M445.0 393h0M434.2 421h0M472.4 412h0M449.5 461h0M430.2 386h0M443.3 403h0M394.5 432h0M406.2 437h0M407.4 404h0M384.1 420h0M410.2 460h0M464.4 451h0M437.7 418h0M443.1 441h0M421.2 388h0M444.1 450h0M460.6 454h0M445.8 452h0M421.6 427h0M426.1 427h0M427.8 449h0M383.8 411h0M438.8 461h0M383.6 391h0M398.1 458h0M410.3 431h0M389.4 397h0M405.4 455h0M411.3 464h0M447.6 386h0M467.2 452h0M415.7 441h0M453.5 463h0M444.3 420h0M411.3 452h0M423.7 448h0M435.1 437h0M421.7 405h0M386.7 407h0M426.2 421h0M462.7 435h0M426.5 414h0M435.5 467h0M432.2 398h0M383.9 446h0M435.7 463h0M396.2 450h0M439.3 456h0M430.7 438h0M446.4 401h0M440.3 436h0M388.4 436h0M397.1 453h0M439.2 443h0M413.9 427h0M433.4 419h0M402.2 418h0M469.8 424h0M453.2 446h0M446.8 410h0M432.1 444h0M465.4 410h0M440.6 431h0M436.8 442h0M457.0 404h0M464.3 420h0M383.7 430h0M405.6 401h0M401.4 445h0M396.7 394h0M430.4 444h0M433.2 446h0M408.6 386h0M432.6 425h0M426.8 440h0M385.7 422h0M429.0 460h0M448.0 455h0M429.7 455h0M401.4 421h0M464.1 433h0M421.5 410h0M401.8 435h0M426.9 466h0M398.0 445h0M386.0 464h0M383.7 466h0M384.6 464h0M393.2 459h0M413.9 429h0M407.8 455h0M399.8 416h0M470.7 447h0M419.2 456h0M449.3 466h0M390.9 415h0M389.9 427h0M398.0 438h0M462.1 452h0M395.0 453h0M460.5 416h0M453.6 438h0M466.3 448h0M400.2 437h0M389.2 439h0M426.8 434h0M397.3 426h0M385.5 455h0M425.6 445h0M401.9 403h0M396.5 450h0M424.7 451h0M453.0 405h0M384.3 449h0M468.1 424h0M463.6 451h0M428.0 412h0M451.8 453h0M458.6 429h0M405.7 445h0M453.9 438h0M450.1 416h0M455.7 431h0M434.4 443h0M384.0 403h0M401.4 435h0M453.0 426h0M398.0 420h0M433.7 403h0M446.5 438h0M433.9 441h0M461.9 445h0M431.7 436h0M453.4 442h0M384.1 439h0M431.4 450h0M402.3 467h0M383.7 409h0M386.5 416h0M413.3 454h0M420.3 401h0M385.9 418h0M385.8 460h0M392.5 455h0M463.6 456h0M424.4 416h0M445.7 385h0M392.8 414h0M384.4 417h0M452.0 453h0M396.4 412h0M424.4 402h0M389.5 441h0M430.9 407h0M396.9 431h0M391.8 451h0M449.2 421h0M443.1 420h0M407.9 407h0M421.5 444h0M432.5 399h0M412.7 420h0M436.2 450h0M427.3 402h0M407.1 444h0M413.2 449h0M466.2 428h0M427.9 455h0M396.9 428h0M449.9 463h0M389.2 427h0M465.5 451h0M431.5 422h0M426.5 446h0M412.8 436h0M423.1 457h0M404.9 448h0M395.2 454h0M437.9 433h0M424.9 423h0M414.6 441h0M424.5 396h0M428.1 439h0M455.7 433h0M442.6 448h0M386.3 443h0M453.6 424h0M437.6 455h0M464.3 468h0M415.6 436h0M454.7 399h0M397.1 454h0M426.7 432h0M441.0 441h0M401.5 451h0M390.2 465h0M474.5 423h0M426.4 425h0M461.4 439h0M462.7 424h0M398.7 461h0M460.9 451h0M393.7 425h0M428.1 429h0M453.9 433h0M425.4 434h0M455.4 419h0M439.8 400h0M463.3 452h0M440.9 463h0M471.0 445h0M428.4 440h0M398.0 441h0M447.3 451h0M421.9 417h0M398.6 403h0M458.3 429h0M442.1 453h0M427.2 453h0M386.3 435h0M461.4 453h0M419.9 411h0M391.1 404h0M460.7 434h0M450.1 446h0M421.3 424h0M386.4 452h0M435.6 426h0M444.9 411h0M464.1 452h0M434.2 446h0M397.2 464h0M434.4 417h0M414.8 447h0M469.6 430h0M402.3 443h0M456.7 442h0M428.6 415h0M384.6 457h0M445.6 422h0M474.7 453h0M446.6 432h0M400.6 434h0M401.7 433h0M429.0 451h0M386.4 469h0M395.1 439h0M425.4 396h0M391.4 443h0M413.8 436h0M466.0 462h0M398.5 387h0M432.6 403h0M436.1 422h0M435.7 399h0M395.3 384h0M405.7 427h0M467.4 431h0M384.6 433h0M384.3 422h0M404.2 453h0M425.4 439h0M449.6 439h0M386.2 441h0M394.6 423h0M438.8 443h0M424.3 456h0M432.6 395h0M386.1 426h0M396.0 435h0M446.9 438h0M427.9 430h0M458.7 404h0M421.5 452h0M414.5 403h0M453.6 448h0M467.8 390h0M437.2 417h0M383.8 460h0M437.7 454h0M440.8 421h0M393.1 412h0M424.8 464h0M385.5 451h0M460.5 421h0M391.3 444h0M401.8 445h0M407.3 437h0M418.4 446h0M405.0 457h0M458.5 421h0M452.8 441h0M424.4 449h0M453.9 430h0M426.4 437h0M412.0 438h0M471.6 466h0M458.4 392h0M424.3 418h0M389.3 406h0M459.0 422h0M386.6 428h0M384.3 435h0M416.8 445h0M459.9 432h0M447.5 403h0M397.9 432h0M391.7 438h0M389.8 408h0M446.4 438h0M399.1 456h0M426.4 392h0M400.0 417h0M446.1 450h0M445.9 413h0M406.8 455h0M405.9 426h0M448.3 457h0M419.9 432h0M443.9 456h0M416.8 451h0M466.8 421h0M454.5 447h0M424.5 395h0M402.4 449h0M389.6 419h0M432.2 418h0M461.5 429h0M426.8 423h0M460.2 454h0M409.1 447h0M467.3 414h0M468.6 443h0M442.5 441h0M402.7 410h0M458.7 410h0M432.6 455h0M402.1 399h0M428.2 447h0M458.8 456h0M394.6 428h0M414.0 410h0M435.4 459h0M393.7 425h0M428.7 442h0M405.9 445h0M442.6 395h0M398.7 425h0M456.6 420h0M464.5 417h0M385.0 442h0M387.9 420h0M431.6 440h0M458.7 442h0M404.9 430h0M446.6 461h0M458.2 393h0M384.7 430h0M453.4 444h0M412.5 461h0M446.8 415h0M388.5 425h0M392.9 439h0M432.2 456h0M439.0 443h0M416.0 449h0M419.6 408h0M459.9 426h0M386.7 437h0M467.7 449h0M406.0 460h0M384.5 402h0M463.9 417h0M422.0 419h0M387.5 447h0M411.1 443h0M428.0 419h0M460.3 388h0M411.1 439h0M401.9 427h0M438.7 406h0M436.0 408h0M394.9 386h0M429.7 425h0M394.9 401h0M419.2 393h0M449.5 445h0M451.1 427h0M412.7 459h0M444.3 391h0M424.5 415h0M399.8 456h0M423.6 409h0M472.6 441h0M399.1 421h0M426.6 425h0M418.3 454h0M443.3 438h0M456.7 430h0M462.1 411h0M465.2 439h0M386.7 461h0M463.7 411h0M457.1 418h0M461.4 462h0M428.4 412h0M451.2 444h0M409.5 407h0M408.0 439h0M420.1 412h0M441.0 452h0M405.6 421h0M384.1 432h0M420.0 447h0M441.1 446h0M427.8 421h0M426.4 408h0M405.1 428h0M441.3 440h0M466.2 442h0M453.0 425h0M445.0 455h0M421.2 446h0M390.1 427h0M407.3 412h0M433.7 445h0M435.7 444h0M400.0 405h0M406.9 448h0M471.4 388h0M454.4 442h0M394.5 409h0M464.1 413h0M445.0 443h0M463.3 453h0M446.5 448h0M390.7 440h0M443.3 396h0M395.3 451h0M406.9 465h0M426.4 417h0M416.1 423h0M427.3 454h0M405.4 429h0M397.1 424h0M387.3 449h0M434.5 428h0M389.1 449h0M455.3 423h0M452.0 411h0M411.3 406h0M394.7 429h0M393.6 396h0M437.4 447h0M389.6 455h0M461.0 430h0M461.4 452h0M464.4 444h0M430.6 409h0M426.6 462h0M424.8 459h0M403.7 459h0M427.1 390h0M384.8 417h0M406.9 445h0M437.8 442h0M437.5 415h0M426.4 440h0M390.2 454h0M389.9 456h0M415.7 456h0M386.6 423h0M436.8 433h0M423.6 439h0M399.5 455h0M429.0 407h0M433.4 404h0M412.2 422h0M384.4 405h0M392.8 457h0M399.7 428h0M474.9 412h0M433.7 411h0M426.2 437h0M455.6 414h0M444.1 468h0M426.2 444h0M448.0 467h0M413.3 451h0M432.2 411h0M400.2 400h0M385.6 436h0M395.4 418h0M457.0 447h0M458.1 442h0M433.6 387h0M404.3 418h0M450.1 442h0M421.0 426h0M398.8 436h0M417.9 411h0M458.6 435h0M437.2 458h0M388.9 455h0M411.4 444h0M459.7 395h0M396.8 457h0M462.2 446h0M385.7 405h0M400.0 408h0M443.0 427h0M414.2 449h0M417.7 446h0M388.5 412h0M405.6 420h0M456.6 415h0M420.8 410h0M387.8 425h0M416.7 458h0M406.1 446h0M396.0 430h0M390.3 443h0M430.9 412h0M432.7 450h0M435.1 443h0M400.9 439h0M403.6 399h0M467.8 454h0M390.8 414h0M410.3 397h0M403.6 387h0M447.6 465h0M398.0 458h0M387.9 448h0M434.4 407h0M409.0 459h0M419.6 421h0M421.7 418h0M421.9 401h0M471.5 457h0M463.8 408h0M456.7 465h0M423.6 394h0M412.1 428h0M390.7 442h0M454.8 447h0M410.2 423h0M449.2 459h0M398.4 450h0M400.3 442h0M430.3 442h0M442.1 463h0M441.4 458h0M407.1 462h0M400.8 438h0M414.6 451h0M398.4 451h0M453.5 424h0M454.8 455h0M389.0 427h0M464.3 440h0M405.5 442h0M464.3 409h0M443.3 416h0M457.2 425h0M389.5 432h0M439.4 447h0M472.3 407h0M415.0 430h0M446.0 439h0M466.8 445h0M464.5 404h0M386.0 420h0M384.3 399h0M412.6 400h0M397.2 422h0M423.0 448h0M444.7 440h0M399.6 412h0M446.9 445h0M402.5 397h0" stroke="#3485bb" stroke-width="0.85" stroke-linecap="round" stroke-opacity="0.4" fill="none"/>
<path d="M417.3 416h0M433.4 425h0M428.1 436h0M444.3 441h0M412.1 466h0M464.0 417h0M464.1 402h0M411.1 436h0M444.2 416h0M449.3 441h0M452.9 445h0M440.5 431h0M467.5 403h0M463.5 422h0M385.7 419h0M440.3 442h0M412.9 397h0M412.7 418h0M383.6 420h0M449.7 393h0M386.5 404h0M400.0 441h0M385.7 400h0M386.5 424h0M460.0 425h0M419.1 399h0M386.3 405h0M402.1 439h0M406.9 436h0M438.7 462h0M384.6 396h0M474.2 447h0M437.7 457h0M456.5 450h0M426.3 456h0M423.4 427h0M391.4 389h0M402.2 393h0M470.8 429h0M446.3 436h0M446.1 463h0M455.3 438h0M406.7 424h0M429.1 423h0M446.9 429h0M427.1 452h0M463.6 455h0M389.6 466h0M401.9 441h0M449.2 467h0M419.4 447h0M462.4 428h0M425.0 448h0M421.5 415h0M412.4 423h0M427.9 405h0M434.4 421h0M446.1 422h0M390.8 440h0M395.1 442h0M415.0 423h0M466.9 438h0M426.9 460h0M458.7 433h0M465.8 431h0M435.7 449h0M385.4 445h0M427.3 439h0M440.5 443h0M398.5 422h0M425.1 451h0M458.4 388h0M412.0 417h0M474.1 449h0M416.6 392h0M427.1 403h0M454.4 454h0M427.2 425h0M410.7 449h0M434.2 424h0M446.4 418h0M427.1 450h0M391.1 407h0M450.1 433h0M396.2 393h0M426.1 443h0M390.3 388h0M429.6 432h0M414.9 455h0M414.3 425h0M429.0 441h0M399.8 457h0M447.3 397h0M410.3 444h0M437.4 436h0M439.5 454h0M406.1 400h0M389.1 459h0M389.8 442h0M418.0 449h0M458.5 458h0M471.6 461h0M426.5 457h0M430.4 422h0M446.1 425h0M442.7 427h0M413.7 437h0M436.7 422h0M385.5 436h0M384.2 418h0M424.7 449h0M425.2 417h0M449.4 413h0M430.2 446h0M415.5 427h0M402.1 458h0M463.7 406h0M445.0 457h0M458.6 427h0M405.1 444h0M459.7 404h0M395.3 436h0M468.8 416h0M394.5 455h0M384.5 426h0M384.1 439h0M386.3 428h0M386.5 400h0M390.8 431h0M459.9 415h0M385.4 456h0M429.2 442h0M409.5 413h0M450.3 423h0M386.6 409h0M467.1 425h0M451.0 415h0M451.9 448h0M412.5 455h0M426.6 453h0M437.8 449h0M414.6 404h0M420.8 425h0M437.7 425h0M442.5 409h0M450.1 402h0M427.4 439h0M414.9 442h0M389.6 461h0M429.1 409h0M416.0 430h0M387.6 435h0M459.2 422h0M419.1 439h0M456.9 435h0M469.0 396h0M426.6 426h0M411.2 420h0M439.3 394h0M402.2 412h0M443.1 466h0M406.8 412h0M400.3 415h0M458.1 467h0M401.5 458h0M451.5 455h0M427.3 413h0M384.7 441h0M470.9 405h0M446.0 385h0M445.7 406h0M385.6 406h0M418.3 400h0M387.7 427h0M429.1 417h0M455.4 449h0M399.7 442h0M425.6 461h0M458.0 429h0M414.7 437h0M436.7 417h0M458.6 437h0M465.1 423h0M402.2 393h0M418.3 412h0M425.3 444h0M439.6 466h0M423.4 446h0M438.9 427h0M399.6 435h0M419.6 421h0M399.6 435h0M458.9 422h0M404.4 406h0M386.2 434h0M395.3 410h0M385.8 466h0M457.1 417h0M389.0 391h0M437.8 433h0M439.2 431h0M396.1 417h0M393.1 458h0M419.8 415h0M463.9 402h0M405.4 404h0M421.1 404h0M437.8 448h0M391.1 405h0M404.9 434h0M426.5 461h0M460.6 425h0M409.0 446h0M387.3 406h0M462.6 446h0M389.3 411h0M442.7 422h0M430.8 458h0M396.4 434h0M412.5 440h0M386.0 430h0M428.5 460h0M383.8 442h0M457.1 450h0M394.7 412h0M428.5 398h0M464.1 423h0M384.7 443h0M464.3 394h0M411.0 422h0M414.9 436h0M386.5 466h0M463.7 423h0M397.1 422h0M423.7 454h0M396.7 440h0M468.6 449h0M421.8 446h0M403.5 409h0M474.6 421h0M465.7 395h0M410.8 420h0M454.9 412h0M401.4 421h0M388.1 403h0M426.1 426h0M414.1 427h0M403.7 388h0M435.5 440h0M426.7 408h0M401.6 450h0M459.2 443h0M432.5 440h0M468.9 421h0M466.1 434h0M470.3 446h0M398.8 456h0M416.0 435h0M458.2 455h0M427.4 419h0M454.8 423h0M439.5 402h0M467.1 406h0M405.2 420h0M413.9 449h0M423.8 454h0M389.8 443h0M385.9 445h0M405.3 425h0M384.8 452h0M384.2 440h0M437.8 441h0M420.9 424h0M437.3 451h0M452.7 406h0M456.8 448h0M393.3 420h0M463.3 438h0M448.0 404h0M402.5 396h0M462.6 444h0M416.3 438h0M384.8 397h0M417.7 433h0M444.7 425h0M425.4 438h0M431.9 418h0M425.3 445h0M400.1 427h0M395.1 434h0M461.6 450h0M410.4 406h0M419.9 432h0M437.9 413h0M408.0 446h0M384.9 457h0M469.0 439h0M456.9 439h0M433.9 433h0M463.2 423h0M443.9 461h0M471.1 426h0M464.3 434h0M426.6 389h0M449.0 422h0M441.1 450h0M418.2 467h0M444.8 414h0M408.7 432h0M424.6 404h0M437.8 434h0M467.1 413h0M458.5 427h0M442.4 397h0M440.6 443h0M384.3 446h0M468.8 440h0M418.2 430h0M419.1 441h0M431.4 456h0M462.8 401h0M440.6 416h0M402.4 427h0M393.8 412h0M411.5 444h0M426.9 426h0M397.2 431h0M384.7 446h0M396.4 413h0M453.6 463h0M429.1 402h0M385.8 421h0M390.0 432h0M437.5 449h0M394.9 431h0M442.2 448h0M406.8 442h0M425.2 403h0M393.0 431h0M414.1 453h0M427.2 463h0M401.8 435h0M453.9 446h0M473.4 443h0M458.6 432h0M424.6 442h0M422.1 437h0M439.7 429h0M394.4 418h0M444.6 402h0M388.6 440h0M416.6 449h0M462.8 429h0M397.3 428h0M395.4 428h0M393.8 432h0M438.9 416h0M385.8 449h0M395.3 438h0M440.4 439h0M401.7 393h0M465.5 404h0M432.4 435h0M384.5 430h0M426.9 445h0M443.8 421h0M456.8 415h0M398.2 412h0M399.7 422h0M430.9 405h0M448.6 433h0M460.8 439h0M451.4 424h0M396.2 402h0M467.3 442h0M416.2 407h0M465.9 453h0M463.3 411h0M390.0 387h0M383.8 401h0M384.0 430h0M387.4 460h0M415.8 428h0M398.0 386h0M460.5 388h0M405.4 455h0M429.0 449h0M414.7 452h0M414.2 420h0M433.7 459h0M384.0 416h0M401.6 439h0M410.6 418h0M394.5 424h0M414.9 419h0M446.4 459h0M424.7 435h0M428.7 441h0M394.3 398h0M416.8 435h0M417.2 386h0M435.8 445h0M383.8 444h0M387.2 429h0M472.7 434h0M433.1 432h0M450.1 437h0M394.3 453h0M402.1 433h0M423.8 409h0M449.3 425h0M414.3 388h0M426.4 398h0M446.1 437h0M413.1 446h0M429.1 412h0M414.8 410h0M434.1 435h0M426.8 440h0M386.2 406h0M426.0 430h0M453.8 441h0M400.0 435h0M430.8 452h0M464.0 405h0M391.5 410h0M427.4 398h0M445.6 435h0M433.7 425h0M428.2 396h0M387.7 441h0M427.2 456h0M389.7 410h0M425.0 391h0M447.4 427h0M445.7 412h0M439.0 430h0M404.9 438h0M423.0 388h0M466.8 447h0M419.4 418h0M419.7 451h0M457.2 420h0M395.3 448h0M470.9 410h0M469.2 460h0M455.3 458h0M473.3 447h0M456.7 428h0M386.2 406h0M428.4 416h0M405.4 410h0M389.5 430h0M433.5 458h0M400.7 461h0M405.7 424h0M395.6 442h0M424.5 452h0M453.4 414h0M451.5 448h0M396.8 451h0M446.1 448h0M433.1 425h0M416.7 453h0M426.2 405h0M431.8 428h0M453.8 443h0M460.3 430h0M394.5 461h0M398.1 408h0M409.6 437h0M461.5 391h0M443.2 463h0M442.1 451h0M443.3 404h0M397.2 427h0M388.5 410h0M389.2 420h0M463.6 430h0M435.3 421h0M431.8 405h0M455.7 458h0M424.9 440h0M398.1 449h0M426.2 391h0M393.4 417h0M458.7 451h0M459.0 435h0M440.9 438h0M416.5 421h0M438.6 408h0M412.3 443h0M458.1 429h0M436.8 438h0M393.0 442h0M472.5 402h0M406.2 447h0M439.2 463h0M474.5 433h0M401.9 453h0M420.0 427h0M402.5 446h0M451.1 459h0M406.0 436h0M428.8 467h0M409.7 413h0M393.1 440h0M460.7 466h0M406.2 420h0M450.3 397h0M421.0 461h0M419.7 420h0M423.9 398h0M426.5 427h0M465.7 384h0M426.7 390h0M400.7 443h0M422.8 406h0M456.4 451h0M393.2 447h0M440.5 442h0M449.3 435h0M386.5 400h0M450.0 436h0M414.2 422h0M419.1 452h0M401.6 446h0M416.3 410h0M411.2 441h0M414.0 430h0M453.7 433h0M406.7 449h0M419.5 458h0M435.4 404h0M459.2 453h0M405.5 419h0M385.5 454h0M413.8 461h0M384.7 468h0M411.0 434h0M386.1 430h0M433.3 457h0M458.0 440h0M389.3 434h0M432.1 441h0M420.1 395h0M467.9 430h0M396.6 395h0M421.9 461h0M389.6 421h0M444.4 392h0M451.2 445h0M386.6 442h0M396.3 408h0M439.4 438h0M431.5 449h0M400.0 443h0M399.6 466h0M415.7 416h0M463.3 388h0M460.0 468h0M412.5 441h0M452.8 417h0M390.0 451h0M405.6 436h0M458.9 423h0M450.2 399h0M405.8 433h0M397.1 418h0M450.0 442h0M457.2 440h0M437.0 452h0M390.8 404h0M423.0 418h0M420.2 455h0M437.1 455h0M438.8 466h0M450.9 443h0M459.0 393h0M385.7 419h0M400.1 397h0M463.2 412h0M460.8 425h0M427.9 434h0M453.9 443h0M470.5 430h0M417.8 447h0M424.9 427h0M426.5 452h0M401.5 430h0M442.4 408h0M432.3 450h0M457.5 434h0M402.4 416h0M458.4 416h0M439.6 398h0M435.8 448h0M391.7 456h0M384.0 449h0M414.3 439h0M409.2 450h0M426.1 402h0M445.8 461h0M458.4 417h0M472.4 387h0M419.9 463h0M451.9 458h0M395.1 387h0M424.5 441h0M384.6 464h0M450.9 436h0M433.6 425h0M386.1 447h0M402.5 391h0M461.7 431h0M412.5 428h0M383.8 449h0M386.0 407h0M408.7 403h0M422.6 445h0M400.8 431h0M395.1 463h0M437.0 422h0M424.4 457h0M395.1 385h0M402.2 437h0M422.6 424h0M458.3 407h0M452.7 434h0M440.5 438h0M433.4 387h0M399.8 418h0M413.9 446h0M414.0 449h0M426.7 391h0M431.9 441h0M402.6 446h0M455.4 423h0M437.4 422h0M444.9 396h0M459.2 447h0M431.4 450h0M464.2 421h0M463.4 425h0M459.0 463h0M456.9 405h0M424.9 406h0M391.6 403h0M445.7 439h0M430.4 403h0M427.9 429h0M399.8 389h0M393.2 433h0M465.0 436h0M414.2 418h0M406.2 457h0M392.9 416h0M465.8 421h0M393.3 468h0M466.1 446h0M453.0 424h0M428.3 433h0M389.9 468h0M413.7 397h0M443.7 456h0M423.7 450h0M397.9 429h0M409.1 449h0M467.1 453h0M391.8 462h0M407.1 446h0M434.2 415h0M394.8 456h0M394.5 451h0M469.3 420h0M401.5 435h0M387.3 402h0M449.7 461h0M386.4 404h0M423.8 438h0M427.1 427h0M455.7 436h0M429.2 389h0M463.2 455h0M446.1 400h0M386.1 430h0M390.1 440h0M435.4 459h0M447.3 444h0M389.5 436h0M419.8 441h0M422.7 420h0M384.4 430h0M404.3 429h0M465.9 388h0M420.2 431h0M419.5 400h0M441.5 406h0M423.0 447h0M466.1 403h0M411.5 438h0M432.1 416h0M400.4 460h0M428.4 401h0M404.8 446h0M416.6 448h0M453.7 411h0M384.5 435h0M384.5 408h0M455.5 427h0M422.6 406h0M449.2 457h0M458.1 454h0M424.9 420h0M406.8 455h0M407.7 413h0M412.2 428h0M433.6 415h0M437.0 445h0M426.7 403h0M453.7 427h0M471.1 432h0M428.1 435h0M458.4 430h0M400.0 433h0M431.7 412h0M433.3 466h0M421.5 426h0M399.7 420h0M425.4 410h0M394.8 433h0M384.9 436h0M426.8 445h0M410.6 421h0M441.4 420h0M416.2 465h0M463.6 446h0M458.7 415h0M402.5 401h0M423.2 438h0M461.6 444h0M430.3 404h0M467.0 449h0M405.7 431h0M439.4 469h0M441.1 436h0M446.8 408h0M418.2 405h0M426.7 444h0M428.0 440h0M416.8 441h0M428.6 426h0M458.6 415h0M432.3 446h0M426.7 420h0M405.9 434h0M461.4 420h0M453.7 462h0M415.0 452h0M383.8 442h0M455.0 433h0M401.4 418h0M415.8 390h0M446.3 441h0M444.1 407h0M462.3 413h0M384.8 434h0M385.9 423h0M388.3 426h0M442.9 414h0M454.4 430h0M465.8 448h0M398.8 453h0M384.8 418h0M449.9 446h0M442.8 421h0M465.9 447h0M432.2 422h0M428.7 420h0M401.7 416h0M453.4 420h0M405.2 420h0M396.2 450h0M425.3 431h0M447.7 442h0M386.2 462h0M464.4 432h0M449.5 420h0M401.7 435h0M435.6 385h0M408.5 424h0M403.3 418h0M438.8 454h0M426.6 459h0M423.0 450h0M420.0 425h0M396.1 418h0M458.4 402h0M402.7 433h0M402.5 436h0M403.4 440h0M439.2 435h0M426.8 393h0M426.5 455h0M412.2 429h0M449.8 418h0M463.5 427h0M414.1 427h0M389.3 430h0M393.1 424h0M400.7 434h0M452.2 445h0M396.3 423h0M399.6 399h0M418.6 442h0M434.1 400h0M398.2 427h0M456.9 440h0M464.5 427h0M410.7 453h0M449.6 394h0M419.9 409h0M402.4 429h0M430.2 458h0M453.8 408h0M388.5 444h0M389.4 420h0M423.6 454h0M395.2 453h0M429.7 452h0M458.0 468h0M384.2 447h0M430.5 457h0M452.6 427h0M460.6 447h0M469.5 440h0M451.1 394h0M426.1 421h0M425.1 421h0M451.0 440h0M384.9 448h0M464.0 428h0M449.2 446h0M427.4 461h0M461.9 446h0M453.1 448h0M449.3 430h0M438.9 402h0M389.0 406h0M427.3 409h0M442.1 430h0M436.7 386h0M433.8 396h0M425.6 396h0M427.0 426h0M424.3 415h0M458.3 409h0M430.6 436h0M402.5 399h0M401.6 456h0M424.7 428h0M395.6 406h0M452.6 439h0M389.0 453h0M466.8 437h0M385.9 397h0M423.3 446h0M434.4 450h0M441.1 455h0M468.6 421h0M449.4 395h0M430.6 429h0M402.4 430h0M398.7 452h0M427.4 420h0M461.5 402h0M401.6 466h0M463.7 434h0M412.2 432h0M422.9 437h0M433.3 448h0M397.1 461h0M424.7 392h0M387.9 419h0M388.3 400h0M460.4 416h0M384.9 452h0M400.5 393h0M432.4 422h0M426.9 404h0M401.7 398h0M438.6 423h0M402.6 464h0M405.7 420h0M405.8 405h0M399.8 417h0M384.9 425h0M427.3 453h0M458.5 434h0M425.3 420h0M396.7 459h0M436.0 395h0M418.1 409h0M425.2 417h0M460.2 431h0M426.3 435h0M429.2 433h0M442.4 433h0M450.1 456h0M435.9 453h0M420.1 412h0M427.3 414h0M397.9 433h0M383.9 444h0M466.3 430h0M401.7 454h0M441.4 446h0M411.2 442h0M452.9 403h0M460.6 436h0M434.1 457h0M386.0 409h0M394.6 422h0M384.3 437h0M452.6 426h0M384.1 454h0M460.0 428h0M402.0 420h0M422.0 422h0M442.3 464h0M453.1 400h0M426.8 424h0M404.9 443h0M442.2 410h0M385.8 430h0M451.4 428h0M460.4 414h0M398.5 466h0M383.8 452h0M445.8 430h0M417.7 456h0M470.4 402h0M463.5 416h0M406.7 449h0M389.0 416h0M400.8 456h0M456.1 408h0M441.5 451h0M467.9 411h0M410.3 468h0M405.5 401h0M447.6 443h0M436.2 408h0M469.2 407h0M453.6 433h0M438.8 410h0M468.7 424h0M414.6 417h0M389.9 440h0M465.2 430h0M423.2 429h0M413.7 398h0M451.0 444h0M460.1 453h0M435.2 407h0M426.6 454h0M428.6 446h0M435.0 438h0M442.1 438h0M463.9 446h0M451.8 452h0M473.2 445h0M410.7 430h0M441.6 453h0M435.0 441h0M439.4 392h0M409.6 452h0M421.5 431h0M457.0 402h0M428.2 413h0M389.3 410h0M444.5 435h0M419.7 386h0M469.1 406h0M402.6 429h0M398.6 459h0M468.6 427h0M432.2 440h0M467.0 409h0M425.2 410h0M453.5 461h0M405.3 431h0M444.2 405h0M397.0 444h0M396.9 412h0M451.4 427h0M463.9 440h0M409.4 412h0M383.9 448h0M406.6 446h0M450.3 403h0M384.1 455h0M439.4 386h0M412.5 439h0M445.6 449h0M413.2 429h0M466.2 423h0M407.5 420h0M401.4 440h0M442.5 430h0M437.7 416h0M461.4 410h0M419.8 403h0M469.0 446h0M463.8 408h0M399.9 414h0M425.0 412h0M402.4 459h0M432.0 458h0M463.5 425h0M446.8 402h0M384.9 412h0M425.3 446h0M450.2 421h0M472.3 400h0M385.9 436h0M458.2 426h0M466.9 467h0M394.7 414h0M441.6 430h0M395.0 406h0M438.7 468h0M388.5 436h0" stroke="#e6a52e" stroke-width="0.85" stroke-linecap="round" stroke-opacity="0.4" fill="none"/>
<path d="M424.8 410h0M385.0 430h0M394.5 443h0M412.0 409h0M447.8 460h0M405.7 416h0M423.5 447h0M444.4 460h0M422.8 390h0M442.5 411h0M425.1 445h0M439.1 406h0M442.2 434h0M454.9 434h0M462.3 415h0M419.4 421h0M400.1 430h0M465.9 416h0M412.4 449h0M443.1 418h0M462.0 407h0M386.7 402h0M470.6 442h0M432.2 427h0M417.4 427h0M437.5 412h0M425.5 441h0M394.7 423h0M445.9 408h0M389.7 408h0M385.9 392h0M463.4 437h0M405.1 457h0M450.2 425h0M424.7 429h0M385.6 459h0M456.3 437h0M431.5 469h0M442.7 406h0M455.7 403h0M467.6 437h0M395.3 444h0M416.5 438h0M437.0 439h0M397.9 446h0M451.8 429h0M462.4 459h0M395.0 441h0M463.5 451h0M455.0 455h0M442.1 396h0M456.9 437h0M443.8 425h0M412.4 403h0M474.5 453h0M436.2 428h0M386.4 402h0M433.3 456h0M403.1 436h0M406.0 403h0M387.5 454h0M384.9 442h0M425.0 408h0M421.7 386h0M458.1 418h0M417.6 388h0M423.4 453h0M385.8 432h0M390.0 403h0M427.2 433h0M438.7 447h0M451.9 415h0M400.6 426h0M430.5 465h0M389.5 445h0M407.4 406h0M397.0 443h0M414.1 456h0M386.3 447h0M435.5 408h0M441.4 436h0M445.8 457h0M384.4 427h0M413.3 417h0M438.7 452h0M465.5 466h0M405.6 435h0M423.8 416h0M400.1 405h0M442.5 437h0M426.6 405h0M427.0 452h0M403.7 422h0M460.9 422h0M452.1 467h0M449.2 429h0M460.6 461h0M409.0 432h0M393.5 432h0M432.1 415h0M384.7 445h0M446.2 434h0M421.4 420h0M442.0 431h0M391.0 430h0M400.3 421h0M423.9 425h0M470.7 444h0M429.1 405h0M410.7 451h0M400.1 408h0M450.3 386h0M442.9 466h0M430.0 459h0M444.3 400h0M410.3 456h0M437.0 438h0M446.4 420h0M437.7 437h0M426.3 447h0M428.8 425h0M414.7 411h0M401.8 406h0M459.0 452h0M434.5 423h0M460.4 417h0M410.8 424h0M439.4 393h0M440.4 422h0M421.1 405h0M429.0 427h0M460.7 431h0M436.0 438h0M393.7 469h0M469.3 429h0M458.8 417h0M414.3 436h0M472.8 463h0M438.4 453h0M437.6 421h0M418.0 446h0M463.9 418h0M439.3 453h0M419.5 417h0M401.8 448h0M389.6 409h0M396.7 432h0M414.5 431h0M444.6 403h0M424.4 439h0M424.9 406h0M409.1 464h0M415.0 422h0M421.9 440h0M451.2 414h0M438.9 391h0M396.5 426h0M420.1 464h0M439.7 438h0M411.0 460h0M444.0 414h0M396.4 460h0M438.4 433h0M455.5 414h0M396.5 436h0M396.5 422h0M395.2 459h0M421.1 396h0M417.4 418h0M458.0 425h0M450.0 434h0M426.9 458h0M405.4 404h0M410.9 396h0M403.7 455h0M468.0 469h0M454.6 445h0M430.9 416h0M458.0 449h0M419.3 446h0M400.2 444h0M416.3 414h0M426.2 399h0M389.2 434h0M464.1 418h0M406.0 456h0M443.7 459h0M391.9 412h0M460.4 421h0M393.4 432h0M465.7 433h0M400.1 426h0M414.0 438h0M396.1 436h0M416.1 438h0M413.9 458h0M459.7 435h0M425.2 447h0M453.7 467h0M400.3 431h0M437.1 450h0M384.1 458h0M389.8 407h0M415.7 415h0M405.7 421h0M432.7 432h0M385.8 423h0M464.1 461h0M443.8 448h0M442.0 448h0M393.5 450h0M433.8 400h0M463.6 457h0M437.6 423h0M405.5 424h0M449.4 405h0M455.0 451h0M416.8 426h0M424.7 440h0M430.9 461h0M461.8 446h0M397.3 441h0M427.3 434h0M393.2 407h0M445.9 418h0M455.3 466h0M425.5 447h0M426.2 439h0M384.9 418h0M410.9 389h0M419.8 427h0M455.3 441h0M391.4 434h0M437.5 456h0M390.3 424h0M438.6 440h0M442.1 434h0M419.5 420h0M439.1 439h0M424.6 414h0M386.4 459h0M428.7 433h0M388.9 417h0M437.2 401h0M418.2 428h0M437.7 414h0M384.2 457h0M395.6 432h0M420.1 401h0M435.0 460h0M450.2 451h0M454.0 435h0M434.3 468h0M446.2 429h0M412.8 409h0M433.4 456h0M385.7 429h0M403.5 412h0M401.4 465h0M465.0 424h0M456.4 400h0M453.3 390h0M394.8 450h0M453.6 449h0M446.5 445h0M468.8 426h0M409.7 416h0M414.7 414h0M394.4 449h0M396.1 385h0M386.4 459h0M464.4 435h0M442.1 428h0M411.5 450h0M431.7 400h0M386.1 418h0M407.5 429h0M388.9 464h0M426.5 447h0M414.8 459h0M405.8 423h0M458.4 427h0M384.1 396h0M411.1 437h0M395.1 427h0M423.6 429h0M439.0 412h0M391.0 435h0M442.6 422h0M419.0 453h0M463.5 428h0M406.1 436h0M389.3 444h0M435.2 396h0M413.1 414h0M467.6 461h0M443.0 449h0M398.7 397h0M405.2 441h0M383.8 421h0M473.0 440h0M462.6 400h0M439.6 458h0M384.9 449h0M398.5 456h0M427.2 461h0M433.7 464h0M432.4 417h0M442.4 456h0M460.4 435h0M466.7 390h0M447.6 417h0M390.3 440h0M473.9 438h0M455.3 447h0M395.6 422h0M421.0 448h0M454.4 429h0M433.9 399h0M443.0 420h0M462.6 437h0M408.9 430h0M433.4 445h0M383.8 462h0M412.2 391h0M400.7 398h0M385.4 449h0M389.7 452h0M441.3 462h0M429.0 422h0M459.8 385h0M399.1 429h0M402.0 465h0M401.9 439h0M430.3 419h0M428.9 436h0M405.6 432h0M427.9 452h0M446.1 449h0M456.1 406h0M457.2 414h0M394.4 427h0M446.4 455h0M430.3 443h0M445.0 431h0M452.1 413h0M420.3 450h0M405.1 466h0M425.4 466h0M415.8 439h0M400.6 417h0M398.3 405h0M427.1 441h0M419.3 444h0M391.7 423h0M460.3 444h0M444.9 414h0M413.7 430h0M423.7 464h0M398.2 438h0M463.5 449h0M386.6 407h0M413.7 421h0M385.4 432h0M420.0 462h0M430.1 436h0M453.6 426h0M435.9 443h0M464.1 428h0M467.5 455h0M413.8 398h0M424.5 452h0M435.6 462h0M418.5 407h0M424.7 434h0M422.7 446h0M437.5 412h0M414.3 431h0M384.3 427h0M412.5 459h0M458.6 432h0M391.8 436h0M396.7 437h0M437.5 408h0M384.3 419h0M405.9 411h0M458.2 439h0M426.4 429h0M400.7 453h0M416.1 421h0M420.1 407h0M461.4 398h0M452.6 437h0M444.8 411h0M451.9 425h0M390.1 413h0M403.7 440h0M425.7 429h0M394.8 442h0M442.8 466h0M431.5 439h0M461.4 425h0M437.7 417h0M389.6 432h0M449.0 440h0M451.7 429h0M407.2 454h0M444.3 405h0M444.2 409h0M401.6 407h0M417.4 455h0M426.8 461h0M427.3 437h0M389.9 440h0M389.4 429h0M468.0 430h0M428.6 411h0M384.2 434h0M442.0 469h0M420.9 423h0M401.5 420h0M458.1 417h0M383.8 455h0M466.3 425h0M461.9 441h0M414.2 446h0M428.6 395h0M432.5 441h0M403.3 447h0M472.5 445h0M392.9 450h0M407.1 439h0M464.5 428h0M431.7 422h0M392.0 460h0M428.5 428h0M393.6 459h0M404.3 441h0M395.6 445h0M386.5 440h0M458.5 418h0M403.7 422h0M396.8 448h0M469.2 427h0M383.9 443h0M420.8 404h0M383.7 420h0M384.4 442h0M470.7 419h0M417.8 420h0M412.1 425h0M466.9 435h0M393.0 467h0M432.0 430h0M431.9 391h0M384.2 463h0M426.5 414h0M424.3 407h0M437.0 424h0M463.5 445h0M442.2 451h0M462.0 455h0M396.2 411h0M428.3 440h0M456.8 420h0M437.6 449h0M423.7 448h0M445.6 449h0M436.8 419h0M442.2 431h0M444.0 423h0M384.9 459h0M450.2 422h0M414.6 424h0M442.3 453h0M416.5 452h0M428.8 411h0M414.1 445h0M467.3 458h0M456.7 428h0M420.4 450h0M445.6 420h0M439.5 426h0M451.3 425h0M428.4 405h0M393.4 455h0M465.8 432h0M410.4 389h0M426.4 436h0M414.3 466h0M419.8 455h0M447.7 389h0M436.1 439h0M462.1 418h0M396.4 419h0M405.5 404h0M433.4 433h0M393.7 424h0M449.9 414h0M412.3 447h0M386.6 430h0M454.7 423h0M441.6 434h0M386.8 410h0M429.0 440h0M402.0 424h0M441.5 413h0M406.0 446h0M455.0 444h0M385.6 420h0M430.1 390h0M460.3 414h0M386.4 424h0M416.6 444h0M440.5 442h0M462.7 395h0M401.7 453h0M472.6 458h0M454.7 430h0M442.8 447h0M442.6 437h0M400.6 396h0M405.4 388h0M419.7 456h0M414.0 423h0M384.3 402h0M412.7 424h0M470.4 442h0M442.1 400h0M423.2 449h0M448.6 407h0M428.0 454h0M456.4 408h0M439.6 418h0M383.7 443h0M426.7 432h0M421.2 420h0M422.0 443h0M386.1 456h0M421.6 435h0M403.6 455h0M465.9 428h0M420.9 436h0M441.6 460h0M459.0 461h0M402.6 393h0M389.2 456h0M389.0 413h0M453.4 415h0M435.3 389h0M444.6 454h0M433.8 445h0M403.2 447h0M424.9 461h0M401.9 386h0M442.1 422h0M406.7 429h0M472.5 421h0M384.2 422h0M396.3 444h0M405.8 401h0M421.3 437h0M390.3 410h0M396.8 412h0M471.5 417h0M446.1 463h0M445.5 448h0M428.9 404h0M451.3 453h0M403.3 416h0M414.3 450h0M421.5 413h0M405.6 413h0M437.5 457h0M408.4 410h0M457.2 435h0M419.6 455h0M428.1 423h0M383.8 452h0M473.9 432h0M456.9 407h0M400.7 426h0M407.2 468h0M421.6 454h0M473.0 419h0M419.7 409h0M410.5 462h0M410.3 449h0M467.3 446h0M426.4 425h0M426.6 422h0M402.5 423h0M426.3 422h0M397.3 411h0M444.1 436h0M440.3 449h0M429.8 436h0M390.9 442h0M419.6 422h0M436.6 390h0M413.7 414h0M463.7 404h0M442.8 464h0M429.9 445h0M383.8 450h0M425.5 455h0M421.4 439h0M421.3 403h0M387.9 452h0M398.9 445h0M436.9 460h0M396.8 423h0M402.5 458h0M454.7 432h0M426.9 407h0M459.9 458h0M463.7 407h0M453.5 451h0M435.7 406h0M400.5 413h0M418.0 412h0M465.1 406h0M434.1 434h0M412.3 415h0M427.2 417h0M389.3 445h0M422.1 416h0M407.5 416h0M406.0 426h0M414.4 418h0M413.7 421h0M429.0 441h0M398.9 437h0M440.8 444h0M408.5 450h0M399.7 407h0M426.1 436h0M402.2 461h0M422.6 425h0M458.6 442h0M456.9 425h0M401.7 433h0M416.1 406h0M424.5 439h0M451.3 405h0M460.1 442h0M445.8 463h0M387.4 403h0M388.4 437h0M398.0 442h0M435.1 405h0M427.8 458h0M440.9 434h0M400.9 454h0M433.8 432h0M393.5 410h0M425.4 400h0M416.7 441h0M412.0 393h0M396.6 433h0M389.9 435h0M441.5 425h0M412.5 463h0M405.0 426h0M460.3 415h0M400.8 386h0M452.8 446h0M394.5 403h0M451.6 436h0M420.9 410h0M461.7 446h0M386.5 421h0M441.5 426h0M424.6 456h0M400.6 406h0M406.0 462h0M422.7 390h0M439.7 446h0M404.9 438h0M457.9 464h0M399.8 414h0M449.7 398h0M466.3 460h0M412.3 418h0M439.3 445h0M467.3 427h0M466.0 426h0M399.0 466h0M439.1 460h0M411.0 452h0M398.2 451h0M437.7 431h0M460.7 450h0M460.0 467h0M449.5 404h0M400.0 422h0M401.9 410h0M429.0 423h0M399.8 429h0M393.1 427h0M384.8 445h0M412.7 396h0M405.2 424h0M463.2 409h0M397.9 435h0M449.5 464h0M412.2 419h0M415.1 437h0M401.8 427h0M456.1 443h0M437.7 396h0M442.9 428h0M401.7 436h0M419.5 425h0M408.8 420h0M402.6 435h0M399.7 423h0M412.2 435h0M437.7 434h0M460.4 420h0M413.9 408h0M428.8 447h0M433.4 424h0M471.3 453h0M440.9 451h0M421.1 442h0M449.9 467h0M459.8 441h0M414.8 414h0M392.7 440h0M411.0 422h0M428.9 400h0M401.4 459h0M389.5 467h0M426.6 424h0M384.0 433h0M449.7 461h0M440.3 440h0M423.5 412h0M408.0 457h0M441.1 436h0M405.0 455h0M400.5 438h0M438.6 397h0M438.0 398h0M466.7 420h0M445.1 403h0M451.4 414h0M428.4 450h0M413.8 464h0M451.3 432h0M466.3 437h0M437.3 413h0M442.3 448h0M398.8 459h0M399.8 419h0M448.3 435h0M384.1 444h0M402.2 452h0M425.6 429h0M417.5 451h0M412.2 452h0M467.5 468h0M385.0 433h0M434.4 433h0M467.4 436h0M415.0 423h0M401.6 415h0M386.2 426h0M472.8 425h0M456.6 386h0M427.0 445h0M474.3 412h0M459.1 396h0M471.0 430h0M423.2 439h0M464.6 416h0M444.5 447h0M473.0 424h0M384.1 390h0M389.8 418h0M424.7 460h0M441.5 426h0M436.0 450h0M401.9 451h0M407.7 410h0M413.7 415h0M384.8 434h0M409.2 430h0M463.2 433h0M386.5 435h0M451.6 422h0M439.6 464h0M440.3 391h0M393.4 440h0M422.1 447h0M423.9 457h0M399.1 428h0M399.2 438h0M428.0 446h0M436.0 395h0M386.4 426h0M442.6 413h0M400.9 435h0M396.0 428h0M383.7 392h0M464.5 420h0M426.9 436h0M415.0 430h0M449.7 437h0M391.7 424h0M464.0 392h0M407.4 417h0M426.5 391h0M425.4 412h0M457.1 432h0M453.1 448h0M440.4 456h0M454.7 455h0M392.0 427h0M391.6 386h0M408.9 435h0M446.0 468h0M426.5 404h0M405.9 398h0M458.4 442h0M447.6 436h0M436.2 441h0M461.7 444h0M391.0 410h0M438.0 427h0M389.6 421h0M429.1 419h0M428.7 447h0M427.1 462h0M397.0 430h0M404.8 405h0M453.6 387h0M412.8 402h0M421.7 448h0M408.0 426h0M435.1 460h0M467.9 438h0M426.4 406h0M424.5 454h0M384.2 396h0M469.1 463h0M457.0 425h0M411.1 443h0M456.5 437h0M419.4 430h0M453.2 445h0M385.5 411h0M398.4 428h0M465.4 454h0M454.6 460h0M428.5 422h0M426.4 415h0M398.1 391h0M425.5 451h0M384.7 437h0M419.3 426h0M459.1 445h0M470.7 416h0M431.5 436h0M427.2 440h0M412.7 420h0M402.3 437h0M467.7 453h0M423.1 457h0M426.5 452h0M459.0 465h0M424.6 442h0M466.7 405h0M447.7 406h0M440.8 451h0M437.1 388h0M428.8 458h0M426.9 439h0M452.9 452h0M471.0 430h0M421.7 434h0M386.2 424h0M455.7 416h0M403.6 415h0M407.7 428h0M383.8 406h0M437.7 451h0M401.9 443h0M442.1 392h0M440.4 420h0M408.4 441h0M396.8 413h0M419.4 442h0M427.3 464h0M442.9 428h0M435.9 404h0M386.8 467h0M463.3 457h0M394.3 444h0M461.9 415h0M409.6 461h0M406.2 462h0M429.8 438h0M398.9 450h0M402.3 456h0M385.5 449h0M460.3 443h0M437.7 405h0M426.7 441h0M437.3 392h0M402.1 428h0M457.3 411h0M463.5 408h0M396.4 455h0M457.5 464h0M419.4 412h0M394.6 401h0M464.0 449h0M429.2 468h0M413.8 454h0M400.5 466h0M454.4 465h0M393.4 442h0M396.4 462h0M414.0 417h0M416.2 412h0M430.3 440h0M439.3 443h0M400.4 432h0M432.5 399h0M383.9 433h0M457.0 432h0M455.6 427h0M445.7 419h0M439.8 441h0M430.1 438h0M391.4 395h0M391.6 439h0M399.8 420h0M428.1 464h0M425.1 450h0M384.4 457h0M405.4 433h0M428.9 442h0M393.5 437h0M383.8 431h0M435.0 437h0M426.9 396h0M436.1 404h0M467.8 425h0M418.4 411h0M440.5 436h0M401.5 415h0M393.0 459h0M410.2 465h0M465.9 435h0M439.5 445h0M405.4 447h0M384.1 432h0M390.2 427h0M420.0 413h0M466.2 446h0M430.2 461h0M455.0 444h0M389.8 427h0M469.4 434h0M386.0 462h0M397.1 458h0M388.2 431h0M433.4 443h0M466.3 469h0M464.2 459h0M441.2 452h0M457.3 414h0M441.5 456h0M408.6 436h0M386.1 410h0M449.2 421h0M450.2 422h0M398.1 399h0M400.2 454h0M459.2 407h0M407.2 462h0M400.2 426h0M411.5 407h0M439.4 421h0M439.0 399h0M469.6 438h0M420.1 448h0M432.3 466h0M438.6 442h0M435.8 396h0M471.0 411h0M388.1 461h0M441.5 444h0M432.5 411h0M458.7 415h0M419.4 444h0M389.3 438h0M460.1 420h0M426.8 428h0M415.7 399h0M462.6 394h0M385.9 396h0M392.8 391h0M411.1 447h0M385.5 442h0M429.1 431h0M440.5 428h0M394.4 426h0M424.6 453h0M412.1 407h0M412.8 445h0M405.7 419h0M455.3 428h0M442.6 450h0M437.6 415h0M459.8 436h0M456.5 420h0M399.9 385h0M391.1 455h0M438.6 431h0M425.2 433h0M455.1 422h0M398.1 436h0M387.9 419h0M417.9 459h0M386.6 419h0M390.7 415h0M456.7 424h0M458.5 455h0M464.4 449h0" stroke="#a8323a" stroke-width="0.85" stroke-linecap="round" stroke-opacity="0.4" fill="none"/>
<path d="M411.3 438h0M397.3 421h0M428.6 409h0M397.3 414h0M402.6 456h0M432.6 465h0M392.0 450h0M405.7 462h0M421.2 400h0M414.7 424h0M421.5 417h0M434.4 439h0M449.2 424h0M421.5 468h0M398.2 439h0M383.7 453h0M447.7 424h0M463.6 408h0M433.3 428h0M424.8 415h0M421.6 403h0M446.4 448h0M389.0 411h0M451.2 418h0M426.8 429h0M439.0 417h0M385.5 441h0M409.8 436h0M459.1 437h0M400.4 400h0M426.3 422h0M401.9 443h0M428.4 448h0M451.5 420h0M393.7 453h0M412.4 443h0M416.4 425h0M413.2 394h0M430.7 412h0M452.9 403h0M430.6 407h0M449.1 396h0M458.6 403h0M414.4 418h0M427.1 426h0M463.5 400h0M417.7 414h0M392.8 448h0M451.2 418h0M404.9 394h0M383.8 414h0M424.8 407h0M414.9 405h0M389.6 430h0M428.3 455h0M419.0 411h0M383.9 447h0M455.5 434h0M447.6 450h0M436.8 400h0M397.1 387h0M459.7 416h0M435.0 428h0M397.1 448h0M410.4 466h0M440.9 433h0M416.7 464h0M471.5 459h0M421.1 458h0M437.9 430h0M424.9 464h0M426.5 442h0M421.4 464h0M425.4 461h0M464.4 421h0M401.4 455h0M469.8 465h0M465.3 454h0M458.9 462h0M413.9 410h0M393.5 441h0M425.5 433h0M457.1 430h0M428.4 396h0M394.5 390h0M396.2 402h0M405.0 410h0M396.5 469h0M432.7 442h0M387.6 407h0M383.8 408h0M442.0 428h0M403.7 445h0M414.8 459h0M424.7 451h0M400.1 421h0M449.8 403h0M390.0 450h0M397.0 411h0M401.6 434h0M467.8 419h0M456.4 404h0M428.9 425h0M407.6 425h0M405.3 439h0M406.2 449h0M446.8 437h0M384.5 424h0M384.2 406h0M434.1 420h0M421.9 463h0M385.0 440h0M442.4 421h0M390.1 422h0M460.4 425h0M400.1 454h0M440.6 453h0M385.9 406h0M404.3 412h0M443.3 426h0M420.8 396h0M384.2 458h0M446.7 422h0M439.3 418h0M396.3 396h0M394.8 417h0M439.1 411h0M469.5 403h0M463.4 450h0M427.2 437h0M436.9 400h0M420.1 408h0M446.7 426h0M433.4 441h0M395.3 395h0M387.3 393h0M453.2 468h0M416.1 402h0M446.6 464h0M439.4 456h0M385.4 450h0M384.6 393h0M419.7 415h0M471.0 436h0M384.8 456h0M412.4 427h0M440.5 459h0M405.4 459h0M386.5 464h0M390.9 436h0M384.1 415h0M399.0 394h0M405.1 455h0M429.0 424h0M444.5 420h0M398.2 443h0M428.8 430h0M433.5 401h0M413.2 403h0M399.0 444h0M468.1 425h0M465.5 451h0M413.7 395h0M464.1 404h0M426.2 455h0M464.3 409h0M460.0 391h0M462.4 399h0M457.0 432h0M400.4 439h0M398.8 436h0M463.3 450h0M384.6 453h0M427.2 434h0M430.3 431h0M399.9 442h0M383.8 432h0M409.0 417h0M425.5 442h0M456.2 446h0M443.0 430h0M386.7 436h0M402.3 386h0M471.1 454h0M427.1 432h0M460.1 448h0M451.1 453h0M454.8 449h0M415.9 431h0M420.2 439h0M411.3 437h0M412.0 428h0M428.2 412h0M414.6 426h0M392.9 399h0M430.8 395h0M384.1 419h0M410.9 447h0M437.8 445h0M417.7 460h0M407.4 443h0M428.6 405h0M448.4 386h0M459.1 403h0M458.4 432h0M453.3 467h0M427.3 406h0M446.5 460h0M464.0 418h0M398.3 448h0M396.1 453h0M404.9 398h0M421.2 452h0M388.3 467h0M384.2 420h0M457.0 398h0M428.8 403h0M446.5 446h0M405.5 399h0M438.8 427h0M453.4 404h0M474.3 447h0M383.7 417h0M426.3 410h0M396.9 466h0M418.1 468h0M430.7 454h0M412.3 424h0M446.1 399h0M430.8 458h0M455.7 431h0M425.6 428h0M433.5 452h0M455.0 449h0M403.7 449h0M426.8 411h0M384.6 419h0M447.6 436h0M471.1 429h0M397.2 421h0M426.9 405h0M395.6 414h0M427.1 464h0M419.5 419h0M384.9 451h0M449.1 422h0M412.0 442h0M400.5 453h0M384.8 453h0M460.0 438h0M414.1 468h0M419.2 442h0M409.2 411h0M426.6 390h0M462.8 449h0M435.4 412h0M387.7 395h0M449.3 454h0M433.4 452h0M444.9 449h0M454.6 406h0M389.1 412h0M437.6 443h0M407.4 452h0M406.0 427h0M458.1 449h0M392.7 393h0M441.3 409h0M393.0 415h0M389.0 423h0M407.6 468h0M463.7 390h0M438.6 457h0M394.5 420h0M454.4 432h0M401.3 453h0M401.8 426h0M440.4 460h0M420.1 437h0M400.2 432h0M412.1 447h0M431.5 456h0M384.3 401h0M400.1 416h0M436.8 401h0M400.9 412h0M401.8 412h0M469.0 408h0M450.1 439h0M384.1 425h0M464.2 429h0M446.5 445h0M390.9 453h0M434.9 422h0M436.1 449h0M427.1 413h0M440.7 450h0M467.7 445h0M442.7 444h0M454.9 436h0M446.5 412h0M434.0 438h0M386.4 430h0M465.5 423h0M414.9 433h0M425.0 437h0M428.9 440h0M400.0 416h0M425.6 437h0M414.2 418h0M460.9 431h0M458.8 405h0M420.0 405h0M395.3 463h0M413.9 414h0M420.8 446h0M440.5 433h0M430.7 386h0M437.6 447h0M400.1 432h0M405.3 395h0M468.6 460h0M385.6 462h0M386.0 424h0M386.5 411h0M431.7 412h0M420.1 466h0M472.2 439h0M451.9 446h0M426.2 421h0M432.3 400h0M405.9 455h0M435.6 404h0M421.8 408h0M445.8 409h0M415.0 446h0M458.8 448h0M445.1 435h0M452.1 455h0M468.8 423h0M458.2 425h0M445.6 437h0M458.9 421h0M384.0 435h0M416.6 434h0M425.6 433h0M396.2 439h0M433.9 455h0M429.0 391h0M384.1 386h0M413.9 422h0M427.3 429h0M405.5 426h0M439.0 435h0M465.2 448h0M469.8 409h0M402.1 453h0M409.0 443h0M425.3 458h0M416.1 415h0M449.1 446h0M434.5 445h0M435.3 460h0M455.6 467h0M390.8 459h0M446.6 454h0M446.4 426h0M426.6 419h0M439.0 456h0M444.8 463h0M434.5 406h0M399.9 417h0M389.7 453h0M415.7 401h0M383.9 434h0M457.3 434h0M437.4 451h0M403.2 458h0M435.8 400h0M460.4 419h0M461.8 464h0M436.2 458h0M408.5 393h0M413.0 452h0M426.5 449h0M388.2 421h0M429.6 404h0M437.0 427h0M467.7 431h0M387.2 391h0M457.4 419h0M401.6 424h0M427.0 396h0M418.3 444h0M415.5 467h0M420.1 448h0M384.8 460h0M443.9 401h0M426.5 420h0M407.1 420h0M410.4 461h0M466.0 443h0M386.3 457h0M384.5 440h0M454.4 434h0M443.1 440h0M413.2 413h0M398.9 410h0M426.1 454h0M397.3 429h0M399.8 423h0M439.2 410h0M389.8 455h0M385.5 462h0M402.3 431h0M420.1 450h0M442.4 409h0M416.2 430h0M425.3 443h0M446.4 415h0M426.4 409h0M417.7 418h0M446.1 416h0M405.4 446h0M437.7 437h0M427.0 456h0M384.0 410h0M438.7 413h0M395.1 393h0M454.4 447h0M419.4 448h0M449.6 456h0M426.3 438h0M414.2 424h0M428.4 461h0M386.2 441h0M453.8 439h0M428.3 420h0M465.4 457h0M405.5 415h0M459.7 431h0M445.9 407h0M448.4 432h0M444.0 430h0M388.2 430h0M462.3 435h0M420.3 457h0M466.1 446h0M460.9 458h0M384.6 453h0M387.4 409h0M407.8 441h0M400.4 421h0M393.1 392h0M426.6 409h0M390.3 447h0M407.2 449h0M419.1 453h0M438.7 415h0M460.1 441h0M417.4 444h0M420.3 418h0M421.6 421h0M440.3 407h0M389.1 387h0M390.9 431h0M409.4 435h0M399.5 421h0M402.2 406h0M446.5 432h0M386.4 409h0M455.4 421h0M413.2 424h0M396.0 428h0M403.3 455h0M422.0 430h0M456.8 442h0M451.1 442h0M395.2 415h0M407.5 410h0M428.8 410h0M440.3 442h0M437.6 405h0M458.9 438h0M448.6 400h0M472.2 459h0M453.0 422h0M455.5 427h0M443.8 418h0M458.6 461h0M423.6 426h0M426.7 455h0M456.1 446h0M451.4 434h0M412.6 401h0M390.9 391h0M442.9 461h0M401.8 440h0M406.1 431h0M428.1 434h0M386.8 454h0M465.4 408h0M389.4 440h0M465.0 429h0M435.8 435h0M414.1 445h0M436.8 427h0M463.9 455h0M393.3 453h0M385.9 406h0M425.3 431h0M385.9 418h0M426.3 455h0M413.0 429h0M428.2 406h0M437.7 453h0M424.8 449h0M463.3 428h0M428.4 449h0M465.2 405h0M417.7 438h0M426.8 445h0M463.4 409h0M425.2 404h0M453.5 433h0M439.6 425h0M404.2 409h0M436.9 439h0M387.7 423h0M443.0 421h0M395.3 430h0M463.9 448h0M446.5 396h0M421.2 461h0M390.0 405h0M441.4 414h0M427.1 435h0M426.3 435h0M405.8 467h0M405.9 445h0M449.5 448h0M430.1 399h0M386.1 440h0M390.7 455h0M422.7 460h0M408.7 459h0M444.5 451h0M406.1 453h0M442.6 418h0M439.2 458h0M452.9 428h0M466.2 425h0M409.8 453h0M426.5 461h0M450.2 417h0M444.7 466h0M434.4 425h0M445.8 466h0M443.0 433h0M453.2 450h0M392.5 428h0M385.6 433h0M394.9 392h0M436.0 435h0M415.0 438h0M391.3 408h0M421.5 418h0M460.6 434h0M428.8 426h0M414.8 400h0M419.2 450h0M465.5 403h0M402.2 446h0M434.1 416h0M385.9 444h0M465.5 455h0M444.8 445h0M442.3 463h0M427.4 444h0M402.1 408h0M386.2 458h0M434.0 464h0M464.4 436h0M407.7 436h0M427.4 423h0M457.4 451h0M434.4 430h0M435.6 449h0M396.6 442h0M390.2 423h0M437.6 448h0M437.2 448h0M384.1 460h0M405.0 454h0M456.6 466h0M469.8 411h0M405.4 434h0M458.8 460h0M465.3 446h0M385.0 408h0M445.9 449h0M428.1 417h0M387.4 435h0M442.9 428h0M426.4 426h0M428.8 419h0M406.6 448h0M450.8 450h0M387.2 457h0M467.2 390h0M421.1 408h0M420.1 454h0M443.3 407h0M468.0 397h0M450.9 443h0M427.2 428h0M386.0 416h0M456.1 412h0M388.1 439h0M428.5 424h0M443.8 405h0M444.3 443h0M459.1 442h0M419.4 452h0M453.7 462h0M457.0 385h0M467.8 452h0M436.8 451h0M414.4 404h0M426.6 396h0M422.1 423h0M427.1 466h0M463.4 428h0M421.2 406h0M424.4 450h0M444.6 452h0M447.5 464h0M449.4 442h0M450.1 436h0M445.6 424h0M398.6 443h0M405.9 426h0M402.2 402h0M445.9 445h0M461.6 438h0M386.7 434h0M385.5 414h0M407.1 468h0M402.2 431h0M426.5 426h0M422.7 449h0M409.7 405h0M465.4 405h0M425.1 438h0M419.1 421h0M457.4 393h0M384.1 414h0M436.7 445h0M435.9 465h0M445.5 426h0M437.5 388h0M401.4 466h0M427.3 437h0M433.6 440h0M444.1 420h0M445.5 447h0M409.6 441h0M398.7 438h0M399.6 465h0M394.5 450h0M453.8 433h0M438.9 456h0M404.0 415h0M384.4 433h0M386.4 438h0M451.0 423h0M434.2 456h0M424.3 396h0M432.5 432h0M412.0 445h0M443.2 386h0M417.2 464h0M385.8 412h0M434.3 448h0M441.2 428h0M405.3 462h0M414.7 467h0M421.5 467h0M395.5 451h0M407.6 422h0M425.4 444h0M404.9 433h0M443.8 387h0M446.2 445h0M391.8 469h0M445.6 404h0M431.6 425h0M440.9 416h0M439.4 401h0M426.8 436h0M394.8 445h0M421.8 440h0M449.5 405h0M465.1 448h0M458.2 464h0M404.8 413h0M451.3 461h0M410.9 421h0M393.5 423h0M443.8 455h0M446.7 449h0M400.9 424h0M383.8 444h0M463.6 416h0M403.2 449h0M386.4 443h0M448.3 436h0M412.1 465h0M400.0 444h0M460.8 407h0M446.5 447h0M453.9 426h0M449.6 439h0M446.5 445h0M385.8 427h0M412.4 444h0M394.4 420h0M423.6 457h0M398.0 403h0M425.3 411h0M426.2 429h0M385.7 423h0M460.1 460h0M466.0 431h0M416.8 452h0M405.0 452h0M409.0 442h0M401.8 441h0M450.3 402h0M468.0 441h0M456.8 433h0M441.5 466h0M395.1 455h0M448.2 462h0M442.1 447h0M433.7 422h0M428.8 450h0M383.7 437h0M456.1 430h0M446.3 442h0M383.6 455h0M405.9 428h0M473.8 446h0M431.8 414h0M433.5 401h0M389.7 391h0M400.5 409h0M432.4 386h0M394.5 423h0M449.1 453h0M456.8 456h0M464.4 430h0M390.3 437h0M469.9 443h0M444.4 414h0M463.5 432h0M440.6 432h0M405.8 445h0M384.4 452h0M414.4 431h0M453.0 439h0M396.6 439h0M439.3 410h0M425.0 450h0M385.9 426h0M386.6 424h0M421.6 438h0M430.6 401h0M437.9 445h0M407.2 453h0M389.6 410h0M425.6 412h0M437.1 454h0M399.5 425h0M454.9 450h0M468.5 450h0M445.9 439h0M406.0 450h0M384.7 410h0M469.1 452h0M397.8 461h0M412.1 434h0M467.9 391h0M433.9 425h0M384.9 464h0M396.9 415h0M430.8 444h0M426.6 434h0M458.9 438h0M413.0 426h0M434.0 449h0M391.2 446h0M452.8 432h0M384.7 418h0M432.3 430h0M438.7 402h0M395.3 457h0M447.8 458h0M451.0 442h0M410.5 440h0M455.2 446h0M421.7 468h0M438.5 419h0M428.5 385h0M424.8 433h0M435.7 447h0M392.8 432h0M412.7 435h0M455.6 395h0M385.8 421h0M389.5 421h0M443.3 463h0M424.4 440h0M439.6 444h0M460.6 459h0M469.8 462h0M456.8 463h0M414.9 401h0M427.2 431h0M427.2 464h0M444.2 412h0M426.3 398h0M452.9 457h0M412.4 442h0M462.4 437h0M401.5 428h0M416.4 416h0M458.1 446h0M435.8 394h0M395.3 455h0M425.5 418h0M423.3 446h0M396.5 447h0M445.9 456h0M429.1 410h0M465.0 433h0M439.2 391h0M438.0 445h0M467.4 440h0M386.5 392h0M385.6 442h0M421.6 441h0M426.7 426h0M410.9 440h0M412.1 454h0M435.2 430h0M388.4 452h0M411.0 468h0M426.3 432h0M455.2 467h0M415.7 439h0M453.6 426h0M413.2 420h0M474.2 426h0M399.5 439h0M388.5 440h0M450.8 385h0M396.3 449h0M458.6 395h0M460.3 445h0M458.2 448h0M444.1 403h0M445.5 418h0M415.0 409h0M463.6 440h0M456.5 444h0M390.0 419h0M419.3 416h0M405.3 434h0M426.1 452h0M384.7 455h0M426.6 466h0M395.4 428h0M434.2 461h0M424.5 412h0M457.4 422h0M454.4 452h0M444.3 423h0M414.6 452h0M442.8 405h0M458.4 449h0M384.1 416h0M426.3 457h0M445.1 418h0M412.5 443h0M456.3 457h0M466.0 456h0M384.3 454h0M421.5 444h0M413.8 414h0M385.4 444h0M460.5 422h0M433.3 402h0M386.3 437h0M391.3 409h0M384.5 422h0M398.1 420h0M455.3 422h0M433.6 452h0M420.1 430h0M463.3 450h0M417.8 426h0M463.3 457h0M424.8 458h0M422.8 423h0M416.3 427h0M428.6 408h0M423.8 424h0M398.9 417h0M426.9 445h0M427.0 449h0M400.5 411h0M440.8 439h0M384.7 431h0M427.0 427h0M418.0 452h0M453.4 436h0M412.8 419h0M386.0 439h0M470.5 446h0M427.9 441h0M425.2 454h0M385.4 433h0M396.1 444h0M413.3 416h0M448.0 458h0M384.1 460h0M461.7 400h0M387.9 390h0M390.9 418h0M420.0 417h0M459.1 395h0M427.4 451h0M439.8 433h0M406.9 421h0M395.4 444h0M434.2 446h0M463.5 427h0M415.0 445h0M464.0 431h0M428.3 447h0M416.1 444h0M425.0 445h0M444.4 444h0M436.0 391h0M393.2 414h0M428.3 451h0M456.2 433h0M464.4 430h0M437.5 437h0M402.3 421h0M411.3 458h0M439.5 425h0M407.1 462h0M402.0 420h0M386.1 416h0M417.4 425h0M385.8 434h0M428.8 413h0M438.7 448h0M421.8 425h0M447.6 393h0M464.0 456h0M383.7 449h0M472.3 448h0M465.8 399h0M426.1 427h0M389.9 408h0M443.3 464h0M413.1 451h0M426.4 401h0M384.8 401h0M402.5 425h0M450.2 433h0M413.9 462h0M415.9 425h0M406.7 405h0M396.9 444h0M463.6 439h0M426.4 413h0M472.1 414h0M433.6 437h0M471.4 413h0M401.4 426h0M384.3 444h0M424.9 416h0M386.2 452h0M416.0 425h0M449.5 414h0M394.5 453h0M427.1 449h0M386.6 410h0M450.3 414h0M405.9 422h0M426.3 445h0M421.1 424h0M436.9 430h0M421.8 419h0M462.4 449h0M413.9 440h0M462.1 462h0M407.9 426h0M413.3 438h0M437.3 444h0M432.4 461h0M397.0 402h0M459.8 454h0M401.7 395h0M420.9 442h0M451.4 410h0M439.7 397h0M424.7 429h0M384.5 422h0M425.3 433h0M414.0 427h0M422.0 414h0M438.5 459h0M451.7 437h0M439.1 461h0M446.5 406h0M408.8 413h0M453.1 440h0M405.4 442h0M428.6 454h0" stroke="#3485bb" stroke-width="0.85" stroke-linecap="round" stroke-opacity="0.4" fill="none"/>
<path d="M385.8 384h0M458.8 451h0M449.3 451h0M420.2 445h0M460.4 437h0M439.7 446h0M455.3 448h0M383.9 429h0M428.0 469h0M444.6 452h0M458.6 460h0M445.8 412h0M460.5 456h0M454.3 444h0M448.0 399h0M406.8 427h0M456.8 422h0M398.0 426h0M384.7 437h0M398.6 464h0M473.2 441h0M473.4 425h0M430.7 458h0M383.8 432h0M441.1 417h0M451.2 396h0M434.9 447h0M425.4 435h0M419.9 445h0M421.2 436h0M430.0 448h0M448.2 440h0M427.3 444h0M433.3 466h0M421.0 437h0M411.1 456h0M386.6 421h0M437.6 423h0M399.1 433h0M456.6 435h0M463.2 424h0M405.1 453h0M457.4 435h0M452.8 449h0M444.3 440h0M386.1 446h0M412.7 420h0M398.7 463h0M444.5 386h0M440.8 448h0M435.4 430h0M417.7 453h0M395.0 427h0M403.2 444h0M414.3 432h0M428.7 437h0M449.2 388h0M437.0 461h0M401.4 441h0M427.0 405h0M384.5 422h0M464.2 427h0M424.5 438h0M401.6 448h0M397.1 402h0M462.0 416h0M396.2 411h0M428.1 434h0M424.6 448h0M389.5 447h0M434.5 421h0M460.5 443h0M452.8 390h0M394.6 468h0M428.7 436h0M454.6 443h0M384.0 424h0M442.6 449h0M452.0 403h0M463.5 445h0M390.1 437h0M461.7 434h0M465.8 436h0M410.7 419h0M453.2 398h0M435.7 446h0M442.8 403h0M439.5 433h0M460.3 457h0M426.4 391h0M402.6 394h0M464.1 406h0M412.8 416h0M412.2 413h0M386.4 455h0M384.7 397h0M401.7 414h0M434.9 460h0M446.9 402h0M463.6 411h0M413.9 431h0M441.5 451h0M445.8 411h0M426.3 464h0M415.9 456h0M435.6 421h0M468.0 399h0M384.3 436h0M414.5 427h0M445.7 435h0M405.7 423h0M389.8 407h0M466.1 461h0M451.5 438h0M472.8 431h0M472.7 443h0M455.0 454h0M442.5 454h0M396.1 453h0M460.2 439h0M460.1 464h0M391.9 452h0M459.1 445h0M389.4 424h0M416.1 459h0M462.7 407h0M424.9 439h0M428.2 457h0M464.3 462h0M446.5 417h0M394.8 395h0M422.0 451h0M387.2 405h0M467.5 417h0M427.3 461h0M384.6 397h0M441.4 436h0M394.5 441h0M462.8 435h0M449.7 430h0M421.9 428h0M443.1 438h0M421.7 457h0M438.7 393h0M396.7 423h0M447.7 412h0M406.8 445h0M429.1 415h0M457.3 400h0M421.1 444h0M437.1 436h0M427.3 423h0M432.4 413h0M426.8 419h0M452.1 465h0M415.7 403h0M416.3 427h0M397.3 463h0M400.3 452h0M403.6 454h0M395.5 421h0M450.3 430h0M383.7 436h0M415.0 442h0M386.6 402h0M396.2 427h0M402.0 453h0M438.7 451h0M426.8 413h0M402.6 433h0M417.6 403h0M463.6 423h0M393.3 417h0M399.6 391h0M398.3 437h0M450.0 415h0M420.3 433h0M434.1 405h0M387.8 431h0M428.1 410h0M458.0 425h0M430.4 448h0M435.1 421h0M462.0 420h0M458.0 393h0M394.9 443h0M399.1 455h0M387.3 427h0M410.2 430h0M457.9 438h0M422.8 437h0M429.0 434h0M466.0 399h0M407.4 438h0M424.8 439h0M427.2 419h0M399.7 426h0M472.9 416h0M385.5 451h0M406.9 408h0M437.0 386h0M427.3 423h0M458.6 452h0M454.7 441h0M397.0 430h0M419.6 413h0M460.6 456h0M410.6 411h0M426.8 458h0M393.6 421h0M396.4 457h0M447.4 432h0M449.9 461h0M430.5 438h0M400.5 401h0M420.3 458h0M456.4 405h0M418.0 442h0M403.9 385h0M445.0 426h0M429.6 429h0M402.4 426h0M401.7 446h0M428.9 398h0M463.4 407h0M437.6 423h0M384.1 454h0M398.7 422h0M414.1 429h0M436.8 415h0M426.4 441h0M442.7 409h0M462.8 436h0M389.9 432h0M398.0 424h0M449.3 406h0M427.0 428h0M388.3 457h0M391.5 457h0M458.6 395h0M450.3 394h0M445.0 421h0M406.0 436h0M434.2 437h0M396.4 446h0M442.6 444h0M394.7 400h0M386.2 401h0M446.6 431h0M384.7 438h0M435.4 426h0M426.2 404h0M438.0 403h0M458.1 433h0M398.1 441h0M401.5 426h0M400.1 418h0M395.2 464h0M450.3 446h0M409.5 413h0M391.2 417h0M427.1 399h0M437.1 423h0M424.3 447h0M401.8 387h0M398.3 451h0M424.7 410h0M401.9 410h0M428.8 454h0M398.6 434h0M472.2 421h0M449.7 455h0M412.1 434h0M434.5 422h0M392.8 462h0M463.9 445h0M390.2 438h0M394.4 465h0M383.7 406h0M451.8 450h0M446.0 463h0M446.8 398h0M416.1 443h0M410.6 417h0M437.2 402h0M453.6 394h0M388.1 453h0M455.1 451h0M440.2 432h0M446.4 394h0M396.8 448h0M394.8 412h0M416.1 397h0M430.8 459h0M437.9 413h0M459.0 426h0M463.9 453h0M433.7 437h0M465.9 444h0M412.2 422h0M401.8 451h0M399.6 439h0M423.4 387h0M463.3 443h0M406.2 461h0M395.4 418h0M458.4 427h0M433.3 444h0M430.7 426h0M386.6 422h0M438.7 431h0M430.8 423h0M452.1 445h0M467.3 439h0M467.1 466h0M462.7 410h0M460.9 444h0M456.6 438h0M401.6 404h0M403.8 422h0M423.2 441h0M436.2 416h0M395.4 446h0M386.3 411h0M446.4 427h0M456.5 407h0M465.5 425h0M395.4 417h0M419.7 434h0M423.3 434h0M386.0 415h0M430.6 434h0M399.6 415h0M387.5 404h0M463.7 434h0M396.1 441h0M457.5 454h0M458.1 432h0M473.3 415h0M386.0 435h0M472.7 395h0M410.7 394h0M449.8 420h0M458.7 414h0M467.3 391h0M455.1 425h0M448.5 398h0M386.6 421h0M414.3 416h0M395.0 443h0M412.1 428h0M401.5 440h0M425.1 468h0M398.7 416h0M395.2 440h0M456.4 442h0M389.7 425h0M447.7 426h0M419.7 423h0M457.4 433h0M460.5 417h0M455.4 418h0M438.8 452h0M444.2 387h0M458.7 415h0M405.3 453h0M426.9 425h0M453.4 408h0M426.8 452h0M384.4 436h0M413.0 409h0M401.4 467h0M419.7 435h0M441.3 405h0M426.3 423h0M408.4 400h0M435.9 450h0M384.4 449h0M384.4 418h0M396.7 450h0M433.6 407h0M435.2 422h0M393.3 458h0M465.9 401h0M444.8 387h0M420.9 413h0M404.9 437h0M465.4 437h0M395.4 459h0M462.1 418h0M395.4 426h0M400.3 439h0M441.6 422h0M386.6 436h0M437.6 417h0M397.0 420h0M434.0 396h0M455.4 440h0M425.2 408h0M440.2 430h0M410.7 441h0M401.3 417h0M463.2 446h0M456.7 410h0M433.8 388h0M438.0 428h0M401.3 421h0M454.5 426h0M452.1 444h0M383.7 435h0M384.7 395h0M432.2 408h0M399.6 408h0M414.4 420h0M405.6 418h0M421.8 447h0M449.1 435h0M444.3 448h0M474.7 456h0M453.6 437h0M386.2 448h0M419.3 418h0M395.4 389h0M449.5 403h0M438.7 459h0M455.6 416h0M394.5 447h0M397.4 444h0M419.2 435h0M410.3 384h0M426.8 440h0M440.3 432h0M430.6 456h0M428.1 431h0M442.5 446h0M402.4 446h0M389.8 427h0M391.5 435h0M467.7 413h0M416.2 389h0M459.7 449h0M386.0 447h0M408.0 419h0M437.8 443h0M440.5 409h0M446.6 424h0M419.1 434h0M400.1 425h0M423.0 440h0M425.6 401h0M427.4 430h0M386.5 448h0M421.9 427h0M406.1 438h0M418.2 440h0M454.7 408h0M436.3 407h0M401.5 434h0M464.6 437h0M397.2 449h0M467.2 428h0M449.3 450h0M437.5 458h0M399.0 438h0M394.7 414h0M464.2 403h0M398.0 410h0M397.2 442h0M471.4 455h0M386.1 455h0M415.1 409h0M437.4 445h0M385.5 436h0M443.3 433h0M430.8 459h0M445.6 414h0M433.9 450h0M400.2 417h0M417.7 416h0M410.4 442h0M389.8 417h0M435.7 409h0M431.5 415h0M444.5 465h0M429.1 393h0M402.3 395h0M390.9 430h0M422.6 412h0M433.9 425h0M385.8 458h0M424.8 416h0M434.4 419h0M464.3 393h0M433.8 443h0M383.7 433h0M398.3 444h0M440.2 419h0M446.2 425h0M445.6 439h0M435.6 449h0M389.2 404h0M388.3 407h0M441.5 428h0M453.8 468h0M385.6 460h0M400.1 447h0M392.9 410h0M436.1 421h0M397.4 456h0M384.0 454h0M446.1 426h0M396.6 449h0M412.5 413h0M423.3 464h0M444.1 426h0M449.1 414h0M450.9 420h0M453.6 442h0M466.3 436h0M414.9 428h0M386.7 432h0M460.0 421h0M418.5 448h0M416.6 426h0M405.7 444h0M427.4 400h0M463.5 418h0M400.4 432h0M459.9 436h0M416.4 425h0M393.3 412h0M391.8 447h0M440.6 407h0M439.3 419h0M384.6 389h0M441.1 398h0M415.0 442h0M389.9 442h0M386.0 456h0M458.1 423h0M443.2 415h0M383.7 413h0M429.2 405h0M386.5 425h0M389.7 445h0M445.9 424h0M386.4 468h0M406.1 415h0M456.4 407h0M428.5 423h0M385.9 440h0M464.2 468h0M467.6 441h0M419.1 432h0M426.7 427h0M453.2 435h0M446.0 409h0M420.8 406h0M437.2 436h0M432.4 450h0M444.2 433h0M437.8 468h0M457.2 454h0M430.0 395h0M459.2 398h0M431.6 440h0M386.0 443h0M397.4 421h0M386.5 449h0M430.1 428h0M402.2 453h0M411.1 416h0M465.7 431h0M437.3 440h0M426.6 425h0M383.8 407h0M386.8 432h0M403.9 434h0M421.8 416h0M433.1 441h0M459.1 411h0M396.6 447h0M395.1 441h0M384.8 402h0M453.8 451h0M400.6 407h0M467.1 459h0M454.7 423h0M414.5 429h0M453.7 437h0M400.0 408h0M398.9 445h0M398.4 434h0M449.3 432h0M458.6 418h0M435.2 445h0M458.8 455h0M458.9 417h0M392.0 431h0M450.3 419h0M442.8 424h0M427.8 451h0M437.2 440h0M469.5 451h0M439.7 428h0M456.1 442h0M457.9 434h0M412.3 431h0M383.7 431h0M445.7 401h0M401.8 433h0M424.9 457h0M426.4 437h0M437.2 448h0M421.9 408h0M420.0 439h0M463.4 439h0M469.8 428h0M461.4 401h0M436.8 408h0M435.1 449h0M460.9 424h0M415.0 397h0M441.1 434h0M383.8 437h0M421.3 385h0M448.5 452h0M402.4 414h0M396.3 393h0M437.8 441h0M453.7 448h0M392.8 446h0M401.6 424h0M412.1 449h0M388.4 391h0M426.1 398h0M383.9 417h0M426.1 403h0M405.8 440h0M426.1 416h0M446.0 444h0M454.4 424h0M434.4 405h0M421.5 434h0M399.8 430h0M399.8 439h0M404.4 419h0M385.9 431h0M436.9 443h0M404.0 430h0M439.4 437h0M474.8 402h0M438.0 447h0M431.4 460h0M463.8 432h0M452.0 418h0M405.1 398h0M439.2 466h0M414.8 447h0M445.1 412h0M474.5 435h0M415.9 449h0M451.4 430h0M430.6 451h0M433.7 421h0M384.8 442h0M451.7 419h0M464.1 439h0M463.3 436h0M435.0 404h0M386.5 446h0M446.8 415h0M413.7 424h0M420.0 451h0M424.6 454h0M419.1 437h0M401.5 452h0M385.7 409h0M398.5 426h0M392.9 439h0M446.1 443h0M439.4 435h0M428.2 446h0M414.0 465h0M401.9 393h0M468.5 417h0M389.4 455h0M412.4 438h0M455.6 427h0M412.5 430h0M445.7 463h0M430.5 464h0M385.9 451h0M463.6 441h0M397.0 445h0M448.0 422h0M394.9 465h0M443.1 389h0M410.2 391h0M383.8 423h0M437.2 433h0M428.0 445h0M448.3 432h0M396.1 443h0M393.1 426h0M428.2 405h0M460.3 437h0M437.4 460h0M456.6 466h0M435.1 431h0M447.6 420h0M465.2 405h0M458.4 435h0M391.0 420h0M465.5 441h0M420.1 446h0M426.5 394h0M464.1 413h0M431.9 457h0M437.4 422h0M396.5 443h0M468.9 457h0M389.3 407h0M427.3 448h0M453.8 452h0M413.8 450h0M464.1 410h0M411.9 388h0M430.3 400h0M407.7 434h0M458.0 441h0M454.8 432h0M424.8 442h0M430.6 468h0M389.5 448h0M408.8 407h0M459.1 428h0M460.7 410h0M455.5 412h0M430.7 391h0M458.2 420h0M388.4 400h0M443.1 435h0M419.7 409h0M400.3 465h0M429.2 407h0M424.7 421h0M449.7 462h0M413.8 391h0M444.4 444h0M420.2 402h0M451.7 430h0M389.9 441h0M463.4 459h0M385.7 418h0M463.6 397h0M461.8 433h0M408.5 402h0M459.8 461h0M450.0 444h0M405.3 437h0M410.3 458h0M410.9 449h0M406.6 406h0M421.1 385h0M453.4 431h0M452.6 426h0M405.4 459h0M442.6 419h0M394.6 439h0M461.5 422h0M421.6 427h0M441.0 426h0M395.6 407h0M420.2 452h0M458.0 460h0M384.1 450h0M387.3 431h0M465.0 407h0M414.5 423h0M399.6 426h0M440.7 431h0M463.7 392h0M431.6 454h0M394.3 464h0M431.9 445h0M441.0 436h0M414.0 440h0M443.9 419h0M445.6 405h0M400.3 446h0M465.3 407h0M405.9 416h0M420.1 461h0M384.8 400h0M426.4 419h0M400.5 463h0M428.3 437h0M423.4 425h0M467.6 409h0M444.0 422h0M386.5 407h0M400.0 462h0M451.6 445h0M385.8 431h0M418.0 418h0M419.9 447h0M442.8 422h0M464.3 428h0M430.8 447h0M413.3 403h0M441.6 407h0M427.3 428h0M391.9 409h0M444.6 439h0M439.6 398h0M449.2 437h0M400.8 419h0M464.0 446h0M385.5 407h0M399.0 422h0M427.4 457h0M414.7 402h0M395.0 429h0M389.0 443h0M456.8 423h0M437.8 444h0M403.7 453h0M391.2 430h0M464.9 401h0M468.6 413h0M391.6 431h0M398.6 438h0M427.1 420h0M415.7 423h0M450.1 430h0M394.5 435h0M443.3 453h0M398.8 435h0M437.6 413h0M424.5 399h0M462.8 423h0M415.0 422h0M449.6 428h0M448.2 419h0M459.7 422h0M437.3 432h0M446.8 423h0M446.7 403h0M414.4 423h0M398.4 437h0M432.6 444h0M424.6 401h0M383.7 456h0M470.7 432h0M434.4 460h0M383.9 441h0M464.4 439h0M424.5 430h0M386.1 434h0M430.7 428h0M384.6 446h0M385.5 453h0M425.5 426h0M423.1 441h0M467.3 409h0M428.6 415h0M407.3 396h0M400.7 445h0M430.9 451h0M419.4 465h0M415.5 408h0M391.0 440h0M398.6 440h0M437.8 451h0M474.7 398h0M424.3 400h0M469.5 426h0M388.3 428h0M454.5 440h0M386.4 454h0M435.2 436h0M465.4 400h0M464.5 413h0M427.9 443h0M425.1 428h0M389.9 458h0M411.2 401h0M420.8 393h0M466.9 430h0M463.2 434h0M429.6 416h0M442.4 467h0M463.7 459h0M398.7 444h0M458.4 450h0M427.0 441h0M395.4 463h0M424.5 451h0M412.8 435h0M386.1 431h0M415.7 405h0M453.5 392h0M470.3 452h0M437.3 435h0M458.4 435h0M429.7 426h0M441.2 413h0M428.9 418h0M470.9 411h0M455.7 451h0M446.8 395h0M454.8 427h0M454.3 409h0M427.3 397h0M454.8 418h0M470.2 461h0M458.3 414h0M401.9 424h0M412.7 392h0M466.2 422h0M388.5 421h0M393.2 466h0M392.8 425h0M400.1 405h0M424.3 411h0M405.3 431h0M406.2 458h0M446.3 431h0M409.8 431h0M439.6 460h0M433.7 444h0M425.6 407h0M438.8 456h0M404.9 427h0M400.2 458h0M435.5 400h0M421.0 402h0M423.8 399h0M453.5 436h0M454.4 458h0M397.9 409h0M455.0 424h0M401.8 408h0M387.5 450h0M455.3 452h0M427.9 425h0M400.2 385h0M431.4 454h0M385.0 431h0M402.6 420h0M426.5 439h0M394.9 422h0M385.5 449h0M386.6 428h0M411.1 404h0M460.6 436h0M425.3 404h0M394.4 436h0M387.7 438h0M424.5 430h0M407.9 405h0M437.9 436h0M400.2 396h0M442.1 434h0M405.7 407h0M460.0 405h0M446.9 448h0M455.0 419h0M455.7 436h0M454.9 453h0M399.8 454h0M463.4 425h0M387.5 420h0M437.4 415h0M471.6 456h0M445.0 454h0M411.3 409h0M394.5 410h0M385.6 440h0M427.3 448h0M427.1 450h0M455.4 444h0M463.7 428h0M445.5 414h0M413.2 454h0M446.8 444h0M472.2 465h0M421.7 464h0M433.6 393h0M400.9 458h0M443.0 448h0M394.6 385h0M404.8 421h0M399.7 447h0M398.3 439h0M384.0 419h0M452.6 425h0M469.4 422h0M423.8 409h0M413.1 443h0M467.4 424h0M402.3 459h0M385.9 443h0M396.7 418h0M427.0 432h0M446.3 424h0M423.0 453h0M400.8 456h0M401.3 464h0M465.4 446h0M465.2 441h0M425.4 450h0M394.4 389h0M446.6 388h0M384.5 450h0M383.6 412h0M398.7 418h0M401.8 440h0M389.7 398h0M449.8 440h0M401.8 457h0M390.2 446h0M432.6 431h0M428.1 466h0M384.2 403h0M466.9 463h0M463.3 451h0M386.4 409h0M437.5 447h0M444.0 398h0M436.2 464h0M425.6 466h0M383.9 387h0" stroke="#e6a52e" stroke-width="0.85" stroke-linecap="round" stroke-opacity="0.4" fill="none"/>
<path d="M440.2 450h0M444.5 421h0M383.9 402h0M444.2 460h0M451.2 434h0M422.5 405h0M451.4 463h0M437.0 399h0M435.8 412h0M424.3 467h0M405.7 447h0M441.3 445h0M472.5 442h0M405.1 414h0M414.4 423h0M437.9 427h0M429.6 400h0M393.1 424h0M436.0 405h0M456.2 406h0M427.2 442h0M442.6 437h0M451.7 404h0M437.0 421h0M412.8 422h0M390.7 424h0M399.0 422h0M383.8 445h0M465.7 431h0M398.9 443h0M436.1 426h0M402.6 421h0M425.3 434h0M385.6 455h0M412.1 385h0M427.1 413h0M464.3 445h0M390.3 446h0M429.8 445h0M412.6 443h0M384.2 424h0M426.4 450h0M434.3 444h0M463.9 446h0M385.4 420h0M384.5 426h0M386.4 428h0M398.7 442h0M457.0 466h0M464.4 424h0M414.4 438h0M434.2 466h0M384.4 416h0M405.0 430h0M437.8 396h0M427.1 438h0M442.4 409h0M454.8 396h0M426.8 444h0M446.4 468h0M438.5 407h0M427.1 430h0M394.7 391h0M443.2 433h0M425.4 436h0M419.4 434h0M456.4 438h0M402.3 406h0M390.2 412h0M458.9 409h0M455.6 426h0M419.8 453h0M442.5 431h0M458.6 435h0M399.7 460h0M414.9 460h0M385.6 440h0M428.6 424h0M406.2 463h0M393.6 446h0M421.6 444h0M401.9 449h0M420.1 433h0M385.0 439h0M466.8 455h0M447.9 448h0M421.3 462h0M397.4 420h0M385.4 450h0M425.6 466h0M393.3 425h0M435.0 444h0M425.3 431h0M434.3 409h0M426.4 454h0M457.4 391h0M463.5 461h0M460.0 445h0M469.6 426h0M449.2 400h0M435.1 430h0M419.8 426h0M401.4 410h0M409.1 447h0M413.7 443h0M442.3 416h0M457.2 429h0M407.5 405h0M401.8 453h0M423.6 438h0M424.3 445h0M384.2 388h0M442.6 435h0M452.9 456h0M408.0 461h0M430.0 450h0M468.1 466h0M442.8 415h0M401.4 460h0M443.8 446h0M453.9 460h0M467.1 386h0M389.1 462h0M414.7 439h0M425.2 425h0M424.9 422h0M433.8 404h0M383.9 415h0M389.6 420h0M434.4 432h0M405.0 387h0M407.2 447h0M433.5 428h0M400.6 395h0M453.7 410h0M426.3 444h0M423.0 448h0M466.2 435h0M397.4 449h0M407.6 418h0M415.8 452h0M393.0 408h0M384.2 457h0M443.1 414h0M420.1 453h0M436.7 394h0M417.9 451h0M412.2 449h0M406.0 430h0M457.4 432h0M435.6 402h0M429.7 464h0M417.7 434h0M466.9 449h0M395.5 393h0M445.7 435h0M459.9 437h0M426.6 419h0M419.9 462h0M455.4 414h0M400.6 429h0M462.0 435h0M451.0 403h0M440.7 446h0M467.6 441h0M472.2 402h0M456.3 426h0M421.2 429h0M425.0 441h0M385.0 452h0M466.1 414h0M386.2 402h0M438.9 434h0M384.8 421h0M472.1 441h0M442.6 440h0M405.7 451h0M398.4 385h0M464.3 437h0M438.9 417h0M461.9 453h0M444.7 388h0M429.0 436h0M456.3 436h0M390.2 442h0M396.3 419h0M447.4 426h0M387.4 415h0M404.2 440h0M427.3 438h0M445.9 431h0M433.7 450h0M436.0 449h0M455.2 407h0M416.0 421h0M447.3 424h0M467.9 418h0M463.3 441h0M384.3 431h0M463.6 426h0M471.0 428h0M423.7 430h0M395.3 438h0M433.6 453h0M402.4 425h0M469.1 418h0M471.5 437h0M443.2 458h0M466.0 458h0M395.3 400h0M445.7 449h0M449.6 420h0M433.2 458h0M435.1 402h0M424.4 435h0M389.4 433h0M398.4 446h0M426.1 426h0M386.6 435h0M433.9 458h0M455.2 388h0M450.4 460h0M458.1 396h0M384.1 397h0M392.6 438h0M427.9 448h0M426.5 438h0M421.8 424h0M443.9 447h0M465.2 461h0M466.9 437h0M426.9 418h0M466.3 416h0M399.8 442h0M386.0 440h0M410.7 424h0M426.5 412h0M439.4 460h0M414.2 457h0M414.1 457h0M458.8 438h0M419.9 455h0M430.0 411h0M425.2 449h0M442.0 436h0M425.3 454h0M435.3 459h0M454.6 456h0M418.4 457h0M386.4 421h0M394.8 418h0M420.8 441h0M423.8 445h0M403.8 427h0M447.9 458h0M435.7 442h0M460.7 394h0M425.5 462h0M443.3 455h0M464.3 428h0M419.6 456h0M458.8 431h0M404.2 440h0M398.5 446h0M386.2 407h0M457.1 412h0M427.8 454h0M442.5 452h0M394.7 439h0M449.5 426h0M424.5 432h0M441.0 468h0M435.7 431h0M385.9 443h0M456.2 425h0M400.8 432h0M436.8 402h0M395.0 406h0M403.3 404h0M450.2 441h0M428.9 442h0M464.1 432h0M386.0 407h0M460.8 445h0M433.9 441h0M384.2 457h0M426.6 451h0M400.1 420h0M415.0 389h0M444.0 433h0M451.4 454h0M402.7 421h0M386.6 385h0M460.9 436h0M453.9 458h0M433.2 431h0M442.7 445h0M387.5 428h0M386.6 434h0M443.3 450h0M463.7 438h0M426.1 423h0M413.8 453h0M426.1 439h0M431.7 403h0M468.0 423h0M396.3 434h0M385.9 412h0M407.7 450h0M436.0 447h0M453.6 417h0M388.4 405h0M398.2 427h0M441.0 430h0M413.3 418h0M427.2 459h0M421.5 442h0M470.5 427h0M389.2 441h0M428.8 425h0M462.3 413h0M463.6 433h0M383.9 454h0M420.0 430h0M405.7 458h0M389.2 440h0M455.0 451h0M425.2 444h0M394.6 429h0M443.2 416h0M393.4 424h0M463.4 439h0M471.5 426h0M384.6 418h0M453.7 409h0M440.7 441h0M410.5 459h0M392.9 464h0M444.5 412h0M406.2 438h0M423.2 402h0M429.0 411h0M469.7 443h0M424.9 462h0M441.0 443h0M412.2 459h0M413.8 436h0M407.1 464h0M385.7 385h0M453.4 411h0M409.2 425h0M396.1 422h0M425.0 448h0M451.0 439h0M448.0 401h0M403.4 394h0M406.0 425h0M391.8 417h0M421.6 423h0M425.2 431h0M428.0 464h0M472.7 424h0M401.4 448h0M435.5 409h0M427.3 416h0M388.3 461h0M466.8 410h0M394.9 401h0M423.1 415h0M386.8 452h0M394.5 429h0M435.7 404h0M453.6 435h0M404.2 441h0M386.3 450h0M414.2 399h0M416.5 418h0M400.0 450h0M465.1 420h0M409.4 424h0M426.5 435h0M430.0 443h0M406.8 401h0M443.9 441h0M471.3 410h0M428.9 430h0M464.2 464h0M414.6 432h0M402.0 425h0M467.3 462h0M460.0 425h0M446.3 444h0M453.4 449h0M397.1 413h0M384.7 453h0M402.6 431h0M467.4 433h0M428.4 413h0M391.2 419h0M389.8 403h0M463.9 430h0M453.5 403h0M458.6 413h0M391.8 431h0M401.7 457h0M426.4 452h0M463.4 459h0M396.4 440h0M402.1 401h0M394.8 409h0M423.1 440h0M418.3 458h0M429.2 458h0M435.9 425h0M427.1 458h0M458.9 396h0M440.3 410h0M419.3 443h0M399.6 457h0M442.9 393h0M388.4 388h0M414.8 422h0M384.4 412h0M451.2 442h0M458.1 447h0M442.4 437h0M463.5 430h0M460.9 453h0M411.0 441h0M392.7 440h0M457.1 457h0M429.0 434h0M407.8 422h0M465.4 405h0M428.3 397h0M420.0 422h0M411.2 439h0M424.4 431h0M397.2 439h0M425.6 458h0M391.7 439h0M390.9 451h0M425.1 454h0M403.6 441h0M391.5 442h0M426.9 421h0M405.2 443h0M405.9 430h0M400.7 410h0M405.8 388h0M402.1 426h0M445.1 451h0M394.5 433h0M428.4 442h0M424.8 425h0M391.2 462h0M411.0 444h0M455.3 432h0M426.2 456h0M427.1 426h0M384.3 428h0M426.4 426h0M428.0 462h0M464.6 446h0M383.9 413h0M459.0 418h0M419.0 441h0M450.3 422h0M413.7 391h0M390.0 457h0M437.2 413h0M426.7 468h0M426.5 462h0M445.9 398h0M449.3 426h0M461.9 401h0M400.6 396h0M462.0 448h0M392.9 448h0M425.6 411h0M449.7 458h0M430.2 443h0M426.7 404h0M397.3 435h0M396.3 458h0M456.7 415h0M393.1 416h0M447.9 392h0M406.9 420h0M425.1 400h0M440.4 465h0M414.7 448h0M395.4 449h0M466.3 441h0M437.8 402h0M421.8 421h0M413.3 436h0M433.4 463h0M442.8 449h0M418.2 423h0M412.3 421h0M466.0 418h0M421.4 450h0M463.7 399h0M428.2 438h0M453.9 429h0M435.3 430h0M411.9 423h0M406.1 457h0M385.0 407h0M431.8 405h0M467.1 425h0M427.8 439h0M440.6 464h0M436.7 392h0M468.9 397h0M427.9 456h0M464.3 425h0M427.0 428h0M447.4 438h0M461.4 438h0M451.7 426h0M459.8 443h0M410.8 452h0M407.3 442h0M426.2 432h0M426.1 458h0M451.0 454h0M445.1 426h0M442.0 390h0M466.9 413h0M393.8 427h0M401.5 437h0M408.6 457h0M426.8 455h0M405.4 436h0M458.9 448h0M396.4 447h0M404.2 397h0M384.1 431h0M422.0 451h0M472.7 428h0M451.6 445h0M390.8 424h0M437.9 430h0M416.1 443h0M431.4 443h0M455.4 423h0M439.4 440h0M430.3 462h0M405.4 437h0M416.0 384h0M464.4 409h0M437.5 439h0M453.0 413h0M426.9 395h0M426.2 408h0M469.6 444h0M421.6 463h0M398.5 408h0M462.2 433h0M425.4 441h0M438.7 422h0M442.2 431h0M435.5 429h0M439.6 436h0M387.3 440h0M400.8 435h0M405.7 434h0M449.4 465h0M400.3 430h0M458.0 425h0M432.4 458h0M384.0 441h0M440.2 454h0M414.1 465h0M419.9 400h0M437.1 455h0M445.8 420h0M391.9 457h0M441.1 427h0M458.2 447h0M427.1 461h0M446.2 408h0M426.4 436h0M442.9 462h0M395.6 442h0M470.4 430h0M402.5 411h0M414.1 426h0M472.6 424h0M385.9 435h0M433.9 450h0M423.7 411h0M400.2 415h0M441.3 466h0M459.7 401h0M444.2 406h0M470.5 439h0M405.7 443h0M459.2 448h0M386.6 419h0M450.3 392h0M462.8 439h0M440.4 447h0M454.0 447h0M389.2 453h0M442.4 416h0M425.4 392h0M386.2 442h0M427.9 459h0M418.1 445h0M433.7 410h0M475.0 437h0M449.7 445h0M434.0 448h0M398.0 420h0M464.3 430h0M402.4 446h0M432.5 450h0M412.8 452h0M462.6 410h0M460.1 454h0M405.4 436h0M429.0 443h0M394.4 464h0M421.5 400h0M453.5 418h0M425.1 432h0M404.9 453h0M424.6 449h0M426.4 423h0M384.9 416h0M389.5 398h0M433.4 411h0M437.3 444h0M416.8 419h0M384.2 450h0M472.7 413h0M388.3 429h0M383.7 433h0M450.2 456h0M463.8 441h0M408.0 425h0M392.5 431h0M453.7 423h0M460.7 432h0M448.1 440h0M442.5 454h0M418.0 394h0M389.9 435h0M435.8 440h0M425.6 435h0M470.4 406h0M393.4 446h0M456.1 412h0M389.6 466h0M420.3 432h0M397.3 424h0M454.5 424h0M395.1 434h0M410.2 466h0M426.1 422h0M428.9 467h0M429.1 431h0M412.4 417h0M456.6 417h0M434.1 443h0M451.7 446h0M455.4 449h0M389.6 423h0M431.8 466h0M406.1 433h0M446.5 431h0M400.9 384h0M384.2 443h0M457.2 466h0M409.5 458h0M418.5 439h0M466.0 447h0M384.9 392h0M419.9 446h0M424.3 392h0M446.7 439h0M409.2 459h0M385.7 418h0M453.3 455h0M431.5 403h0M400.8 445h0M426.6 418h0M456.5 428h0M426.1 414h0M393.7 467h0M383.7 432h0M421.1 419h0M394.8 408h0M384.2 427h0M398.2 434h0M425.0 385h0M402.1 453h0M396.4 429h0M400.2 468h0M403.2 406h0M446.1 440h0M409.5 410h0M421.8 416h0M385.4 448h0M463.3 417h0M404.0 434h0M395.0 468h0M395.4 412h0M427.2 466h0M414.2 432h0M405.3 407h0M426.6 428h0M434.1 452h0M428.4 460h0M424.3 440h0M407.7 432h0M426.2 441h0M428.9 413h0M465.5 433h0M384.3 430h0M464.0 419h0M414.2 447h0M456.5 413h0M400.7 404h0M433.6 462h0M426.4 427h0M454.5 424h0M432.6 454h0M399.8 448h0M409.0 452h0M465.4 435h0M458.1 455h0M457.3 442h0M405.9 432h0M461.0 444h0M397.0 431h0M469.6 409h0M401.7 429h0M401.8 439h0M426.4 428h0M447.7 447h0M450.9 424h0M428.6 427h0M406.9 426h0M426.9 428h0M419.5 439h0M426.9 409h0M406.8 450h0M421.2 443h0M421.2 459h0M429.1 431h0M397.3 430h0M426.9 435h0M433.8 410h0M457.2 465h0M456.9 434h0M469.5 425h0M400.7 409h0M434.1 407h0M413.9 421h0M407.5 411h0M414.8 439h0M458.1 416h0M425.0 395h0M415.7 385h0M384.5 455h0M425.2 422h0M468.6 398h0M426.4 428h0M424.6 445h0M394.9 396h0M458.1 441h0M425.3 412h0M432.7 446h0M441.2 447h0M424.6 413h0M421.8 435h0M402.3 440h0M404.3 439h0M427.1 426h0M408.9 459h0M384.5 438h0M466.2 455h0M407.7 432h0M419.9 448h0M412.8 394h0M391.7 429h0M467.6 399h0M410.7 435h0M468.1 395h0M391.3 406h0M395.1 397h0M387.4 445h0M463.4 425h0M456.8 463h0M412.4 421h0M426.4 418h0M397.0 456h0M437.1 412h0M442.7 411h0M413.8 463h0M397.9 432h0M466.8 438h0M414.2 417h0M457.5 401h0M427.3 463h0M399.9 453h0M431.8 404h0M397.0 464h0M449.7 428h0M413.7 440h0M428.1 410h0M435.3 464h0M391.5 464h0M452.8 452h0M400.5 392h0M450.3 463h0M419.1 454h0M412.9 448h0M451.4 425h0M458.4 415h0M409.3 398h0M434.0 462h0M386.4 423h0M430.4 441h0M437.4 439h0M405.3 430h0M436.0 463h0M448.6 399h0M442.5 413h0M459.0 459h0M442.0 464h0M430.6 422h0M466.0 428h0M463.3 418h0M445.7 458h0M438.5 434h0M435.2 431h0M405.3 436h0M405.1 457h0M425.2 403h0M426.2 441h0M412.1 406h0M427.9 465h0M464.0 458h0M434.1 440h0M384.6 395h0M456.5 411h0M465.3 408h0M389.9 463h0M395.3 455h0M444.0 430h0M437.0 424h0M449.7 407h0M425.5 454h0M449.4 409h0M454.6 462h0M395.4 439h0M400.1 427h0M417.4 412h0M458.4 438h0M429.6 403h0M445.1 406h0M428.3 420h0M422.8 436h0M442.8 460h0M420.4 461h0M388.5 443h0M420.0 421h0M438.0 422h0M385.5 407h0M401.8 397h0M399.5 423h0M395.1 419h0M461.8 459h0M421.2 440h0M386.5 401h0M468.5 429h0M446.7 384h0M471.3 408h0M426.1 439h0M414.0 433h0M408.6 432h0M465.3 453h0M398.5 460h0M406.2 434h0M386.6 398h0M389.7 435h0M461.5 433h0M409.3 451h0M441.4 447h0M474.1 428h0M426.4 441h0M430.0 440h0M420.8 434h0M429.1 444h0M390.1 422h0M444.5 448h0M404.9 417h0M441.0 442h0M448.2 444h0M416.5 433h0M385.5 459h0M389.3 401h0M391.7 407h0M387.6 437h0M441.0 451h0M392.1 451h0M451.0 463h0M398.7 430h0M397.9 438h0M426.9 421h0M435.7 437h0M458.2 467h0M435.3 413h0M407.0 424h0M458.9 427h0M443.8 435h0M416.5 435h0M431.8 443h0M438.8 433h0M462.3 444h0M421.1 441h0M385.6 433h0M427.2 424h0M426.9 429h0M385.4 458h0M429.2 454h0M428.0 456h0M419.8 439h0M402.5 467h0M398.4 429h0M389.5 440h0M391.2 407h0M394.3 451h0M395.2 466h0M400.6 459h0M450.8 457h0M421.2 415h0M426.7 434h0M456.9 453h0M421.5 426h0M389.6 404h0M439.2 441h0M400.3 427h0M439.1 437h0M446.5 457h0M456.3 412h0M444.6 433h0M460.3 462h0M424.9 410h0M422.6 460h0M446.3 448h0M442.3 390h0M429.6 407h0M462.4 402h0M386.2 450h0M428.1 449h0M469.6 442h0M464.1 402h0M456.7 449h0M399.9 431h0M386.4 415h0M424.6 415h0M419.5 436h0M396.6 427h0M424.8 452h0M439.7 461h0M383.8 442h0M384.5 449h0M450.9 416h0M393.3 456h0M425.5 447h0M433.9 417h0M427.3 427h0M464.4 412h0M413.3 445h0M383.7 454h0M461.8 449h0M428.5 421h0M414.4 434h0M433.3 466h0M473.0 438h0M396.9 388h0M414.4 460h0M457.1 451h0M459.3 393h0M411.5 427h0M438.8 436h0M422.1 442h0M434.0 443h0M458.3 457h0M411.4 404h0M411.0 461h0M471.2 431h0M456.8 464h0M416.2 403h0M395.4 433h0M403.4 415h0M438.8 446h0M409.5 455h0M443.2 428h0M417.8 431h0M386.7 449h0M441.5 395h0M457.9 437h0M404.9 426h0M405.9 448h0M458.9 465h0M406.0 414h0M434.4 411h0M421.8 451h0M405.6 392h0M420.9 433h0M397.8 439h0M468.9 461h0M410.9 436h0M437.3 454h0M439.8 420h0M463.7 455h0M458.7 429h0M425.3 417h0M410.5 398h0M394.5 441h0M411.3 409h0M402.7 431h0M385.7 463h0M417.5 447h0M385.8 438h0M450.4 434h0M400.3 414h0" stroke="#a8323a" stroke-width="0.85" stroke-linecap="round" stroke-opacity="0.4" fill="none"/>
<polygon points="384.3,428.6 389.4,428.6 394.4,428.6 399.4,428.6 404.5,428.6 409.5,428.6 414.5,428.6 419.6,428.5 424.6,428.5 429.7,428.5 434.7,428.5 439.7,428.4 444.8,428.4 449.8,428.3 454.8,428.3 459.9,428.2 464.9,428.2 470.0,428.1 475.0,428.0 480.0,428.0 485.1,427.9 485.1,428.7 480.0,428.7 475.0,428.7 470.0,428.7 464.9,428.7 459.9,428.7 454.8,428.7 449.8,428.8 444.8,428.8 439.7,428.8 434.7,428.9 429.7,428.9 424.6,428.9 419.6,429.0 414.5,429.0 409.5,429.1 404.5,429.1 399.4,429.2 394.4,429.3 389.4,429.3 384.3,429.4" fill="#e6a52e" fill-opacity="0.3"/>
<line x1="384.32" y1="429.01" x2="485.07" y2="428.30" stroke="#e6a52e" stroke-width="1.0"/>
<polygon points="384.3,430.3 389.4,430.3 394.4,430.3 399.4,430.3 404.5,430.3 409.5,430.3 414.5,430.3 419.6,430.3 424.6,430.3 429.7,430.2 434.7,430.2 439.7,430.2 444.8,430.2 449.8,430.1 454.8,430.1 459.9,430.0 464.9,430.0 470.0,429.9 475.0,429.8 480.0,429.8 485.1,429.7 485.1,430.5 480.0,430.5 475.0,430.5 470.0,430.5 464.9,430.5 459.9,430.5 454.8,430.5 449.8,430.6 444.8,430.6 439.7,430.6 434.7,430.6 429.7,430.7 424.6,430.7 419.6,430.7 414.5,430.8 409.5,430.8 404.5,430.9 399.4,430.9 394.4,431.0 389.4,431.1 384.3,431.1" fill="#3485bb" fill-opacity="0.3"/>
<line x1="384.32" y1="430.72" x2="485.07" y2="430.12" stroke="#3485bb" stroke-width="1.0"/>
<polygon points="384.3,431.9 389.4,431.9 394.4,432.0 399.4,432.0 404.5,432.0 409.5,432.0 414.5,432.0 419.6,431.9 424.6,431.9 429.7,431.9 434.7,431.9 439.7,431.9 444.8,431.8 449.8,431.8 454.8,431.8 459.9,431.7 464.9,431.7 470.0,431.6 475.0,431.6 480.0,431.5 485.1,431.4 485.1,432.2 480.0,432.2 475.0,432.2 470.0,432.2 464.9,432.2 459.9,432.2 454.8,432.2 449.8,432.2 444.8,432.2 439.7,432.3 434.7,432.3 429.7,432.3 424.6,432.3 419.6,432.4 414.5,432.4 409.5,432.5 404.5,432.5 399.4,432.6 394.4,432.6 389.4,432.7 384.3,432.7" fill="#a8323a" fill-opacity="0.3"/>
<line x1="384.32" y1="432.34" x2="485.07" y2="431.83" stroke="#a8323a" stroke-width="1.0"/>
<text x="0" y="0" font-size="9.5" font-weight="bold" fill="#000" stroke="#000" stroke-width="0.08" transform="translate(22.10 262.00) rotate(-90) scale(1 1.2)">Females</text>
<text x="0" y="0" font-size="9.5" font-weight="bold" fill="#000" stroke="#000" stroke-width="0.08" transform="translate(21.90 435.50) rotate(-90) scale(1 1.2)">Males</text>
<text x="186.00" y="333.10" font-size="6.46" fill="#1a1a1a" stroke="#1a1a1a" stroke-width="0.04">Model</text>
<rect x="207.1" y="323.1" width="15.6" height="15.5" fill="#cfe9fb"/>
<line x1="208.6" y1="330.8" x2="221.2" y2="330.8" stroke="#7cc6f5" stroke-width="1.1"/>
<circle cx="214.9" cy="330.8" r="0.9" fill="#7cc6f5"/>
<text x="225.90" y="332.80" font-size="5.4" fill="#1a1a1a" stroke="#1a1a1a" stroke-width="0.04">Limbic</text>
<rect x="245.0" y="323.1" width="15.6" height="15.5" fill="#fdecd0"/>
<line x1="246.5" y1="330.8" x2="259.1" y2="330.8" stroke="#f8c86c" stroke-width="1.1"/>
<circle cx="252.8" cy="330.8" r="0.9" fill="#f8c86c"/>
<text x="263.90" y="332.80" font-size="5.4" fill="#1a1a1a" stroke="#1a1a1a" stroke-width="0.04">Non−limbic</text>
<rect x="294.2" y="323.1" width="15.6" height="15.5" fill="#f9d2d4"/>
<line x1="295.7" y1="330.8" x2="308.3" y2="330.8" stroke="#ef7a7e" stroke-width="1.1"/>
<circle cx="302.0" cy="330.8" r="0.9" fill="#ef7a7e"/>
<text x="312.60" y="332.80" font-size="5.4" fill="#1a1a1a" stroke="#1a1a1a" stroke-width="0.04">Whole Brain</text>
<text x="186.00" y="512.80" font-size="6.46" fill="#1a1a1a" stroke="#1a1a1a" stroke-width="0.04">Model</text>
<rect x="207.1" y="502.8" width="15.6" height="15.5" fill="#c8deeb"/>
<line x1="208.6" y1="510.5" x2="221.2" y2="510.5" stroke="#2f7fb5" stroke-width="1.1"/>
<circle cx="214.9" cy="510.5" r="0.9" fill="#2f7fb5"/>
<text x="225.90" y="512.50" font-size="5.4" fill="#1a1a1a" stroke="#1a1a1a" stroke-width="0.04">Limbic</text>
<rect x="245.0" y="502.8" width="15.6" height="15.5" fill="#f6e3c2"/>
<line x1="246.5" y1="510.5" x2="259.1" y2="510.5" stroke="#e2a12c" stroke-width="1.1"/>
<circle cx="252.8" cy="510.5" r="0.9" fill="#e2a12c"/>
<text x="263.90" y="512.50" font-size="5.4" fill="#1a1a1a" stroke="#1a1a1a" stroke-width="0.04">Non−limbic</text>
<rect x="294.2" y="502.8" width="15.6" height="15.5" fill="#e8cccd"/>
<line x1="295.7" y1="510.5" x2="308.3" y2="510.5" stroke="#a33038" stroke-width="1.1"/>
<circle cx="302.0" cy="510.5" r="0.9" fill="#a33038"/>
<text x="312.60" y="512.50" font-size="5.4" fill="#1a1a1a" stroke="#1a1a1a" stroke-width="0.04">Whole Brain</text>
<text x="88.50" y="554.50" font-size="6.45" font-weight="bold" text-anchor="middle" fill="#000" stroke="#000" stroke-width="0.08">QTAB − Females</text>
<rect x="49.65" y="562.65" width="23.9" height="23.9" fill="#af2527" stroke="#333" stroke-width="1.35"/>
<text x="61.60" y="576.95" font-size="6.6" text-anchor="middle" fill="#fff" stroke="#fff" stroke-width="0.04">18.402</text>
<rect x="76.55" y="562.65" width="23.9" height="23.9" fill="#f0b5a3" stroke="#333" stroke-width="1.35" stroke-dasharray="3.2 1.9"/>
<text x="88.50" y="576.95" font-size="6.6" text-anchor="middle" fill="#1a1a1a" stroke="#1a1a1a" stroke-width="0.04">4.304</text>
<rect x="103.55" y="562.65" width="23.9" height="23.9" fill="#af2527" stroke="#333" stroke-width="1.35"/>
<text x="115.50" y="576.95" font-size="6.6" text-anchor="middle" fill="#fff" stroke="#fff" stroke-width="0.04">18.4</text>
<rect x="49.0" y="588.9" width="25.2" height="25.2" fill="#fbd9cb"/>
<text x="61.60" y="603.85" font-size="6.6" text-anchor="middle" fill="#1a1a1a" stroke="#1a1a1a" stroke-width="0.04">0.731</text>
<rect x="75.9" y="588.9" width="25.2" height="25.2" fill="#f4c4b3"/>
<text x="88.50" y="603.85" font-size="6.6" text-anchor="middle" fill="#1a1a1a" stroke="#1a1a1a" stroke-width="0.04">2.85</text>
<rect x="102.9" y="588.9" width="25.2" height="25.2" fill="#f9d2c3"/>
<text x="115.50" y="603.85" font-size="6.6" text-anchor="middle" fill="#1a1a1a" stroke="#1a1a1a" stroke-width="0.04">1.429</text>
<rect x="49.0" y="615.8" width="25.2" height="25.2" fill="#f7ccbc"/>
<text x="61.60" y="630.75" font-size="6.6" text-anchor="middle" fill="#1a1a1a" stroke="#1a1a1a" stroke-width="0.04">2.045</text>
<rect x="75.9" y="615.8" width="25.2" height="25.2" fill="#fcdccf"/>
<text x="88.50" y="630.75" font-size="6.6" text-anchor="middle" fill="#1a1a1a" stroke="#1a1a1a" stroke-width="0.04">0.402</text>
<rect x="102.9" y="615.8" width="25.2" height="25.2" fill="#f9d4c6"/>
<text x="115.50" y="630.75" font-size="6.6" text-anchor="middle" fill="#1a1a1a" stroke="#1a1a1a" stroke-width="0.04">1.195</text>
<text x="42.70" y="576.60" font-size="5.4" text-anchor="end" fill="#1a1a1a" stroke="#1a1a1a" stroke-width="0.04">Age</text>
<text x="42.70" y="603.50" font-size="5.4" text-anchor="end" fill="#1a1a1a" stroke="#1a1a1a" stroke-width="0.04">Session</text>
<text x="42.70" y="624.60" font-size="5.4" text-anchor="end" fill="#1a1a1a" stroke="#1a1a1a" stroke-width="0.04">Interaction</text>
<text x="42.70" y="630.60" font-size="5.4" text-anchor="end" fill="#1a1a1a" stroke="#1a1a1a" stroke-width="0.04">Age:</text>
<text x="42.70" y="636.60" font-size="5.4" text-anchor="end" fill="#1a1a1a" stroke="#1a1a1a" stroke-width="0.04">Session</text>
<text x="61.60" y="651.50" font-size="5.4" text-anchor="middle" fill="#1a1a1a" stroke="#1a1a1a" stroke-width="0.04">Limbic</text>
<text x="61.60" y="657.45" font-size="5.4" text-anchor="middle" fill="#1a1a1a" stroke="#1a1a1a" stroke-width="0.04">Model</text>
<text x="88.50" y="651.50" font-size="5.4" text-anchor="middle" fill="#1a1a1a" stroke="#1a1a1a" stroke-width="0.04">Non−</text>
<text x="88.50" y="657.45" font-size="5.4" text-anchor="middle" fill="#1a1a1a" stroke="#1a1a1a" stroke-width="0.04">Limbic</text>
<text x="88.50" y="663.40" font-size="5.4" text-anchor="middle" fill="#1a1a1a" stroke="#1a1a1a" stroke-width="0.04">Model</text>
<text x="115.50" y="651.50" font-size="5.4" text-anchor="middle" fill="#1a1a1a" stroke="#1a1a1a" stroke-width="0.04">Whole</text>
<text x="115.50" y="657.45" font-size="5.4" text-anchor="middle" fill="#1a1a1a" stroke="#1a1a1a" stroke-width="0.04">Brain</text>
<text x="115.50" y="663.40" font-size="5.4" text-anchor="middle" fill="#1a1a1a" stroke="#1a1a1a" stroke-width="0.04">Model</text>
<text x="213.30" y="554.50" font-size="6.45" font-weight="bold" text-anchor="middle" fill="#000" stroke="#000" stroke-width="0.08">QTAB − Males</text>
<rect x="173.8" y="562.0" width="25.2" height="25.2" fill="#fdded2"/>
<text x="186.40" y="576.95" font-size="6.6" text-anchor="middle" fill="#1a1a1a" stroke="#1a1a1a" stroke-width="0.04">0.164</text>
<rect x="201.35" y="562.65" width="23.9" height="23.9" fill="#f1b9a6" stroke="#333" stroke-width="1.35" stroke-dasharray="3.2 1.9"/>
<text x="213.30" y="576.95" font-size="6.6" text-anchor="middle" fill="#1a1a1a" stroke="#1a1a1a" stroke-width="0.04">3.94</text>
<rect x="227.7" y="562.0" width="25.2" height="25.2" fill="#f9d4c6"/>
<text x="240.30" y="576.95" font-size="6.6" text-anchor="middle" fill="#1a1a1a" stroke="#1a1a1a" stroke-width="0.04">1.197</text>
<rect x="173.8" y="588.9" width="25.2" height="25.2" fill="#f5c6b5"/>
<text x="186.40" y="603.85" font-size="6.6" text-anchor="middle" fill="#1a1a1a" stroke="#1a1a1a" stroke-width="0.04">2.63</text>
<rect x="200.7" y="588.9" width="25.2" height="25.2" fill="#f9d2c3"/>
<text x="213.30" y="603.85" font-size="6.6" text-anchor="middle" fill="#1a1a1a" stroke="#1a1a1a" stroke-width="0.04">1.428</text>
<rect x="227.7" y="588.9" width="25.2" height="25.2" fill="#fcded1"/>
<text x="240.30" y="603.85" font-size="6.6" text-anchor="middle" fill="#1a1a1a" stroke="#1a1a1a" stroke-width="0.04">0.239</text>
<rect x="173.8" y="615.8" width="25.2" height="25.2" fill="#f3bead"/>
<text x="186.40" y="630.75" font-size="6.6" text-anchor="middle" fill="#1a1a1a" stroke="#1a1a1a" stroke-width="0.04">3.355</text>
<rect x="200.7" y="615.8" width="25.2" height="25.2" fill="#f9d4c5"/>
<text x="213.30" y="630.75" font-size="6.6" text-anchor="middle" fill="#1a1a1a" stroke="#1a1a1a" stroke-width="0.04">1.246</text>
<rect x="227.7" y="615.8" width="25.2" height="25.2" fill="#f5c4b3"/>
<text x="240.30" y="630.75" font-size="6.6" text-anchor="middle" fill="#1a1a1a" stroke="#1a1a1a" stroke-width="0.04">2.794</text>
<text x="167.50" y="576.60" font-size="5.4" text-anchor="end" fill="#1a1a1a" stroke="#1a1a1a" stroke-width="0.04">Age</text>
<text x="167.50" y="603.50" font-size="5.4" text-anchor="end" fill="#1a1a1a" stroke="#1a1a1a" stroke-width="0.04">Session</text>
<text x="167.50" y="624.60" font-size="5.4" text-anchor="end" fill="#1a1a1a" stroke="#1a1a1a" stroke-width="0.04">Interaction</text>
<text x="167.50" y="630.60" font-size="5.4" text-anchor="end" fill="#1a1a1a" stroke="#1a1a1a" stroke-width="0.04">Age:</text>
<text x="167.50" y="636.60" font-size="5.4" text-anchor="end" fill="#1a1a1a" stroke="#1a1a1a" stroke-width="0.04">Session</text>
<text x="186.40" y="651.50" font-size="5.4" text-anchor="middle" fill="#1a1a1a" stroke="#1a1a1a" stroke-width="0.04">Limbic</text>
<text x="186.40" y="657.45" font-size="5.4" text-anchor="middle" fill="#1a1a1a" stroke="#1a1a1a" stroke-width="0.04">Model</text>
<text x="213.30" y="651.50" font-size="5.4" text-anchor="middle" fill="#1a1a1a" stroke="#1a1a1a" stroke-width="0.04">Non−</text>
<text x="213.30" y="657.45" font-size="5.4" text-anchor="middle" fill="#1a1a1a" stroke="#1a1a1a" stroke-width="0.04">Limbic</text>
<text x="213.30" y="663.40" font-size="5.4" text-anchor="middle" fill="#1a1a1a" stroke="#1a1a1a" stroke-width="0.04">Model</text>
<text x="240.30" y="651.50" font-size="5.4" text-anchor="middle" fill="#1a1a1a" stroke="#1a1a1a" stroke-width="0.04">Whole</text>
<text x="240.30" y="657.45" font-size="5.4" text-anchor="middle" fill="#1a1a1a" stroke="#1a1a1a" stroke-width="0.04">Brain</text>
<text x="240.30" y="663.40" font-size="5.4" text-anchor="middle" fill="#1a1a1a" stroke="#1a1a1a" stroke-width="0.04">Model</text>
<text x="337.90" y="554.50" font-size="6.45" font-weight="bold" text-anchor="middle" fill="#000" stroke="#000" stroke-width="0.08">ABCD − Females</text>
<rect x="299.05" y="562.65" width="23.9" height="23.9" fill="#a6151c" stroke="#333" stroke-width="1.35"/>
<text x="311.00" y="576.95" font-size="6.6" text-anchor="middle" fill="#fff" stroke="#fff" stroke-width="0.04">103.553</text>
<rect x="325.95" y="562.65" width="23.9" height="23.9" fill="#e9a391" stroke="#333" stroke-width="1.35"/>
<text x="337.90" y="576.95" font-size="6.6" text-anchor="middle" fill="#fff" stroke="#fff" stroke-width="0.04">33.864</text>
<rect x="352.95" y="562.65" width="23.9" height="23.9" fill="#cf5e51" stroke="#333" stroke-width="1.35"/>
<text x="364.90" y="576.95" font-size="6.6" text-anchor="middle" fill="#fff" stroke="#fff" stroke-width="0.04">68.629</text>
<rect x="298.4" y="588.9" width="25.2" height="25.2" fill="#fcddd0"/>
<text x="311.00" y="603.85" font-size="6.6" text-anchor="middle" fill="#1a1a1a" stroke="#1a1a1a" stroke-width="0.04">1.756</text>
<rect x="325.3" y="588.9" width="25.2" height="25.2" fill="#fde0d4"/>
<text x="337.90" y="603.85" font-size="6.6" text-anchor="middle" fill="#1a1a1a" stroke="#1a1a1a" stroke-width="0.04">0.187</text>
<rect x="352.3" y="588.9" width="25.2" height="25.2" fill="#fddfd2"/>
<text x="364.90" y="603.85" font-size="6.6" text-anchor="middle" fill="#1a1a1a" stroke="#1a1a1a" stroke-width="0.04">0.674</text>
<rect x="298.4" y="615.8" width="25.2" height="25.2" fill="#fde0d4"/>
<text x="311.00" y="630.75" font-size="6.6" text-anchor="middle" fill="#1a1a1a" stroke="#1a1a1a" stroke-width="0.04">0.062</text>
<rect x="325.3" y="615.8" width="25.2" height="25.2" fill="#fcddd0"/>
<text x="337.90" y="630.75" font-size="6.6" text-anchor="middle" fill="#1a1a1a" stroke="#1a1a1a" stroke-width="0.04">1.707</text>
<rect x="352.3" y="615.8" width="25.2" height="25.2" fill="#fde0d4"/>
<text x="364.90" y="630.75" font-size="6.6" text-anchor="middle" fill="#1a1a1a" stroke="#1a1a1a" stroke-width="0.04">0.191</text>
<text x="292.10" y="576.60" font-size="5.4" text-anchor="end" fill="#1a1a1a" stroke="#1a1a1a" stroke-width="0.04">Age</text>
<text x="292.10" y="603.50" font-size="5.4" text-anchor="end" fill="#1a1a1a" stroke="#1a1a1a" stroke-width="0.04">Session</text>
<text x="292.10" y="624.60" font-size="5.4" text-anchor="end" fill="#1a1a1a" stroke="#1a1a1a" stroke-width="0.04">Interaction</text>
<text x="292.10" y="630.60" font-size="5.4" text-anchor="end" fill="#1a1a1a" stroke="#1a1a1a" stroke-width="0.04">Age:</text>
<text x="292.10" y="636.60" font-size="5.4" text-anchor="end" fill="#1a1a1a" stroke="#1a1a1a" stroke-width="0.04">Session</text>
<text x="311.00" y="651.50" font-size="5.4" text-anchor="middle" fill="#1a1a1a" stroke="#1a1a1a" stroke-width="0.04">Limbic</text>
<text x="311.00" y="657.45" font-size="5.4" text-anchor="middle" fill="#1a1a1a" stroke="#1a1a1a" stroke-width="0.04">Model</text>
<text x="337.90" y="651.50" font-size="5.4" text-anchor="middle" fill="#1a1a1a" stroke="#1a1a1a" stroke-width="0.04">Non−</text>
<text x="337.90" y="657.45" font-size="5.4" text-anchor="middle" fill="#1a1a1a" stroke="#1a1a1a" stroke-width="0.04">Limbic</text>
<text x="337.90" y="663.40" font-size="5.4" text-anchor="middle" fill="#1a1a1a" stroke="#1a1a1a" stroke-width="0.04">Model</text>
<text x="364.90" y="651.50" font-size="5.4" text-anchor="middle" fill="#1a1a1a" stroke="#1a1a1a" stroke-width="0.04">Whole</text>
<text x="364.90" y="657.45" font-size="5.4" text-anchor="middle" fill="#1a1a1a" stroke="#1a1a1a" stroke-width="0.04">Brain</text>
<text x="364.90" y="663.40" font-size="5.4" text-anchor="middle" fill="#1a1a1a" stroke="#1a1a1a" stroke-width="0.04">Model</text>
<text x="462.30" y="554.50" font-size="6.45" font-weight="bold" text-anchor="middle" fill="#000" stroke="#000" stroke-width="0.08">ABCD − Males</text>
<rect x="423.45" y="562.65" width="23.9" height="23.9" fill="#f0b5a3" stroke="#333" stroke-width="1.35"/>
<text x="435.40" y="576.95" font-size="6.6" text-anchor="middle" fill="#1a1a1a" stroke="#1a1a1a" stroke-width="0.04">22.404</text>
<rect x="450.35" y="562.65" width="23.9" height="23.9" fill="#f9d4c6" stroke="#333" stroke-width="1.35"/>
<text x="462.30" y="576.95" font-size="6.6" text-anchor="middle" fill="#1a1a1a" stroke="#1a1a1a" stroke-width="0.04">6.3</text>
<rect x="477.35" y="562.65" width="23.9" height="23.9" fill="#f8cebf" stroke="#333" stroke-width="1.35"/>
<text x="489.30" y="576.95" font-size="6.6" text-anchor="middle" fill="#1a1a1a" stroke="#1a1a1a" stroke-width="0.04">9.181</text>
<rect x="422.8" y="588.9" width="25.2" height="25.2" fill="#fde0d4"/>
<text x="435.40" y="603.85" font-size="6.6" text-anchor="middle" fill="#1a1a1a" stroke="#1a1a1a" stroke-width="0.04">0.038</text>
<rect x="449.7" y="588.9" width="25.2" height="25.2" fill="#fddfd3"/>
<text x="462.30" y="603.85" font-size="6.6" text-anchor="middle" fill="#1a1a1a" stroke="#1a1a1a" stroke-width="0.04">0.642</text>
<rect x="476.7" y="588.9" width="25.2" height="25.2" fill="#fde0d4"/>
<text x="489.30" y="603.85" font-size="6.6" text-anchor="middle" fill="#1a1a1a" stroke="#1a1a1a" stroke-width="0.04">0.212</text>
<rect x="423.45" y="616.45" width="23.9" height="23.9" fill="#f2bdaa" stroke="#333" stroke-width="1.35"/>
<text x="435.40" y="630.75" font-size="6.6" text-anchor="middle" fill="#1a1a1a" stroke="#1a1a1a" stroke-width="0.04">18.391</text>
<rect x="450.35" y="616.45" width="23.9" height="23.9" fill="#f0b5a2" stroke="#333" stroke-width="1.35"/>
<text x="462.30" y="630.75" font-size="6.6" text-anchor="middle" fill="#1a1a1a" stroke="#1a1a1a" stroke-width="0.04">22.832</text>
<rect x="477.35" y="616.45" width="23.9" height="23.9" fill="#f1b7a4" stroke="#333" stroke-width="1.35"/>
<text x="489.30" y="630.75" font-size="6.6" text-anchor="middle" fill="#1a1a1a" stroke="#1a1a1a" stroke-width="0.04">21.481</text>
<text x="416.50" y="576.60" font-size="5.4" text-anchor="end" fill="#1a1a1a" stroke="#1a1a1a" stroke-width="0.04">Age</text>
<text x="416.50" y="603.50" font-size="5.4" text-anchor="end" fill="#1a1a1a" stroke="#1a1a1a" stroke-width="0.04">Session</text>
<text x="416.50" y="624.60" font-size="5.4" text-anchor="end" fill="#1a1a1a" stroke="#1a1a1a" stroke-width="0.04">Interaction</text>
<text x="416.50" y="630.60" font-size="5.4" text-anchor="end" fill="#1a1a1a" stroke="#1a1a1a" stroke-width="0.04">Age:</text>
<text x="416.50" y="636.60" font-size="5.4" text-anchor="end" fill="#1a1a1a" stroke="#1a1a1a" stroke-width="0.04">Session</text>
<text x="435.40" y="651.50" font-size="5.4" text-anchor="middle" fill="#1a1a1a" stroke="#1a1a1a" stroke-width="0.04">Limbic</text>
<text x="435.40" y="657.45" font-size="5.4" text-anchor="middle" fill="#1a1a1a" stroke="#1a1a1a" stroke-width="0.04">Model</text>
<text x="462.30" y="651.50" font-size="5.4" text-anchor="middle" fill="#1a1a1a" stroke="#1a1a1a" stroke-width="0.04">Non−</text>
<text x="462.30" y="657.45" font-size="5.4" text-anchor="middle" fill="#1a1a1a" stroke="#1a1a1a" stroke-width="0.04">Limbic</text>
<text x="462.30" y="663.40" font-size="5.4" text-anchor="middle" fill="#1a1a1a" stroke="#1a1a1a" stroke-width="0.04">Model</text>
<text x="489.30" y="651.50" font-size="5.4" text-anchor="middle" fill="#1a1a1a" stroke="#1a1a1a" stroke-width="0.04">Whole</text>
<text x="489.30" y="657.45" font-size="5.4" text-anchor="middle" fill="#1a1a1a" stroke="#1a1a1a" stroke-width="0.04">Brain</text>
<text x="489.30" y="663.40" font-size="5.4" text-anchor="middle" fill="#1a1a1a" stroke="#1a1a1a" stroke-width="0.04">Model</text>
<text x="134.70" y="680.80" font-size="6.5" fill="#1a1a1a" stroke="#1a1a1a" stroke-width="0.04">F−value</text>
<defs><linearGradient id="g0" x1="0" x2="1"><stop offset="0" stop-color="#fde0d4"/><stop offset="0.25" stop-color="#eeb09d"/><stop offset="0.5" stop-color="#dd8372"/><stop offset="0.75" stop-color="#c54a40"/><stop offset="1" stop-color="#a5141b"/></linearGradient></defs>
<rect x="161.4" y="671.7" width="30.6" height="5.8" fill="url(#g0)"/>
<text x="161.40" y="684.80" font-size="5.2" text-anchor="middle" fill="#333" stroke="#333" stroke-width="0.04">0</text>
<text x="169.05" y="684.80" font-size="5.2" text-anchor="middle" fill="#333" stroke="#333" stroke-width="0.04">5</text>
<text x="176.70" y="684.80" font-size="5.2" text-anchor="middle" fill="#333" stroke="#333" stroke-width="0.04">10</text>
<text x="184.35" y="684.80" font-size="5.2" text-anchor="middle" fill="#333" stroke="#333" stroke-width="0.04">15</text>
<text x="192.00" y="684.80" font-size="5.2" text-anchor="middle" fill="#333" stroke="#333" stroke-width="0.04">20</text>
<text x="384.50" y="680.80" font-size="6.5" fill="#1a1a1a" stroke="#1a1a1a" stroke-width="0.04">F−value</text>
<defs><linearGradient id="g249" x1="0" x2="1"><stop offset="0" stop-color="#fde0d4"/><stop offset="0.25" stop-color="#eeb09d"/><stop offset="0.5" stop-color="#dd8372"/><stop offset="0.75" stop-color="#c54a40"/><stop offset="1" stop-color="#a5141b"/></linearGradient></defs>
<rect x="411.20000000000005" y="671.7" width="30.6" height="5.8" fill="url(#g249)"/>
<text x="411.20" y="684.80" font-size="5.2" text-anchor="middle" fill="#333" stroke="#333" stroke-width="0.04">0</text>
<text x="418.85" y="684.80" font-size="5.2" text-anchor="middle" fill="#333" stroke="#333" stroke-width="0.04">25</text>
<text x="426.50" y="684.80" font-size="5.2" text-anchor="middle" fill="#333" stroke="#333" stroke-width="0.04">50</text>
<text x="434.15" y="684.80" font-size="5.2" text-anchor="middle" fill="#333" stroke="#333" stroke-width="0.04">75</text>
<text x="440.88" y="684.80" font-size="5.2" text-anchor="middle" fill="#333" stroke="#333" stroke-width="0.04">100</text>
</svg></div></body></html>
